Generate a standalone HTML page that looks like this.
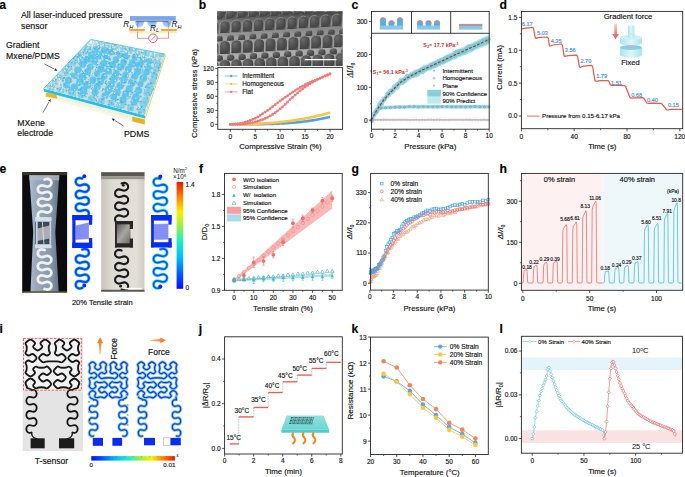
<!DOCTYPE html><html><head><meta charset="utf-8"><style>html,body{margin:0;padding:0;background:#fff;overflow:hidden}svg{display:block}text{font-family:"Liberation Sans",sans-serif;stroke-width:0.15px}</style></head><body>
<svg width="685" height="477" viewBox="0 0 685 477">
<rect width="685" height="477" fill="#fff"/>
<text x="-0.8" y="9" font-size="12.2" text-anchor="start" fill="#000" stroke="#000" font-weight="bold" >a</text>
<text x="198.8" y="9" font-size="12.2" text-anchor="start" fill="#000" stroke="#000" font-weight="bold" >b</text>
<text x="351.5" y="9.2" font-size="12.2" text-anchor="start" fill="#000" stroke="#000" font-weight="bold" >c</text>
<text x="499.6" y="9.2" font-size="12.2" text-anchor="start" fill="#000" stroke="#000" font-weight="bold" >d</text>
<text x="-0.6" y="173" font-size="12.2" text-anchor="start" fill="#000" stroke="#000" font-weight="bold" >e</text>
<text x="199.1" y="173" font-size="12.2" text-anchor="start" fill="#000" stroke="#000" font-weight="bold" >f</text>
<text x="351.5" y="172.6" font-size="12.2" text-anchor="start" fill="#000" stroke="#000" font-weight="bold" >g</text>
<text x="499.6" y="172.6" font-size="12.2" text-anchor="start" fill="#000" stroke="#000" font-weight="bold" >h</text>
<text x="-0.6" y="333" font-size="12.2" text-anchor="start" fill="#000" stroke="#000" font-weight="bold" >i</text>
<text x="198.8" y="333.2" font-size="12.2" text-anchor="start" fill="#000" stroke="#000" font-weight="bold" >j</text>
<text x="351.5" y="333.2" font-size="12.2" text-anchor="start" fill="#000" stroke="#000" font-weight="bold" >k</text>
<text x="499.6" y="333" font-size="12.2" text-anchor="start" fill="#000" stroke="#000" font-weight="bold" >l</text>
<defs><linearGradient id="semBg" x1="0" y1="0" x2="0" y2="1"><stop offset="0" stop-color="#404040"/><stop offset="0.2" stop-color="#7a7a7a"/><stop offset="0.55" stop-color="#a4a4a4"/><stop offset="1" stop-color="#b4b4b4"/></linearGradient><radialGradient id="domeG" cx="0.35" cy="0.3" r="0.8"><stop offset="0" stop-color="#6a6a6a"/><stop offset="0.5" stop-color="#505050"/><stop offset="0.85" stop-color="#444444"/><stop offset="1" stop-color="#5a5a5a"/></radialGradient><clipPath id="semClip"><rect x="217.2" y="11.4" width="125.4" height="54.5"/></clipPath></defs>
<rect x="217.2" y="11.4" width="125.4" height="54.5" fill="url(#semBg)"/>
<g clip-path="url(#semClip)">
<path d="M203.6,20.05 L203.6,15.23 A4.4,4.18 0 0 1 212.4,15.23 L212.4,20.05 Z" fill="url(#domeG)"/>
<path d="M203.6,19.05 L203.6,15.23 A4.4,4.18 0 0 1 210.64,12.1" fill="none" stroke="#b0b0b0" stroke-width="0.55"/>
<path d="M214.8,19.38 L214.8,14.56 A4.4,4.18 0 0 1 223.6,14.56 L223.6,19.38 Z" fill="url(#domeG)"/>
<path d="M214.8,18.38 L214.8,14.56 A4.4,4.18 0 0 1 221.84,11.42" fill="none" stroke="#b0b0b0" stroke-width="0.55"/>
<path d="M226,18.71 L226,13.89 A4.4,4.18 0 0 1 234.8,13.89 L234.8,18.71 Z" fill="url(#domeG)"/>
<path d="M226,17.71 L226,13.89 A4.4,4.18 0 0 1 233.04,10.75" fill="none" stroke="#b0b0b0" stroke-width="0.55"/>
<path d="M237.2,18.04 L237.2,13.22 A4.4,4.18 0 0 1 246,13.22 L246,18.04 Z" fill="url(#domeG)"/>
<path d="M237.2,17.04 L237.2,13.22 A4.4,4.18 0 0 1 244.24,10.08" fill="none" stroke="#b0b0b0" stroke-width="0.55"/>
<path d="M248.4,17.36 L248.4,12.54 A4.4,4.18 0 0 1 257.2,12.54 L257.2,17.36 Z" fill="url(#domeG)"/>
<path d="M248.4,16.36 L248.4,12.54 A4.4,4.18 0 0 1 255.44,9.41" fill="none" stroke="#b0b0b0" stroke-width="0.55"/>
<path d="M259.6,16.69 L259.6,11.87 A4.4,4.18 0 0 1 268.4,11.87 L268.4,16.69 Z" fill="url(#domeG)"/>
<path d="M259.6,15.69 L259.6,11.87 A4.4,4.18 0 0 1 266.64,8.74" fill="none" stroke="#b0b0b0" stroke-width="0.55"/>
<path d="M270.8,16.02 L270.8,11.2 A4.4,4.18 0 0 1 279.6,11.2 L279.6,16.02 Z" fill="url(#domeG)"/>
<path d="M270.8,15.02 L270.8,11.2 A4.4,4.18 0 0 1 277.84,8.07" fill="none" stroke="#b0b0b0" stroke-width="0.55"/>
<path d="M282,15.35 L282,10.53 A4.4,4.18 0 0 1 290.8,10.53 L290.8,15.35 Z" fill="url(#domeG)"/>
<path d="M282,14.35 L282,10.53 A4.4,4.18 0 0 1 289.04,7.39" fill="none" stroke="#b0b0b0" stroke-width="0.55"/>
<path d="M293.2,14.68 L293.2,9.86 A4.4,4.18 0 0 1 302,9.86 L302,14.68 Z" fill="url(#domeG)"/>
<path d="M293.2,13.68 L293.2,9.86 A4.4,4.18 0 0 1 300.24,6.72" fill="none" stroke="#b0b0b0" stroke-width="0.55"/>
<path d="M304.4,14 L304.4,9.18 A4.4,4.18 0 0 1 313.2,9.18 L313.2,14 Z" fill="url(#domeG)"/>
<path d="M304.4,13 L304.4,9.18 A4.4,4.18 0 0 1 311.44,6.05" fill="none" stroke="#b0b0b0" stroke-width="0.55"/>
<path d="M315.6,13.33 L315.6,8.51 A4.4,4.18 0 0 1 324.4,8.51 L324.4,13.33 Z" fill="url(#domeG)"/>
<path d="M315.6,12.33 L315.6,8.51 A4.4,4.18 0 0 1 322.64,5.38" fill="none" stroke="#b0b0b0" stroke-width="0.55"/>
<path d="M326.8,12.66 L326.8,7.84 A4.4,4.18 0 0 1 335.6,7.84 L335.6,12.66 Z" fill="url(#domeG)"/>
<path d="M326.8,11.66 L326.8,7.84 A4.4,4.18 0 0 1 333.84,4.71" fill="none" stroke="#b0b0b0" stroke-width="0.55"/>
<path d="M338,11.99 L338,7.17 A4.4,4.18 0 0 1 346.8,7.17 L346.8,11.99 Z" fill="url(#domeG)"/>
<path d="M338,10.99 L338,7.17 A4.4,4.18 0 0 1 345.04,4.03" fill="none" stroke="#b0b0b0" stroke-width="0.55"/>
<path d="M208.8,33.72 L208.8,25.78 A4.8,4.56 0 0 1 218.4,25.78 L218.4,33.72 Z" fill="url(#domeG)"/>
<path d="M208.8,32.72 L208.8,25.78 A4.8,4.56 0 0 1 216.48,22.36" fill="none" stroke="#b0b0b0" stroke-width="0.55"/>
<path d="M220,33.04 L220,25.1 A4.8,4.56 0 0 1 229.6,25.1 L229.6,33.04 Z" fill="url(#domeG)"/>
<path d="M220,32.04 L220,25.1 A4.8,4.56 0 0 1 227.68,21.68" fill="none" stroke="#b0b0b0" stroke-width="0.55"/>
<path d="M231.2,32.37 L231.2,24.43 A4.8,4.56 0 0 1 240.8,24.43 L240.8,32.37 Z" fill="url(#domeG)"/>
<path d="M231.2,31.37 L231.2,24.43 A4.8,4.56 0 0 1 238.88,21.01" fill="none" stroke="#b0b0b0" stroke-width="0.55"/>
<path d="M242.4,31.7 L242.4,23.76 A4.8,4.56 0 0 1 252,23.76 L252,31.7 Z" fill="url(#domeG)"/>
<path d="M242.4,30.7 L242.4,23.76 A4.8,4.56 0 0 1 250.08,20.34" fill="none" stroke="#b0b0b0" stroke-width="0.55"/>
<path d="M253.6,31.03 L253.6,23.09 A4.8,4.56 0 0 1 263.2,23.09 L263.2,31.03 Z" fill="url(#domeG)"/>
<path d="M253.6,30.03 L253.6,23.09 A4.8,4.56 0 0 1 261.28,19.67" fill="none" stroke="#b0b0b0" stroke-width="0.55"/>
<path d="M264.8,30.36 L264.8,22.42 A4.8,4.56 0 0 1 274.4,22.42 L274.4,30.36 Z" fill="url(#domeG)"/>
<path d="M264.8,29.36 L264.8,22.42 A4.8,4.56 0 0 1 272.48,19" fill="none" stroke="#b0b0b0" stroke-width="0.55"/>
<path d="M276,29.68 L276,21.74 A4.8,4.56 0 0 1 285.6,21.74 L285.6,29.68 Z" fill="url(#domeG)"/>
<path d="M276,28.68 L276,21.74 A4.8,4.56 0 0 1 283.68,18.32" fill="none" stroke="#b0b0b0" stroke-width="0.55"/>
<path d="M287.2,29.01 L287.2,21.07 A4.8,4.56 0 0 1 296.8,21.07 L296.8,29.01 Z" fill="url(#domeG)"/>
<path d="M287.2,28.01 L287.2,21.07 A4.8,4.56 0 0 1 294.88,17.65" fill="none" stroke="#b0b0b0" stroke-width="0.55"/>
<path d="M298.4,28.34 L298.4,20.4 A4.8,4.56 0 0 1 308,20.4 L308,28.34 Z" fill="url(#domeG)"/>
<path d="M298.4,27.34 L298.4,20.4 A4.8,4.56 0 0 1 306.08,16.98" fill="none" stroke="#b0b0b0" stroke-width="0.55"/>
<path d="M309.6,27.67 L309.6,19.73 A4.8,4.56 0 0 1 319.2,19.73 L319.2,27.67 Z" fill="url(#domeG)"/>
<path d="M309.6,26.67 L309.6,19.73 A4.8,4.56 0 0 1 317.28,16.31" fill="none" stroke="#b0b0b0" stroke-width="0.55"/>
<path d="M320.8,27 L320.8,19.06 A4.8,4.56 0 0 1 330.4,19.06 L330.4,27 Z" fill="url(#domeG)"/>
<path d="M320.8,26 L320.8,19.06 A4.8,4.56 0 0 1 328.48,15.64" fill="none" stroke="#b0b0b0" stroke-width="0.55"/>
<path d="M332,26.32 L332,18.38 A4.8,4.56 0 0 1 341.6,18.38 L341.6,26.32 Z" fill="url(#domeG)"/>
<path d="M332,25.32 L332,18.38 A4.8,4.56 0 0 1 339.68,14.96" fill="none" stroke="#b0b0b0" stroke-width="0.55"/>
<path d="M343.2,25.65 L343.2,17.71 A4.8,4.56 0 0 1 352.8,17.71 L352.8,25.65 Z" fill="url(#domeG)"/>
<path d="M343.2,24.65 L343.2,17.71 A4.8,4.56 0 0 1 350.88,14.29" fill="none" stroke="#b0b0b0" stroke-width="0.55"/>
<path d="M204.4,42.05 L204.4,39.47 A3.6,3.42 0 0 1 211.6,39.47 L211.6,42.05 Z" fill="url(#domeG)"/>
<path d="M204.4,41.05 L204.4,39.47 A3.6,3.42 0 0 1 210.16,36.91" fill="none" stroke="#b0b0b0" stroke-width="0.55"/>
<path d="M215.6,41.38 L215.6,38.8 A3.6,3.42 0 0 1 222.8,38.8 L222.8,41.38 Z" fill="url(#domeG)"/>
<path d="M215.6,40.38 L215.6,38.8 A3.6,3.42 0 0 1 221.36,36.23" fill="none" stroke="#b0b0b0" stroke-width="0.55"/>
<path d="M226.8,40.71 L226.8,38.13 A3.6,3.42 0 0 1 234,38.13 L234,40.71 Z" fill="url(#domeG)"/>
<path d="M226.8,39.71 L226.8,38.13 A3.6,3.42 0 0 1 232.56,35.56" fill="none" stroke="#b0b0b0" stroke-width="0.55"/>
<path d="M238,40.04 L238,37.46 A3.6,3.42 0 0 1 245.2,37.46 L245.2,40.04 Z" fill="url(#domeG)"/>
<path d="M238,39.04 L238,37.46 A3.6,3.42 0 0 1 243.76,34.89" fill="none" stroke="#b0b0b0" stroke-width="0.55"/>
<path d="M249.2,39.36 L249.2,36.78 A3.6,3.42 0 0 1 256.4,36.78 L256.4,39.36 Z" fill="url(#domeG)"/>
<path d="M249.2,38.36 L249.2,36.78 A3.6,3.42 0 0 1 254.96,34.22" fill="none" stroke="#b0b0b0" stroke-width="0.55"/>
<path d="M260.4,38.69 L260.4,36.11 A3.6,3.42 0 0 1 267.6,36.11 L267.6,38.69 Z" fill="url(#domeG)"/>
<path d="M260.4,37.69 L260.4,36.11 A3.6,3.42 0 0 1 266.16,33.55" fill="none" stroke="#b0b0b0" stroke-width="0.55"/>
<path d="M271.6,38.02 L271.6,35.44 A3.6,3.42 0 0 1 278.8,35.44 L278.8,38.02 Z" fill="url(#domeG)"/>
<path d="M271.6,37.02 L271.6,35.44 A3.6,3.42 0 0 1 277.36,32.88" fill="none" stroke="#b0b0b0" stroke-width="0.55"/>
<path d="M282.8,37.35 L282.8,34.77 A3.6,3.42 0 0 1 290,34.77 L290,37.35 Z" fill="url(#domeG)"/>
<path d="M282.8,36.35 L282.8,34.77 A3.6,3.42 0 0 1 288.56,32.2" fill="none" stroke="#b0b0b0" stroke-width="0.55"/>
<path d="M294,36.68 L294,34.1 A3.6,3.42 0 0 1 301.2,34.1 L301.2,36.68 Z" fill="url(#domeG)"/>
<path d="M294,35.68 L294,34.1 A3.6,3.42 0 0 1 299.76,31.53" fill="none" stroke="#b0b0b0" stroke-width="0.55"/>
<path d="M305.2,36 L305.2,33.42 A3.6,3.42 0 0 1 312.4,33.42 L312.4,36 Z" fill="url(#domeG)"/>
<path d="M305.2,35 L305.2,33.42 A3.6,3.42 0 0 1 310.96,30.86" fill="none" stroke="#b0b0b0" stroke-width="0.55"/>
<path d="M316.4,35.33 L316.4,32.75 A3.6,3.42 0 0 1 323.6,32.75 L323.6,35.33 Z" fill="url(#domeG)"/>
<path d="M316.4,34.33 L316.4,32.75 A3.6,3.42 0 0 1 322.16,30.19" fill="none" stroke="#b0b0b0" stroke-width="0.55"/>
<path d="M327.6,34.66 L327.6,32.08 A3.6,3.42 0 0 1 334.8,32.08 L334.8,34.66 Z" fill="url(#domeG)"/>
<path d="M327.6,33.66 L327.6,32.08 A3.6,3.42 0 0 1 333.36,29.52" fill="none" stroke="#b0b0b0" stroke-width="0.55"/>
<path d="M338.8,33.99 L338.8,31.41 A3.6,3.42 0 0 1 346,31.41 L346,33.99 Z" fill="url(#domeG)"/>
<path d="M338.8,32.99 L338.8,31.41 A3.6,3.42 0 0 1 344.56,28.84" fill="none" stroke="#b0b0b0" stroke-width="0.55"/>
<path d="M208.3,54.73 L208.3,46.07 A5.1,4.84 0 0 1 218.5,46.07 L218.5,54.73 Z" fill="url(#domeG)"/>
<path d="M208.3,53.73 L208.3,46.07 A5.1,4.84 0 0 1 216.46,42.44" fill="none" stroke="#b0b0b0" stroke-width="0.55"/>
<path d="M219.7,54.04 L219.7,45.39 A5.1,4.84 0 0 1 229.9,45.39 L229.9,54.04 Z" fill="url(#domeG)"/>
<path d="M219.7,53.04 L219.7,45.39 A5.1,4.84 0 0 1 227.86,41.76" fill="none" stroke="#b0b0b0" stroke-width="0.55"/>
<path d="M231.1,53.36 L231.1,44.7 A5.1,4.84 0 0 1 241.3,44.7 L241.3,53.36 Z" fill="url(#domeG)"/>
<path d="M231.1,52.36 L231.1,44.7 A5.1,4.84 0 0 1 239.26,41.07" fill="none" stroke="#b0b0b0" stroke-width="0.55"/>
<path d="M242.5,52.68 L242.5,44.02 A5.1,4.84 0 0 1 252.7,44.02 L252.7,52.68 Z" fill="url(#domeG)"/>
<path d="M242.5,51.68 L242.5,44.02 A5.1,4.84 0 0 1 250.66,40.39" fill="none" stroke="#b0b0b0" stroke-width="0.55"/>
<path d="M253.9,51.99 L253.9,43.34 A5.1,4.84 0 0 1 264.1,43.34 L264.1,51.99 Z" fill="url(#domeG)"/>
<path d="M253.9,50.99 L253.9,43.34 A5.1,4.84 0 0 1 262.06,39.7" fill="none" stroke="#b0b0b0" stroke-width="0.55"/>
<path d="M265.3,51.31 L265.3,42.65 A5.1,4.84 0 0 1 275.5,42.65 L275.5,51.31 Z" fill="url(#domeG)"/>
<path d="M265.3,50.31 L265.3,42.65 A5.1,4.84 0 0 1 273.46,39.02" fill="none" stroke="#b0b0b0" stroke-width="0.55"/>
<path d="M276.7,50.62 L276.7,41.97 A5.1,4.84 0 0 1 286.9,41.97 L286.9,50.62 Z" fill="url(#domeG)"/>
<path d="M276.7,49.62 L276.7,41.97 A5.1,4.84 0 0 1 284.86,38.34" fill="none" stroke="#b0b0b0" stroke-width="0.55"/>
<path d="M288.1,49.94 L288.1,41.29 A5.1,4.84 0 0 1 298.3,41.29 L298.3,49.94 Z" fill="url(#domeG)"/>
<path d="M288.1,48.94 L288.1,41.29 A5.1,4.84 0 0 1 296.26,37.65" fill="none" stroke="#b0b0b0" stroke-width="0.55"/>
<path d="M299.5,49.26 L299.5,40.6 A5.1,4.84 0 0 1 309.7,40.6 L309.7,49.26 Z" fill="url(#domeG)"/>
<path d="M299.5,48.26 L299.5,40.6 A5.1,4.84 0 0 1 307.66,36.97" fill="none" stroke="#b0b0b0" stroke-width="0.55"/>
<path d="M310.9,48.57 L310.9,39.92 A5.1,4.84 0 0 1 321.1,39.92 L321.1,48.57 Z" fill="url(#domeG)"/>
<path d="M310.9,47.57 L310.9,39.92 A5.1,4.84 0 0 1 319.06,36.28" fill="none" stroke="#b0b0b0" stroke-width="0.55"/>
<path d="M322.3,47.89 L322.3,39.23 A5.1,4.84 0 0 1 332.5,39.23 L332.5,47.89 Z" fill="url(#domeG)"/>
<path d="M322.3,46.89 L322.3,39.23 A5.1,4.84 0 0 1 330.46,35.6" fill="none" stroke="#b0b0b0" stroke-width="0.55"/>
<path d="M333.7,47.2 L333.7,38.55 A5.1,4.84 0 0 1 343.9,38.55 L343.9,47.2 Z" fill="url(#domeG)"/>
<path d="M333.7,46.2 L333.7,38.55 A5.1,4.84 0 0 1 341.86,34.92" fill="none" stroke="#b0b0b0" stroke-width="0.55"/>
<path d="M345.1,46.52 L345.1,37.87 A5.1,4.84 0 0 1 355.3,37.87 L355.3,46.52 Z" fill="url(#domeG)"/>
<path d="M345.1,45.52 L345.1,37.87 A5.1,4.84 0 0 1 353.26,34.23" fill="none" stroke="#b0b0b0" stroke-width="0.55"/>
<path d="M204,62.06 L204,59.17 A3.8,3.61 0 0 1 211.6,59.17 L211.6,62.06 Z" fill="url(#domeG)"/>
<path d="M204,61.06 L204,59.17 A3.8,3.61 0 0 1 210.08,56.47" fill="none" stroke="#b0b0b0" stroke-width="0.55"/>
<path d="M215.4,61.38 L215.4,58.49 A3.8,3.61 0 0 1 223,58.49 L223,61.38 Z" fill="url(#domeG)"/>
<path d="M215.4,60.38 L215.4,58.49 A3.8,3.61 0 0 1 221.48,55.78" fill="none" stroke="#b0b0b0" stroke-width="0.55"/>
<path d="M226.8,60.7 L226.8,57.81 A3.8,3.61 0 0 1 234.4,57.81 L234.4,60.7 Z" fill="url(#domeG)"/>
<path d="M226.8,59.7 L226.8,57.81 A3.8,3.61 0 0 1 232.88,55.1" fill="none" stroke="#b0b0b0" stroke-width="0.55"/>
<path d="M238.2,60.01 L238.2,57.12 A3.8,3.61 0 0 1 245.8,57.12 L245.8,60.01 Z" fill="url(#domeG)"/>
<path d="M238.2,59.01 L238.2,57.12 A3.8,3.61 0 0 1 244.28,54.41" fill="none" stroke="#b0b0b0" stroke-width="0.55"/>
<path d="M249.6,59.33 L249.6,56.44 A3.8,3.61 0 0 1 257.2,56.44 L257.2,59.33 Z" fill="url(#domeG)"/>
<path d="M249.6,58.33 L249.6,56.44 A3.8,3.61 0 0 1 255.68,53.73" fill="none" stroke="#b0b0b0" stroke-width="0.55"/>
<path d="M261,58.64 L261,55.75 A3.8,3.61 0 0 1 268.6,55.75 L268.6,58.64 Z" fill="url(#domeG)"/>
<path d="M261,57.64 L261,55.75 A3.8,3.61 0 0 1 267.08,53.05" fill="none" stroke="#b0b0b0" stroke-width="0.55"/>
<path d="M272.4,57.96 L272.4,55.07 A3.8,3.61 0 0 1 280,55.07 L280,57.96 Z" fill="url(#domeG)"/>
<path d="M272.4,56.96 L272.4,55.07 A3.8,3.61 0 0 1 278.48,52.36" fill="none" stroke="#b0b0b0" stroke-width="0.55"/>
<path d="M283.8,57.28 L283.8,54.39 A3.8,3.61 0 0 1 291.4,54.39 L291.4,57.28 Z" fill="url(#domeG)"/>
<path d="M283.8,56.28 L283.8,54.39 A3.8,3.61 0 0 1 289.88,51.68" fill="none" stroke="#b0b0b0" stroke-width="0.55"/>
<path d="M295.2,56.59 L295.2,53.7 A3.8,3.61 0 0 1 302.8,53.7 L302.8,56.59 Z" fill="url(#domeG)"/>
<path d="M295.2,55.59 L295.2,53.7 A3.8,3.61 0 0 1 301.28,50.99" fill="none" stroke="#b0b0b0" stroke-width="0.55"/>
<path d="M306.6,55.91 L306.6,53.02 A3.8,3.61 0 0 1 314.2,53.02 L314.2,55.91 Z" fill="url(#domeG)"/>
<path d="M306.6,54.91 L306.6,53.02 A3.8,3.61 0 0 1 312.68,50.31" fill="none" stroke="#b0b0b0" stroke-width="0.55"/>
<path d="M318,55.22 L318,52.33 A3.8,3.61 0 0 1 325.6,52.33 L325.6,55.22 Z" fill="url(#domeG)"/>
<path d="M318,54.22 L318,52.33 A3.8,3.61 0 0 1 324.08,49.63" fill="none" stroke="#b0b0b0" stroke-width="0.55"/>
<path d="M329.4,54.54 L329.4,51.65 A3.8,3.61 0 0 1 337,51.65 L337,54.54 Z" fill="url(#domeG)"/>
<path d="M329.4,53.54 L329.4,51.65 A3.8,3.61 0 0 1 335.48,48.94" fill="none" stroke="#b0b0b0" stroke-width="0.55"/>
<path d="M340.8,53.86 L340.8,50.97 A3.8,3.61 0 0 1 348.4,50.97 L348.4,53.86 Z" fill="url(#domeG)"/>
<path d="M340.8,52.86 L340.8,50.97 A3.8,3.61 0 0 1 346.88,48.26" fill="none" stroke="#b0b0b0" stroke-width="0.55"/>
<path d="M207.8,75.24 L207.8,65.37 A5.4,5.13 0 0 1 218.6,65.37 L218.6,75.24 Z" fill="url(#domeG)"/>
<path d="M207.8,74.24 L207.8,65.37 A5.4,5.13 0 0 1 216.44,61.52" fill="none" stroke="#b0b0b0" stroke-width="0.55"/>
<path d="M219.4,74.54 L219.4,64.67 A5.4,5.13 0 0 1 230.2,64.67 L230.2,74.54 Z" fill="url(#domeG)"/>
<path d="M219.4,73.54 L219.4,64.67 A5.4,5.13 0 0 1 228.04,60.83" fill="none" stroke="#b0b0b0" stroke-width="0.55"/>
<path d="M231,73.85 L231,63.98 A5.4,5.13 0 0 1 241.8,63.98 L241.8,73.85 Z" fill="url(#domeG)"/>
<path d="M231,72.85 L231,63.98 A5.4,5.13 0 0 1 239.64,60.13" fill="none" stroke="#b0b0b0" stroke-width="0.55"/>
<path d="M242.6,73.15 L242.6,63.28 A5.4,5.13 0 0 1 253.4,63.28 L253.4,73.15 Z" fill="url(#domeG)"/>
<path d="M242.6,72.15 L242.6,63.28 A5.4,5.13 0 0 1 251.24,59.43" fill="none" stroke="#b0b0b0" stroke-width="0.55"/>
<path d="M254.2,72.46 L254.2,62.59 A5.4,5.13 0 0 1 265,62.59 L265,72.46 Z" fill="url(#domeG)"/>
<path d="M254.2,71.46 L254.2,62.59 A5.4,5.13 0 0 1 262.84,58.74" fill="none" stroke="#b0b0b0" stroke-width="0.55"/>
<path d="M265.8,71.76 L265.8,61.89 A5.4,5.13 0 0 1 276.6,61.89 L276.6,71.76 Z" fill="url(#domeG)"/>
<path d="M265.8,70.76 L265.8,61.89 A5.4,5.13 0 0 1 274.44,58.04" fill="none" stroke="#b0b0b0" stroke-width="0.55"/>
<path d="M277.4,71.06 L277.4,61.19 A5.4,5.13 0 0 1 288.2,61.19 L288.2,71.06 Z" fill="url(#domeG)"/>
<path d="M277.4,70.06 L277.4,61.19 A5.4,5.13 0 0 1 286.04,57.35" fill="none" stroke="#b0b0b0" stroke-width="0.55"/>
<path d="M289,70.37 L289,60.5 A5.4,5.13 0 0 1 299.8,60.5 L299.8,70.37 Z" fill="url(#domeG)"/>
<path d="M289,69.37 L289,60.5 A5.4,5.13 0 0 1 297.64,56.65" fill="none" stroke="#b0b0b0" stroke-width="0.55"/>
<path d="M300.6,69.67 L300.6,59.8 A5.4,5.13 0 0 1 311.4,59.8 L311.4,69.67 Z" fill="url(#domeG)"/>
<path d="M300.6,68.67 L300.6,59.8 A5.4,5.13 0 0 1 309.24,55.95" fill="none" stroke="#b0b0b0" stroke-width="0.55"/>
<path d="M312.2,68.98 L312.2,59.11 A5.4,5.13 0 0 1 323,59.11 L323,68.98 Z" fill="url(#domeG)"/>
<path d="M312.2,67.98 L312.2,59.11 A5.4,5.13 0 0 1 320.84,55.26" fill="none" stroke="#b0b0b0" stroke-width="0.55"/>
<path d="M323.8,68.28 L323.8,58.41 A5.4,5.13 0 0 1 334.6,58.41 L334.6,68.28 Z" fill="url(#domeG)"/>
<path d="M323.8,67.28 L323.8,58.41 A5.4,5.13 0 0 1 332.44,54.56" fill="none" stroke="#b0b0b0" stroke-width="0.55"/>
<path d="M335.4,67.58 L335.4,57.71 A5.4,5.13 0 0 1 346.2,57.71 L346.2,67.58 Z" fill="url(#domeG)"/>
<path d="M335.4,66.58 L335.4,57.71 A5.4,5.13 0 0 1 344.04,53.87" fill="none" stroke="#b0b0b0" stroke-width="0.55"/>
</g>
<line x1="304.8" y1="59.6" x2="336.5" y2="59.6" stroke="#fff" stroke-width="1.3"/>
<polyline points="230.3,124.3 231.55,124.3 232.79,124.3 234.04,124.3 235.29,124.3 236.53,124.3 237.78,124.3 239.02,124.3 240.27,124.3 241.52,124.29 242.76,124.29 244.01,124.29 245.25,124.29 246.5,124.28 247.75,124.28 248.99,124.27 250.24,124.26 251.49,124.26 252.73,124.25 253.98,124.24 255.23,124.22 256.47,124.21 257.72,124.19 258.96,124.18 260.21,124.16 261.46,124.14 262.7,124.12 263.95,124.09 265.19,124.07 266.44,124.04 267.69,124.01 268.93,123.97 270.18,123.94 271.43,123.9 272.67,123.86 273.92,123.81 275.17,123.77 276.41,123.71 277.66,123.66 278.9,123.6 280.15,123.54 281.4,123.48 282.64,123.41 283.89,123.34 285.13,123.26 286.38,123.18 287.63,123.1 288.87,123.01 290.12,122.92 291.37,122.82 292.61,122.72 293.86,122.61 295.11,122.5 296.35,122.38 297.6,122.26 298.84,122.14 300.09,122 301.34,121.86 302.58,121.72 303.83,121.57 305.07,121.42 306.32,121.25 307.57,121.09 308.81,120.91 310.06,120.73 311.31,120.54 312.55,120.35 313.8,120.15 315.05,119.94 316.29,119.73 317.54,119.5 318.78,119.27 320.03,119.04 321.28,118.79 322.52,118.54 323.77,118.28 325.01,118.01 326.26,117.73 327.51,117.44 328.75,117.15 330,116.85" fill="none" stroke="#4fa3e0" stroke-width="2.6" stroke-linejoin="round" />
<polyline points="230.3,124.3 231.55,124.3 232.79,124.3 234.04,124.3 235.29,124.29 236.53,124.28 237.78,124.28 239.02,124.27 240.27,124.25 241.52,124.24 242.76,124.22 244.01,124.2 245.25,124.18 246.5,124.15 247.75,124.12 248.99,124.09 250.24,124.06 251.49,124.02 252.73,123.98 253.98,123.93 255.23,123.88 256.47,123.83 257.72,123.77 258.96,123.72 260.21,123.65 261.46,123.59 262.7,123.52 263.95,123.44 265.19,123.36 266.44,123.28 267.69,123.19 268.93,123.1 270.18,123.01 271.43,122.91 272.67,122.81 273.92,122.7 275.17,122.59 276.41,122.47 277.66,122.35 278.9,122.22 280.15,122.09 281.4,121.96 282.64,121.82 283.89,121.68 285.13,121.53 286.38,121.37 287.63,121.21 288.87,121.05 290.12,120.88 291.37,120.71 292.61,120.53 293.86,120.35 295.11,120.16 296.35,119.96 297.6,119.77 298.84,119.56 300.09,119.35 301.34,119.14 302.58,118.92 303.83,118.69 305.07,118.46 306.32,118.23 307.57,117.98 308.81,117.74 310.06,117.48 311.31,117.22 312.55,116.96 313.8,116.69 315.05,116.42 316.29,116.13 317.54,115.85 318.78,115.55 320.03,115.26 321.28,114.95 322.52,114.64 323.77,114.33 325.01,114 326.26,113.67 327.51,113.34 328.75,113 330,112.65" fill="none" stroke="#f8c544" stroke-width="2.6" stroke-linejoin="round" />
<polyline points="230.3,124.3 231.04,124.23 231.99,124.16 233.12,124.09 234.39,124 235.75,123.89 237.18,123.76 238.63,123.61 240.07,123.41 241.46,123.18 242.76,122.9 244.01,122.58 245.25,122.23 246.5,121.85 247.75,121.43 248.99,120.98 250.24,120.5 251.49,119.98 252.73,119.44 253.98,118.86 255.23,118.24 256.47,117.59 257.72,116.89 258.96,116.15 260.21,115.38 261.46,114.58 262.7,113.75 263.95,112.91 265.19,112.05 266.44,111.19 267.69,110.33 268.93,109.45 270.18,108.54 271.43,107.62 272.67,106.68 273.92,105.72 275.17,104.77 276.41,103.81 277.66,102.86 278.9,101.93 280.15,101.01 281.4,100.1 282.64,99.19 283.89,98.27 285.13,97.37 286.38,96.47 287.63,95.57 288.87,94.7 290.12,93.83 291.37,92.98 292.61,92.16 293.86,91.35 295.11,90.55 296.35,89.76 297.6,88.99 298.84,88.23 300.09,87.48 301.34,86.76 302.58,86.05 303.83,85.37 305.07,84.7 306.32,84.07 307.57,83.46 308.81,82.88 310.06,82.31 311.31,81.76 312.55,81.23 313.8,80.7 315.05,80.17 316.29,79.65 317.54,79.11 318.84,78.56 320.23,77.98 321.67,77.38 323.12,76.78 324.55,76.2 325.91,75.65 327.18,75.14 328.31,74.68 329.26,74.29 330,73.99" fill="none" stroke="#f27a7a" stroke-width="1.1" stroke-linejoin="round" />
<circle cx="230.3" cy="124.3" r="1.4" fill="#f27a7a"/>
<circle cx="232.79" cy="124.11" r="1.4" fill="#f27a7a"/>
<circle cx="235.29" cy="123.93" r="1.4" fill="#f27a7a"/>
<circle cx="237.78" cy="123.7" r="1.4" fill="#f27a7a"/>
<circle cx="240.27" cy="123.38" r="1.4" fill="#f27a7a"/>
<circle cx="242.76" cy="122.9" r="1.4" fill="#f27a7a"/>
<circle cx="245.25" cy="122.23" r="1.4" fill="#f27a7a"/>
<circle cx="247.75" cy="121.43" r="1.4" fill="#f27a7a"/>
<circle cx="250.24" cy="120.5" r="1.4" fill="#f27a7a"/>
<circle cx="252.73" cy="119.44" r="1.4" fill="#f27a7a"/>
<circle cx="255.23" cy="118.24" r="1.4" fill="#f27a7a"/>
<circle cx="257.72" cy="116.89" r="1.4" fill="#f27a7a"/>
<circle cx="260.21" cy="115.38" r="1.4" fill="#f27a7a"/>
<circle cx="262.7" cy="113.75" r="1.4" fill="#f27a7a"/>
<circle cx="265.19" cy="112.05" r="1.4" fill="#f27a7a"/>
<circle cx="267.69" cy="110.33" r="1.4" fill="#f27a7a"/>
<circle cx="270.18" cy="108.54" r="1.4" fill="#f27a7a"/>
<circle cx="272.67" cy="106.68" r="1.4" fill="#f27a7a"/>
<circle cx="275.17" cy="104.77" r="1.4" fill="#f27a7a"/>
<circle cx="277.66" cy="102.86" r="1.4" fill="#f27a7a"/>
<circle cx="280.15" cy="101.01" r="1.4" fill="#f27a7a"/>
<circle cx="282.64" cy="99.19" r="1.4" fill="#f27a7a"/>
<circle cx="285.13" cy="97.37" r="1.4" fill="#f27a7a"/>
<circle cx="287.63" cy="95.57" r="1.4" fill="#f27a7a"/>
<circle cx="290.12" cy="93.83" r="1.4" fill="#f27a7a"/>
<circle cx="292.61" cy="92.16" r="1.4" fill="#f27a7a"/>
<circle cx="295.11" cy="90.55" r="1.4" fill="#f27a7a"/>
<circle cx="297.6" cy="88.99" r="1.4" fill="#f27a7a"/>
<circle cx="300.09" cy="87.48" r="1.4" fill="#f27a7a"/>
<circle cx="302.58" cy="86.05" r="1.4" fill="#f27a7a"/>
<circle cx="305.07" cy="84.7" r="1.4" fill="#f27a7a"/>
<circle cx="307.57" cy="83.46" r="1.4" fill="#f27a7a"/>
<circle cx="310.06" cy="82.31" r="1.4" fill="#f27a7a"/>
<circle cx="312.55" cy="81.23" r="1.4" fill="#f27a7a"/>
<circle cx="315.05" cy="80.17" r="1.4" fill="#f27a7a"/>
<circle cx="317.54" cy="79.11" r="1.4" fill="#f27a7a"/>
<circle cx="320.03" cy="78.06" r="1.4" fill="#f27a7a"/>
<circle cx="322.52" cy="77.03" r="1.4" fill="#f27a7a"/>
<circle cx="325.01" cy="76.01" r="1.4" fill="#f27a7a"/>
<circle cx="327.51" cy="75" r="1.4" fill="#f27a7a"/>
<circle cx="330" cy="73.99" r="1.4" fill="#f27a7a"/>
<polyline points="230.3,124.3 231.04,124.29 231.99,124.3 233.12,124.31 234.39,124.31 235.75,124.31 237.18,124.31 238.63,124.28 240.07,124.24 241.46,124.17 242.76,124.07 244.01,123.94 245.25,123.81 246.5,123.66 247.75,123.49 248.99,123.3 250.24,123.08 251.49,122.85 252.73,122.58 253.98,122.29 255.23,121.97 256.47,121.63 257.72,121.26 258.96,120.88 260.21,120.47 261.46,120.03 262.7,119.57 263.95,119.06 265.19,118.52 266.44,117.94 267.69,117.31 268.93,116.64 270.18,115.93 271.43,115.17 272.67,114.38 273.92,113.56 275.17,112.7 276.41,111.8 277.66,110.87 278.9,109.91 280.15,108.93 281.4,107.89 282.64,106.78 283.89,105.63 285.13,104.44 286.38,103.22 287.63,102 288.87,100.78 290.12,99.57 291.37,98.4 292.61,97.28 293.86,96.19 295.11,95.1 296.35,94.02 297.6,92.95 298.84,91.9 300.09,90.86 301.34,89.86 302.58,88.88 303.83,87.94 305.07,87.03 306.32,86.17 307.57,85.33 308.81,84.53 310.06,83.76 311.31,83.02 312.55,82.29 313.8,81.59 315.05,80.91 316.29,80.24 317.54,79.58 318.84,78.92 320.23,78.25 321.67,77.59 323.12,76.94 324.55,76.32 325.91,75.73 327.18,75.2 328.31,74.72 329.26,74.31 330,73.99" fill="none" stroke="#f27a7a" stroke-width="1.1" stroke-linejoin="round" />
<circle cx="230.3" cy="124.3" r="1.4" fill="#f27a7a"/>
<circle cx="232.79" cy="124.3" r="1.4" fill="#f27a7a"/>
<circle cx="235.29" cy="124.31" r="1.4" fill="#f27a7a"/>
<circle cx="237.78" cy="124.3" r="1.4" fill="#f27a7a"/>
<circle cx="240.27" cy="124.23" r="1.4" fill="#f27a7a"/>
<circle cx="242.76" cy="124.07" r="1.4" fill="#f27a7a"/>
<circle cx="245.25" cy="123.81" r="1.4" fill="#f27a7a"/>
<circle cx="247.75" cy="123.49" r="1.4" fill="#f27a7a"/>
<circle cx="250.24" cy="123.08" r="1.4" fill="#f27a7a"/>
<circle cx="252.73" cy="122.58" r="1.4" fill="#f27a7a"/>
<circle cx="255.23" cy="121.97" r="1.4" fill="#f27a7a"/>
<circle cx="257.72" cy="121.26" r="1.4" fill="#f27a7a"/>
<circle cx="260.21" cy="120.47" r="1.4" fill="#f27a7a"/>
<circle cx="262.7" cy="119.57" r="1.4" fill="#f27a7a"/>
<circle cx="265.19" cy="118.52" r="1.4" fill="#f27a7a"/>
<circle cx="267.69" cy="117.31" r="1.4" fill="#f27a7a"/>
<circle cx="270.18" cy="115.93" r="1.4" fill="#f27a7a"/>
<circle cx="272.67" cy="114.38" r="1.4" fill="#f27a7a"/>
<circle cx="275.17" cy="112.7" r="1.4" fill="#f27a7a"/>
<circle cx="277.66" cy="110.87" r="1.4" fill="#f27a7a"/>
<circle cx="280.15" cy="108.93" r="1.4" fill="#f27a7a"/>
<circle cx="282.64" cy="106.78" r="1.4" fill="#f27a7a"/>
<circle cx="285.13" cy="104.44" r="1.4" fill="#f27a7a"/>
<circle cx="287.63" cy="102" r="1.4" fill="#f27a7a"/>
<circle cx="290.12" cy="99.57" r="1.4" fill="#f27a7a"/>
<circle cx="292.61" cy="97.28" r="1.4" fill="#f27a7a"/>
<circle cx="295.11" cy="95.1" r="1.4" fill="#f27a7a"/>
<circle cx="297.6" cy="92.95" r="1.4" fill="#f27a7a"/>
<circle cx="300.09" cy="90.86" r="1.4" fill="#f27a7a"/>
<circle cx="302.58" cy="88.88" r="1.4" fill="#f27a7a"/>
<circle cx="305.07" cy="87.03" r="1.4" fill="#f27a7a"/>
<circle cx="307.57" cy="85.33" r="1.4" fill="#f27a7a"/>
<circle cx="310.06" cy="83.76" r="1.4" fill="#f27a7a"/>
<circle cx="312.55" cy="82.29" r="1.4" fill="#f27a7a"/>
<circle cx="315.05" cy="80.91" r="1.4" fill="#f27a7a"/>
<circle cx="317.54" cy="79.58" r="1.4" fill="#f27a7a"/>
<circle cx="320.03" cy="78.35" r="1.4" fill="#f27a7a"/>
<circle cx="322.52" cy="77.21" r="1.4" fill="#f27a7a"/>
<circle cx="325.01" cy="76.12" r="1.4" fill="#f27a7a"/>
<circle cx="327.51" cy="75.06" r="1.4" fill="#f27a7a"/>
<circle cx="330" cy="73.99" r="1.4" fill="#f27a7a"/>
<line x1="224.8" y1="76" x2="237.6" y2="76" stroke="#4fa3e0" stroke-width="0.7"/>
<circle cx="231.2" cy="76" r="1.2" fill="#4fa3e0"/>
<text x="242.2" y="78.25" font-size="6.45" text-anchor="start" fill="#111" stroke="#111" font-weight="normal" >Intermittent</text>
<line x1="224.8" y1="83.95" x2="237.6" y2="83.95" stroke="#f8c544" stroke-width="0.7"/>
<circle cx="231.2" cy="83.95" r="1.2" fill="#f8c544"/>
<text x="242.2" y="86.2" font-size="6.45" text-anchor="start" fill="#111" stroke="#111" font-weight="normal" >Homogeneous</text>
<line x1="224.8" y1="91.9" x2="237.6" y2="91.9" stroke="#f27a7a" stroke-width="0.7"/>
<circle cx="231.2" cy="91.9" r="1.2" fill="#f27a7a"/>
<text x="242.2" y="94.15" font-size="6.45" text-anchor="start" fill="#111" stroke="#111" font-weight="normal" >Flat</text>
<rect x="217.8" y="67.6" width="124.8" height="61.7" fill="none" stroke="#262626" stroke-width="0.9"/>
<line x1="215.2" y1="124.3" x2="217.8" y2="124.3" stroke="#262626" stroke-width="0.8"/>
<text x="213.8" y="126.7" font-size="6.5" text-anchor="end" fill="#111" stroke="#111" font-weight="normal" >0</text>
<line x1="215.2" y1="110.33" x2="217.8" y2="110.33" stroke="#262626" stroke-width="0.8"/>
<text x="213.8" y="112.73" font-size="6.5" text-anchor="end" fill="#111" stroke="#111" font-weight="normal" >30</text>
<line x1="215.2" y1="96.35" x2="217.8" y2="96.35" stroke="#262626" stroke-width="0.8"/>
<text x="213.8" y="98.75" font-size="6.5" text-anchor="end" fill="#111" stroke="#111" font-weight="normal" >60</text>
<line x1="215.2" y1="82.38" x2="217.8" y2="82.38" stroke="#262626" stroke-width="0.8"/>
<text x="213.8" y="84.78" font-size="6.5" text-anchor="end" fill="#111" stroke="#111" font-weight="normal" >90</text>
<line x1="215.2" y1="68.4" x2="217.8" y2="68.4" stroke="#262626" stroke-width="0.8"/>
<text x="213.8" y="70.8" font-size="6.5" text-anchor="end" fill="#111" stroke="#111" font-weight="normal" >120</text>
<line x1="216.3" y1="117.31" x2="217.8" y2="117.31" stroke="#262626" stroke-width="0.7"/>
<line x1="216.3" y1="103.34" x2="217.8" y2="103.34" stroke="#262626" stroke-width="0.7"/>
<line x1="216.3" y1="89.36" x2="217.8" y2="89.36" stroke="#262626" stroke-width="0.7"/>
<line x1="216.3" y1="75.39" x2="217.8" y2="75.39" stroke="#262626" stroke-width="0.7"/>
<line x1="230.3" y1="129.3" x2="230.3" y2="131.9" stroke="#262626" stroke-width="0.8"/>
<text x="230.3" y="139.1" font-size="6.5" text-anchor="middle" fill="#111" stroke="#111" font-weight="normal" >0</text>
<line x1="255.23" y1="129.3" x2="255.23" y2="131.9" stroke="#262626" stroke-width="0.8"/>
<text x="255.23" y="139.1" font-size="6.5" text-anchor="middle" fill="#111" stroke="#111" font-weight="normal" >5</text>
<line x1="280.15" y1="129.3" x2="280.15" y2="131.9" stroke="#262626" stroke-width="0.8"/>
<text x="280.15" y="139.1" font-size="6.5" text-anchor="middle" fill="#111" stroke="#111" font-weight="normal" >10</text>
<line x1="305.07" y1="129.3" x2="305.07" y2="131.9" stroke="#262626" stroke-width="0.8"/>
<text x="305.07" y="139.1" font-size="6.5" text-anchor="middle" fill="#111" stroke="#111" font-weight="normal" >15</text>
<line x1="330" y1="129.3" x2="330" y2="131.9" stroke="#262626" stroke-width="0.8"/>
<text x="330" y="139.1" font-size="6.5" text-anchor="middle" fill="#111" stroke="#111" font-weight="normal" >20</text>
<line x1="242.76" y1="129.3" x2="242.76" y2="130.8" stroke="#262626" stroke-width="0.7"/>
<line x1="267.69" y1="129.3" x2="267.69" y2="130.8" stroke="#262626" stroke-width="0.7"/>
<line x1="292.61" y1="129.3" x2="292.61" y2="130.8" stroke="#262626" stroke-width="0.7"/>
<line x1="317.54" y1="129.3" x2="317.54" y2="130.8" stroke="#262626" stroke-width="0.7"/>
<text x="196.8" y="93.4" font-size="7.8" text-anchor="middle" fill="#111" stroke="#111" transform="rotate(-90 196.8 93.4)">Compressive stress (kPa)</text>
<text x="280.4" y="148.7" font-size="7.8" text-anchor="middle" fill="#111" stroke="#111" font-weight="normal" >Compressive Strain (%)</text>
<line x1="371.5" y1="33.3" x2="489.2" y2="33.3" stroke="#262626" stroke-width="0.9"/>
<line x1="411.5" y1="11.4" x2="411.5" y2="33.3" stroke="#262626" stroke-width="0.9"/>
<line x1="450.7" y1="11.4" x2="450.7" y2="33.3" stroke="#262626" stroke-width="0.9"/>
<path d="M380.1,27.5 L380.1,20.5 A2.9,2.9 0 0 1 385.9,20.5 L385.9,27.5 Z" fill="#5aaedc"/>
<path d="M380.1,20.5 A2.9,2.9 0 0 1 385.9,20.5" fill="none" stroke="#f08070" stroke-width="0.9"/>
<path d="M388.6,27.5 L388.6,23.5 A2.9,2.9 0 0 1 394.4,23.5 L394.4,27.5 Z" fill="#5aaedc"/>
<path d="M388.6,23.5 A2.9,2.9 0 0 1 394.4,23.5" fill="none" stroke="#f08070" stroke-width="0.9"/>
<path d="M397.1,27.5 L397.1,20.5 A2.9,2.9 0 0 1 402.9,20.5 L402.9,27.5 Z" fill="#5aaedc"/>
<path d="M397.1,20.5 A2.9,2.9 0 0 1 402.9,20.5" fill="none" stroke="#f08070" stroke-width="0.9"/>
<rect x="379.8" y="25.6" width="23.2" height="4.0" fill="#8cc6ea"/>
<path d="M417.1,27.5 L417.1,23.5 A2.9,2.9 0 0 1 422.9,23.5 L422.9,27.5 Z" fill="#5aaedc"/>
<path d="M417.1,23.5 A2.9,2.9 0 0 1 422.9,23.5" fill="none" stroke="#f08070" stroke-width="0.9"/>
<path d="M425.6,27.5 L425.6,23.5 A2.9,2.9 0 0 1 431.4,23.5 L431.4,27.5 Z" fill="#5aaedc"/>
<path d="M425.6,23.5 A2.9,2.9 0 0 1 431.4,23.5" fill="none" stroke="#f08070" stroke-width="0.9"/>
<path d="M434.1,27.5 L434.1,23.5 A2.9,2.9 0 0 1 439.9,23.5 L439.9,27.5 Z" fill="#5aaedc"/>
<path d="M434.1,23.5 A2.9,2.9 0 0 1 439.9,23.5" fill="none" stroke="#f08070" stroke-width="0.9"/>
<rect x="417.2" y="25.6" width="22.8" height="4.0" fill="#8cc6ea"/>
<rect x="459.0" y="25.6" width="23.3" height="4.0" fill="#8cc6ea"/>
<rect x="459.0" y="24.8" width="23.3" height="1.2" fill="#5aaedc"/>
<rect x="459.0" y="23.9" width="23.3" height="1.3" fill="#f07e70"/>
<polygon points="371.5,117.24 372.09,116.04 372.68,114.85 373.27,113.66 373.85,112.46 374.44,111.27 375.03,110.27 375.62,109.27 376.21,108.28 376.8,107.28 377.38,106.28 377.97,105.39 378.56,104.49 379.15,103.59 379.74,102.69 380.33,101.79 380.92,100.89 381.5,100 382.09,99.1 382.68,98.2 383.27,97.3 383.86,96.63 384.45,95.97 385.04,95.3 385.62,94.63 386.21,93.96 386.8,93.29 387.39,92.63 387.98,91.96 388.57,91.29 389.15,90.62 389.74,89.99 390.33,89.35 390.92,88.72 391.51,88.08 392.1,87.45 392.69,86.81 393.27,86.18 393.86,85.54 394.45,84.91 395.04,84.27 395.63,83.7 396.22,83.13 396.81,82.57 397.39,82 397.98,81.43 398.57,80.86 399.16,80.29 399.75,79.72 400.34,79.15 400.93,78.58 401.51,78.18 402.1,77.77 402.69,77.37 403.28,76.96 403.87,76.56 404.46,76.15 405.04,75.75 405.63,75.34 406.22,74.94 406.81,74.53 407.4,74.21 407.99,73.89 408.58,73.57 409.16,73.25 409.75,72.92 410.34,72.6 410.93,72.28 411.52,71.96 412.11,71.63 412.69,71.31 413.28,70.99 413.87,70.67 414.46,70.34 415.05,70.02 415.64,69.7 416.23,69.38 416.81,69.05 417.4,68.73 417.99,68.41 418.58,68.09 419.17,67.8 419.76,67.51 420.35,67.22 420.93,66.93 421.52,66.64 422.11,66.35 422.7,66.06 423.29,65.77 423.88,65.48 424.46,65.19 425.05,64.9 425.64,64.61 426.23,64.32 426.82,64.03 427.41,63.74 428,63.45 428.58,63.16 429.17,62.88 429.76,62.59 430.35,62.3 430.94,62.02 431.53,61.75 432.12,61.48 432.7,61.2 433.29,60.93 433.88,60.66 434.47,60.38 435.06,60.11 435.65,59.84 436.24,59.57 436.82,59.29 437.41,59.02 438,58.75 438.59,58.47 439.18,58.2 439.77,57.93 440.35,57.65 440.94,57.38 441.53,57.11 442.12,56.83 442.71,56.55 443.3,56.26 443.89,55.97 444.47,55.68 445.06,55.39 445.65,55.1 446.24,54.81 446.83,54.52 447.42,54.23 448,53.94 448.59,53.65 449.18,53.36 449.77,53.07 450.36,52.78 450.95,52.49 451.54,52.2 452.12,51.91 452.71,51.62 453.3,51.33 453.89,51.04 454.48,50.77 455.07,50.5 455.66,50.22 456.24,49.95 456.83,49.68 457.42,49.41 458.01,49.13 458.6,48.86 459.19,48.59 459.77,48.31 460.36,48.04 460.95,47.77 461.54,47.49 462.13,47.22 462.72,46.95 463.31,46.68 463.89,46.4 464.48,46.13 465.07,45.86 465.66,45.58 466.25,45.31 466.84,45.04 467.43,44.76 468.01,44.49 468.6,44.22 469.19,43.94 469.78,43.67 470.37,43.4 470.96,43.13 471.54,42.85 472.13,42.58 472.72,42.31 473.31,42.03 473.9,41.76 474.49,41.49 475.08,41.21 475.66,40.94 476.25,40.67 476.84,40.39 477.43,40.12 478.02,39.83 478.61,39.54 479.2,39.25 479.78,38.96 480.37,38.67 480.96,38.38 481.55,38.09 482.14,37.81 482.73,37.52 483.31,37.23 483.9,36.94 484.49,36.65 485.08,36.36 485.67,36.07 486.26,35.78 486.85,35.49 487.43,35.2 488.02,34.91 488.61,34.62 489.2,34.33 489.2,44.2 488.61,44.47 488.02,44.74 487.43,45.01 486.85,45.28 486.26,45.55 485.67,45.82 485.08,46.09 484.49,46.36 483.9,46.63 483.31,46.9 482.73,47.17 482.14,47.44 481.55,47.71 480.96,47.98 480.37,48.25 479.78,48.52 479.2,48.79 478.61,49.06 478.02,49.33 477.43,49.6 476.84,49.85 476.25,50.1 475.66,50.36 475.08,50.61 474.49,50.86 473.9,51.12 473.31,51.37 472.72,51.62 472.13,51.88 471.54,52.13 470.96,52.38 470.37,52.64 469.78,52.89 469.19,53.14 468.6,53.4 468.01,53.65 467.43,53.9 466.84,54.16 466.25,54.41 465.66,54.66 465.07,54.92 464.48,55.17 463.89,55.42 463.31,55.68 462.72,55.93 462.13,56.18 461.54,56.44 460.95,56.69 460.36,56.94 459.77,57.2 459.19,57.45 458.6,57.7 458.01,57.96 457.42,58.21 456.83,58.46 456.24,58.72 455.66,58.97 455.07,59.22 454.48,59.48 453.89,59.73 453.3,60 452.71,60.27 452.12,60.54 451.54,60.81 450.95,61.08 450.36,61.35 449.77,61.62 449.18,61.89 448.59,62.16 448,62.43 447.42,62.7 446.83,62.97 446.24,63.24 445.65,63.51 445.06,63.78 444.47,64.05 443.89,64.32 443.3,64.59 442.71,64.86 442.12,65.13 441.53,65.38 440.94,65.63 440.35,65.89 439.77,66.14 439.18,66.39 438.59,66.65 438,66.9 437.41,67.15 436.82,67.41 436.24,67.66 435.65,67.91 435.06,68.17 434.47,68.42 433.88,68.67 433.29,68.93 432.7,69.18 432.12,69.43 431.53,69.69 430.94,69.94 430.35,70.19 429.76,70.46 429.17,70.73 428.58,71 428,71.27 427.41,71.54 426.82,71.81 426.23,72.08 425.64,72.35 425.05,72.62 424.46,72.89 423.88,73.16 423.29,73.43 422.7,73.7 422.11,73.97 421.52,74.24 420.93,74.51 420.35,74.78 419.76,75.05 419.17,75.32 418.58,75.59 417.99,75.89 417.4,76.19 416.81,76.5 416.23,76.8 415.64,77.1 415.05,77.4 414.46,77.71 413.87,78.01 413.28,78.31 412.69,78.61 412.11,78.92 411.52,79.22 410.93,79.52 410.34,79.83 409.75,80.13 409.16,80.43 408.58,80.73 407.99,81.04 407.4,81.34 406.81,81.64 406.22,82.03 405.63,82.41 405.04,82.8 404.46,83.18 403.87,83.57 403.28,83.95 402.69,84.34 402.1,84.72 401.51,85.11 400.93,85.49 400.34,86.04 399.75,86.59 399.16,87.14 398.57,87.69 397.98,88.24 397.39,88.79 396.81,89.34 396.22,89.89 395.63,90.44 395.04,90.98 394.45,91.6 393.86,92.22 393.27,92.83 392.69,93.45 392.1,94.06 391.51,94.68 390.92,95.29 390.33,95.91 389.74,96.52 389.15,97.14 388.57,97.79 387.98,98.43 387.39,99.08 386.8,99.73 386.21,100.38 385.62,101.03 385.04,101.67 384.45,102.32 383.86,102.97 383.27,103.62 382.68,104.5 382.09,105.38 381.5,106.25 380.92,107.13 380.33,108.01 379.74,108.89 379.15,109.77 378.56,110.65 377.97,111.52 377.38,112.4 376.8,113.38 376.21,114.36 375.62,115.33 375.03,116.31 374.44,117.29 373.85,118.46 373.27,119.64 372.68,120.81 372.09,121.99 371.5,123.16" fill="#bfe8ec" opacity="1"/>
<polygon points="371.5,118.23 372.09,117.04 372.68,115.84 373.27,114.65 373.85,113.46 374.44,112.27 375.03,111.28 375.62,110.28 376.21,109.29 376.8,108.3 377.38,107.3 377.97,106.41 378.56,105.51 379.15,104.62 379.74,103.72 380.33,102.83 380.92,101.93 381.5,101.04 382.09,100.14 382.68,99.25 383.27,98.35 383.86,97.69 384.45,97.03 385.04,96.36 385.62,95.7 386.21,95.03 386.8,94.37 387.39,93.7 387.98,93.04 388.57,92.37 389.15,91.71 389.74,91.08 390.33,90.45 390.92,89.81 391.51,89.18 392.1,88.55 392.69,87.92 393.27,87.29 393.86,86.66 394.45,86.02 395.04,85.39 395.63,84.83 396.22,84.26 396.81,83.69 397.39,83.13 397.98,82.56 398.57,82 399.16,81.43 399.75,80.86 400.34,80.3 400.93,79.73 401.51,79.33 402.1,78.93 402.69,78.53 403.28,78.13 403.87,77.73 404.46,77.32 405.04,76.92 405.63,76.52 406.22,76.12 406.81,75.72 407.4,75.4 407.99,75.08 408.58,74.76 409.16,74.44 409.75,74.12 410.34,73.8 410.93,73.49 411.52,73.17 412.11,72.85 412.69,72.53 413.28,72.21 413.87,71.89 414.46,71.57 415.05,71.25 415.64,70.93 416.23,70.61 416.81,70.29 417.4,69.97 417.99,69.66 418.58,69.34 419.17,69.05 419.76,68.76 420.35,68.48 420.93,68.19 421.52,67.91 422.11,67.62 422.7,67.33 423.29,67.05 423.88,66.76 424.46,66.47 425.05,66.19 425.64,65.9 426.23,65.62 426.82,65.33 427.41,65.04 428,64.76 428.58,64.47 429.17,64.18 429.76,63.9 430.35,63.61 430.94,63.34 431.53,63.07 432.12,62.8 432.7,62.53 433.29,62.26 433.88,61.99 434.47,61.72 435.06,61.45 435.65,61.18 436.24,60.91 436.82,60.64 437.41,60.37 438,60.1 438.59,59.84 439.18,59.57 439.77,59.3 440.35,59.03 440.94,58.76 441.53,58.49 442.12,58.22 442.71,57.93 443.3,57.64 443.89,57.36 444.47,57.07 445.06,56.79 445.65,56.5 446.24,56.21 446.83,55.93 447.42,55.64 448,55.35 448.59,55.07 449.18,54.78 449.77,54.5 450.36,54.21 450.95,53.92 451.54,53.64 452.12,53.35 452.71,53.06 453.3,52.78 453.89,52.49 454.48,52.22 455.07,51.95 455.66,51.68 456.24,51.41 456.83,51.14 457.42,50.87 458.01,50.6 458.6,50.33 459.19,50.06 459.77,49.79 460.36,49.52 460.95,49.25 461.54,48.98 462.13,48.71 462.72,48.45 463.31,48.18 463.89,47.91 464.48,47.64 465.07,47.37 465.66,47.1 466.25,46.83 466.84,46.56 467.43,46.29 468.01,46.02 468.6,45.75 469.19,45.48 469.78,45.21 470.37,44.94 470.96,44.67 471.54,44.4 472.13,44.13 472.72,43.86 473.31,43.59 473.9,43.32 474.49,43.05 475.08,42.78 475.66,42.51 476.25,42.24 476.84,41.97 477.43,41.7 478.02,41.41 478.61,41.13 479.2,40.84 479.78,40.56 480.37,40.27 480.96,39.98 481.55,39.7 482.14,39.41 482.73,39.12 483.31,38.84 483.9,38.55 484.49,38.27 485.08,37.98 485.67,37.69 486.26,37.41 486.85,37.12 487.43,36.83 488.02,36.55 488.61,36.26 489.2,35.98 489.2,42.56 488.61,42.83 488.02,43.1 487.43,43.38 486.85,43.65 486.26,43.92 485.67,44.19 485.08,44.47 484.49,44.74 483.9,45.01 483.31,45.29 482.73,45.56 482.14,45.83 481.55,46.11 480.96,46.38 480.37,46.65 479.78,46.93 479.2,47.2 478.61,47.47 478.02,47.74 477.43,48.02 476.84,48.27 476.25,48.53 475.66,48.79 475.08,49.04 474.49,49.3 473.9,49.56 473.31,49.81 472.72,50.07 472.13,50.33 471.54,50.58 470.96,50.84 470.37,51.1 469.78,51.35 469.19,51.61 468.6,51.87 468.01,52.12 467.43,52.38 466.84,52.64 466.25,52.89 465.66,53.15 465.07,53.41 464.48,53.66 463.89,53.92 463.31,54.18 462.72,54.43 462.13,54.69 461.54,54.95 460.95,55.2 460.36,55.46 459.77,55.72 459.19,55.97 458.6,56.23 458.01,56.49 457.42,56.74 456.83,57 456.24,57.26 455.66,57.51 455.07,57.77 454.48,58.03 453.89,58.28 453.3,58.56 452.71,58.83 452.12,59.1 451.54,59.37 450.95,59.65 450.36,59.92 449.77,60.19 449.18,60.47 448.59,60.74 448,61.01 447.42,61.29 446.83,61.56 446.24,61.83 445.65,62.11 445.06,62.38 444.47,62.65 443.89,62.92 443.3,63.2 442.71,63.47 442.12,63.74 441.53,64 440.94,64.26 440.35,64.51 439.77,64.77 439.18,65.03 438.59,65.28 438,65.54 437.41,65.8 436.82,66.05 436.24,66.31 435.65,66.57 435.06,66.82 434.47,67.08 433.88,67.34 433.29,67.59 432.7,67.85 432.12,68.11 431.53,68.36 430.94,68.62 430.35,68.88 429.76,69.15 429.17,69.42 428.58,69.7 428,69.97 427.41,70.24 426.82,70.51 426.23,70.79 425.64,71.06 425.05,71.33 424.46,71.61 423.88,71.88 423.29,72.15 422.7,72.43 422.11,72.7 421.52,72.97 420.93,73.25 420.35,73.52 419.76,73.79 419.17,74.06 418.58,74.34 417.99,74.64 417.4,74.95 416.81,75.26 416.23,75.56 415.64,75.87 415.05,76.17 414.46,76.48 413.87,76.79 413.28,77.09 412.69,77.4 412.11,77.7 411.52,78.01 410.93,78.32 410.34,78.62 409.75,78.93 409.16,79.23 408.58,79.54 407.99,79.84 407.4,80.15 406.81,80.46 406.22,80.85 405.63,81.23 405.04,81.62 404.46,82.01 403.87,82.4 403.28,82.79 402.69,83.17 402.1,83.56 401.51,83.95 400.93,84.34 400.34,84.89 399.75,85.44 399.16,86 398.57,86.55 397.98,87.1 397.39,87.66 396.81,88.21 396.22,88.76 395.63,89.31 395.04,89.87 394.45,90.48 393.86,91.1 393.27,91.72 392.69,92.34 392.1,92.96 391.51,93.58 390.92,94.2 390.33,94.81 389.74,95.43 389.15,96.05 388.57,96.7 387.98,97.35 387.39,98.01 386.8,98.66 386.21,99.31 385.62,99.96 385.04,100.61 384.45,101.26 383.86,101.91 383.27,102.57 382.68,103.45 382.09,104.33 381.5,105.21 380.92,106.09 380.33,106.97 379.74,107.86 379.15,108.74 378.56,109.62 377.97,110.5 377.38,111.38 376.8,112.36 376.21,113.34 375.62,114.32 375.03,115.3 374.44,116.28 373.85,117.46 373.27,118.64 372.68,119.82 372.09,121 371.5,122.17" fill="#86d2d8" opacity="1"/>
<polygon points="371.5,118.23 372.09,117.24 372.68,116.25 373.27,115.27 373.85,114.28 374.44,113.29 375.03,112.44 375.62,111.58 376.21,110.72 376.8,109.87 377.38,109.01 377.97,108.49 378.56,107.96 379.15,107.43 379.74,106.91 380.33,106.38 380.92,106.25 381.5,106.12 382.09,105.99 382.68,105.86 383.27,105.72 383.86,105.69 384.45,105.66 385.04,105.63 385.62,105.59 386.21,105.56 386.8,105.53 387.39,105.49 387.98,105.46 388.57,105.43 389.15,105.4 389.74,105.36 390.33,105.33 390.92,105.3 391.51,105.26 392.1,105.23 392.69,105.2 393.27,105.16 393.86,105.13 394.45,105.1 395.04,105.07 395.63,105.06 396.22,105.05 396.81,105.04 397.39,105.03 397.98,105.02 398.57,105.02 399.16,105.01 399.75,105 400.34,104.99 400.93,104.98 401.51,104.98 402.1,104.97 402.69,104.96 403.28,104.95 403.87,104.94 404.46,104.93 405.04,104.93 405.63,104.92 406.22,104.91 406.81,104.9 407.4,104.89 407.99,104.89 408.58,104.88 409.16,104.87 409.75,104.86 410.34,104.85 410.93,104.84 411.52,104.84 412.11,104.83 412.69,104.82 413.28,104.81 413.87,104.8 414.46,104.79 415.05,104.79 415.64,104.78 416.23,104.77 416.81,104.76 417.4,104.75 417.99,104.75 418.58,104.74 419.17,104.74 419.76,104.74 420.35,104.74 420.93,104.74 421.52,104.74 422.11,104.74 422.7,104.74 423.29,104.74 423.88,104.74 424.46,104.74 425.05,104.74 425.64,104.74 426.23,104.74 426.82,104.74 427.41,104.74 428,104.74 428.58,104.74 429.17,104.74 429.76,104.74 430.35,104.74 430.94,104.74 431.53,104.74 432.12,104.74 432.7,104.74 433.29,104.74 433.88,104.74 434.47,104.74 435.06,104.74 435.65,104.74 436.24,104.74 436.82,104.74 437.41,104.74 438,104.74 438.59,104.74 439.18,104.74 439.77,104.74 440.35,104.74 440.94,104.74 441.53,104.74 442.12,104.74 442.71,104.74 443.3,104.74 443.89,104.74 444.47,104.74 445.06,104.74 445.65,104.74 446.24,104.74 446.83,104.74 447.42,104.74 448,104.74 448.59,104.74 449.18,104.74 449.77,104.74 450.36,104.74 450.95,104.74 451.54,104.74 452.12,104.74 452.71,104.74 453.3,104.74 453.89,104.74 454.48,104.74 455.07,104.74 455.66,104.74 456.24,104.74 456.83,104.74 457.42,104.74 458.01,104.74 458.6,104.74 459.19,104.74 459.77,104.74 460.36,104.74 460.95,104.74 461.54,104.74 462.13,104.74 462.72,104.74 463.31,104.74 463.89,104.74 464.48,104.74 465.07,104.74 465.66,104.74 466.25,104.74 466.84,104.74 467.43,104.74 468.01,104.74 468.6,104.74 469.19,104.74 469.78,104.74 470.37,104.74 470.96,104.74 471.54,104.74 472.13,104.74 472.72,104.74 473.31,104.74 473.9,104.74 474.49,104.74 475.08,104.74 475.66,104.74 476.25,104.74 476.84,104.74 477.43,104.74 478.02,104.74 478.61,104.74 479.2,104.74 479.78,104.74 480.37,104.74 480.96,104.74 481.55,104.74 482.14,104.74 482.73,104.74 483.31,104.74 483.9,104.74 484.49,104.74 485.08,104.74 485.67,104.74 486.26,104.74 486.85,104.74 487.43,104.74 488.02,104.74 488.61,104.74 489.2,104.74 489.2,108.69 488.61,108.69 488.02,108.69 487.43,108.69 486.85,108.69 486.26,108.69 485.67,108.69 485.08,108.69 484.49,108.69 483.9,108.69 483.31,108.69 482.73,108.69 482.14,108.69 481.55,108.69 480.96,108.69 480.37,108.69 479.78,108.69 479.2,108.69 478.61,108.69 478.02,108.69 477.43,108.69 476.84,108.69 476.25,108.69 475.66,108.69 475.08,108.69 474.49,108.69 473.9,108.69 473.31,108.69 472.72,108.69 472.13,108.69 471.54,108.69 470.96,108.69 470.37,108.69 469.78,108.69 469.19,108.69 468.6,108.69 468.01,108.69 467.43,108.69 466.84,108.69 466.25,108.69 465.66,108.69 465.07,108.69 464.48,108.69 463.89,108.69 463.31,108.69 462.72,108.69 462.13,108.69 461.54,108.69 460.95,108.69 460.36,108.69 459.77,108.69 459.19,108.69 458.6,108.69 458.01,108.69 457.42,108.69 456.83,108.69 456.24,108.69 455.66,108.69 455.07,108.69 454.48,108.69 453.89,108.69 453.3,108.69 452.71,108.69 452.12,108.69 451.54,108.69 450.95,108.69 450.36,108.69 449.77,108.69 449.18,108.69 448.59,108.69 448,108.69 447.42,108.69 446.83,108.69 446.24,108.69 445.65,108.69 445.06,108.69 444.47,108.69 443.89,108.69 443.3,108.69 442.71,108.69 442.12,108.69 441.53,108.69 440.94,108.69 440.35,108.69 439.77,108.69 439.18,108.69 438.59,108.69 438,108.69 437.41,108.69 436.82,108.69 436.24,108.69 435.65,108.69 435.06,108.69 434.47,108.69 433.88,108.69 433.29,108.69 432.7,108.69 432.12,108.69 431.53,108.69 430.94,108.69 430.35,108.69 429.76,108.69 429.17,108.69 428.58,108.69 428,108.69 427.41,108.69 426.82,108.69 426.23,108.69 425.64,108.69 425.05,108.69 424.46,108.69 423.88,108.69 423.29,108.69 422.7,108.69 422.11,108.69 421.52,108.69 420.93,108.69 420.35,108.69 419.76,108.69 419.17,108.69 418.58,108.69 417.99,108.69 417.4,108.7 416.81,108.71 416.23,108.72 415.64,108.73 415.05,108.73 414.46,108.74 413.87,108.75 413.28,108.76 412.69,108.77 412.11,108.78 411.52,108.78 410.93,108.79 410.34,108.8 409.75,108.81 409.16,108.82 408.58,108.82 407.99,108.83 407.4,108.84 406.81,108.85 406.22,108.86 405.63,108.87 405.04,108.87 404.46,108.88 403.87,108.89 403.28,108.9 402.69,108.91 402.1,108.92 401.51,108.92 400.93,108.93 400.34,108.94 399.75,108.95 399.16,108.96 398.57,108.96 397.98,108.97 397.39,108.98 396.81,108.99 396.22,109 395.63,109.01 395.04,109.01 394.45,109.05 393.86,109.08 393.27,109.11 392.69,109.15 392.1,109.18 391.51,109.21 390.92,109.24 390.33,109.28 389.74,109.31 389.15,109.34 388.57,109.38 387.98,109.41 387.39,109.44 386.8,109.47 386.21,109.51 385.62,109.54 385.04,109.57 384.45,109.61 383.86,109.64 383.27,109.67 382.68,109.8 382.09,109.94 381.5,110.07 380.92,110.2 380.33,110.33 379.74,110.86 379.15,111.38 378.56,111.91 377.97,112.44 377.38,112.96 376.8,113.82 376.21,114.67 375.62,115.53 375.03,116.38 374.44,117.24 373.85,118.23 373.27,119.21 372.68,120.2 372.09,121.19 371.5,122.17" fill="#bfe8ec" opacity="1"/>
<polygon points="371.5,119.05 372.09,118.06 372.68,117.07 373.27,116.09 373.85,115.1 374.44,114.11 375.03,113.26 375.62,112.4 376.21,111.55 376.8,110.69 377.38,109.84 377.97,109.31 378.56,108.78 379.15,108.26 379.74,107.73 380.33,107.2 380.92,107.07 381.5,106.94 382.09,106.81 382.68,106.68 383.27,106.55 383.86,106.51 384.45,106.48 385.04,106.45 385.62,106.41 386.21,106.38 386.8,106.35 387.39,106.32 387.98,106.28 388.57,106.25 389.15,106.22 389.74,106.18 390.33,106.15 390.92,106.12 391.51,106.09 392.1,106.05 392.69,106.02 393.27,105.99 393.86,105.95 394.45,105.92 395.04,105.89 395.63,105.88 396.22,105.87 396.81,105.86 397.39,105.86 397.98,105.85 398.57,105.84 399.16,105.83 399.75,105.82 400.34,105.81 400.93,105.81 401.51,105.8 402.1,105.79 402.69,105.78 403.28,105.77 403.87,105.77 404.46,105.76 405.04,105.75 405.63,105.74 406.22,105.73 406.81,105.72 407.4,105.72 407.99,105.71 408.58,105.7 409.16,105.69 409.75,105.68 410.34,105.67 410.93,105.67 411.52,105.66 412.11,105.65 412.69,105.64 413.28,105.63 413.87,105.63 414.46,105.62 415.05,105.61 415.64,105.6 416.23,105.59 416.81,105.58 417.4,105.58 417.99,105.57 418.58,105.56 419.17,105.56 419.76,105.56 420.35,105.56 420.93,105.56 421.52,105.56 422.11,105.56 422.7,105.56 423.29,105.56 423.88,105.56 424.46,105.56 425.05,105.56 425.64,105.56 426.23,105.56 426.82,105.56 427.41,105.56 428,105.56 428.58,105.56 429.17,105.56 429.76,105.56 430.35,105.56 430.94,105.56 431.53,105.56 432.12,105.56 432.7,105.56 433.29,105.56 433.88,105.56 434.47,105.56 435.06,105.56 435.65,105.56 436.24,105.56 436.82,105.56 437.41,105.56 438,105.56 438.59,105.56 439.18,105.56 439.77,105.56 440.35,105.56 440.94,105.56 441.53,105.56 442.12,105.56 442.71,105.56 443.3,105.56 443.89,105.56 444.47,105.56 445.06,105.56 445.65,105.56 446.24,105.56 446.83,105.56 447.42,105.56 448,105.56 448.59,105.56 449.18,105.56 449.77,105.56 450.36,105.56 450.95,105.56 451.54,105.56 452.12,105.56 452.71,105.56 453.3,105.56 453.89,105.56 454.48,105.56 455.07,105.56 455.66,105.56 456.24,105.56 456.83,105.56 457.42,105.56 458.01,105.56 458.6,105.56 459.19,105.56 459.77,105.56 460.36,105.56 460.95,105.56 461.54,105.56 462.13,105.56 462.72,105.56 463.31,105.56 463.89,105.56 464.48,105.56 465.07,105.56 465.66,105.56 466.25,105.56 466.84,105.56 467.43,105.56 468.01,105.56 468.6,105.56 469.19,105.56 469.78,105.56 470.37,105.56 470.96,105.56 471.54,105.56 472.13,105.56 472.72,105.56 473.31,105.56 473.9,105.56 474.49,105.56 475.08,105.56 475.66,105.56 476.25,105.56 476.84,105.56 477.43,105.56 478.02,105.56 478.61,105.56 479.2,105.56 479.78,105.56 480.37,105.56 480.96,105.56 481.55,105.56 482.14,105.56 482.73,105.56 483.31,105.56 483.9,105.56 484.49,105.56 485.08,105.56 485.67,105.56 486.26,105.56 486.85,105.56 487.43,105.56 488.02,105.56 488.61,105.56 489.2,105.56 489.2,107.86 488.61,107.86 488.02,107.86 487.43,107.86 486.85,107.86 486.26,107.86 485.67,107.86 485.08,107.86 484.49,107.86 483.9,107.86 483.31,107.86 482.73,107.86 482.14,107.86 481.55,107.86 480.96,107.86 480.37,107.86 479.78,107.86 479.2,107.86 478.61,107.86 478.02,107.86 477.43,107.86 476.84,107.86 476.25,107.86 475.66,107.86 475.08,107.86 474.49,107.86 473.9,107.86 473.31,107.86 472.72,107.86 472.13,107.86 471.54,107.86 470.96,107.86 470.37,107.86 469.78,107.86 469.19,107.86 468.6,107.86 468.01,107.86 467.43,107.86 466.84,107.86 466.25,107.86 465.66,107.86 465.07,107.86 464.48,107.86 463.89,107.86 463.31,107.86 462.72,107.86 462.13,107.86 461.54,107.86 460.95,107.86 460.36,107.86 459.77,107.86 459.19,107.86 458.6,107.86 458.01,107.86 457.42,107.86 456.83,107.86 456.24,107.86 455.66,107.86 455.07,107.86 454.48,107.86 453.89,107.86 453.3,107.86 452.71,107.86 452.12,107.86 451.54,107.86 450.95,107.86 450.36,107.86 449.77,107.86 449.18,107.86 448.59,107.86 448,107.86 447.42,107.86 446.83,107.86 446.24,107.86 445.65,107.86 445.06,107.86 444.47,107.86 443.89,107.86 443.3,107.86 442.71,107.86 442.12,107.86 441.53,107.86 440.94,107.86 440.35,107.86 439.77,107.86 439.18,107.86 438.59,107.86 438,107.86 437.41,107.86 436.82,107.86 436.24,107.86 435.65,107.86 435.06,107.86 434.47,107.86 433.88,107.86 433.29,107.86 432.7,107.86 432.12,107.86 431.53,107.86 430.94,107.86 430.35,107.86 429.76,107.86 429.17,107.86 428.58,107.86 428,107.86 427.41,107.86 426.82,107.86 426.23,107.86 425.64,107.86 425.05,107.86 424.46,107.86 423.88,107.86 423.29,107.86 422.7,107.86 422.11,107.86 421.52,107.86 420.93,107.86 420.35,107.86 419.76,107.86 419.17,107.86 418.58,107.86 417.99,107.87 417.4,107.88 416.81,107.89 416.23,107.9 415.64,107.9 415.05,107.91 414.46,107.92 413.87,107.93 413.28,107.94 412.69,107.94 412.11,107.95 411.52,107.96 410.93,107.97 410.34,107.98 409.75,107.99 409.16,107.99 408.58,108 407.99,108.01 407.4,108.02 406.81,108.03 406.22,108.04 405.63,108.04 405.04,108.05 404.46,108.06 403.87,108.07 403.28,108.08 402.69,108.08 402.1,108.09 401.51,108.1 400.93,108.11 400.34,108.12 399.75,108.13 399.16,108.13 398.57,108.14 397.98,108.15 397.39,108.16 396.81,108.17 396.22,108.18 395.63,108.18 395.04,108.19 394.45,108.22 393.86,108.26 393.27,108.29 392.69,108.32 392.1,108.36 391.51,108.39 390.92,108.42 390.33,108.45 389.74,108.49 389.15,108.52 388.57,108.55 387.98,108.59 387.39,108.62 386.8,108.65 386.21,108.69 385.62,108.72 385.04,108.75 384.45,108.78 383.86,108.82 383.27,108.85 382.68,108.98 382.09,109.11 381.5,109.24 380.92,109.38 380.33,109.51 379.74,110.03 379.15,110.56 378.56,111.09 377.97,111.61 377.38,112.14 376.8,112.99 376.21,113.85 375.62,114.71 375.03,115.56 374.44,116.42 373.85,117.4 373.27,118.39 372.68,119.38 372.09,120.36 371.5,121.35" fill="#86d2d8" opacity="1"/>
<polygon points="371.5,119.05 372.09,119.05 372.68,119.05 373.27,119.05 373.85,119.05 374.44,119.05 375.03,119.05 375.62,119.05 376.21,119.05 376.8,119.05 377.38,119.05 377.97,119.05 378.56,119.05 379.15,119.05 379.74,119.05 380.33,119.05 380.92,119.05 381.5,119.05 382.09,119.05 382.68,119.05 383.27,119.05 383.86,119.05 384.45,119.05 385.04,119.05 385.62,119.05 386.21,119.05 386.8,119.05 387.39,119.05 387.98,119.05 388.57,119.05 389.15,119.05 389.74,119.05 390.33,119.05 390.92,119.05 391.51,119.05 392.1,119.05 392.69,119.05 393.27,119.05 393.86,119.05 394.45,119.05 395.04,119.05 395.63,119.05 396.22,119.05 396.81,119.05 397.39,119.05 397.98,119.05 398.57,119.05 399.16,119.05 399.75,119.05 400.34,119.05 400.93,119.05 401.51,119.05 402.1,119.05 402.69,119.05 403.28,119.05 403.87,119.05 404.46,119.05 405.04,119.05 405.63,119.05 406.22,119.05 406.81,119.05 407.4,119.05 407.99,119.05 408.58,119.05 409.16,119.05 409.75,119.05 410.34,119.05 410.93,119.05 411.52,119.05 412.11,119.05 412.69,119.05 413.28,119.05 413.87,119.05 414.46,119.05 415.05,119.05 415.64,119.05 416.23,119.05 416.81,119.05 417.4,119.05 417.99,119.05 418.58,119.05 419.17,119.05 419.76,119.05 420.35,119.05 420.93,119.05 421.52,119.05 422.11,119.05 422.7,119.05 423.29,119.05 423.88,119.05 424.46,119.05 425.05,119.05 425.64,119.05 426.23,119.05 426.82,119.05 427.41,119.05 428,119.05 428.58,119.05 429.17,119.05 429.76,119.05 430.35,119.05 430.94,119.05 431.53,119.05 432.12,119.05 432.7,119.05 433.29,119.05 433.88,119.05 434.47,119.05 435.06,119.05 435.65,119.05 436.24,119.05 436.82,119.05 437.41,119.05 438,119.05 438.59,119.05 439.18,119.05 439.77,119.05 440.35,119.05 440.94,119.05 441.53,119.05 442.12,119.05 442.71,119.05 443.3,119.05 443.89,119.05 444.47,119.05 445.06,119.05 445.65,119.05 446.24,119.05 446.83,119.05 447.42,119.05 448,119.05 448.59,119.05 449.18,119.05 449.77,119.05 450.36,119.05 450.95,119.05 451.54,119.05 452.12,119.05 452.71,119.05 453.3,119.05 453.89,119.05 454.48,119.05 455.07,119.05 455.66,119.05 456.24,119.05 456.83,119.05 457.42,119.05 458.01,119.05 458.6,119.05 459.19,119.05 459.77,119.05 460.36,119.05 460.95,119.05 461.54,119.05 462.13,119.05 462.72,119.05 463.31,119.05 463.89,119.05 464.48,119.05 465.07,119.05 465.66,119.05 466.25,119.05 466.84,119.05 467.43,119.05 468.01,119.05 468.6,119.05 469.19,119.05 469.78,119.05 470.37,119.05 470.96,119.05 471.54,119.05 472.13,119.05 472.72,119.05 473.31,119.05 473.9,119.05 474.49,119.05 475.08,119.05 475.66,119.05 476.25,119.05 476.84,119.05 477.43,119.05 478.02,119.05 478.61,119.05 479.2,119.05 479.78,119.05 480.37,119.05 480.96,119.05 481.55,119.05 482.14,119.05 482.73,119.05 483.31,119.05 483.9,119.05 484.49,119.05 485.08,119.05 485.67,119.05 486.26,119.05 486.85,119.05 487.43,119.05 488.02,119.05 488.61,119.05 489.2,119.05 489.2,120.69 488.61,120.69 488.02,120.69 487.43,120.69 486.85,120.69 486.26,120.69 485.67,120.69 485.08,120.69 484.49,120.69 483.9,120.69 483.31,120.69 482.73,120.69 482.14,120.69 481.55,120.69 480.96,120.69 480.37,120.69 479.78,120.69 479.2,120.69 478.61,120.69 478.02,120.69 477.43,120.69 476.84,120.69 476.25,120.69 475.66,120.69 475.08,120.69 474.49,120.69 473.9,120.69 473.31,120.69 472.72,120.69 472.13,120.69 471.54,120.69 470.96,120.69 470.37,120.69 469.78,120.69 469.19,120.69 468.6,120.69 468.01,120.69 467.43,120.69 466.84,120.69 466.25,120.69 465.66,120.69 465.07,120.69 464.48,120.69 463.89,120.69 463.31,120.69 462.72,120.69 462.13,120.69 461.54,120.69 460.95,120.69 460.36,120.69 459.77,120.69 459.19,120.69 458.6,120.69 458.01,120.69 457.42,120.69 456.83,120.69 456.24,120.69 455.66,120.69 455.07,120.69 454.48,120.69 453.89,120.69 453.3,120.69 452.71,120.69 452.12,120.69 451.54,120.69 450.95,120.69 450.36,120.69 449.77,120.69 449.18,120.69 448.59,120.69 448,120.69 447.42,120.69 446.83,120.69 446.24,120.69 445.65,120.69 445.06,120.69 444.47,120.69 443.89,120.69 443.3,120.69 442.71,120.69 442.12,120.69 441.53,120.69 440.94,120.69 440.35,120.69 439.77,120.69 439.18,120.69 438.59,120.69 438,120.69 437.41,120.69 436.82,120.69 436.24,120.69 435.65,120.69 435.06,120.69 434.47,120.69 433.88,120.69 433.29,120.69 432.7,120.69 432.12,120.69 431.53,120.69 430.94,120.69 430.35,120.69 429.76,120.69 429.17,120.69 428.58,120.69 428,120.69 427.41,120.69 426.82,120.69 426.23,120.69 425.64,120.69 425.05,120.69 424.46,120.69 423.88,120.69 423.29,120.69 422.7,120.69 422.11,120.69 421.52,120.69 420.93,120.69 420.35,120.69 419.76,120.69 419.17,120.69 418.58,120.69 417.99,120.69 417.4,120.69 416.81,120.69 416.23,120.69 415.64,120.69 415.05,120.69 414.46,120.69 413.87,120.69 413.28,120.69 412.69,120.69 412.11,120.69 411.52,120.69 410.93,120.69 410.34,120.69 409.75,120.69 409.16,120.69 408.58,120.69 407.99,120.69 407.4,120.69 406.81,120.69 406.22,120.69 405.63,120.69 405.04,120.69 404.46,120.69 403.87,120.69 403.28,120.69 402.69,120.69 402.1,120.69 401.51,120.69 400.93,120.69 400.34,120.69 399.75,120.69 399.16,120.69 398.57,120.69 397.98,120.69 397.39,120.69 396.81,120.69 396.22,120.69 395.63,120.69 395.04,120.69 394.45,120.69 393.86,120.69 393.27,120.69 392.69,120.69 392.1,120.69 391.51,120.69 390.92,120.69 390.33,120.69 389.74,120.69 389.15,120.69 388.57,120.69 387.98,120.69 387.39,120.69 386.8,120.69 386.21,120.69 385.62,120.69 385.04,120.69 384.45,120.69 383.86,120.69 383.27,120.69 382.68,120.69 382.09,120.69 381.5,120.69 380.92,120.69 380.33,120.69 379.74,120.69 379.15,120.69 378.56,120.69 377.97,120.69 377.38,120.69 376.8,120.69 376.21,120.69 375.62,120.69 375.03,120.69 374.44,120.69 373.85,120.69 373.27,120.69 372.68,120.69 372.09,120.69 371.5,120.69" fill="#bfe8ec" opacity="1"/>
<polygon points="371.5,119.54 372.09,119.54 372.68,119.54 373.27,119.54 373.85,119.54 374.44,119.54 375.03,119.54 375.62,119.54 376.21,119.54 376.8,119.54 377.38,119.54 377.97,119.54 378.56,119.54 379.15,119.54 379.74,119.54 380.33,119.54 380.92,119.54 381.5,119.54 382.09,119.54 382.68,119.54 383.27,119.54 383.86,119.54 384.45,119.54 385.04,119.54 385.62,119.54 386.21,119.54 386.8,119.54 387.39,119.54 387.98,119.54 388.57,119.54 389.15,119.54 389.74,119.54 390.33,119.54 390.92,119.54 391.51,119.54 392.1,119.54 392.69,119.54 393.27,119.54 393.86,119.54 394.45,119.54 395.04,119.54 395.63,119.54 396.22,119.54 396.81,119.54 397.39,119.54 397.98,119.54 398.57,119.54 399.16,119.54 399.75,119.54 400.34,119.54 400.93,119.54 401.51,119.54 402.1,119.54 402.69,119.54 403.28,119.54 403.87,119.54 404.46,119.54 405.04,119.54 405.63,119.54 406.22,119.54 406.81,119.54 407.4,119.54 407.99,119.54 408.58,119.54 409.16,119.54 409.75,119.54 410.34,119.54 410.93,119.54 411.52,119.54 412.11,119.54 412.69,119.54 413.28,119.54 413.87,119.54 414.46,119.54 415.05,119.54 415.64,119.54 416.23,119.54 416.81,119.54 417.4,119.54 417.99,119.54 418.58,119.54 419.17,119.54 419.76,119.54 420.35,119.54 420.93,119.54 421.52,119.54 422.11,119.54 422.7,119.54 423.29,119.54 423.88,119.54 424.46,119.54 425.05,119.54 425.64,119.54 426.23,119.54 426.82,119.54 427.41,119.54 428,119.54 428.58,119.54 429.17,119.54 429.76,119.54 430.35,119.54 430.94,119.54 431.53,119.54 432.12,119.54 432.7,119.54 433.29,119.54 433.88,119.54 434.47,119.54 435.06,119.54 435.65,119.54 436.24,119.54 436.82,119.54 437.41,119.54 438,119.54 438.59,119.54 439.18,119.54 439.77,119.54 440.35,119.54 440.94,119.54 441.53,119.54 442.12,119.54 442.71,119.54 443.3,119.54 443.89,119.54 444.47,119.54 445.06,119.54 445.65,119.54 446.24,119.54 446.83,119.54 447.42,119.54 448,119.54 448.59,119.54 449.18,119.54 449.77,119.54 450.36,119.54 450.95,119.54 451.54,119.54 452.12,119.54 452.71,119.54 453.3,119.54 453.89,119.54 454.48,119.54 455.07,119.54 455.66,119.54 456.24,119.54 456.83,119.54 457.42,119.54 458.01,119.54 458.6,119.54 459.19,119.54 459.77,119.54 460.36,119.54 460.95,119.54 461.54,119.54 462.13,119.54 462.72,119.54 463.31,119.54 463.89,119.54 464.48,119.54 465.07,119.54 465.66,119.54 466.25,119.54 466.84,119.54 467.43,119.54 468.01,119.54 468.6,119.54 469.19,119.54 469.78,119.54 470.37,119.54 470.96,119.54 471.54,119.54 472.13,119.54 472.72,119.54 473.31,119.54 473.9,119.54 474.49,119.54 475.08,119.54 475.66,119.54 476.25,119.54 476.84,119.54 477.43,119.54 478.02,119.54 478.61,119.54 479.2,119.54 479.78,119.54 480.37,119.54 480.96,119.54 481.55,119.54 482.14,119.54 482.73,119.54 483.31,119.54 483.9,119.54 484.49,119.54 485.08,119.54 485.67,119.54 486.26,119.54 486.85,119.54 487.43,119.54 488.02,119.54 488.61,119.54 489.2,119.54 489.2,120.2 488.61,120.2 488.02,120.2 487.43,120.2 486.85,120.2 486.26,120.2 485.67,120.2 485.08,120.2 484.49,120.2 483.9,120.2 483.31,120.2 482.73,120.2 482.14,120.2 481.55,120.2 480.96,120.2 480.37,120.2 479.78,120.2 479.2,120.2 478.61,120.2 478.02,120.2 477.43,120.2 476.84,120.2 476.25,120.2 475.66,120.2 475.08,120.2 474.49,120.2 473.9,120.2 473.31,120.2 472.72,120.2 472.13,120.2 471.54,120.2 470.96,120.2 470.37,120.2 469.78,120.2 469.19,120.2 468.6,120.2 468.01,120.2 467.43,120.2 466.84,120.2 466.25,120.2 465.66,120.2 465.07,120.2 464.48,120.2 463.89,120.2 463.31,120.2 462.72,120.2 462.13,120.2 461.54,120.2 460.95,120.2 460.36,120.2 459.77,120.2 459.19,120.2 458.6,120.2 458.01,120.2 457.42,120.2 456.83,120.2 456.24,120.2 455.66,120.2 455.07,120.2 454.48,120.2 453.89,120.2 453.3,120.2 452.71,120.2 452.12,120.2 451.54,120.2 450.95,120.2 450.36,120.2 449.77,120.2 449.18,120.2 448.59,120.2 448,120.2 447.42,120.2 446.83,120.2 446.24,120.2 445.65,120.2 445.06,120.2 444.47,120.2 443.89,120.2 443.3,120.2 442.71,120.2 442.12,120.2 441.53,120.2 440.94,120.2 440.35,120.2 439.77,120.2 439.18,120.2 438.59,120.2 438,120.2 437.41,120.2 436.82,120.2 436.24,120.2 435.65,120.2 435.06,120.2 434.47,120.2 433.88,120.2 433.29,120.2 432.7,120.2 432.12,120.2 431.53,120.2 430.94,120.2 430.35,120.2 429.76,120.2 429.17,120.2 428.58,120.2 428,120.2 427.41,120.2 426.82,120.2 426.23,120.2 425.64,120.2 425.05,120.2 424.46,120.2 423.88,120.2 423.29,120.2 422.7,120.2 422.11,120.2 421.52,120.2 420.93,120.2 420.35,120.2 419.76,120.2 419.17,120.2 418.58,120.2 417.99,120.2 417.4,120.2 416.81,120.2 416.23,120.2 415.64,120.2 415.05,120.2 414.46,120.2 413.87,120.2 413.28,120.2 412.69,120.2 412.11,120.2 411.52,120.2 410.93,120.2 410.34,120.2 409.75,120.2 409.16,120.2 408.58,120.2 407.99,120.2 407.4,120.2 406.81,120.2 406.22,120.2 405.63,120.2 405.04,120.2 404.46,120.2 403.87,120.2 403.28,120.2 402.69,120.2 402.1,120.2 401.51,120.2 400.93,120.2 400.34,120.2 399.75,120.2 399.16,120.2 398.57,120.2 397.98,120.2 397.39,120.2 396.81,120.2 396.22,120.2 395.63,120.2 395.04,120.2 394.45,120.2 393.86,120.2 393.27,120.2 392.69,120.2 392.1,120.2 391.51,120.2 390.92,120.2 390.33,120.2 389.74,120.2 389.15,120.2 388.57,120.2 387.98,120.2 387.39,120.2 386.8,120.2 386.21,120.2 385.62,120.2 385.04,120.2 384.45,120.2 383.86,120.2 383.27,120.2 382.68,120.2 382.09,120.2 381.5,120.2 380.92,120.2 380.33,120.2 379.74,120.2 379.15,120.2 378.56,120.2 377.97,120.2 377.38,120.2 376.8,120.2 376.21,120.2 375.62,120.2 375.03,120.2 374.44,120.2 373.85,120.2 373.27,120.2 372.68,120.2 372.09,120.2 371.5,120.2" fill="#86d2d8" opacity="1"/>
<circle cx="371.5" cy="121.75" r="1.3" fill="none" stroke="#6ccad4" stroke-width="0.5"/>
<circle cx="371.6" cy="119.75" r="1.3" fill="none" stroke="#6ccad4" stroke-width="0.5"/>
<circle cx="371.73" cy="120.5" r="1.3" fill="none" stroke="#6ccad4" stroke-width="0.5"/>
<circle cx="371.9" cy="118.78" r="1.3" fill="none" stroke="#6ccad4" stroke-width="0.5"/>
<circle cx="372.08" cy="118.29" r="1.3" fill="none" stroke="#6ccad4" stroke-width="0.5"/>
<circle cx="372.27" cy="121.22" r="1.3" fill="none" stroke="#6ccad4" stroke-width="0.5"/>
<circle cx="372.48" cy="121.11" r="1.3" fill="none" stroke="#6ccad4" stroke-width="0.5"/>
<circle cx="372.7" cy="115.8" r="1.3" fill="none" stroke="#6ccad4" stroke-width="0.5"/>
<circle cx="372.92" cy="118.76" r="1.3" fill="none" stroke="#6ccad4" stroke-width="0.5"/>
<circle cx="373.16" cy="118.44" r="1.3" fill="none" stroke="#6ccad4" stroke-width="0.5"/>
<circle cx="373.4" cy="113.44" r="1.3" fill="none" stroke="#6ccad4" stroke-width="0.5"/>
<circle cx="373.65" cy="116.05" r="1.3" fill="none" stroke="#6ccad4" stroke-width="0.5"/>
<circle cx="373.91" cy="113.36" r="1.3" fill="none" stroke="#6ccad4" stroke-width="0.5"/>
<circle cx="374.17" cy="114.96" r="1.3" fill="none" stroke="#6ccad4" stroke-width="0.5"/>
<circle cx="374.44" cy="113.45" r="1.3" fill="none" stroke="#6ccad4" stroke-width="0.5"/>
<circle cx="374.72" cy="115.88" r="1.3" fill="none" stroke="#6ccad4" stroke-width="0.5"/>
<circle cx="375" cy="112.54" r="1.3" fill="none" stroke="#6ccad4" stroke-width="0.5"/>
<circle cx="375.29" cy="110.68" r="1.3" fill="none" stroke="#6ccad4" stroke-width="0.5"/>
<circle cx="375.58" cy="112.23" r="1.3" fill="none" stroke="#6ccad4" stroke-width="0.5"/>
<circle cx="375.88" cy="110.44" r="1.3" fill="none" stroke="#6ccad4" stroke-width="0.5"/>
<circle cx="376.18" cy="110.35" r="1.3" fill="none" stroke="#6ccad4" stroke-width="0.5"/>
<circle cx="376.49" cy="113.43" r="1.3" fill="none" stroke="#6ccad4" stroke-width="0.5"/>
<circle cx="376.8" cy="108.8" r="1.3" fill="none" stroke="#6ccad4" stroke-width="0.5"/>
<circle cx="377.11" cy="109.26" r="1.3" fill="none" stroke="#6ccad4" stroke-width="0.5"/>
<circle cx="377.43" cy="110.45" r="1.3" fill="none" stroke="#6ccad4" stroke-width="0.5"/>
<circle cx="377.75" cy="111.56" r="1.3" fill="none" stroke="#6ccad4" stroke-width="0.5"/>
<circle cx="378.08" cy="106.13" r="1.3" fill="none" stroke="#6ccad4" stroke-width="0.5"/>
<circle cx="378.41" cy="107.95" r="1.3" fill="none" stroke="#6ccad4" stroke-width="0.5"/>
<circle cx="378.75" cy="105.99" r="1.3" fill="none" stroke="#6ccad4" stroke-width="0.5"/>
<circle cx="379.09" cy="104.53" r="1.3" fill="none" stroke="#6ccad4" stroke-width="0.5"/>
<circle cx="379.43" cy="104.99" r="1.3" fill="none" stroke="#6ccad4" stroke-width="0.5"/>
<circle cx="379.77" cy="103.25" r="1.3" fill="none" stroke="#6ccad4" stroke-width="0.5"/>
<circle cx="380.12" cy="105.84" r="1.3" fill="none" stroke="#6ccad4" stroke-width="0.5"/>
<circle cx="380.47" cy="102.9" r="1.3" fill="none" stroke="#6ccad4" stroke-width="0.5"/>
<circle cx="380.83" cy="104.47" r="1.3" fill="none" stroke="#6ccad4" stroke-width="0.5"/>
<circle cx="381.19" cy="101.03" r="1.3" fill="none" stroke="#6ccad4" stroke-width="0.5"/>
<circle cx="381.55" cy="100.82" r="1.3" fill="none" stroke="#6ccad4" stroke-width="0.5"/>
<circle cx="381.91" cy="104.89" r="1.3" fill="none" stroke="#6ccad4" stroke-width="0.5"/>
<circle cx="382.28" cy="104.11" r="1.3" fill="none" stroke="#6ccad4" stroke-width="0.5"/>
<circle cx="382.65" cy="103.07" r="1.3" fill="none" stroke="#6ccad4" stroke-width="0.5"/>
<circle cx="383.02" cy="98.08" r="1.3" fill="none" stroke="#6ccad4" stroke-width="0.5"/>
<circle cx="383.4" cy="100.69" r="1.3" fill="none" stroke="#6ccad4" stroke-width="0.5"/>
<circle cx="383.78" cy="99.14" r="1.3" fill="none" stroke="#6ccad4" stroke-width="0.5"/>
<circle cx="384.16" cy="100.65" r="1.3" fill="none" stroke="#6ccad4" stroke-width="0.5"/>
<circle cx="384.54" cy="98.99" r="1.3" fill="none" stroke="#6ccad4" stroke-width="0.5"/>
<circle cx="384.93" cy="99.28" r="1.3" fill="none" stroke="#6ccad4" stroke-width="0.5"/>
<circle cx="385.32" cy="99.05" r="1.3" fill="none" stroke="#6ccad4" stroke-width="0.5"/>
<circle cx="385.71" cy="97.23" r="1.3" fill="none" stroke="#6ccad4" stroke-width="0.5"/>
<circle cx="386.1" cy="96.79" r="1.3" fill="none" stroke="#6ccad4" stroke-width="0.5"/>
<circle cx="386.5" cy="94.45" r="1.3" fill="none" stroke="#6ccad4" stroke-width="0.5"/>
<circle cx="386.9" cy="95.32" r="1.3" fill="none" stroke="#6ccad4" stroke-width="0.5"/>
<circle cx="387.3" cy="93.41" r="1.3" fill="none" stroke="#6ccad4" stroke-width="0.5"/>
<circle cx="387.71" cy="93.39" r="1.3" fill="none" stroke="#6ccad4" stroke-width="0.5"/>
<circle cx="388.11" cy="92.14" r="1.3" fill="none" stroke="#6ccad4" stroke-width="0.5"/>
<circle cx="388.52" cy="93.58" r="1.3" fill="none" stroke="#6ccad4" stroke-width="0.5"/>
<circle cx="388.93" cy="96.13" r="1.3" fill="none" stroke="#6ccad4" stroke-width="0.5"/>
<circle cx="389.34" cy="91.54" r="1.3" fill="none" stroke="#6ccad4" stroke-width="0.5"/>
<circle cx="389.76" cy="90.49" r="1.3" fill="none" stroke="#6ccad4" stroke-width="0.5"/>
<circle cx="390.18" cy="90.4" r="1.3" fill="none" stroke="#6ccad4" stroke-width="0.5"/>
<circle cx="390.6" cy="91.94" r="1.3" fill="none" stroke="#6ccad4" stroke-width="0.5"/>
<circle cx="391.02" cy="90.63" r="1.3" fill="none" stroke="#6ccad4" stroke-width="0.5"/>
<circle cx="391.44" cy="93.16" r="1.3" fill="none" stroke="#6ccad4" stroke-width="0.5"/>
<circle cx="391.87" cy="89.03" r="1.3" fill="none" stroke="#6ccad4" stroke-width="0.5"/>
<circle cx="392.3" cy="90.11" r="1.3" fill="none" stroke="#6ccad4" stroke-width="0.5"/>
<circle cx="392.73" cy="91.36" r="1.3" fill="none" stroke="#6ccad4" stroke-width="0.5"/>
<circle cx="393.16" cy="92.21" r="1.3" fill="none" stroke="#6ccad4" stroke-width="0.5"/>
<circle cx="393.59" cy="87.07" r="1.3" fill="none" stroke="#6ccad4" stroke-width="0.5"/>
<circle cx="394.03" cy="85.8" r="1.3" fill="none" stroke="#6ccad4" stroke-width="0.5"/>
<circle cx="394.47" cy="90.67" r="1.3" fill="none" stroke="#6ccad4" stroke-width="0.5"/>
<circle cx="394.91" cy="85.99" r="1.3" fill="none" stroke="#6ccad4" stroke-width="0.5"/>
<circle cx="395.35" cy="87.86" r="1.3" fill="none" stroke="#6ccad4" stroke-width="0.5"/>
<circle cx="395.79" cy="88.98" r="1.3" fill="none" stroke="#6ccad4" stroke-width="0.5"/>
<circle cx="396.24" cy="87.71" r="1.3" fill="none" stroke="#6ccad4" stroke-width="0.5"/>
<circle cx="396.69" cy="84.47" r="1.3" fill="none" stroke="#6ccad4" stroke-width="0.5"/>
<circle cx="397.14" cy="83.43" r="1.3" fill="none" stroke="#6ccad4" stroke-width="0.5"/>
<circle cx="397.59" cy="87.91" r="1.3" fill="none" stroke="#6ccad4" stroke-width="0.5"/>
<circle cx="398.04" cy="84.1" r="1.3" fill="none" stroke="#6ccad4" stroke-width="0.5"/>
<circle cx="398.5" cy="87.04" r="1.3" fill="none" stroke="#6ccad4" stroke-width="0.5"/>
<circle cx="398.95" cy="82.62" r="1.3" fill="none" stroke="#6ccad4" stroke-width="0.5"/>
<circle cx="399.41" cy="84.48" r="1.3" fill="none" stroke="#6ccad4" stroke-width="0.5"/>
<circle cx="399.87" cy="80.78" r="1.3" fill="none" stroke="#6ccad4" stroke-width="0.5"/>
<circle cx="400.33" cy="79.75" r="1.3" fill="none" stroke="#6ccad4" stroke-width="0.5"/>
<circle cx="400.8" cy="82.13" r="1.3" fill="none" stroke="#6ccad4" stroke-width="0.5"/>
<circle cx="401.26" cy="78.86" r="1.3" fill="none" stroke="#6ccad4" stroke-width="0.5"/>
<circle cx="401.73" cy="82.62" r="1.3" fill="none" stroke="#6ccad4" stroke-width="0.5"/>
<circle cx="402.2" cy="83.69" r="1.3" fill="none" stroke="#6ccad4" stroke-width="0.5"/>
<circle cx="402.67" cy="80.28" r="1.3" fill="none" stroke="#6ccad4" stroke-width="0.5"/>
<circle cx="403.14" cy="83.33" r="1.3" fill="none" stroke="#6ccad4" stroke-width="0.5"/>
<circle cx="403.61" cy="82.02" r="1.3" fill="none" stroke="#6ccad4" stroke-width="0.5"/>
<circle cx="404.09" cy="80.46" r="1.3" fill="none" stroke="#6ccad4" stroke-width="0.5"/>
<circle cx="404.57" cy="78.94" r="1.3" fill="none" stroke="#6ccad4" stroke-width="0.5"/>
<circle cx="405.04" cy="81.31" r="1.3" fill="none" stroke="#6ccad4" stroke-width="0.5"/>
<circle cx="405.52" cy="81.66" r="1.3" fill="none" stroke="#6ccad4" stroke-width="0.5"/>
<circle cx="406.01" cy="76.45" r="1.3" fill="none" stroke="#6ccad4" stroke-width="0.5"/>
<circle cx="406.49" cy="79.41" r="1.3" fill="none" stroke="#6ccad4" stroke-width="0.5"/>
<circle cx="406.97" cy="75.29" r="1.3" fill="none" stroke="#6ccad4" stroke-width="0.5"/>
<circle cx="407.46" cy="75.39" r="1.3" fill="none" stroke="#6ccad4" stroke-width="0.5"/>
<circle cx="407.95" cy="78.21" r="1.3" fill="none" stroke="#6ccad4" stroke-width="0.5"/>
<circle cx="408.44" cy="77.46" r="1.3" fill="none" stroke="#6ccad4" stroke-width="0.5"/>
<circle cx="408.93" cy="76.84" r="1.3" fill="none" stroke="#6ccad4" stroke-width="0.5"/>
<circle cx="409.42" cy="75.85" r="1.3" fill="none" stroke="#6ccad4" stroke-width="0.5"/>
<circle cx="409.91" cy="75.87" r="1.3" fill="none" stroke="#6ccad4" stroke-width="0.5"/>
<circle cx="410.41" cy="75.83" r="1.3" fill="none" stroke="#6ccad4" stroke-width="0.5"/>
<circle cx="410.9" cy="75.2" r="1.3" fill="none" stroke="#6ccad4" stroke-width="0.5"/>
<circle cx="411.4" cy="73.04" r="1.3" fill="none" stroke="#6ccad4" stroke-width="0.5"/>
<circle cx="411.9" cy="75.34" r="1.3" fill="none" stroke="#6ccad4" stroke-width="0.5"/>
<circle cx="412.4" cy="75.52" r="1.3" fill="none" stroke="#6ccad4" stroke-width="0.5"/>
<circle cx="412.91" cy="73.55" r="1.3" fill="none" stroke="#6ccad4" stroke-width="0.5"/>
<circle cx="413.41" cy="76.14" r="1.3" fill="none" stroke="#6ccad4" stroke-width="0.5"/>
<circle cx="413.91" cy="75.49" r="1.3" fill="none" stroke="#6ccad4" stroke-width="0.5"/>
<circle cx="414.42" cy="71.22" r="1.3" fill="none" stroke="#6ccad4" stroke-width="0.5"/>
<circle cx="414.93" cy="73.65" r="1.3" fill="none" stroke="#6ccad4" stroke-width="0.5"/>
<circle cx="415.44" cy="73.22" r="1.3" fill="none" stroke="#6ccad4" stroke-width="0.5"/>
<circle cx="415.95" cy="76.13" r="1.3" fill="none" stroke="#6ccad4" stroke-width="0.5"/>
<circle cx="416.46" cy="73.46" r="1.3" fill="none" stroke="#6ccad4" stroke-width="0.5"/>
<circle cx="416.97" cy="72.22" r="1.3" fill="none" stroke="#6ccad4" stroke-width="0.5"/>
<circle cx="417.49" cy="75.26" r="1.3" fill="none" stroke="#6ccad4" stroke-width="0.5"/>
<circle cx="418.01" cy="71.46" r="1.3" fill="none" stroke="#6ccad4" stroke-width="0.5"/>
<circle cx="418.52" cy="71.08" r="1.3" fill="none" stroke="#6ccad4" stroke-width="0.5"/>
<circle cx="419.04" cy="74.22" r="1.3" fill="none" stroke="#6ccad4" stroke-width="0.5"/>
<circle cx="419.56" cy="70.62" r="1.3" fill="none" stroke="#6ccad4" stroke-width="0.5"/>
<circle cx="420.08" cy="71.32" r="1.3" fill="none" stroke="#6ccad4" stroke-width="0.5"/>
<circle cx="420.61" cy="69.81" r="1.3" fill="none" stroke="#6ccad4" stroke-width="0.5"/>
<circle cx="421.13" cy="71.5" r="1.3" fill="none" stroke="#6ccad4" stroke-width="0.5"/>
<circle cx="421.65" cy="69.15" r="1.3" fill="none" stroke="#6ccad4" stroke-width="0.5"/>
<circle cx="422.18" cy="68.72" r="1.3" fill="none" stroke="#6ccad4" stroke-width="0.5"/>
<circle cx="422.71" cy="72.7" r="1.3" fill="none" stroke="#6ccad4" stroke-width="0.5"/>
<circle cx="423.24" cy="72.23" r="1.3" fill="none" stroke="#6ccad4" stroke-width="0.5"/>
<circle cx="423.77" cy="68.33" r="1.3" fill="none" stroke="#6ccad4" stroke-width="0.5"/>
<circle cx="424.3" cy="66.38" r="1.3" fill="none" stroke="#6ccad4" stroke-width="0.5"/>
<circle cx="424.83" cy="70.34" r="1.3" fill="none" stroke="#6ccad4" stroke-width="0.5"/>
<circle cx="425.37" cy="68.87" r="1.3" fill="none" stroke="#6ccad4" stroke-width="0.5"/>
<circle cx="425.9" cy="67.81" r="1.3" fill="none" stroke="#6ccad4" stroke-width="0.5"/>
<circle cx="426.44" cy="69.17" r="1.3" fill="none" stroke="#6ccad4" stroke-width="0.5"/>
<circle cx="426.97" cy="68.65" r="1.3" fill="none" stroke="#6ccad4" stroke-width="0.5"/>
<circle cx="427.51" cy="68.7" r="1.3" fill="none" stroke="#6ccad4" stroke-width="0.5"/>
<circle cx="428.05" cy="68.11" r="1.3" fill="none" stroke="#6ccad4" stroke-width="0.5"/>
<circle cx="428.59" cy="66.51" r="1.3" fill="none" stroke="#6ccad4" stroke-width="0.5"/>
<circle cx="429.14" cy="68" r="1.3" fill="none" stroke="#6ccad4" stroke-width="0.5"/>
<circle cx="429.68" cy="67.29" r="1.3" fill="none" stroke="#6ccad4" stroke-width="0.5"/>
<circle cx="430.23" cy="64.69" r="1.3" fill="none" stroke="#6ccad4" stroke-width="0.5"/>
<circle cx="430.77" cy="68.86" r="1.3" fill="none" stroke="#6ccad4" stroke-width="0.5"/>
<circle cx="431.32" cy="65.4" r="1.3" fill="none" stroke="#6ccad4" stroke-width="0.5"/>
<circle cx="431.87" cy="64.17" r="1.3" fill="none" stroke="#6ccad4" stroke-width="0.5"/>
<circle cx="432.42" cy="66.45" r="1.3" fill="none" stroke="#6ccad4" stroke-width="0.5"/>
<circle cx="432.97" cy="66.72" r="1.3" fill="none" stroke="#6ccad4" stroke-width="0.5"/>
<circle cx="433.52" cy="63.03" r="1.3" fill="none" stroke="#6ccad4" stroke-width="0.5"/>
<circle cx="434.07" cy="66.13" r="1.3" fill="none" stroke="#6ccad4" stroke-width="0.5"/>
<circle cx="434.62" cy="66.18" r="1.3" fill="none" stroke="#6ccad4" stroke-width="0.5"/>
<circle cx="435.18" cy="64.47" r="1.3" fill="none" stroke="#6ccad4" stroke-width="0.5"/>
<circle cx="435.74" cy="62.66" r="1.3" fill="none" stroke="#6ccad4" stroke-width="0.5"/>
<circle cx="436.29" cy="65.94" r="1.3" fill="none" stroke="#6ccad4" stroke-width="0.5"/>
<circle cx="436.85" cy="64.39" r="1.3" fill="none" stroke="#6ccad4" stroke-width="0.5"/>
<circle cx="437.41" cy="64.07" r="1.3" fill="none" stroke="#6ccad4" stroke-width="0.5"/>
<circle cx="437.97" cy="60.86" r="1.3" fill="none" stroke="#6ccad4" stroke-width="0.5"/>
<circle cx="438.53" cy="62.95" r="1.3" fill="none" stroke="#6ccad4" stroke-width="0.5"/>
<circle cx="439.1" cy="60.23" r="1.3" fill="none" stroke="#6ccad4" stroke-width="0.5"/>
<circle cx="439.66" cy="64.04" r="1.3" fill="none" stroke="#6ccad4" stroke-width="0.5"/>
<circle cx="440.22" cy="62.79" r="1.3" fill="none" stroke="#6ccad4" stroke-width="0.5"/>
<circle cx="440.79" cy="60.68" r="1.3" fill="none" stroke="#6ccad4" stroke-width="0.5"/>
<circle cx="441.36" cy="59.04" r="1.3" fill="none" stroke="#6ccad4" stroke-width="0.5"/>
<circle cx="441.93" cy="61.36" r="1.3" fill="none" stroke="#6ccad4" stroke-width="0.5"/>
<circle cx="442.5" cy="62.43" r="1.3" fill="none" stroke="#6ccad4" stroke-width="0.5"/>
<circle cx="443.07" cy="62.78" r="1.3" fill="none" stroke="#6ccad4" stroke-width="0.5"/>
<circle cx="443.64" cy="60.08" r="1.3" fill="none" stroke="#6ccad4" stroke-width="0.5"/>
<circle cx="444.21" cy="61.82" r="1.3" fill="none" stroke="#6ccad4" stroke-width="0.5"/>
<circle cx="444.78" cy="57.9" r="1.3" fill="none" stroke="#6ccad4" stroke-width="0.5"/>
<circle cx="445.36" cy="57.44" r="1.3" fill="none" stroke="#6ccad4" stroke-width="0.5"/>
<circle cx="445.93" cy="61.04" r="1.3" fill="none" stroke="#6ccad4" stroke-width="0.5"/>
<circle cx="446.51" cy="60.21" r="1.3" fill="none" stroke="#6ccad4" stroke-width="0.5"/>
<circle cx="447.09" cy="56.8" r="1.3" fill="none" stroke="#6ccad4" stroke-width="0.5"/>
<circle cx="447.66" cy="57.5" r="1.3" fill="none" stroke="#6ccad4" stroke-width="0.5"/>
<circle cx="448.24" cy="56.26" r="1.3" fill="none" stroke="#6ccad4" stroke-width="0.5"/>
<circle cx="448.82" cy="58.71" r="1.3" fill="none" stroke="#6ccad4" stroke-width="0.5"/>
<circle cx="449.41" cy="59.71" r="1.3" fill="none" stroke="#6ccad4" stroke-width="0.5"/>
<circle cx="449.99" cy="58.47" r="1.3" fill="none" stroke="#6ccad4" stroke-width="0.5"/>
<circle cx="450.57" cy="55.22" r="1.3" fill="none" stroke="#6ccad4" stroke-width="0.5"/>
<circle cx="451.16" cy="58.04" r="1.3" fill="none" stroke="#6ccad4" stroke-width="0.5"/>
<circle cx="451.74" cy="57.32" r="1.3" fill="none" stroke="#6ccad4" stroke-width="0.5"/>
<circle cx="452.33" cy="56.62" r="1.3" fill="none" stroke="#6ccad4" stroke-width="0.5"/>
<circle cx="452.92" cy="56.32" r="1.3" fill="none" stroke="#6ccad4" stroke-width="0.5"/>
<circle cx="453.51" cy="56.11" r="1.3" fill="none" stroke="#6ccad4" stroke-width="0.5"/>
<circle cx="454.09" cy="52.8" r="1.3" fill="none" stroke="#6ccad4" stroke-width="0.5"/>
<circle cx="454.69" cy="57.07" r="1.3" fill="none" stroke="#6ccad4" stroke-width="0.5"/>
<circle cx="455.28" cy="57.7" r="1.3" fill="none" stroke="#6ccad4" stroke-width="0.5"/>
<circle cx="455.87" cy="51.88" r="1.3" fill="none" stroke="#6ccad4" stroke-width="0.5"/>
<circle cx="456.46" cy="51.99" r="1.3" fill="none" stroke="#6ccad4" stroke-width="0.5"/>
<circle cx="457.06" cy="51.09" r="1.3" fill="none" stroke="#6ccad4" stroke-width="0.5"/>
<circle cx="457.65" cy="54.09" r="1.3" fill="none" stroke="#6ccad4" stroke-width="0.5"/>
<circle cx="458.25" cy="50.77" r="1.3" fill="none" stroke="#6ccad4" stroke-width="0.5"/>
<circle cx="458.85" cy="50.64" r="1.3" fill="none" stroke="#6ccad4" stroke-width="0.5"/>
<circle cx="459.44" cy="54.55" r="1.3" fill="none" stroke="#6ccad4" stroke-width="0.5"/>
<circle cx="460.04" cy="51.18" r="1.3" fill="none" stroke="#6ccad4" stroke-width="0.5"/>
<circle cx="460.64" cy="50.37" r="1.3" fill="none" stroke="#6ccad4" stroke-width="0.5"/>
<circle cx="461.24" cy="51.13" r="1.3" fill="none" stroke="#6ccad4" stroke-width="0.5"/>
<circle cx="461.85" cy="51.72" r="1.3" fill="none" stroke="#6ccad4" stroke-width="0.5"/>
<circle cx="462.45" cy="52.81" r="1.3" fill="none" stroke="#6ccad4" stroke-width="0.5"/>
<circle cx="463.05" cy="52.23" r="1.3" fill="none" stroke="#6ccad4" stroke-width="0.5"/>
<circle cx="463.66" cy="52.63" r="1.3" fill="none" stroke="#6ccad4" stroke-width="0.5"/>
<circle cx="464.26" cy="53.31" r="1.3" fill="none" stroke="#6ccad4" stroke-width="0.5"/>
<circle cx="464.87" cy="49.95" r="1.3" fill="none" stroke="#6ccad4" stroke-width="0.5"/>
<circle cx="465.48" cy="51.47" r="1.3" fill="none" stroke="#6ccad4" stroke-width="0.5"/>
<circle cx="466.08" cy="48.1" r="1.3" fill="none" stroke="#6ccad4" stroke-width="0.5"/>
<circle cx="466.69" cy="52.36" r="1.3" fill="none" stroke="#6ccad4" stroke-width="0.5"/>
<circle cx="467.3" cy="47" r="1.3" fill="none" stroke="#6ccad4" stroke-width="0.5"/>
<circle cx="467.91" cy="47.97" r="1.3" fill="none" stroke="#6ccad4" stroke-width="0.5"/>
<circle cx="468.53" cy="46.33" r="1.3" fill="none" stroke="#6ccad4" stroke-width="0.5"/>
<circle cx="469.14" cy="46.22" r="1.3" fill="none" stroke="#6ccad4" stroke-width="0.5"/>
<circle cx="469.75" cy="45.93" r="1.3" fill="none" stroke="#6ccad4" stroke-width="0.5"/>
<circle cx="470.37" cy="47.56" r="1.3" fill="none" stroke="#6ccad4" stroke-width="0.5"/>
<circle cx="470.98" cy="50.63" r="1.3" fill="none" stroke="#6ccad4" stroke-width="0.5"/>
<circle cx="471.6" cy="46.01" r="1.3" fill="none" stroke="#6ccad4" stroke-width="0.5"/>
<circle cx="472.22" cy="49.13" r="1.3" fill="none" stroke="#6ccad4" stroke-width="0.5"/>
<circle cx="472.83" cy="48.1" r="1.3" fill="none" stroke="#6ccad4" stroke-width="0.5"/>
<circle cx="473.45" cy="45.67" r="1.3" fill="none" stroke="#6ccad4" stroke-width="0.5"/>
<circle cx="474.07" cy="46.21" r="1.3" fill="none" stroke="#6ccad4" stroke-width="0.5"/>
<circle cx="474.69" cy="46.59" r="1.3" fill="none" stroke="#6ccad4" stroke-width="0.5"/>
<circle cx="475.31" cy="43.21" r="1.3" fill="none" stroke="#6ccad4" stroke-width="0.5"/>
<circle cx="475.94" cy="44.86" r="1.3" fill="none" stroke="#6ccad4" stroke-width="0.5"/>
<circle cx="476.56" cy="46.19" r="1.3" fill="none" stroke="#6ccad4" stroke-width="0.5"/>
<circle cx="477.18" cy="46.43" r="1.3" fill="none" stroke="#6ccad4" stroke-width="0.5"/>
<circle cx="477.81" cy="42.54" r="1.3" fill="none" stroke="#6ccad4" stroke-width="0.5"/>
<circle cx="478.43" cy="44.52" r="1.3" fill="none" stroke="#6ccad4" stroke-width="0.5"/>
<circle cx="479.06" cy="42.41" r="1.3" fill="none" stroke="#6ccad4" stroke-width="0.5"/>
<circle cx="479.69" cy="44.66" r="1.3" fill="none" stroke="#6ccad4" stroke-width="0.5"/>
<circle cx="480.32" cy="45.28" r="1.3" fill="none" stroke="#6ccad4" stroke-width="0.5"/>
<circle cx="480.95" cy="42.98" r="1.3" fill="none" stroke="#6ccad4" stroke-width="0.5"/>
<circle cx="481.58" cy="41.01" r="1.3" fill="none" stroke="#6ccad4" stroke-width="0.5"/>
<circle cx="482.21" cy="44.54" r="1.3" fill="none" stroke="#6ccad4" stroke-width="0.5"/>
<circle cx="482.84" cy="40.56" r="1.3" fill="none" stroke="#6ccad4" stroke-width="0.5"/>
<circle cx="483.47" cy="39.49" r="1.3" fill="none" stroke="#6ccad4" stroke-width="0.5"/>
<circle cx="484.1" cy="39.88" r="1.3" fill="none" stroke="#6ccad4" stroke-width="0.5"/>
<circle cx="484.74" cy="39.47" r="1.3" fill="none" stroke="#6ccad4" stroke-width="0.5"/>
<circle cx="485.37" cy="44" r="1.3" fill="none" stroke="#6ccad4" stroke-width="0.5"/>
<circle cx="486.01" cy="40.02" r="1.3" fill="none" stroke="#6ccad4" stroke-width="0.5"/>
<circle cx="486.65" cy="38.33" r="1.3" fill="none" stroke="#6ccad4" stroke-width="0.5"/>
<circle cx="487.28" cy="42.84" r="1.3" fill="none" stroke="#6ccad4" stroke-width="0.5"/>
<circle cx="487.92" cy="41.23" r="1.3" fill="none" stroke="#6ccad4" stroke-width="0.5"/>
<circle cx="488.56" cy="40.94" r="1.3" fill="none" stroke="#6ccad4" stroke-width="0.5"/>
<circle cx="489.2" cy="39.1" r="1.3" fill="none" stroke="#6ccad4" stroke-width="0.5"/>
<circle cx="371.5" cy="120.28" r="1.1" fill="none" stroke="#7080c0" stroke-width="0.45"/>
<circle cx="376.21" cy="112.73" r="1.1" fill="none" stroke="#7080c0" stroke-width="0.45"/>
<circle cx="380.92" cy="107.95" r="1.1" fill="none" stroke="#7080c0" stroke-width="0.45"/>
<circle cx="385.62" cy="108.06" r="1.1" fill="none" stroke="#7080c0" stroke-width="0.45"/>
<circle cx="390.33" cy="107.74" r="1.1" fill="none" stroke="#7080c0" stroke-width="0.45"/>
<circle cx="395.04" cy="107.41" r="1.1" fill="none" stroke="#7080c0" stroke-width="0.45"/>
<circle cx="399.75" cy="107.34" r="1.1" fill="none" stroke="#7080c0" stroke-width="0.45"/>
<circle cx="404.46" cy="107.33" r="1.1" fill="none" stroke="#7080c0" stroke-width="0.45"/>
<circle cx="409.16" cy="106.37" r="1.1" fill="none" stroke="#7080c0" stroke-width="0.45"/>
<circle cx="413.87" cy="106.43" r="1.1" fill="none" stroke="#7080c0" stroke-width="0.45"/>
<circle cx="418.58" cy="107.12" r="1.1" fill="none" stroke="#7080c0" stroke-width="0.45"/>
<circle cx="423.29" cy="106.71" r="1.1" fill="none" stroke="#7080c0" stroke-width="0.45"/>
<circle cx="428" cy="106.89" r="1.1" fill="none" stroke="#7080c0" stroke-width="0.45"/>
<circle cx="432.7" cy="106.89" r="1.1" fill="none" stroke="#7080c0" stroke-width="0.45"/>
<circle cx="437.41" cy="106.86" r="1.1" fill="none" stroke="#7080c0" stroke-width="0.45"/>
<circle cx="442.12" cy="106.57" r="1.1" fill="none" stroke="#7080c0" stroke-width="0.45"/>
<circle cx="446.83" cy="106.63" r="1.1" fill="none" stroke="#7080c0" stroke-width="0.45"/>
<circle cx="451.54" cy="106.85" r="1.1" fill="none" stroke="#7080c0" stroke-width="0.45"/>
<circle cx="456.24" cy="107.02" r="1.1" fill="none" stroke="#7080c0" stroke-width="0.45"/>
<circle cx="460.95" cy="106.88" r="1.1" fill="none" stroke="#7080c0" stroke-width="0.45"/>
<circle cx="465.66" cy="107.08" r="1.1" fill="none" stroke="#7080c0" stroke-width="0.45"/>
<circle cx="470.37" cy="106.66" r="1.1" fill="none" stroke="#7080c0" stroke-width="0.45"/>
<circle cx="475.08" cy="106.5" r="1.1" fill="none" stroke="#7080c0" stroke-width="0.45"/>
<circle cx="479.78" cy="106.83" r="1.1" fill="none" stroke="#7080c0" stroke-width="0.45"/>
<circle cx="484.49" cy="107.13" r="1.1" fill="none" stroke="#7080c0" stroke-width="0.45"/>
<circle cx="489.2" cy="107.03" r="1.1" fill="none" stroke="#7080c0" stroke-width="0.45"/>
<circle cx="372.09" cy="119.95" r="1.0" fill="none" stroke="#f08a8a" stroke-width="0.45"/>
<circle cx="375.03" cy="119.8" r="1.0" fill="none" stroke="#f08a8a" stroke-width="0.45"/>
<circle cx="377.97" cy="119.69" r="1.0" fill="none" stroke="#f08a8a" stroke-width="0.45"/>
<circle cx="380.92" cy="119.95" r="1.0" fill="none" stroke="#f08a8a" stroke-width="0.45"/>
<circle cx="383.86" cy="119.67" r="1.0" fill="none" stroke="#f08a8a" stroke-width="0.45"/>
<circle cx="386.8" cy="119.79" r="1.0" fill="none" stroke="#f08a8a" stroke-width="0.45"/>
<circle cx="389.74" cy="119.92" r="1.0" fill="none" stroke="#f08a8a" stroke-width="0.45"/>
<circle cx="392.69" cy="119.95" r="1.0" fill="none" stroke="#f08a8a" stroke-width="0.45"/>
<circle cx="395.63" cy="119.87" r="1.0" fill="none" stroke="#f08a8a" stroke-width="0.45"/>
<circle cx="398.57" cy="119.74" r="1.0" fill="none" stroke="#f08a8a" stroke-width="0.45"/>
<circle cx="401.51" cy="119.92" r="1.0" fill="none" stroke="#f08a8a" stroke-width="0.45"/>
<circle cx="404.46" cy="119.74" r="1.0" fill="none" stroke="#f08a8a" stroke-width="0.45"/>
<circle cx="407.4" cy="119.9" r="1.0" fill="none" stroke="#f08a8a" stroke-width="0.45"/>
<circle cx="410.34" cy="120.04" r="1.0" fill="none" stroke="#f08a8a" stroke-width="0.45"/>
<circle cx="413.28" cy="119.85" r="1.0" fill="none" stroke="#f08a8a" stroke-width="0.45"/>
<circle cx="416.23" cy="119.74" r="1.0" fill="none" stroke="#f08a8a" stroke-width="0.45"/>
<circle cx="419.17" cy="120.15" r="1.0" fill="none" stroke="#f08a8a" stroke-width="0.45"/>
<circle cx="422.11" cy="119.92" r="1.0" fill="none" stroke="#f08a8a" stroke-width="0.45"/>
<circle cx="425.05" cy="119.92" r="1.0" fill="none" stroke="#f08a8a" stroke-width="0.45"/>
<circle cx="428" cy="119.62" r="1.0" fill="none" stroke="#f08a8a" stroke-width="0.45"/>
<circle cx="430.94" cy="119.58" r="1.0" fill="none" stroke="#f08a8a" stroke-width="0.45"/>
<circle cx="433.88" cy="119.95" r="1.0" fill="none" stroke="#f08a8a" stroke-width="0.45"/>
<circle cx="436.82" cy="119.61" r="1.0" fill="none" stroke="#f08a8a" stroke-width="0.45"/>
<circle cx="439.77" cy="119.68" r="1.0" fill="none" stroke="#f08a8a" stroke-width="0.45"/>
<circle cx="442.71" cy="120.03" r="1.0" fill="none" stroke="#f08a8a" stroke-width="0.45"/>
<circle cx="445.65" cy="119.89" r="1.0" fill="none" stroke="#f08a8a" stroke-width="0.45"/>
<circle cx="448.59" cy="120.12" r="1.0" fill="none" stroke="#f08a8a" stroke-width="0.45"/>
<circle cx="451.54" cy="119.66" r="1.0" fill="none" stroke="#f08a8a" stroke-width="0.45"/>
<circle cx="454.48" cy="119.76" r="1.0" fill="none" stroke="#f08a8a" stroke-width="0.45"/>
<circle cx="457.42" cy="119.62" r="1.0" fill="none" stroke="#f08a8a" stroke-width="0.45"/>
<circle cx="460.36" cy="119.68" r="1.0" fill="none" stroke="#f08a8a" stroke-width="0.45"/>
<circle cx="463.31" cy="119.76" r="1.0" fill="none" stroke="#f08a8a" stroke-width="0.45"/>
<circle cx="466.25" cy="119.72" r="1.0" fill="none" stroke="#f08a8a" stroke-width="0.45"/>
<circle cx="469.19" cy="119.83" r="1.0" fill="none" stroke="#f08a8a" stroke-width="0.45"/>
<circle cx="472.13" cy="120.13" r="1.0" fill="none" stroke="#f08a8a" stroke-width="0.45"/>
<circle cx="475.08" cy="119.81" r="1.0" fill="none" stroke="#f08a8a" stroke-width="0.45"/>
<circle cx="478.02" cy="120.2" r="1.0" fill="none" stroke="#f08a8a" stroke-width="0.45"/>
<circle cx="480.96" cy="120.11" r="1.0" fill="none" stroke="#f08a8a" stroke-width="0.45"/>
<circle cx="483.9" cy="119.69" r="1.0" fill="none" stroke="#f08a8a" stroke-width="0.45"/>
<circle cx="486.85" cy="120.17" r="1.0" fill="none" stroke="#f08a8a" stroke-width="0.45"/>
<polyline points="371.5,120.2 372.09,119.02 372.68,117.83 373.27,116.65 373.85,115.46 374.44,114.28 375.03,113.29 375.62,112.3 376.21,111.32 376.8,110.33 377.38,109.34 377.97,108.45 378.56,107.57 379.15,106.68 379.74,105.79 380.33,104.9 380.92,104.01 381.5,103.12 382.09,102.24 382.68,101.35 383.27,100.46 383.86,99.8 384.45,99.14 385.04,98.49 385.62,97.83 386.21,97.17 386.8,96.51 387.39,95.85 387.98,95.2 388.57,94.54 389.15,93.88 389.74,93.25 390.33,92.63 390.92,92 391.51,91.38 392.1,90.75 392.69,90.13 393.27,89.5 393.86,88.88 394.45,88.25 395.04,87.63 395.63,87.07 396.22,86.51 396.81,85.95 397.39,85.39 397.98,84.83 398.57,84.27 399.16,83.71 399.75,83.15 400.34,82.6 400.93,82.04 401.51,81.64 402.1,81.25 402.69,80.85 403.28,80.46 403.87,80.06 404.46,79.67 405.04,79.27 405.63,78.88 406.22,78.48 406.81,78.09 407.4,77.78 407.99,77.46 408.58,77.15 409.16,76.84 409.75,76.53 410.34,76.21 410.93,75.9 411.52,75.59 412.11,75.28 412.69,74.96 413.28,74.65 413.87,74.34 414.46,74.02 415.05,73.71 415.64,73.4 416.23,73.09 416.81,72.77 417.4,72.46 417.99,72.15 418.58,71.84 419.17,71.56 419.76,71.28 420.35,71 420.93,70.72 421.52,70.44 422.11,70.16 422.7,69.88 423.29,69.6 423.88,69.32 424.46,69.04 425.05,68.76 425.64,68.48 426.23,68.2 426.82,67.92 427.41,67.64 428,67.36 428.58,67.08 429.17,66.8 429.76,66.52 430.35,66.24 430.94,65.98 431.53,65.72 432.12,65.45 432.7,65.19 433.29,64.93 433.88,64.66 434.47,64.4 435.06,64.14 435.65,63.88 436.24,63.61 436.82,63.35 437.41,63.09 438,62.82 438.59,62.56 439.18,62.3 439.77,62.03 440.35,61.77 440.94,61.51 441.53,61.24 442.12,60.98 442.71,60.7 443.3,60.42 443.89,60.14 444.47,59.86 445.06,59.58 445.65,59.3 446.24,59.02 446.83,58.74 447.42,58.46 448,58.18 448.59,57.9 449.18,57.62 449.77,57.34 450.36,57.06 450.95,56.79 451.54,56.51 452.12,56.23 452.71,55.95 453.3,55.67 453.89,55.39 454.48,55.12 455.07,54.86 455.66,54.6 456.24,54.33 456.83,54.07 457.42,53.81 458.01,53.54 458.6,53.28 459.19,53.02 459.77,52.76 460.36,52.49 460.95,52.23 461.54,51.97 462.13,51.7 462.72,51.44 463.31,51.18 463.89,50.91 464.48,50.65 465.07,50.39 465.66,50.12 466.25,49.86 466.84,49.6 467.43,49.33 468.01,49.07 468.6,48.81 469.19,48.54 469.78,48.28 470.37,48.02 470.96,47.75 471.54,47.49 472.13,47.23 472.72,46.96 473.31,46.7 473.9,46.44 474.49,46.17 475.08,45.91 475.66,45.65 476.25,45.39 476.84,45.12 477.43,44.86 478.02,44.58 478.61,44.3 479.2,44.02 479.78,43.74 480.37,43.46 480.96,43.18 481.55,42.9 482.14,42.62 482.73,42.34 483.31,42.06 483.9,41.78 484.49,41.5 485.08,41.22 485.67,40.94 486.26,40.66 486.85,40.38 487.43,40.1 488.02,39.83 488.61,39.55 489.2,39.27" fill="none" stroke="#c82828" stroke-width="1.15" stroke-linejoin="round" stroke-dasharray="2.8,1.5"/>
<text x="372.8" y="73.6" font-size="5.4" font-weight="bold" fill="#d42a2a">S<tspan font-size="3.8" dy="1">1</tspan><tspan dy="-1">= 56.1 kPa</tspan><tspan font-size="3.8" dy="-2">-1</tspan></text>
<text x="423.3" y="47" font-size="5.4" font-weight="bold" fill="#d42a2a">S<tspan font-size="3.8" dy="1">2</tspan><tspan dy="-1">= 17.7 kPa</tspan><tspan font-size="3.8" dy="-2">-1</tspan></text>
<circle cx="434" cy="70.7" r="1.1" fill="#7fd0d6"/>
<circle cx="434" cy="78.2" r="1.1" fill="none" stroke="#7080c0" stroke-width="0.5"/>
<circle cx="434" cy="85.5" r="1.0" fill="#f4a0a0"/>
<rect x="427.3" y="89.8" width="13.6" height="6.9" fill="#86d2d8"/>
<rect x="427.3" y="97.1" width="13.6" height="6.6" fill="#bfe8ec"/>
<text x="442.4" y="72.9" font-size="6.1" text-anchor="start" fill="#111" stroke="#111" font-weight="normal" >Intermittent</text>
<text x="442.4" y="80.4" font-size="6.1" text-anchor="start" fill="#111" stroke="#111" font-weight="normal" >Homogeneous</text>
<text x="442.4" y="87.7" font-size="6.1" text-anchor="start" fill="#111" stroke="#111" font-weight="normal" >Plane</text>
<text x="442.4" y="95.5" font-size="6.1" text-anchor="start" fill="#111" stroke="#111" font-weight="normal" >90% Confidence</text>
<text x="442.4" y="102.8" font-size="6.1" text-anchor="start" fill="#111" stroke="#111" font-weight="normal" >90% Predict</text>
<rect x="371.5" y="11.4" width="117.7" height="117.8" fill="none" stroke="#262626" stroke-width="0.9"/>
<line x1="368.9" y1="120.2" x2="371.5" y2="120.2" stroke="#262626" stroke-width="0.8"/>
<text x="367.5" y="122.6" font-size="6.5" text-anchor="end" fill="#111" stroke="#111" font-weight="normal" >0</text>
<line x1="368.9" y1="87.3" x2="371.5" y2="87.3" stroke="#262626" stroke-width="0.8"/>
<text x="367.5" y="89.7" font-size="6.5" text-anchor="end" fill="#111" stroke="#111" font-weight="normal" >100</text>
<line x1="368.9" y1="54.4" x2="371.5" y2="54.4" stroke="#262626" stroke-width="0.8"/>
<text x="367.5" y="56.8" font-size="6.5" text-anchor="end" fill="#111" stroke="#111" font-weight="normal" >200</text>
<line x1="368.9" y1="21.5" x2="371.5" y2="21.5" stroke="#262626" stroke-width="0.8"/>
<text x="367.5" y="23.9" font-size="6.5" text-anchor="end" fill="#111" stroke="#111" font-weight="normal" >300</text>
<line x1="370" y1="103.75" x2="371.5" y2="103.75" stroke="#262626" stroke-width="0.7"/>
<line x1="370" y1="70.85" x2="371.5" y2="70.85" stroke="#262626" stroke-width="0.7"/>
<line x1="370" y1="37.95" x2="371.5" y2="37.95" stroke="#262626" stroke-width="0.7"/>
<line x1="371.5" y1="129.2" x2="371.5" y2="131.8" stroke="#262626" stroke-width="0.8"/>
<text x="371.5" y="138" font-size="6.5" text-anchor="middle" fill="#111" stroke="#111" font-weight="normal" >0</text>
<line x1="395.04" y1="129.2" x2="395.04" y2="131.8" stroke="#262626" stroke-width="0.8"/>
<text x="395.04" y="138" font-size="6.5" text-anchor="middle" fill="#111" stroke="#111" font-weight="normal" >2</text>
<line x1="418.58" y1="129.2" x2="418.58" y2="131.8" stroke="#262626" stroke-width="0.8"/>
<text x="418.58" y="138" font-size="6.5" text-anchor="middle" fill="#111" stroke="#111" font-weight="normal" >4</text>
<line x1="442.12" y1="129.2" x2="442.12" y2="131.8" stroke="#262626" stroke-width="0.8"/>
<text x="442.12" y="138" font-size="6.5" text-anchor="middle" fill="#111" stroke="#111" font-weight="normal" >6</text>
<line x1="465.66" y1="129.2" x2="465.66" y2="131.8" stroke="#262626" stroke-width="0.8"/>
<text x="465.66" y="138" font-size="6.5" text-anchor="middle" fill="#111" stroke="#111" font-weight="normal" >8</text>
<line x1="489.2" y1="129.2" x2="489.2" y2="131.8" stroke="#262626" stroke-width="0.8"/>
<text x="489.2" y="138" font-size="6.5" text-anchor="middle" fill="#111" stroke="#111" font-weight="normal" >10</text>
<line x1="383.27" y1="129.2" x2="383.27" y2="130.7" stroke="#262626" stroke-width="0.7"/>
<line x1="406.81" y1="129.2" x2="406.81" y2="130.7" stroke="#262626" stroke-width="0.7"/>
<line x1="430.35" y1="129.2" x2="430.35" y2="130.7" stroke="#262626" stroke-width="0.7"/>
<line x1="453.89" y1="129.2" x2="453.89" y2="130.7" stroke="#262626" stroke-width="0.7"/>
<line x1="477.43" y1="129.2" x2="477.43" y2="130.7" stroke="#262626" stroke-width="0.7"/>
<text x="353.3" y="70.2" font-size="7.8" text-anchor="middle" fill="#111" stroke="#111" transform="rotate(-90 353.3 70.2)"><tspan font-family="Liberation Serif" font-style="italic">ΔI/I</tspan><tspan font-family="Liberation Serif" font-size="5.4" dy="1.6">0</tspan></text>
<text x="430.3" y="149" font-size="7.8" text-anchor="middle" fill="#111" stroke="#111" font-weight="normal" >Pressure (kPa)</text>
<polyline points="522,28.9 524,28.4 532.6,27.4 533.6,28.5 535.2,37.8 536.2,38.4 538,37.6 547.2,37 548.2,38 549.5,45.8 550.5,46 553,45 561.5,44 562.5,45.5 564,55.8 565,56.4 568,55.6 576.6,55.2 577.6,56.5 579.4,66.8 580.4,67.4 583,66.2 591.7,65.3 592.7,67 595,80.8 596,81.3 600,80.7 608,80.5 609,81.6 610.3,84.8 611.5,85.4 614,85.2 624.6,85.6 625.6,86.5 630,97.6 631,98.2 634,97.8 643.2,97.7 644.2,98.8 646.8,103 648,103.4 652,103.2 660.8,103.3 662,104 666.5,109.6 667.8,110 671,109.4 682.2,109.4" fill="none" stroke="#ec5a48" stroke-width="1.25" stroke-linejoin="round" />
<text x="521.8" y="25.6" font-size="5.6" text-anchor="start" fill="#3c92dc" stroke="#3c92dc" font-weight="normal" >6.17</text>
<text x="537.1" y="34.6" font-size="5.6" text-anchor="start" fill="#3c92dc" stroke="#3c92dc" font-weight="normal" >5.03</text>
<text x="550.7" y="42.7" font-size="5.6" text-anchor="start" fill="#3c92dc" stroke="#3c92dc" font-weight="normal" >4.35</text>
<text x="564.8" y="52.3" font-size="5.6" text-anchor="start" fill="#3c92dc" stroke="#3c92dc" font-weight="normal" >3.56</text>
<text x="580.4" y="63.3" font-size="5.6" text-anchor="start" fill="#3c92dc" stroke="#3c92dc" font-weight="normal" >2.70</text>
<text x="596.2" y="77.9" font-size="5.6" text-anchor="start" fill="#3c92dc" stroke="#3c92dc" font-weight="normal" >1.79</text>
<text x="611" y="84.7" font-size="5.6" text-anchor="start" fill="#3c92dc" stroke="#3c92dc" font-weight="normal" >1.51</text>
<text x="631.2" y="96.8" font-size="5.6" text-anchor="start" fill="#3c92dc" stroke="#3c92dc" font-weight="normal" >0.68</text>
<text x="647" y="101.8" font-size="5.6" text-anchor="start" fill="#3c92dc" stroke="#3c92dc" font-weight="normal" >0.40</text>
<text x="667.9" y="107.3" font-size="5.6" text-anchor="start" fill="#3c92dc" stroke="#3c92dc" font-weight="normal" >0.15</text>
<line x1="527" y1="116.1" x2="539.6" y2="116.1" stroke="#ec5a48" stroke-width="0.9"/>
<text x="542.1" y="118.3" font-size="6.1" text-anchor="start" fill="#111" stroke="#111" font-weight="normal" >Pressure from 0.15-6.17 kPa</text>
<text x="628" y="18.9" font-size="7.7" text-anchor="middle" fill="#111" stroke="#111" font-weight="normal" >Gradient force</text>
<defs><linearGradient id="arrG" x1="0" y1="0" x2="0" y2="1"><stop offset="0" stop-color="#fbd0cc"/><stop offset="1" stop-color="#e8504a"/></linearGradient><linearGradient id="cylG" x1="0" y1="0" x2="1" y2="0"><stop offset="0" stop-color="#a8e4ef"/><stop offset="0.5" stop-color="#dff6fa"/><stop offset="1" stop-color="#a8e4ef"/></linearGradient></defs>
<path d="M614.3,23.8 L616.9,23.8 L616.9,34 L619,34 L615.6,39 L612.2,34 L614.3,34 Z" fill="url(#arrG)"/>
<rect x="628" y="25.6" width="6.4" height="10" fill="url(#cylG)"/>
<path d="M620,37.5 L620,43 A11,2.4 0 0 0 642,43 L642,37.5 Z" fill="url(#cylG)"/>
<ellipse cx="631" cy="37.5" rx="11" ry="2.4" fill="#cdf1f7"/>
<rect x="628" y="34" width="6.4" height="3.4" fill="url(#cylG)"/>
<ellipse cx="631" cy="34.2" rx="3.2" ry="0.8" fill="#bfeef5"/>
<path d="M620,47.5 L620,55 A11,2.6 0 0 0 642,55 L642,47.5 Z" fill="url(#cylG)"/>
<ellipse cx="631" cy="47.5" rx="11" ry="2.6" fill="#7fd4e2"/>
<ellipse cx="631" cy="47.5" rx="3.5" ry="1.1" fill="#e2a8c0"/>
<text x="630.5" y="65.4" font-size="7.6" text-anchor="middle" fill="#111" stroke="#111" font-weight="normal" >Fixed</text>
<rect x="521.4" y="11.4" width="161.3" height="117.3" fill="none" stroke="#262626" stroke-width="0.9"/>
<line x1="518.8" y1="116" x2="521.4" y2="116" stroke="#262626" stroke-width="0.8"/>
<text x="517.4" y="118.4" font-size="6.5" text-anchor="end" fill="#111" stroke="#111" font-weight="normal" >0.0</text>
<line x1="518.8" y1="83.13" x2="521.4" y2="83.13" stroke="#262626" stroke-width="0.8"/>
<text x="517.4" y="85.53" font-size="6.5" text-anchor="end" fill="#111" stroke="#111" font-weight="normal" >0.5</text>
<line x1="518.8" y1="50.27" x2="521.4" y2="50.27" stroke="#262626" stroke-width="0.8"/>
<text x="517.4" y="52.67" font-size="6.5" text-anchor="end" fill="#111" stroke="#111" font-weight="normal" >1.0</text>
<line x1="518.8" y1="17.4" x2="521.4" y2="17.4" stroke="#262626" stroke-width="0.8"/>
<text x="517.4" y="19.8" font-size="6.5" text-anchor="end" fill="#111" stroke="#111" font-weight="normal" >1.5</text>
<line x1="519.9" y1="99.57" x2="521.4" y2="99.57" stroke="#262626" stroke-width="0.7"/>
<line x1="519.9" y1="66.7" x2="521.4" y2="66.7" stroke="#262626" stroke-width="0.7"/>
<line x1="519.9" y1="33.83" x2="521.4" y2="33.83" stroke="#262626" stroke-width="0.7"/>
<line x1="521.4" y1="128.7" x2="521.4" y2="131.3" stroke="#262626" stroke-width="0.8"/>
<text x="521.4" y="138.7" font-size="6.5" text-anchor="middle" fill="#111" stroke="#111" font-weight="normal" >0</text>
<line x1="574.2" y1="128.7" x2="574.2" y2="131.3" stroke="#262626" stroke-width="0.8"/>
<text x="574.2" y="138.7" font-size="6.5" text-anchor="middle" fill="#111" stroke="#111" font-weight="normal" >40</text>
<line x1="627" y1="128.7" x2="627" y2="131.3" stroke="#262626" stroke-width="0.8"/>
<text x="627" y="138.7" font-size="6.5" text-anchor="middle" fill="#111" stroke="#111" font-weight="normal" >80</text>
<line x1="679.8" y1="128.7" x2="679.8" y2="131.3" stroke="#262626" stroke-width="0.8"/>
<text x="679.8" y="138.7" font-size="6.5" text-anchor="middle" fill="#111" stroke="#111" font-weight="normal" >120</text>
<line x1="547.8" y1="128.7" x2="547.8" y2="130.2" stroke="#262626" stroke-width="0.7"/>
<line x1="600.6" y1="128.7" x2="600.6" y2="130.2" stroke="#262626" stroke-width="0.7"/>
<line x1="653.4" y1="128.7" x2="653.4" y2="130.2" stroke="#262626" stroke-width="0.7"/>
<text x="501.8" y="67.4" font-size="7.8" text-anchor="middle" fill="#111" stroke="#111" transform="rotate(-90 501.8 67.4)">Current (mA)</text>
<text x="602.3" y="149.2" font-size="7.8" text-anchor="middle" fill="#111" stroke="#111" font-weight="normal" >Time (s)</text>
<rect x="22.2" y="172.2" width="44.9" height="120.4" fill="#0c0c0e"/>
<rect x="22.2" y="172.2" width="44.9" height="3" fill="#3a3428"/>
<defs><linearGradient id="stripG" x1="0" y1="0" x2="1" y2="0"><stop offset="0" stop-color="#aebccc"/><stop offset="0.25" stop-color="#98a8ba"/><stop offset="0.7" stop-color="#8898aa"/><stop offset="1" stop-color="#66768a"/></linearGradient></defs>
<polygon points="29.2,175.2 59.3,175.2 55.3,232 58.7,291.5 30.5,291.5 33.2,232" fill="url(#stripG)" />
<rect x="22.2" y="291.5" width="44.9" height="1.1" fill="#6a7a40"/>
<rect x="29.4" y="175.2" width="29.8" height="5" fill="#b4bcc6" opacity="0.7"/>
<path d="M44.6,179.5 C53.67,176.1 53.67,189.4 44.6,186 C35.53,182.6 35.53,195.9 44.6,192.5 C53.67,189.1 53.67,202.4 44.6,199 C35.53,195.6 35.53,208.9 44.6,205.5 C53.67,202.1 53.67,215.4 44.6,212 C35.53,208.6 35.53,221.9 44.6,218.5" fill="none" stroke="#eef0f4" stroke-width="2.8" stroke-linecap="round" />
<path d="M44.6,250 C35.53,246.6 35.53,259.9 44.6,256.5 C53.67,253.1 53.67,266.4 44.6,263 C35.53,259.6 35.53,272.9 44.6,269.5 C53.67,266.1 53.67,279.4 44.6,276 C35.53,272.6 35.53,285.9 44.6,282.5 C53.67,279.1 53.67,292.4 44.6,289" fill="none" stroke="#eef0f4" stroke-width="2.8" stroke-linecap="round" />
<rect x="35.4" y="221" width="16.4" height="24" fill="#3a4858"/>
<polygon points="37.4,228.5 49.6,225.5 49.6,238.5 37.4,241" fill="#9a9ca6" />
<line x1="37.6" y1="240.6" x2="38.2" y2="228.4" stroke="#d0d0d8" stroke-width="0.35"/>
<line x1="38.6" y1="240.4" x2="39.2" y2="228.15" stroke="#d0d0d8" stroke-width="0.35"/>
<line x1="39.6" y1="240.2" x2="40.2" y2="227.9" stroke="#d0d0d8" stroke-width="0.35"/>
<line x1="40.6" y1="240" x2="41.2" y2="227.65" stroke="#d0d0d8" stroke-width="0.35"/>
<line x1="41.6" y1="239.8" x2="42.2" y2="227.4" stroke="#d0d0d8" stroke-width="0.35"/>
<line x1="42.6" y1="239.6" x2="43.2" y2="227.15" stroke="#d0d0d8" stroke-width="0.35"/>
<line x1="43.6" y1="239.4" x2="44.2" y2="226.9" stroke="#d0d0d8" stroke-width="0.35"/>
<line x1="44.6" y1="239.2" x2="45.2" y2="226.65" stroke="#d0d0d8" stroke-width="0.35"/>
<line x1="45.6" y1="239" x2="46.2" y2="226.4" stroke="#d0d0d8" stroke-width="0.35"/>
<line x1="46.6" y1="238.8" x2="47.2" y2="226.15" stroke="#d0d0d8" stroke-width="0.35"/>
<line x1="47.6" y1="238.6" x2="48.2" y2="225.9" stroke="#d0d0d8" stroke-width="0.35"/>
<line x1="48.6" y1="238.4" x2="49.2" y2="225.65" stroke="#d0d0d8" stroke-width="0.35"/>
<line x1="42.3" y1="221.5" x2="44" y2="244.5" stroke="#e8eaf0" stroke-width="0.8"/>
<rect x="35.1" y="217.1" width="16.4" height="4.6" fill="#d4e0ec"/>
<rect x="35.1" y="244.2" width="16.4" height="4.0" fill="#d4e0ec"/>
<rect x="36.0" y="221.5" width="1.7" height="23" fill="#c8d6e4"/>
<rect x="49.4" y="221.5" width="2.1" height="23" fill="#c8d6e4"/>
<defs><linearGradient id="simG" x1="0" y1="0" x2="1" y2="0"><stop offset="0" stop-color="#1e7cff"/><stop offset="0.5" stop-color="#1040f8"/><stop offset="1" stop-color="#1e7cff"/></linearGradient></defs>
<path d="M82.3,178.5 C73.5,175.1 73.5,188.3 82.3,184.9 C91.1,181.5 91.1,194.7 82.3,191.3 C73.5,187.9 73.5,201.1 82.3,197.7 C91.1,194.3 91.1,207.5 82.3,204.1 C73.5,200.7 73.5,213.9 82.3,210.5 C91.1,207.1 91.1,220.3 82.3,216.9" fill="none" stroke="#20b4ff" stroke-width="3.0" stroke-linecap="round" />
<path d="M82.3,178.5 C73.5,175.1 73.5,188.3 82.3,184.9 C91.1,181.5 91.1,194.7 82.3,191.3 C73.5,187.9 73.5,201.1 82.3,197.7 C91.1,194.3 91.1,207.5 82.3,204.1 C73.5,200.7 73.5,213.9 82.3,210.5 C91.1,207.1 91.1,220.3 82.3,216.9" fill="none" stroke="#1040f4" stroke-width="1.7" stroke-linecap="round" />
<path d="M82.3,249.5 C91.1,246.1 91.1,259.3 82.3,255.9 C73.5,252.5 73.5,265.7 82.3,262.3 C91.1,258.9 91.1,272.1 82.3,268.7 C73.5,265.3 73.5,278.5 82.3,275.1 C91.1,271.7 91.1,284.9 82.3,281.5 C73.5,278.1 73.5,291.3 82.3,287.9" fill="none" stroke="#20b4ff" stroke-width="3.0" stroke-linecap="round" />
<path d="M82.3,249.5 C91.1,246.1 91.1,259.3 82.3,255.9 C73.5,252.5 73.5,265.7 82.3,262.3 C91.1,258.9 91.1,272.1 82.3,268.7 C73.5,265.3 73.5,278.5 82.3,275.1 C91.1,271.7 91.1,284.9 82.3,281.5 C73.5,278.1 73.5,291.3 82.3,287.9" fill="none" stroke="#1040f4" stroke-width="1.7" stroke-linecap="round" />
<circle cx="84.3" cy="176.3" r="2.0" fill="#0a30e8"/>
<circle cx="84.3" cy="285.6" r="2.0" fill="#0a30e8"/>
<polygon points="75.5,225.9 88.9,222.7 88.9,238.7 75.5,239.5" fill="#c4cbf8" />
<line x1="75.5" y1="225.9" x2="88.9" y2="222.7" stroke="#3a4cee" stroke-width="0.35"/>
<line x1="75.5" y1="226.47" x2="88.9" y2="223.37" stroke="#3a4cee" stroke-width="0.35"/>
<line x1="75.5" y1="227.03" x2="88.9" y2="224.03" stroke="#3a4cee" stroke-width="0.35"/>
<line x1="75.5" y1="227.6" x2="88.9" y2="224.7" stroke="#3a4cee" stroke-width="0.35"/>
<line x1="75.5" y1="228.17" x2="88.9" y2="225.37" stroke="#3a4cee" stroke-width="0.35"/>
<line x1="75.5" y1="228.73" x2="88.9" y2="226.03" stroke="#3a4cee" stroke-width="0.35"/>
<line x1="75.5" y1="229.3" x2="88.9" y2="226.7" stroke="#3a4cee" stroke-width="0.35"/>
<line x1="75.5" y1="229.87" x2="88.9" y2="227.37" stroke="#3a4cee" stroke-width="0.35"/>
<line x1="75.5" y1="230.43" x2="88.9" y2="228.03" stroke="#3a4cee" stroke-width="0.35"/>
<line x1="75.5" y1="231" x2="88.9" y2="228.7" stroke="#3a4cee" stroke-width="0.35"/>
<line x1="75.5" y1="231.57" x2="88.9" y2="229.37" stroke="#3a4cee" stroke-width="0.35"/>
<line x1="75.5" y1="232.13" x2="88.9" y2="230.03" stroke="#3a4cee" stroke-width="0.35"/>
<line x1="75.5" y1="232.7" x2="88.9" y2="230.7" stroke="#3a4cee" stroke-width="0.35"/>
<line x1="75.5" y1="233.27" x2="88.9" y2="231.37" stroke="#3a4cee" stroke-width="0.35"/>
<line x1="75.5" y1="233.83" x2="88.9" y2="232.03" stroke="#3a4cee" stroke-width="0.35"/>
<line x1="75.5" y1="234.4" x2="88.9" y2="232.7" stroke="#3a4cee" stroke-width="0.35"/>
<line x1="75.5" y1="234.97" x2="88.9" y2="233.37" stroke="#3a4cee" stroke-width="0.35"/>
<line x1="75.5" y1="235.53" x2="88.9" y2="234.03" stroke="#3a4cee" stroke-width="0.35"/>
<line x1="75.5" y1="236.1" x2="88.9" y2="234.7" stroke="#3a4cee" stroke-width="0.35"/>
<line x1="75.5" y1="236.67" x2="88.9" y2="235.37" stroke="#3a4cee" stroke-width="0.35"/>
<line x1="75.5" y1="237.23" x2="88.9" y2="236.03" stroke="#3a4cee" stroke-width="0.35"/>
<line x1="75.5" y1="237.8" x2="88.9" y2="236.7" stroke="#3a4cee" stroke-width="0.35"/>
<line x1="75.5" y1="238.37" x2="88.9" y2="237.37" stroke="#3a4cee" stroke-width="0.35"/>
<line x1="75.5" y1="238.93" x2="88.9" y2="238.03" stroke="#3a4cee" stroke-width="0.35"/>
<line x1="75.5" y1="239.5" x2="88.9" y2="238.7" stroke="#3a4cee" stroke-width="0.35"/>
<rect x="72.3" y="215" width="19.9" height="5.2" fill="#0a2cf2"/>
<rect x="72.3" y="242.6" width="19.9" height="5.4" fill="#0a2cf2"/>
<rect x="72.3" y="215" width="3.2" height="33" fill="#0a2cf2"/>
<rect x="89" y="215" width="3.2" height="9.8" fill="#0a2cf2"/>
<rect x="89" y="238" width="3.2" height="10" fill="#0a2cf2"/>
<defs><linearGradient id="ph2" x1="0" y1="0" x2="1" y2="0"><stop offset="0" stop-color="#c8c4bc"/><stop offset="0.25" stop-color="#dedbd4"/><stop offset="0.8" stop-color="#e2dfd8"/><stop offset="1" stop-color="#cfcbc3"/></linearGradient></defs>
<rect x="101.2" y="172.2" width="43.3" height="119.5" fill="url(#ph2)"/>
<rect x="101.2" y="172.2" width="43.3" height="4" fill="#5a5852"/>
<rect x="101.2" y="176.2" width="43.3" height="3" fill="#9a968e"/>
<path d="M121.6,183.5 C130.4,180.1 130.4,193.4 121.6,190 C112.8,186.6 112.8,199.9 121.6,196.5 C130.4,193.1 130.4,206.4 121.6,203 C112.8,199.6 112.8,212.9 121.6,209.5 C130.4,206.1 130.4,219.4 121.6,216 C112.8,212.6 112.8,225.9 121.6,222.5" fill="none" stroke="#1a1a1e" stroke-width="2.1" stroke-linecap="round" />
<path d="M121.6,250.5 C112.8,247.1 112.8,260.4 121.6,257 C130.4,253.6 130.4,266.9 121.6,263.5 C112.8,260.1 112.8,273.4 121.6,270 C130.4,266.6 130.4,279.9 121.6,276.5 C112.8,273.1 112.8,286.4 121.6,283 C130.4,279.6 130.4,292.9 121.6,289.5" fill="none" stroke="#1a1a1e" stroke-width="2.1" stroke-linecap="round" />
<circle cx="123.3" cy="185.3" r="1.4" fill="#1a1a1e"/>
<circle cx="120.6" cy="286.2" r="1.4" fill="#1a1a1e"/>
<defs><linearGradient id="p2in" x1="0" y1="0" x2="1" y2="1"><stop offset="0" stop-color="#5a5858"/><stop offset="0.5" stop-color="#a8a6a4"/><stop offset="1" stop-color="#6a6866"/></linearGradient></defs>
<rect x="116.5" y="224" width="14" height="19.5" fill="url(#p2in)"/>
<rect x="115.0" y="221.0" width="18.0" height="3.3" fill="#2a2628"/>
<rect x="115.0" y="243.2" width="18.0" height="4.3" fill="#2a2628"/>
<rect x="115.0" y="221.0" width="1.9" height="26.5" fill="#2a2628"/>
<rect x="129.8" y="221.0" width="3.2" height="8.0" fill="#2a2628"/>
<rect x="129.8" y="238.5" width="3.2" height="9.0" fill="#2a2628"/>
<rect x="101.2" y="289.8" width="43.3" height="1.9" fill="#5a5850"/>
<line x1="124.6" y1="288.6" x2="141.9" y2="288.6" stroke="#fff" stroke-width="1.5"/>
<path d="M160.3,178.8 C151.23,175.4 151.23,188.6 160.3,185.2 C169.37,181.8 169.37,195 160.3,191.6 C151.23,188.2 151.23,201.4 160.3,198 C169.37,194.6 169.37,207.8 160.3,204.4 C151.23,201 151.23,214.2 160.3,210.8 C169.37,207.4 169.37,220.6 160.3,217.2" fill="none" stroke="#30d8ec" stroke-width="3.0" stroke-linecap="round" />
<path d="M160.3,178.8 C151.23,175.4 151.23,188.6 160.3,185.2 C169.37,181.8 169.37,195 160.3,191.6 C151.23,188.2 151.23,201.4 160.3,198 C169.37,194.6 169.37,207.8 160.3,204.4 C151.23,201 151.23,214.2 160.3,210.8 C169.37,207.4 169.37,220.6 160.3,217.2" fill="none" stroke="#1050f0" stroke-width="1.6" stroke-linecap="round" />
<path d="M160.3,249.3 C169.37,245.9 169.37,259.1 160.3,255.7 C151.23,252.3 151.23,265.5 160.3,262.1 C169.37,258.7 169.37,271.9 160.3,268.5 C151.23,265.1 151.23,278.3 160.3,274.9 C169.37,271.5 169.37,284.7 160.3,281.3 C151.23,277.9 151.23,291.1 160.3,287.7" fill="none" stroke="#30d8ec" stroke-width="3.0" stroke-linecap="round" />
<path d="M160.3,249.3 C169.37,245.9 169.37,259.1 160.3,255.7 C151.23,252.3 151.23,265.5 160.3,262.1 C169.37,258.7 169.37,271.9 160.3,268.5 C151.23,265.1 151.23,278.3 160.3,274.9 C169.37,271.5 169.37,284.7 160.3,281.3 C151.23,277.9 151.23,291.1 160.3,287.7" fill="none" stroke="#1050f0" stroke-width="1.6" stroke-linecap="round" />
<circle cx="160.3" cy="176.6" r="2.0" fill="#0a30e8"/>
<circle cx="160.3" cy="286.4" r="2.0" fill="#0a30e8"/>
<polygon points="153.9,224.3 168.3,224 168.3,239.2 153.9,239.5" fill="#c4cbf8" />
<line x1="153.9" y1="224.3" x2="168.3" y2="224" stroke="#3a4cee" stroke-width="0.35"/>
<line x1="153.9" y1="224.93" x2="168.3" y2="224.63" stroke="#3a4cee" stroke-width="0.35"/>
<line x1="153.9" y1="225.57" x2="168.3" y2="225.27" stroke="#3a4cee" stroke-width="0.35"/>
<line x1="153.9" y1="226.2" x2="168.3" y2="225.9" stroke="#3a4cee" stroke-width="0.35"/>
<line x1="153.9" y1="226.83" x2="168.3" y2="226.53" stroke="#3a4cee" stroke-width="0.35"/>
<line x1="153.9" y1="227.47" x2="168.3" y2="227.17" stroke="#3a4cee" stroke-width="0.35"/>
<line x1="153.9" y1="228.1" x2="168.3" y2="227.8" stroke="#3a4cee" stroke-width="0.35"/>
<line x1="153.9" y1="228.73" x2="168.3" y2="228.43" stroke="#3a4cee" stroke-width="0.35"/>
<line x1="153.9" y1="229.37" x2="168.3" y2="229.07" stroke="#3a4cee" stroke-width="0.35"/>
<line x1="153.9" y1="230" x2="168.3" y2="229.7" stroke="#3a4cee" stroke-width="0.35"/>
<line x1="153.9" y1="230.63" x2="168.3" y2="230.33" stroke="#3a4cee" stroke-width="0.35"/>
<line x1="153.9" y1="231.27" x2="168.3" y2="230.97" stroke="#3a4cee" stroke-width="0.35"/>
<line x1="153.9" y1="231.9" x2="168.3" y2="231.6" stroke="#3a4cee" stroke-width="0.35"/>
<line x1="153.9" y1="232.53" x2="168.3" y2="232.23" stroke="#3a4cee" stroke-width="0.35"/>
<line x1="153.9" y1="233.17" x2="168.3" y2="232.87" stroke="#3a4cee" stroke-width="0.35"/>
<line x1="153.9" y1="233.8" x2="168.3" y2="233.5" stroke="#3a4cee" stroke-width="0.35"/>
<line x1="153.9" y1="234.43" x2="168.3" y2="234.13" stroke="#3a4cee" stroke-width="0.35"/>
<line x1="153.9" y1="235.07" x2="168.3" y2="234.77" stroke="#3a4cee" stroke-width="0.35"/>
<line x1="153.9" y1="235.7" x2="168.3" y2="235.4" stroke="#3a4cee" stroke-width="0.35"/>
<line x1="153.9" y1="236.33" x2="168.3" y2="236.03" stroke="#3a4cee" stroke-width="0.35"/>
<line x1="153.9" y1="236.97" x2="168.3" y2="236.67" stroke="#3a4cee" stroke-width="0.35"/>
<line x1="153.9" y1="237.6" x2="168.3" y2="237.3" stroke="#3a4cee" stroke-width="0.35"/>
<line x1="153.9" y1="238.23" x2="168.3" y2="237.93" stroke="#3a4cee" stroke-width="0.35"/>
<line x1="153.9" y1="238.87" x2="168.3" y2="238.57" stroke="#3a4cee" stroke-width="0.35"/>
<line x1="153.9" y1="239.5" x2="168.3" y2="239.2" stroke="#3a4cee" stroke-width="0.35"/>
<rect x="151.1" y="215" width="20.5" height="5.6" fill="#0a2cf2"/>
<rect x="151.1" y="242.2" width="20.5" height="5.3" fill="#0a2cf2"/>
<rect x="151.1" y="215" width="2.8" height="32.5" fill="#0a2cf2"/>
<rect x="168.4" y="215" width="3.2" height="9.6" fill="#0a2cf2"/>
<rect x="168.4" y="238.2" width="3.2" height="9.3" fill="#0a2cf2"/>
<defs><linearGradient id="jet" x1="0" y1="1" x2="0" y2="0"><stop offset="0" stop-color="#0010ff"/><stop offset="0.12" stop-color="#0050ff"/><stop offset="0.3" stop-color="#00c0ff"/><stop offset="0.45" stop-color="#20f0c0"/><stop offset="0.6" stop-color="#a0f040"/><stop offset="0.72" stop-color="#f8f000"/><stop offset="0.86" stop-color="#ff8000"/><stop offset="1" stop-color="#e81800"/></linearGradient></defs>
<rect x="176.6" y="182" width="6.6" height="106.8" fill="url(#jet)"/>
<text x="173.2" y="172.6" font-size="6.3" fill="#111">N/m<tspan font-size="4.2" dy="-2.2">2</tspan></text>
<text x="173.0" y="179.2" font-size="6.3" fill="#111">×10<tspan font-size="4.2" dy="-2.2">8</tspan></text>
<text x="185.6" y="186.6" font-size="6.4" text-anchor="start" fill="#111" stroke="#111" font-weight="normal" >1.4</text>
<text x="185.6" y="290.4" font-size="6.4" text-anchor="start" fill="#111" stroke="#111" font-weight="normal" >0</text>
<text x="102.3" y="304.6" font-size="7.5" text-anchor="middle" fill="#111" stroke="#111" font-weight="normal" >20% Tensile strain</text>
<polygon points="234.1,279.23 332.2,190.42 332.2,208.61 234.1,281.37" fill="#f8a8a8" opacity="0.8"/>
<polygon points="234.1,278.69 332.2,274.09 332.2,276.56 234.1,281.37" fill="#a8dcea" opacity="0.9"/>
<circle cx="234.1" cy="280.3" r="1.7" fill="none" stroke="#f28a7a" stroke-width="0.6"/>
<circle cx="239" cy="276.21" r="1.7" fill="none" stroke="#f28a7a" stroke-width="0.6"/>
<circle cx="243.91" cy="272.11" r="1.7" fill="none" stroke="#f28a7a" stroke-width="0.6"/>
<circle cx="248.81" cy="268.02" r="1.7" fill="none" stroke="#f28a7a" stroke-width="0.6"/>
<circle cx="253.72" cy="263.93" r="1.7" fill="none" stroke="#f28a7a" stroke-width="0.6"/>
<circle cx="258.62" cy="259.84" r="1.7" fill="none" stroke="#f28a7a" stroke-width="0.6"/>
<circle cx="263.53" cy="255.74" r="1.7" fill="none" stroke="#f28a7a" stroke-width="0.6"/>
<circle cx="268.44" cy="251.65" r="1.7" fill="none" stroke="#f28a7a" stroke-width="0.6"/>
<circle cx="273.34" cy="247.56" r="1.7" fill="none" stroke="#f28a7a" stroke-width="0.6"/>
<circle cx="278.25" cy="243.47" r="1.7" fill="none" stroke="#f28a7a" stroke-width="0.6"/>
<circle cx="283.15" cy="239.37" r="1.7" fill="none" stroke="#f28a7a" stroke-width="0.6"/>
<circle cx="288.06" cy="235.28" r="1.7" fill="none" stroke="#f28a7a" stroke-width="0.6"/>
<circle cx="292.96" cy="231.19" r="1.7" fill="none" stroke="#f28a7a" stroke-width="0.6"/>
<circle cx="297.87" cy="227.09" r="1.7" fill="none" stroke="#f28a7a" stroke-width="0.6"/>
<circle cx="302.77" cy="223" r="1.7" fill="none" stroke="#f28a7a" stroke-width="0.6"/>
<circle cx="307.68" cy="218.91" r="1.7" fill="none" stroke="#f28a7a" stroke-width="0.6"/>
<circle cx="312.58" cy="214.82" r="1.7" fill="none" stroke="#f28a7a" stroke-width="0.6"/>
<circle cx="317.49" cy="210.72" r="1.7" fill="none" stroke="#f28a7a" stroke-width="0.6"/>
<circle cx="322.39" cy="206.63" r="1.7" fill="none" stroke="#f28a7a" stroke-width="0.6"/>
<circle cx="327.29" cy="202.54" r="1.7" fill="none" stroke="#f28a7a" stroke-width="0.6"/>
<circle cx="332.2" cy="198.44" r="1.7" fill="none" stroke="#f28a7a" stroke-width="0.6"/>
<line x1="234.1" y1="282.01" x2="234.1" y2="277.73" stroke="#f07070" stroke-width="0.6"/>
<line x1="232.9" y1="282.01" x2="235.3" y2="282.01" stroke="#f07070" stroke-width="0.5"/>
<line x1="232.9" y1="277.73" x2="235.3" y2="277.73" stroke="#f07070" stroke-width="0.5"/>
<circle cx="234.1" cy="279.87" r="1.9" fill="#f07070"/>
<line x1="243.91" y1="277.73" x2="243.91" y2="273.45" stroke="#f07070" stroke-width="0.6"/>
<line x1="242.71" y1="277.73" x2="245.11" y2="277.73" stroke="#f07070" stroke-width="0.5"/>
<line x1="242.71" y1="273.45" x2="245.11" y2="273.45" stroke="#f07070" stroke-width="0.5"/>
<circle cx="243.91" cy="275.59" r="1.9" fill="#f07070"/>
<line x1="253.72" y1="267.67" x2="253.72" y2="256.97" stroke="#f07070" stroke-width="0.6"/>
<line x1="252.52" y1="267.67" x2="254.92" y2="267.67" stroke="#f07070" stroke-width="0.5"/>
<line x1="252.52" y1="256.97" x2="254.92" y2="256.97" stroke="#f07070" stroke-width="0.5"/>
<circle cx="253.72" cy="262.32" r="1.9" fill="#f07070"/>
<line x1="263.53" y1="265.32" x2="263.53" y2="256.76" stroke="#f07070" stroke-width="0.6"/>
<line x1="262.33" y1="265.32" x2="264.73" y2="265.32" stroke="#f07070" stroke-width="0.5"/>
<line x1="262.33" y1="256.76" x2="264.73" y2="256.76" stroke="#f07070" stroke-width="0.5"/>
<circle cx="263.53" cy="261.04" r="1.9" fill="#f07070"/>
<line x1="273.34" y1="258.04" x2="273.34" y2="251.62" stroke="#f07070" stroke-width="0.6"/>
<line x1="272.14" y1="258.04" x2="274.54" y2="258.04" stroke="#f07070" stroke-width="0.5"/>
<line x1="272.14" y1="251.62" x2="274.54" y2="251.62" stroke="#f07070" stroke-width="0.5"/>
<circle cx="273.34" cy="254.83" r="1.9" fill="#f07070"/>
<line x1="283.15" y1="245.42" x2="283.15" y2="239" stroke="#f07070" stroke-width="0.6"/>
<line x1="281.95" y1="245.42" x2="284.35" y2="245.42" stroke="#f07070" stroke-width="0.5"/>
<line x1="281.95" y1="239" x2="284.35" y2="239" stroke="#f07070" stroke-width="0.5"/>
<circle cx="283.15" cy="242.21" r="1.9" fill="#f07070"/>
<line x1="292.96" y1="227.55" x2="292.96" y2="218.99" stroke="#f07070" stroke-width="0.6"/>
<line x1="291.76" y1="227.55" x2="294.16" y2="227.55" stroke="#f07070" stroke-width="0.5"/>
<line x1="291.76" y1="218.99" x2="294.16" y2="218.99" stroke="#f07070" stroke-width="0.5"/>
<circle cx="292.96" cy="223.27" r="1.9" fill="#f07070"/>
<line x1="302.77" y1="221.45" x2="302.77" y2="215.03" stroke="#f07070" stroke-width="0.6"/>
<line x1="301.57" y1="221.45" x2="303.97" y2="221.45" stroke="#f07070" stroke-width="0.5"/>
<line x1="301.57" y1="215.03" x2="303.97" y2="215.03" stroke="#f07070" stroke-width="0.5"/>
<circle cx="302.77" cy="218.24" r="1.9" fill="#f07070"/>
<line x1="312.58" y1="212.36" x2="312.58" y2="208.07" stroke="#f07070" stroke-width="0.6"/>
<line x1="311.38" y1="212.36" x2="313.78" y2="212.36" stroke="#f07070" stroke-width="0.5"/>
<line x1="311.38" y1="208.07" x2="313.78" y2="208.07" stroke="#f07070" stroke-width="0.5"/>
<circle cx="312.58" cy="210.21" r="1.9" fill="#f07070"/>
<line x1="322.39" y1="203.9" x2="322.39" y2="197.48" stroke="#f07070" stroke-width="0.6"/>
<line x1="321.19" y1="203.9" x2="323.59" y2="203.9" stroke="#f07070" stroke-width="0.5"/>
<line x1="321.19" y1="197.48" x2="323.59" y2="197.48" stroke="#f07070" stroke-width="0.5"/>
<circle cx="322.39" cy="200.69" r="1.9" fill="#f07070"/>
<line x1="332.2" y1="201.44" x2="332.2" y2="195.02" stroke="#f07070" stroke-width="0.6"/>
<line x1="331" y1="201.44" x2="333.4" y2="201.44" stroke="#f07070" stroke-width="0.5"/>
<line x1="331" y1="195.02" x2="333.4" y2="195.02" stroke="#f07070" stroke-width="0.5"/>
<circle cx="332.2" cy="198.23" r="1.9" fill="#f07070"/>
<line x1="234.1" y1="282.44" x2="234.1" y2="278.16" stroke="#3cbcd0" stroke-width="0.6"/>
<line x1="232.9" y1="282.44" x2="235.3" y2="282.44" stroke="#3cbcd0" stroke-width="0.5"/>
<line x1="232.9" y1="278.16" x2="235.3" y2="278.16" stroke="#3cbcd0" stroke-width="0.5"/>
<polygon points="234.1,278.3 236,281.5 232.2,281.5" fill="#3cbcd0" stroke="none" stroke-width="0.5"/>
<line x1="243.91" y1="281.37" x2="243.91" y2="278.16" stroke="#3cbcd0" stroke-width="0.6"/>
<line x1="242.71" y1="281.37" x2="245.11" y2="281.37" stroke="#3cbcd0" stroke-width="0.5"/>
<line x1="242.71" y1="278.16" x2="245.11" y2="278.16" stroke="#3cbcd0" stroke-width="0.5"/>
<polygon points="243.91,277.76 245.81,280.96 242.01,280.96" fill="#3cbcd0" stroke="none" stroke-width="0.5"/>
<line x1="253.72" y1="283.51" x2="253.72" y2="277.09" stroke="#3cbcd0" stroke-width="0.6"/>
<line x1="252.52" y1="283.51" x2="254.92" y2="283.51" stroke="#3cbcd0" stroke-width="0.5"/>
<line x1="252.52" y1="277.09" x2="254.92" y2="277.09" stroke="#3cbcd0" stroke-width="0.5"/>
<polygon points="253.72,278.3 255.62,281.5 251.82,281.5" fill="#3cbcd0" stroke="none" stroke-width="0.5"/>
<line x1="263.53" y1="281.91" x2="263.53" y2="276.56" stroke="#3cbcd0" stroke-width="0.6"/>
<line x1="262.33" y1="281.91" x2="264.73" y2="281.91" stroke="#3cbcd0" stroke-width="0.5"/>
<line x1="262.33" y1="276.56" x2="264.73" y2="276.56" stroke="#3cbcd0" stroke-width="0.5"/>
<polygon points="263.53,277.23 265.43,280.43 261.63,280.43" fill="#3cbcd0" stroke="none" stroke-width="0.5"/>
<line x1="273.34" y1="281.37" x2="273.34" y2="277.09" stroke="#3cbcd0" stroke-width="0.6"/>
<line x1="272.14" y1="281.37" x2="274.54" y2="281.37" stroke="#3cbcd0" stroke-width="0.5"/>
<line x1="272.14" y1="277.09" x2="274.54" y2="277.09" stroke="#3cbcd0" stroke-width="0.5"/>
<polygon points="273.34,277.23 275.24,280.43 271.44,280.43" fill="#3cbcd0" stroke="none" stroke-width="0.5"/>
<line x1="283.15" y1="281.37" x2="283.15" y2="274.95" stroke="#3cbcd0" stroke-width="0.6"/>
<line x1="281.95" y1="281.37" x2="284.35" y2="281.37" stroke="#3cbcd0" stroke-width="0.5"/>
<line x1="281.95" y1="274.95" x2="284.35" y2="274.95" stroke="#3cbcd0" stroke-width="0.5"/>
<polygon points="283.15,276.16 285.05,279.36 281.25,279.36" fill="#3cbcd0" stroke="none" stroke-width="0.5"/>
<line x1="292.96" y1="280.83" x2="292.96" y2="275.49" stroke="#3cbcd0" stroke-width="0.6"/>
<line x1="291.76" y1="280.83" x2="294.16" y2="280.83" stroke="#3cbcd0" stroke-width="0.5"/>
<line x1="291.76" y1="275.49" x2="294.16" y2="275.49" stroke="#3cbcd0" stroke-width="0.5"/>
<polygon points="292.96,276.16 294.86,279.36 291.06,279.36" fill="#3cbcd0" stroke="none" stroke-width="0.5"/>
<line x1="302.77" y1="280.3" x2="302.77" y2="274.95" stroke="#3cbcd0" stroke-width="0.6"/>
<line x1="301.57" y1="280.3" x2="303.97" y2="280.3" stroke="#3cbcd0" stroke-width="0.5"/>
<line x1="301.57" y1="274.95" x2="303.97" y2="274.95" stroke="#3cbcd0" stroke-width="0.5"/>
<polygon points="302.77,275.62 304.67,278.82 300.87,278.82" fill="#3cbcd0" stroke="none" stroke-width="0.5"/>
<line x1="312.58" y1="280.3" x2="312.58" y2="273.88" stroke="#3cbcd0" stroke-width="0.6"/>
<line x1="311.38" y1="280.3" x2="313.78" y2="280.3" stroke="#3cbcd0" stroke-width="0.5"/>
<line x1="311.38" y1="273.88" x2="313.78" y2="273.88" stroke="#3cbcd0" stroke-width="0.5"/>
<polygon points="312.58,275.09 314.48,278.29 310.68,278.29" fill="#3cbcd0" stroke="none" stroke-width="0.5"/>
<line x1="322.39" y1="280.3" x2="322.39" y2="273.88" stroke="#3cbcd0" stroke-width="0.6"/>
<line x1="321.19" y1="280.3" x2="323.59" y2="280.3" stroke="#3cbcd0" stroke-width="0.5"/>
<line x1="321.19" y1="273.88" x2="323.59" y2="273.88" stroke="#3cbcd0" stroke-width="0.5"/>
<polygon points="322.39,275.09 324.29,278.29 320.49,278.29" fill="#3cbcd0" stroke="none" stroke-width="0.5"/>
<line x1="332.2" y1="278.69" x2="332.2" y2="273.35" stroke="#3cbcd0" stroke-width="0.6"/>
<line x1="331" y1="278.69" x2="333.4" y2="278.69" stroke="#3cbcd0" stroke-width="0.5"/>
<line x1="331" y1="273.35" x2="333.4" y2="273.35" stroke="#3cbcd0" stroke-width="0.5"/>
<polygon points="332.2,274.02 334.1,277.22 330.3,277.22" fill="#3cbcd0" stroke="none" stroke-width="0.5"/>
<polygon points="234.1,278.3 236,281.5 232.2,281.5" fill="none" stroke="#40b0a0" stroke-width="0.6"/>
<polygon points="239,277.42 240.91,280.62 237.1,280.62" fill="none" stroke="#40b0a0" stroke-width="0.6"/>
<polygon points="243.91,277.39 245.81,280.59 242.01,280.59" fill="none" stroke="#40b0a0" stroke-width="0.6"/>
<polygon points="248.81,276.51 250.72,279.71 246.91,279.71" fill="none" stroke="#40b0a0" stroke-width="0.6"/>
<polygon points="253.72,276.48 255.62,279.68 251.82,279.68" fill="none" stroke="#40b0a0" stroke-width="0.6"/>
<polygon points="258.62,275.6 260.52,278.8 256.73,278.8" fill="none" stroke="#40b0a0" stroke-width="0.6"/>
<polygon points="263.53,275.57 265.43,278.77 261.63,278.77" fill="none" stroke="#40b0a0" stroke-width="0.6"/>
<polygon points="268.44,274.69 270.33,277.89 266.54,277.89" fill="none" stroke="#40b0a0" stroke-width="0.6"/>
<polygon points="273.34,274.66 275.24,277.86 271.44,277.86" fill="none" stroke="#40b0a0" stroke-width="0.6"/>
<polygon points="278.25,273.78 280.14,276.98 276.35,276.98" fill="none" stroke="#40b0a0" stroke-width="0.6"/>
<polygon points="283.15,273.75 285.05,276.95 281.25,276.95" fill="none" stroke="#40b0a0" stroke-width="0.6"/>
<polygon points="288.06,272.87 289.95,276.07 286.16,276.07" fill="none" stroke="#40b0a0" stroke-width="0.6"/>
<polygon points="292.96,272.84 294.86,276.04 291.06,276.04" fill="none" stroke="#40b0a0" stroke-width="0.6"/>
<polygon points="297.87,271.96 299.76,275.16 295.97,275.16" fill="none" stroke="#40b0a0" stroke-width="0.6"/>
<polygon points="302.77,271.93 304.67,275.13 300.87,275.13" fill="none" stroke="#40b0a0" stroke-width="0.6"/>
<polygon points="307.68,271.05 309.57,274.25 305.78,274.25" fill="none" stroke="#40b0a0" stroke-width="0.6"/>
<polygon points="312.58,271.02 314.48,274.22 310.68,274.22" fill="none" stroke="#40b0a0" stroke-width="0.6"/>
<polygon points="317.49,270.14 319.38,273.34 315.59,273.34" fill="none" stroke="#40b0a0" stroke-width="0.6"/>
<polygon points="322.39,270.11 324.29,273.31 320.49,273.31" fill="none" stroke="#40b0a0" stroke-width="0.6"/>
<polygon points="327.29,269.23 329.19,272.43 325.39,272.43" fill="none" stroke="#40b0a0" stroke-width="0.6"/>
<polygon points="332.2,269.2 334.1,272.4 330.3,272.4" fill="none" stroke="#40b0a0" stroke-width="0.6"/>
<circle cx="234" cy="179.3" r="1.9" fill="#f07070"/>
<circle cx="234" cy="186.8" r="1.7" fill="none" stroke="#f28a7a" stroke-width="0.6"/>
<polygon points="234,193.6 235.9,196.8 232.1,196.8" fill="#3cbcd0" stroke="none" stroke-width="0.5"/>
<polygon points="234,201.2 235.9,204.4 232.1,204.4" fill="none" stroke="#40b0a0" stroke-width="0.6"/>
<rect x="227" y="206.8" width="14.1" height="7" fill="#f8a0a0"/>
<rect x="227" y="214.4" width="14.1" height="7" fill="#a8dcea"/>
<text x="242.9" y="181.5" font-size="6.1" text-anchor="start" fill="#111" stroke="#111" font-weight="normal" >W/O isolation</text>
<text x="242.9" y="189" font-size="6.1" text-anchor="start" fill="#111" stroke="#111" font-weight="normal" >Simulation</text>
<text x="242.9" y="197.3" font-size="6.1" text-anchor="start" fill="#111" stroke="#111" font-weight="normal" >W/&#160;&#160;isolation</text>
<text x="242.9" y="204.9" font-size="6.1" text-anchor="start" fill="#111" stroke="#111" font-weight="normal" >Simulation</text>
<text x="242.9" y="212.5" font-size="6.1" text-anchor="start" fill="#111" stroke="#111" font-weight="normal" >95% Confidence</text>
<text x="242.9" y="220.1" font-size="6.1" text-anchor="start" fill="#111" stroke="#111" font-weight="normal" >95% Confidence</text>
<rect x="224.5" y="173.4" width="117.7" height="116.9" fill="none" stroke="#262626" stroke-width="0.9"/>
<line x1="221.9" y1="290.4" x2="224.5" y2="290.4" stroke="#262626" stroke-width="0.8"/>
<text x="220.5" y="292.8" font-size="6.5" text-anchor="end" fill="#111" stroke="#111" font-weight="normal" >0.9</text>
<line x1="221.9" y1="258.4" x2="224.5" y2="258.4" stroke="#262626" stroke-width="0.8"/>
<text x="220.5" y="260.8" font-size="6.5" text-anchor="end" fill="#111" stroke="#111" font-weight="normal" >1.2</text>
<line x1="221.9" y1="226.4" x2="224.5" y2="226.4" stroke="#262626" stroke-width="0.8"/>
<text x="220.5" y="228.8" font-size="6.5" text-anchor="end" fill="#111" stroke="#111" font-weight="normal" >1.5</text>
<line x1="221.9" y1="194.4" x2="224.5" y2="194.4" stroke="#262626" stroke-width="0.8"/>
<text x="220.5" y="196.8" font-size="6.5" text-anchor="end" fill="#111" stroke="#111" font-weight="normal" >1.8</text>
<line x1="223" y1="274.4" x2="224.5" y2="274.4" stroke="#262626" stroke-width="0.7"/>
<line x1="223" y1="242.4" x2="224.5" y2="242.4" stroke="#262626" stroke-width="0.7"/>
<line x1="223" y1="210.4" x2="224.5" y2="210.4" stroke="#262626" stroke-width="0.7"/>
<line x1="234.1" y1="290.3" x2="234.1" y2="292.9" stroke="#262626" stroke-width="0.8"/>
<text x="234.1" y="300.4" font-size="6.5" text-anchor="middle" fill="#111" stroke="#111" font-weight="normal" >0</text>
<line x1="253.72" y1="290.3" x2="253.72" y2="292.9" stroke="#262626" stroke-width="0.8"/>
<text x="253.72" y="300.4" font-size="6.5" text-anchor="middle" fill="#111" stroke="#111" font-weight="normal" >10</text>
<line x1="273.34" y1="290.3" x2="273.34" y2="292.9" stroke="#262626" stroke-width="0.8"/>
<text x="273.34" y="300.4" font-size="6.5" text-anchor="middle" fill="#111" stroke="#111" font-weight="normal" >20</text>
<line x1="292.96" y1="290.3" x2="292.96" y2="292.9" stroke="#262626" stroke-width="0.8"/>
<text x="292.96" y="300.4" font-size="6.5" text-anchor="middle" fill="#111" stroke="#111" font-weight="normal" >30</text>
<line x1="312.58" y1="290.3" x2="312.58" y2="292.9" stroke="#262626" stroke-width="0.8"/>
<text x="312.58" y="300.4" font-size="6.5" text-anchor="middle" fill="#111" stroke="#111" font-weight="normal" >40</text>
<line x1="332.2" y1="290.3" x2="332.2" y2="292.9" stroke="#262626" stroke-width="0.8"/>
<text x="332.2" y="300.4" font-size="6.5" text-anchor="middle" fill="#111" stroke="#111" font-weight="normal" >50</text>
<line x1="243.91" y1="290.3" x2="243.91" y2="291.8" stroke="#262626" stroke-width="0.7"/>
<line x1="263.53" y1="290.3" x2="263.53" y2="291.8" stroke="#262626" stroke-width="0.7"/>
<line x1="283.15" y1="290.3" x2="283.15" y2="291.8" stroke="#262626" stroke-width="0.7"/>
<line x1="302.77" y1="290.3" x2="302.77" y2="291.8" stroke="#262626" stroke-width="0.7"/>
<line x1="322.39" y1="290.3" x2="322.39" y2="291.8" stroke="#262626" stroke-width="0.7"/>
<text x="207.4" y="232" font-size="7.8" text-anchor="middle" fill="#111" stroke="#111" transform="rotate(-90 207.4 232)"><tspan>D/D</tspan><tspan font-size="5.5" dy="1.5">0</tspan></text>
<text x="283" y="311.4" font-size="7.8" text-anchor="middle" fill="#111" stroke="#111" font-weight="normal" >Tensile strain (%)</text>
<polygon points="370.6,279.76 372.31,282.64 368.89,282.64" fill="none" stroke="#f5a080" stroke-width="0.7"/>
<polygon points="370.73,279.64 372.44,282.52 369.02,282.52" fill="none" stroke="#f5a080" stroke-width="0.7"/>
<polygon points="371.01,277.47 372.72,280.35 369.3,280.35" fill="none" stroke="#f5a080" stroke-width="0.7"/>
<polygon points="371.38,277.35 373.09,280.23 369.67,280.23" fill="none" stroke="#f5a080" stroke-width="0.7"/>
<polygon points="371.84,274.77 373.55,277.65 370.13,277.65" fill="none" stroke="#f5a080" stroke-width="0.7"/>
<polygon points="372.37,274.91 374.08,277.79 370.66,277.79" fill="none" stroke="#f5a080" stroke-width="0.7"/>
<polygon points="372.96,275.33 374.67,278.21 371.25,278.21" fill="none" stroke="#f5a080" stroke-width="0.7"/>
<polygon points="373.63,274.03 375.34,276.91 371.92,276.91" fill="none" stroke="#f5a080" stroke-width="0.7"/>
<polygon points="374.35,274.76 376.06,277.64 372.64,277.64" fill="none" stroke="#f5a080" stroke-width="0.7"/>
<polygon points="375.12,273.52 376.83,276.4 373.41,276.4" fill="none" stroke="#f5a080" stroke-width="0.7"/>
<polygon points="375.95,273.42 377.66,276.3 374.24,276.3" fill="none" stroke="#f5a080" stroke-width="0.7"/>
<polygon points="376.84,271.78 378.55,274.66 375.13,274.66" fill="none" stroke="#f5a080" stroke-width="0.7"/>
<polygon points="377.77,269.35 379.48,272.23 376.06,272.23" fill="none" stroke="#f5a080" stroke-width="0.7"/>
<polygon points="378.75,266.68 380.46,269.56 377.04,269.56" fill="none" stroke="#f5a080" stroke-width="0.7"/>
<polygon points="379.77,266.42 381.48,269.3 378.06,269.3" fill="none" stroke="#f5a080" stroke-width="0.7"/>
<polygon points="380.84,264.27 382.55,267.15 379.13,267.15" fill="none" stroke="#f5a080" stroke-width="0.7"/>
<polygon points="381.96,261.32 383.67,264.2 380.25,264.2" fill="none" stroke="#f5a080" stroke-width="0.7"/>
<polygon points="383.11,258.35 384.82,261.23 381.4,261.23" fill="none" stroke="#f5a080" stroke-width="0.7"/>
<polygon points="384.31,256.84 386.02,259.72 382.6,259.72" fill="none" stroke="#f5a080" stroke-width="0.7"/>
<polygon points="385.55,254.83 387.26,257.71 383.84,257.71" fill="none" stroke="#f5a080" stroke-width="0.7"/>
<polygon points="386.83,251.03 388.54,253.91 385.12,253.91" fill="none" stroke="#f5a080" stroke-width="0.7"/>
<polygon points="388.15,250.94 389.86,253.82 386.44,253.82" fill="none" stroke="#f5a080" stroke-width="0.7"/>
<polygon points="389.5,246.91 391.21,249.79 387.79,249.79" fill="none" stroke="#f5a080" stroke-width="0.7"/>
<polygon points="390.89,245.93 392.6,248.81 389.18,248.81" fill="none" stroke="#f5a080" stroke-width="0.7"/>
<polygon points="392.32,243.94 394.03,246.82 390.61,246.82" fill="none" stroke="#f5a080" stroke-width="0.7"/>
<polygon points="393.79,241.99 395.5,244.87 392.08,244.87" fill="none" stroke="#f5a080" stroke-width="0.7"/>
<polygon points="395.29,240.05 397,242.93 393.58,242.93" fill="none" stroke="#f5a080" stroke-width="0.7"/>
<polygon points="396.83,237.36 398.54,240.24 395.12,240.24" fill="none" stroke="#f5a080" stroke-width="0.7"/>
<polygon points="398.4,237.2 400.11,240.08 396.69,240.08" fill="none" stroke="#f5a080" stroke-width="0.7"/>
<polygon points="400.01,234.69 401.72,237.57 398.3,237.57" fill="none" stroke="#f5a080" stroke-width="0.7"/>
<polygon points="401.65,233.11 403.36,235.99 399.94,235.99" fill="none" stroke="#f5a080" stroke-width="0.7"/>
<polygon points="403.32,232.39 405.03,235.27 401.61,235.27" fill="none" stroke="#f5a080" stroke-width="0.7"/>
<polygon points="405.02,230.66 406.73,233.54 403.31,233.54" fill="none" stroke="#f5a080" stroke-width="0.7"/>
<polygon points="406.76,230.38 408.47,233.26 405.05,233.26" fill="none" stroke="#f5a080" stroke-width="0.7"/>
<polygon points="408.53,229 410.24,231.88 406.82,231.88" fill="none" stroke="#f5a080" stroke-width="0.7"/>
<polygon points="410.33,227.25 412.04,230.13 408.62,230.13" fill="none" stroke="#f5a080" stroke-width="0.7"/>
<polygon points="412.16,225 413.87,227.88 410.45,227.88" fill="none" stroke="#f5a080" stroke-width="0.7"/>
<polygon points="414.03,224.43 415.74,227.31 412.32,227.31" fill="none" stroke="#f5a080" stroke-width="0.7"/>
<polygon points="415.92,223.53 417.63,226.41 414.21,226.41" fill="none" stroke="#f5a080" stroke-width="0.7"/>
<polygon points="417.84,221.74 419.55,224.62 416.13,224.62" fill="none" stroke="#f5a080" stroke-width="0.7"/>
<polygon points="419.79,220.85 421.5,223.73 418.08,223.73" fill="none" stroke="#f5a080" stroke-width="0.7"/>
<polygon points="421.78,220.18 423.49,223.06 420.07,223.06" fill="none" stroke="#f5a080" stroke-width="0.7"/>
<polygon points="423.79,218.26 425.5,221.14 422.08,221.14" fill="none" stroke="#f5a080" stroke-width="0.7"/>
<polygon points="425.83,217.65 427.54,220.53 424.12,220.53" fill="none" stroke="#f5a080" stroke-width="0.7"/>
<polygon points="427.9,217.84 429.61,220.72 426.19,220.72" fill="none" stroke="#f5a080" stroke-width="0.7"/>
<polygon points="430,216.26 431.71,219.14 428.29,219.14" fill="none" stroke="#f5a080" stroke-width="0.7"/>
<polygon points="432.12,215.52 433.83,218.4 430.41,218.4" fill="none" stroke="#f5a080" stroke-width="0.7"/>
<polygon points="434.28,214 435.99,216.88 432.57,216.88" fill="none" stroke="#f5a080" stroke-width="0.7"/>
<polygon points="436.46,213.79 438.17,216.67 434.75,216.67" fill="none" stroke="#f5a080" stroke-width="0.7"/>
<polygon points="438.67,214.25 440.38,217.13 436.96,217.13" fill="none" stroke="#f5a080" stroke-width="0.7"/>
<polygon points="440.9,212.15 442.61,215.03 439.19,215.03" fill="none" stroke="#f5a080" stroke-width="0.7"/>
<polygon points="443.17,213.54 444.88,216.42 441.46,216.42" fill="none" stroke="#f5a080" stroke-width="0.7"/>
<polygon points="445.46,212.31 447.17,215.19 443.75,215.19" fill="none" stroke="#f5a080" stroke-width="0.7"/>
<polygon points="447.77,210.99 449.48,213.87 446.06,213.87" fill="none" stroke="#f5a080" stroke-width="0.7"/>
<polygon points="450.11,211.75 451.82,214.63 448.4,214.63" fill="none" stroke="#f5a080" stroke-width="0.7"/>
<polygon points="452.48,210.38 454.19,213.26 450.77,213.26" fill="none" stroke="#f5a080" stroke-width="0.7"/>
<polygon points="454.88,210.76 456.59,213.64 453.17,213.64" fill="none" stroke="#f5a080" stroke-width="0.7"/>
<polygon points="457.3,208.72 459.01,211.6 455.59,211.6" fill="none" stroke="#f5a080" stroke-width="0.7"/>
<polygon points="459.75,207.86 461.46,210.74 458.04,210.74" fill="none" stroke="#f5a080" stroke-width="0.7"/>
<polygon points="462.22,207.65 463.93,210.53 460.51,210.53" fill="none" stroke="#f5a080" stroke-width="0.7"/>
<polygon points="464.72,206.39 466.43,209.27 463.01,209.27" fill="none" stroke="#f5a080" stroke-width="0.7"/>
<polygon points="467.24,207.17 468.95,210.05 465.53,210.05" fill="none" stroke="#f5a080" stroke-width="0.7"/>
<polygon points="469.78,205.82 471.49,208.7 468.07,208.7" fill="none" stroke="#f5a080" stroke-width="0.7"/>
<polygon points="472.36,205.55 474.07,208.43 470.65,208.43" fill="none" stroke="#f5a080" stroke-width="0.7"/>
<polygon points="474.95,205.08 476.66,207.96 473.24,207.96" fill="none" stroke="#f5a080" stroke-width="0.7"/>
<polygon points="477.57,204.85 479.28,207.73 475.86,207.73" fill="none" stroke="#f5a080" stroke-width="0.7"/>
<polygon points="480.22,203.48 481.93,206.36 478.51,206.36" fill="none" stroke="#f5a080" stroke-width="0.7"/>
<polygon points="482.89,202.73 484.6,205.61 481.18,205.61" fill="none" stroke="#f5a080" stroke-width="0.7"/>
<polygon points="485.58,203.26 487.29,206.14 483.87,206.14" fill="none" stroke="#f5a080" stroke-width="0.7"/>
<polygon points="488.3,202.31 490.01,205.19 486.59,205.19" fill="none" stroke="#f5a080" stroke-width="0.7"/>
<circle cx="370.6" cy="273.45" r="1.45" fill="none" stroke="#f06868" stroke-width="0.7"/>
<circle cx="370.73" cy="271.89" r="1.45" fill="none" stroke="#f06868" stroke-width="0.7"/>
<circle cx="371.01" cy="271.77" r="1.45" fill="none" stroke="#f06868" stroke-width="0.7"/>
<circle cx="371.38" cy="270.67" r="1.45" fill="none" stroke="#f06868" stroke-width="0.7"/>
<circle cx="371.84" cy="270.66" r="1.45" fill="none" stroke="#f06868" stroke-width="0.7"/>
<circle cx="372.37" cy="271.4" r="1.45" fill="none" stroke="#f06868" stroke-width="0.7"/>
<circle cx="372.96" cy="270.66" r="1.45" fill="none" stroke="#f06868" stroke-width="0.7"/>
<circle cx="373.63" cy="269.44" r="1.45" fill="none" stroke="#f06868" stroke-width="0.7"/>
<circle cx="374.35" cy="270.27" r="1.45" fill="none" stroke="#f06868" stroke-width="0.7"/>
<circle cx="375.12" cy="268.6" r="1.45" fill="none" stroke="#f06868" stroke-width="0.7"/>
<circle cx="375.95" cy="268.54" r="1.45" fill="none" stroke="#f06868" stroke-width="0.7"/>
<circle cx="376.84" cy="267.89" r="1.45" fill="none" stroke="#f06868" stroke-width="0.7"/>
<circle cx="377.77" cy="267.21" r="1.45" fill="none" stroke="#f06868" stroke-width="0.7"/>
<circle cx="378.75" cy="264.23" r="1.45" fill="none" stroke="#f06868" stroke-width="0.7"/>
<circle cx="379.77" cy="264.04" r="1.45" fill="none" stroke="#f06868" stroke-width="0.7"/>
<circle cx="380.84" cy="262.07" r="1.45" fill="none" stroke="#f06868" stroke-width="0.7"/>
<circle cx="381.96" cy="259.97" r="1.45" fill="none" stroke="#f06868" stroke-width="0.7"/>
<circle cx="383.11" cy="257.05" r="1.45" fill="none" stroke="#f06868" stroke-width="0.7"/>
<circle cx="384.31" cy="256.92" r="1.45" fill="none" stroke="#f06868" stroke-width="0.7"/>
<circle cx="385.55" cy="254.14" r="1.45" fill="none" stroke="#f06868" stroke-width="0.7"/>
<circle cx="386.83" cy="251.9" r="1.45" fill="none" stroke="#f06868" stroke-width="0.7"/>
<circle cx="388.15" cy="249.07" r="1.45" fill="none" stroke="#f06868" stroke-width="0.7"/>
<circle cx="389.5" cy="247.08" r="1.45" fill="none" stroke="#f06868" stroke-width="0.7"/>
<circle cx="390.89" cy="244.73" r="1.45" fill="none" stroke="#f06868" stroke-width="0.7"/>
<circle cx="392.32" cy="243.5" r="1.45" fill="none" stroke="#f06868" stroke-width="0.7"/>
<circle cx="393.79" cy="240.59" r="1.45" fill="none" stroke="#f06868" stroke-width="0.7"/>
<circle cx="395.29" cy="238.05" r="1.45" fill="none" stroke="#f06868" stroke-width="0.7"/>
<circle cx="396.83" cy="234.82" r="1.45" fill="none" stroke="#f06868" stroke-width="0.7"/>
<circle cx="398.4" cy="232.78" r="1.45" fill="none" stroke="#f06868" stroke-width="0.7"/>
<circle cx="400.01" cy="232.67" r="1.45" fill="none" stroke="#f06868" stroke-width="0.7"/>
<circle cx="401.65" cy="230.66" r="1.45" fill="none" stroke="#f06868" stroke-width="0.7"/>
<circle cx="403.32" cy="228.58" r="1.45" fill="none" stroke="#f06868" stroke-width="0.7"/>
<circle cx="405.02" cy="227.11" r="1.45" fill="none" stroke="#f06868" stroke-width="0.7"/>
<circle cx="406.76" cy="225.05" r="1.45" fill="none" stroke="#f06868" stroke-width="0.7"/>
<circle cx="408.53" cy="223.29" r="1.45" fill="none" stroke="#f06868" stroke-width="0.7"/>
<circle cx="410.33" cy="222.48" r="1.45" fill="none" stroke="#f06868" stroke-width="0.7"/>
<circle cx="412.16" cy="221.48" r="1.45" fill="none" stroke="#f06868" stroke-width="0.7"/>
<circle cx="414.03" cy="219.27" r="1.45" fill="none" stroke="#f06868" stroke-width="0.7"/>
<circle cx="415.92" cy="218.62" r="1.45" fill="none" stroke="#f06868" stroke-width="0.7"/>
<circle cx="417.84" cy="217.4" r="1.45" fill="none" stroke="#f06868" stroke-width="0.7"/>
<circle cx="419.79" cy="215.75" r="1.45" fill="none" stroke="#f06868" stroke-width="0.7"/>
<circle cx="421.78" cy="215.55" r="1.45" fill="none" stroke="#f06868" stroke-width="0.7"/>
<circle cx="423.79" cy="215.13" r="1.45" fill="none" stroke="#f06868" stroke-width="0.7"/>
<circle cx="425.83" cy="214.08" r="1.45" fill="none" stroke="#f06868" stroke-width="0.7"/>
<circle cx="427.9" cy="213.63" r="1.45" fill="none" stroke="#f06868" stroke-width="0.7"/>
<circle cx="430" cy="214.73" r="1.45" fill="none" stroke="#f06868" stroke-width="0.7"/>
<circle cx="432.12" cy="212.52" r="1.45" fill="none" stroke="#f06868" stroke-width="0.7"/>
<circle cx="434.28" cy="212.49" r="1.45" fill="none" stroke="#f06868" stroke-width="0.7"/>
<circle cx="436.46" cy="211.96" r="1.45" fill="none" stroke="#f06868" stroke-width="0.7"/>
<circle cx="438.67" cy="211.82" r="1.45" fill="none" stroke="#f06868" stroke-width="0.7"/>
<circle cx="440.9" cy="212.41" r="1.45" fill="none" stroke="#f06868" stroke-width="0.7"/>
<circle cx="443.17" cy="212.07" r="1.45" fill="none" stroke="#f06868" stroke-width="0.7"/>
<circle cx="445.46" cy="212.29" r="1.45" fill="none" stroke="#f06868" stroke-width="0.7"/>
<circle cx="447.77" cy="210.63" r="1.45" fill="none" stroke="#f06868" stroke-width="0.7"/>
<circle cx="450.11" cy="211.44" r="1.45" fill="none" stroke="#f06868" stroke-width="0.7"/>
<circle cx="452.48" cy="210.95" r="1.45" fill="none" stroke="#f06868" stroke-width="0.7"/>
<circle cx="454.88" cy="210.15" r="1.45" fill="none" stroke="#f06868" stroke-width="0.7"/>
<circle cx="457.3" cy="209.75" r="1.45" fill="none" stroke="#f06868" stroke-width="0.7"/>
<circle cx="459.75" cy="208.85" r="1.45" fill="none" stroke="#f06868" stroke-width="0.7"/>
<circle cx="462.22" cy="208.98" r="1.45" fill="none" stroke="#f06868" stroke-width="0.7"/>
<circle cx="464.72" cy="208.59" r="1.45" fill="none" stroke="#f06868" stroke-width="0.7"/>
<circle cx="467.24" cy="207.72" r="1.45" fill="none" stroke="#f06868" stroke-width="0.7"/>
<circle cx="469.78" cy="207.31" r="1.45" fill="none" stroke="#f06868" stroke-width="0.7"/>
<circle cx="472.36" cy="206.19" r="1.45" fill="none" stroke="#f06868" stroke-width="0.7"/>
<circle cx="474.95" cy="206.45" r="1.45" fill="none" stroke="#f06868" stroke-width="0.7"/>
<circle cx="477.57" cy="204.09" r="1.45" fill="none" stroke="#f06868" stroke-width="0.7"/>
<circle cx="480.22" cy="204.22" r="1.45" fill="none" stroke="#f06868" stroke-width="0.7"/>
<circle cx="482.89" cy="204.8" r="1.45" fill="none" stroke="#f06868" stroke-width="0.7"/>
<circle cx="485.58" cy="204.1" r="1.45" fill="none" stroke="#f06868" stroke-width="0.7"/>
<circle cx="488.3" cy="203.42" r="1.45" fill="none" stroke="#f06868" stroke-width="0.7"/>
<rect x="369.3" y="271.46" width="2.6" height="2.6" fill="none" stroke="#4aa8e0" stroke-width="0.7"/>
<rect x="369.43" y="271.94" width="2.6" height="2.6" fill="none" stroke="#4aa8e0" stroke-width="0.7"/>
<rect x="369.71" y="270.17" width="2.6" height="2.6" fill="none" stroke="#4aa8e0" stroke-width="0.7"/>
<rect x="370.08" y="269.65" width="2.6" height="2.6" fill="none" stroke="#4aa8e0" stroke-width="0.7"/>
<rect x="370.54" y="270.6" width="2.6" height="2.6" fill="none" stroke="#4aa8e0" stroke-width="0.7"/>
<rect x="371.07" y="270.29" width="2.6" height="2.6" fill="none" stroke="#4aa8e0" stroke-width="0.7"/>
<rect x="371.66" y="270.88" width="2.6" height="2.6" fill="none" stroke="#4aa8e0" stroke-width="0.7"/>
<rect x="372.33" y="270.51" width="2.6" height="2.6" fill="none" stroke="#4aa8e0" stroke-width="0.7"/>
<rect x="373.05" y="269.6" width="2.6" height="2.6" fill="none" stroke="#4aa8e0" stroke-width="0.7"/>
<rect x="373.82" y="269.37" width="2.6" height="2.6" fill="none" stroke="#4aa8e0" stroke-width="0.7"/>
<rect x="374.65" y="267.39" width="2.6" height="2.6" fill="none" stroke="#4aa8e0" stroke-width="0.7"/>
<rect x="375.54" y="267.81" width="2.6" height="2.6" fill="none" stroke="#4aa8e0" stroke-width="0.7"/>
<rect x="376.47" y="266.99" width="2.6" height="2.6" fill="none" stroke="#4aa8e0" stroke-width="0.7"/>
<rect x="377.45" y="263.71" width="2.6" height="2.6" fill="none" stroke="#4aa8e0" stroke-width="0.7"/>
<rect x="378.47" y="263.41" width="2.6" height="2.6" fill="none" stroke="#4aa8e0" stroke-width="0.7"/>
<rect x="379.54" y="262.75" width="2.6" height="2.6" fill="none" stroke="#4aa8e0" stroke-width="0.7"/>
<rect x="380.66" y="259.53" width="2.6" height="2.6" fill="none" stroke="#4aa8e0" stroke-width="0.7"/>
<rect x="381.81" y="258.28" width="2.6" height="2.6" fill="none" stroke="#4aa8e0" stroke-width="0.7"/>
<rect x="383.01" y="254.65" width="2.6" height="2.6" fill="none" stroke="#4aa8e0" stroke-width="0.7"/>
<rect x="384.25" y="249.55" width="2.6" height="2.6" fill="none" stroke="#4aa8e0" stroke-width="0.7"/>
<rect x="385.53" y="245.51" width="2.6" height="2.6" fill="none" stroke="#4aa8e0" stroke-width="0.7"/>
<rect x="386.85" y="242.97" width="2.6" height="2.6" fill="none" stroke="#4aa8e0" stroke-width="0.7"/>
<rect x="388.2" y="241.13" width="2.6" height="2.6" fill="none" stroke="#4aa8e0" stroke-width="0.7"/>
<rect x="389.59" y="238.14" width="2.6" height="2.6" fill="none" stroke="#4aa8e0" stroke-width="0.7"/>
<rect x="391.02" y="236.31" width="2.6" height="2.6" fill="none" stroke="#4aa8e0" stroke-width="0.7"/>
<rect x="392.49" y="232.62" width="2.6" height="2.6" fill="none" stroke="#4aa8e0" stroke-width="0.7"/>
<rect x="393.99" y="231.45" width="2.6" height="2.6" fill="none" stroke="#4aa8e0" stroke-width="0.7"/>
<rect x="395.53" y="229.76" width="2.6" height="2.6" fill="none" stroke="#4aa8e0" stroke-width="0.7"/>
<rect x="397.1" y="229.61" width="2.6" height="2.6" fill="none" stroke="#4aa8e0" stroke-width="0.7"/>
<rect x="398.71" y="228.38" width="2.6" height="2.6" fill="none" stroke="#4aa8e0" stroke-width="0.7"/>
<rect x="400.35" y="225.03" width="2.6" height="2.6" fill="none" stroke="#4aa8e0" stroke-width="0.7"/>
<rect x="402.02" y="222.57" width="2.6" height="2.6" fill="none" stroke="#4aa8e0" stroke-width="0.7"/>
<rect x="403.72" y="220.75" width="2.6" height="2.6" fill="none" stroke="#4aa8e0" stroke-width="0.7"/>
<rect x="405.46" y="219.37" width="2.6" height="2.6" fill="none" stroke="#4aa8e0" stroke-width="0.7"/>
<rect x="407.23" y="218.35" width="2.6" height="2.6" fill="none" stroke="#4aa8e0" stroke-width="0.7"/>
<rect x="409.03" y="217.52" width="2.6" height="2.6" fill="none" stroke="#4aa8e0" stroke-width="0.7"/>
<rect x="410.86" y="217.65" width="2.6" height="2.6" fill="none" stroke="#4aa8e0" stroke-width="0.7"/>
<rect x="412.73" y="215.94" width="2.6" height="2.6" fill="none" stroke="#4aa8e0" stroke-width="0.7"/>
<rect x="414.62" y="215.22" width="2.6" height="2.6" fill="none" stroke="#4aa8e0" stroke-width="0.7"/>
<rect x="416.54" y="214.85" width="2.6" height="2.6" fill="none" stroke="#4aa8e0" stroke-width="0.7"/>
<rect x="418.49" y="213.74" width="2.6" height="2.6" fill="none" stroke="#4aa8e0" stroke-width="0.7"/>
<rect x="420.48" y="212.04" width="2.6" height="2.6" fill="none" stroke="#4aa8e0" stroke-width="0.7"/>
<rect x="422.49" y="211.5" width="2.6" height="2.6" fill="none" stroke="#4aa8e0" stroke-width="0.7"/>
<rect x="424.53" y="210.07" width="2.6" height="2.6" fill="none" stroke="#4aa8e0" stroke-width="0.7"/>
<rect x="426.6" y="209.01" width="2.6" height="2.6" fill="none" stroke="#4aa8e0" stroke-width="0.7"/>
<rect x="428.7" y="209.69" width="2.6" height="2.6" fill="none" stroke="#4aa8e0" stroke-width="0.7"/>
<rect x="430.82" y="208.11" width="2.6" height="2.6" fill="none" stroke="#4aa8e0" stroke-width="0.7"/>
<rect x="432.98" y="207.54" width="2.6" height="2.6" fill="none" stroke="#4aa8e0" stroke-width="0.7"/>
<rect x="435.16" y="207.19" width="2.6" height="2.6" fill="none" stroke="#4aa8e0" stroke-width="0.7"/>
<rect x="437.37" y="208.09" width="2.6" height="2.6" fill="none" stroke="#4aa8e0" stroke-width="0.7"/>
<rect x="439.6" y="207.98" width="2.6" height="2.6" fill="none" stroke="#4aa8e0" stroke-width="0.7"/>
<rect x="441.87" y="207.52" width="2.6" height="2.6" fill="none" stroke="#4aa8e0" stroke-width="0.7"/>
<rect x="444.16" y="207.13" width="2.6" height="2.6" fill="none" stroke="#4aa8e0" stroke-width="0.7"/>
<rect x="446.47" y="206.64" width="2.6" height="2.6" fill="none" stroke="#4aa8e0" stroke-width="0.7"/>
<rect x="448.81" y="205.23" width="2.6" height="2.6" fill="none" stroke="#4aa8e0" stroke-width="0.7"/>
<rect x="451.18" y="204.13" width="2.6" height="2.6" fill="none" stroke="#4aa8e0" stroke-width="0.7"/>
<rect x="453.58" y="203.78" width="2.6" height="2.6" fill="none" stroke="#4aa8e0" stroke-width="0.7"/>
<rect x="456" y="204.1" width="2.6" height="2.6" fill="none" stroke="#4aa8e0" stroke-width="0.7"/>
<rect x="458.45" y="203.22" width="2.6" height="2.6" fill="none" stroke="#4aa8e0" stroke-width="0.7"/>
<rect x="460.92" y="202.39" width="2.6" height="2.6" fill="none" stroke="#4aa8e0" stroke-width="0.7"/>
<rect x="463.42" y="203.5" width="2.6" height="2.6" fill="none" stroke="#4aa8e0" stroke-width="0.7"/>
<rect x="465.94" y="201.7" width="2.6" height="2.6" fill="none" stroke="#4aa8e0" stroke-width="0.7"/>
<rect x="468.48" y="200.69" width="2.6" height="2.6" fill="none" stroke="#4aa8e0" stroke-width="0.7"/>
<rect x="471.06" y="200.61" width="2.6" height="2.6" fill="none" stroke="#4aa8e0" stroke-width="0.7"/>
<rect x="473.65" y="200.31" width="2.6" height="2.6" fill="none" stroke="#4aa8e0" stroke-width="0.7"/>
<rect x="476.27" y="200.55" width="2.6" height="2.6" fill="none" stroke="#4aa8e0" stroke-width="0.7"/>
<rect x="478.92" y="200.84" width="2.6" height="2.6" fill="none" stroke="#4aa8e0" stroke-width="0.7"/>
<rect x="481.59" y="199.09" width="2.6" height="2.6" fill="none" stroke="#4aa8e0" stroke-width="0.7"/>
<rect x="484.28" y="199.73" width="2.6" height="2.6" fill="none" stroke="#4aa8e0" stroke-width="0.7"/>
<rect x="487" y="198.29" width="2.6" height="2.6" fill="none" stroke="#4aa8e0" stroke-width="0.7"/>
<rect x="380.5" y="182.3" width="2.6" height="2.6" fill="none" stroke="#4aa8e0" stroke-width="0.7"/>
<circle cx="381.8" cy="191.4" r="1.45" fill="none" stroke="#f06868" stroke-width="0.7"/>
<polygon points="381.8,198 383.51,200.88 380.09,200.88" fill="none" stroke="#f5a080" stroke-width="0.7"/>
<text x="390.6" y="185.9" font-size="6.65" text-anchor="start" fill="#111" stroke="#111" font-weight="normal" >0% strain</text>
<text x="390.6" y="193.7" font-size="6.65" text-anchor="start" fill="#111" stroke="#111" font-weight="normal" >20% strain</text>
<text x="390.6" y="201.7" font-size="6.65" text-anchor="start" fill="#111" stroke="#111" font-weight="normal" >40% strain</text>
<rect x="370.6" y="173.4" width="117.7" height="116.7" fill="none" stroke="#262626" stroke-width="0.9"/>
<line x1="368" y1="283.3" x2="370.6" y2="283.3" stroke="#262626" stroke-width="0.8"/>
<text x="366.6" y="285.7" font-size="6.5" text-anchor="end" fill="#111" stroke="#111" font-weight="normal" >0</text>
<line x1="368" y1="253.07" x2="370.6" y2="253.07" stroke="#262626" stroke-width="0.8"/>
<text x="366.6" y="255.47" font-size="6.5" text-anchor="end" fill="#111" stroke="#111" font-weight="normal" >110</text>
<line x1="368" y1="222.83" x2="370.6" y2="222.83" stroke="#262626" stroke-width="0.8"/>
<text x="366.6" y="225.23" font-size="6.5" text-anchor="end" fill="#111" stroke="#111" font-weight="normal" >220</text>
<line x1="368" y1="192.6" x2="370.6" y2="192.6" stroke="#262626" stroke-width="0.8"/>
<text x="366.6" y="195" font-size="6.5" text-anchor="end" fill="#111" stroke="#111" font-weight="normal" >330</text>
<line x1="369.1" y1="268.18" x2="370.6" y2="268.18" stroke="#262626" stroke-width="0.7"/>
<line x1="369.1" y1="237.95" x2="370.6" y2="237.95" stroke="#262626" stroke-width="0.7"/>
<line x1="369.1" y1="207.72" x2="370.6" y2="207.72" stroke="#262626" stroke-width="0.7"/>
<line x1="369.9" y1="290.1" x2="369.9" y2="292.7" stroke="#262626" stroke-width="0.8"/>
<text x="369.9" y="299.1" font-size="6.5" text-anchor="middle" fill="#111" stroke="#111" font-weight="normal" >0</text>
<line x1="393.58" y1="290.1" x2="393.58" y2="292.7" stroke="#262626" stroke-width="0.8"/>
<text x="393.58" y="299.1" font-size="6.5" text-anchor="middle" fill="#111" stroke="#111" font-weight="normal" >2</text>
<line x1="417.26" y1="290.1" x2="417.26" y2="292.7" stroke="#262626" stroke-width="0.8"/>
<text x="417.26" y="299.1" font-size="6.5" text-anchor="middle" fill="#111" stroke="#111" font-weight="normal" >4</text>
<line x1="440.94" y1="290.1" x2="440.94" y2="292.7" stroke="#262626" stroke-width="0.8"/>
<text x="440.94" y="299.1" font-size="6.5" text-anchor="middle" fill="#111" stroke="#111" font-weight="normal" >6</text>
<line x1="464.62" y1="290.1" x2="464.62" y2="292.7" stroke="#262626" stroke-width="0.8"/>
<text x="464.62" y="299.1" font-size="6.5" text-anchor="middle" fill="#111" stroke="#111" font-weight="normal" >8</text>
<line x1="488.3" y1="290.1" x2="488.3" y2="292.7" stroke="#262626" stroke-width="0.8"/>
<text x="488.3" y="299.1" font-size="6.5" text-anchor="middle" fill="#111" stroke="#111" font-weight="normal" >10</text>
<line x1="381.74" y1="290.1" x2="381.74" y2="291.6" stroke="#262626" stroke-width="0.7"/>
<line x1="405.42" y1="290.1" x2="405.42" y2="291.6" stroke="#262626" stroke-width="0.7"/>
<line x1="429.1" y1="290.1" x2="429.1" y2="291.6" stroke="#262626" stroke-width="0.7"/>
<line x1="452.78" y1="290.1" x2="452.78" y2="291.6" stroke="#262626" stroke-width="0.7"/>
<line x1="476.46" y1="290.1" x2="476.46" y2="291.6" stroke="#262626" stroke-width="0.7"/>
<text x="352" y="231.8" font-size="7.8" text-anchor="middle" fill="#111" stroke="#111" transform="rotate(-90 352 231.8)"><tspan font-style="italic">ΔI/I</tspan><tspan font-size="5.4" dy="1.6">0</tspan></text>
<text x="429.4" y="310.9" font-size="7.8" text-anchor="middle" fill="#111" stroke="#111" font-weight="normal" >Pressure (kPa)</text>
<rect x="521.4" y="173.4" width="81.1" height="116.9" fill="#fdf1f1"/>
<rect x="602.5" y="173.4" width="80.2" height="116.9" fill="#eef8fb"/>
<polyline points="522,283 522.6,283 523.2,282 523.7,273.48 524.3,270.48 526.6,269.54 527.1,271.54 527.6,282 528.2,283 532.5,283 533.1,282 533.6,269.4 534.2,266.4 536.6,265.15 537.1,267.15 537.6,282 538.2,283 542.5,283 543.1,282 543.6,266.84 544.2,263.84 546.7,262.4 547.2,264.4 547.7,282 548.3,283 552.1,283 552.7,282 553.2,265.56 553.8,262.56 556.7,261.03 557.2,263.03 557.7,282 558.3,283 561.7,283 562.3,282 562.8,231.59 563.4,228.59 566.3,224.5 566.8,226.5 567.3,282 567.9,283 571.7,283 572.3,282 572.8,229.29 573.4,226.29 576.3,222.02 576.8,224.02 577.3,282 577.9,283 581.6,283 582.2,282 582.7,218.82 583.3,215.82 585.9,210.76 586.4,212.76 586.9,282 587.5,283 591.1,283 591.7,282 592.2,209.88 592.8,206.88 595.7,201.15 596.2,203.15 596.7,282 597.3,283 602.5,283" fill="none" stroke="#f07878" stroke-width="0.9" stroke-linejoin="round" />
<polyline points="602.5,283 603.7,283 604.3,282 604.8,274.76 605.4,271.76 608.3,270.91 608.8,272.91 609.3,282 609.9,283 613.7,283 614.3,282 614.8,271.44 615.4,268.44 618.4,267.34 618.9,269.34 619.4,282 620,283 623.3,283 623.9,282 624.4,269.65 625,266.65 627.9,265.42 628.4,267.42 628.9,282 629.5,283 633.4,283 634,282 634.5,266.08 635.1,263.08 637.7,261.58 638.2,263.58 638.7,282 639.3,283 643.4,283 644,282 644.5,231.59 645.1,228.59 647.8,224.5 648.3,226.5 648.8,282 649.4,283 653.2,283 653.8,282 654.3,230.57 654.9,227.57 657.6,223.4 658.1,225.4 658.6,282 659.2,283 663.3,283 663.9,282 664.4,221.12 665,218.12 667.4,213.23 667.9,215.23 668.4,282 669,283 672.8,283 673.4,282 673.9,211.41 674.5,208.41 676.9,202.8 677.4,204.8 677.9,282 678.5,283 682.2,283" fill="none" stroke="#5cc4d8" stroke-width="0.9" stroke-linejoin="round" />
<text x="522.3" y="268.6" font-size="4.9" text-anchor="start" fill="#111" stroke="#111" font-weight="normal" >0.18</text>
<text x="529.3" y="263.5" font-size="4.9" text-anchor="start" fill="#111" stroke="#111" font-weight="normal" >0.22</text>
<text x="539.6" y="261" font-size="4.9" text-anchor="start" fill="#111" stroke="#111" font-weight="normal" >0.29</text>
<text x="550.2" y="261" font-size="4.9" text-anchor="start" fill="#111" stroke="#111" font-weight="normal" >0.39</text>
<text x="560.2" y="220.8" font-size="4.9" text-anchor="start" fill="#111" stroke="#111" font-weight="normal" >5.68</text>
<text x="570.3" y="219.5" font-size="4.9" text-anchor="start" fill="#111" stroke="#111" font-weight="normal" >6.61</text>
<text x="580.4" y="208.2" font-size="4.9" text-anchor="start" fill="#111" stroke="#111" font-weight="normal" >8.13</text>
<text x="589.2" y="199.9" font-size="4.9" text-anchor="start" fill="#111" stroke="#111" font-weight="normal" >11.06</text>
<text x="600.5" y="270.3" font-size="4.9" text-anchor="start" fill="#111" stroke="#111" font-weight="normal" >0.18</text>
<text x="611.8" y="267" font-size="4.9" text-anchor="start" fill="#111" stroke="#111" font-weight="normal" >0.24</text>
<text x="621.9" y="264" font-size="4.9" text-anchor="start" fill="#111" stroke="#111" font-weight="normal" >0.29</text>
<text x="632" y="259.7" font-size="4.9" text-anchor="start" fill="#111" stroke="#111" font-weight="normal" >0.37</text>
<text x="641.2" y="223.8" font-size="4.9" text-anchor="start" fill="#111" stroke="#111" font-weight="normal" >5.60</text>
<text x="652" y="220" font-size="4.9" text-anchor="start" fill="#111" stroke="#111" font-weight="normal" >6.51</text>
<text x="662.4" y="213" font-size="4.9" text-anchor="start" fill="#111" stroke="#111" font-weight="normal" >7.91</text>
<text x="671.4" y="202.4" font-size="4.9" text-anchor="start" fill="#111" stroke="#111" font-weight="normal" >10.8</text>
<text x="667.1" y="192.9" font-size="4.9" text-anchor="start" fill="#111" stroke="#111" font-weight="normal" >(kPa)</text>
<text x="559.5" y="181.8" font-size="7.5" text-anchor="middle" fill="#111" stroke="#111" font-weight="normal" >0% strain</text>
<text x="637.3" y="181.8" font-size="7.5" text-anchor="middle" fill="#111" stroke="#111" font-weight="normal" >40% strain</text>
<rect x="521.4" y="173.4" width="161.3" height="116.9" fill="none" stroke="#262626" stroke-width="0.9"/>
<line x1="518.8" y1="283.3" x2="521.4" y2="283.3" stroke="#262626" stroke-width="0.8"/>
<text x="517.4" y="285.7" font-size="6.5" text-anchor="end" fill="#111" stroke="#111" font-weight="normal" >0</text>
<line x1="518.8" y1="242.25" x2="521.4" y2="242.25" stroke="#262626" stroke-width="0.8"/>
<text x="517.4" y="244.65" font-size="6.5" text-anchor="end" fill="#111" stroke="#111" font-weight="normal" >150</text>
<line x1="518.8" y1="201.2" x2="521.4" y2="201.2" stroke="#262626" stroke-width="0.8"/>
<text x="517.4" y="203.6" font-size="6.5" text-anchor="end" fill="#111" stroke="#111" font-weight="normal" >300</text>
<line x1="519.9" y1="262.77" x2="521.4" y2="262.77" stroke="#262626" stroke-width="0.7"/>
<line x1="519.9" y1="221.72" x2="521.4" y2="221.72" stroke="#262626" stroke-width="0.7"/>
<line x1="519.9" y1="180.67" x2="521.4" y2="180.67" stroke="#262626" stroke-width="0.7"/>
<line x1="522.8" y1="290.3" x2="522.8" y2="292.9" stroke="#262626" stroke-width="0.8"/>
<text x="522.8" y="300.6" font-size="6.5" text-anchor="middle" fill="#111" stroke="#111" font-weight="normal" >0</text>
<line x1="589.65" y1="290.3" x2="589.65" y2="292.9" stroke="#262626" stroke-width="0.8"/>
<text x="589.65" y="300.6" font-size="6.5" text-anchor="middle" fill="#111" stroke="#111" font-weight="normal" >50</text>
<line x1="656.5" y1="290.3" x2="656.5" y2="292.9" stroke="#262626" stroke-width="0.8"/>
<text x="656.5" y="300.6" font-size="6.5" text-anchor="middle" fill="#111" stroke="#111" font-weight="normal" >100</text>
<line x1="556.22" y1="290.3" x2="556.22" y2="291.8" stroke="#262626" stroke-width="0.7"/>
<line x1="623.08" y1="290.3" x2="623.08" y2="291.8" stroke="#262626" stroke-width="0.7"/>
<text x="503" y="231.8" font-size="7.8" text-anchor="middle" fill="#111" stroke="#111" transform="rotate(-90 503 231.8)"><tspan font-style="italic">ΔI/I</tspan><tspan font-size="5.4" dy="1.6">0</tspan></text>
<text x="602" y="311.4" font-size="7.8" text-anchor="middle" fill="#111" stroke="#111" font-weight="normal" >Time (s)</text>
<rect x="22.6" y="337.8" width="60.4" height="113.3" fill="#e4e4e4"/>
<rect x="23.5" y="338.4" width="57.8" height="51.8" fill="#f2f2f2"/>
<path d="M26.8,387.2 C26.8,384.3 23.5,383.6 26.8,380.7 C30.1,377.8 30.8,377.8 34.1,380.7 C37.4,383.6 30.8,384.3 34.1,387.2 C37.4,390.1 34.8,387.2 41.4,387.2 C48.0,387.2 45.5,390.1 48.7,387.2 C52.0,384.3 52.0,383.6 48.7,380.7 C45.5,377.8 44.7,383.6 41.4,380.7 C38.1,377.8 38.1,377.1 41.4,374.2 C44.7,371.3 45.5,377.1 48.7,374.2 C52.0,371.3 52.0,370.7 48.7,367.7 C45.5,364.8 48.0,367.7 41.4,367.7 C34.8,367.7 37.4,364.8 34.1,367.7 C30.8,370.7 37.4,371.3 34.1,374.2 C30.8,377.1 30.1,377.1 26.8,374.2 C23.5,371.3 26.8,373.6 26.8,367.7 C26.8,361.9 23.5,364.2 26.8,361.3 C30.1,358.3 30.8,364.2 34.1,361.3 C37.4,358.3 37.4,357.7 34.1,354.8 C30.8,351.9 30.1,357.7 26.8,354.8 C23.5,351.9 26.8,354.1 26.8,348.3 C26.8,342.4 23.5,344.7 26.8,341.8 C30.1,338.9 30.8,338.9 34.1,341.8 C37.4,344.7 30.8,345.4 34.1,348.3 C37.4,351.2 38.1,351.2 41.4,348.3 C44.7,345.4 38.1,344.7 41.4,341.8 C44.7,338.9 45.5,338.9 48.7,341.8 C52.0,344.7 48.7,342.4 48.7,348.3 C48.7,354.1 52.0,351.9 48.7,354.8 C45.5,357.7 44.7,351.9 41.4,354.8 C38.1,357.7 38.1,358.3 41.4,361.3 C44.7,364.2 42.2,361.3 48.7,361.3 C55.3,361.3 49.5,361.3 56.1,361.3 C62.6,361.3 60.1,364.2 63.4,361.3 C66.7,358.3 66.7,357.7 63.4,354.8 C60.1,351.9 59.3,357.7 56.1,354.8 C52.8,351.9 56.1,354.1 56.1,348.3 C56.1,342.4 52.8,344.7 56.1,341.8 C59.3,338.9 60.1,338.9 63.4,341.8 C66.7,344.7 60.1,345.4 63.4,348.3 C66.7,351.2 67.4,351.2 70.7,348.3 C74.0,345.4 67.4,344.7 70.7,341.8 C74.0,338.9 74.7,338.9 78.0,341.8 C81.3,344.7 78.0,342.4 78.0,348.3 C78.0,354.1 81.3,351.9 78.0,354.8 C74.7,357.7 74.0,351.9 70.7,354.8 C67.4,357.7 67.4,358.3 70.7,361.3 C74.0,364.2 74.7,358.3 78.0,361.3 C81.3,364.2 78.0,361.9 78.0,367.7 C78.0,373.6 81.3,371.3 78.0,374.2 C74.7,377.1 74.0,377.1 70.7,374.2 C67.4,371.3 74.0,370.7 70.7,367.7 C67.4,364.8 70.0,367.7 63.4,367.7 C56.8,367.7 59.3,364.8 56.1,367.7 C52.8,370.7 52.8,371.3 56.1,374.2 C59.3,377.1 60.1,371.3 63.4,374.2 C66.7,377.1 66.7,377.8 63.4,380.7 C60.1,383.6 59.3,377.8 56.1,380.7 C52.8,383.6 52.8,384.3 56.1,387.2 C59.3,390.1 56.8,387.2 63.4,387.2 C70.0,387.2 67.4,390.1 70.7,387.2 C74.0,384.3 67.4,383.6 70.7,380.7 C74.0,377.8 74.7,377.8 78.0,380.7 C81.3,383.6 78.0,384.3 78.0,387.2" fill="none" stroke="#161616" stroke-width="1.85" stroke-linecap="round" stroke-linejoin="round" />
<path d="M26.8,387.2 C26.8,389.2 31.5,388.2 31.5,390.2 C38.4,387.6 38.4,399.9 31.5,397.2 C24.6,394.6 24.6,406.9 31.5,404.3 C38.4,401.7 38.4,414.0 31.5,411.4 C24.6,408.8 24.6,421.0 31.5,418.4 C38.4,415.8 38.4,428.1 31.5,425.5 C24.6,422.9 24.6,435.1 31.5,432.5" fill="none" stroke="#161616" stroke-width="1.85" stroke-linecap="round" stroke-linejoin="round" />
<path d="M78.0,387.2 C78.0,389.2 72.5,388.2 72.5,390.2 C65.6,387.6 65.6,399.9 72.5,397.2 C79.4,394.6 79.4,406.9 72.5,404.3 C65.6,401.7 65.6,414.0 72.5,411.4 C79.4,408.8 79.4,421.0 72.5,418.4 C65.6,415.8 65.6,428.1 72.5,425.5 C79.4,422.9 79.4,435.1 72.5,432.5" fill="none" stroke="#161616" stroke-width="1.85" stroke-linecap="round" stroke-linejoin="round" />
<path d="M31.5,432.5 C31.5,436 34,438.5 37,439" fill="none" stroke="#161616" stroke-width="1.5" stroke-linecap="round" stroke-linejoin="round" />
<path d="M72.5,432.5 C72.5,436 70,438.5 67,439" fill="none" stroke="#161616" stroke-width="1.5" stroke-linecap="round" stroke-linejoin="round" />
<rect x="30.6" y="438.3" width="14.1" height="10" fill="#1c1c1c"/>
<rect x="59.0" y="438.3" width="15.2" height="10" fill="#1c1c1c"/>
<rect x="23.5" y="338.4" width="57.8" height="51.8" fill="none" stroke="#ee3a3a" stroke-width="0.8" stroke-dasharray="2.4,1.4"/>
<text x="51.5" y="464.2" font-size="8.6" text-anchor="middle" fill="#111" stroke="#111" font-weight="normal" >T-sensor</text>
<path d="M90.0,397.0 C90.0,394.8 87.7,394.4 90.0,392.2 C92.3,390.1 92.9,390.1 95.2,392.2 C97.6,394.4 92.9,394.8 95.2,397.0 C97.6,399.2 95.7,397.0 100.4,397.0 C105.1,397.0 103.3,399.2 105.6,397.0 C108.0,394.8 108.0,394.4 105.6,392.2 C103.3,390.1 102.8,394.4 100.4,392.2 C98.1,390.1 98.1,389.6 100.4,387.4 C102.8,385.3 103.3,389.6 105.6,387.4 C108.0,385.3 108.0,384.8 105.6,382.6 C103.3,380.5 105.1,382.6 100.4,382.6 C95.7,382.6 97.6,380.5 95.2,382.6 C92.9,384.8 97.6,385.3 95.2,387.4 C92.9,389.6 92.3,389.6 90.0,387.4 C87.7,385.3 90.0,387.0 90.0,382.6 C90.0,378.3 87.7,380.0 90.0,377.9 C92.3,375.7 92.9,380.0 95.2,377.9 C97.6,375.7 97.6,375.2 95.2,373.1 C92.9,370.9 92.3,375.2 90.0,373.1 C87.7,370.9 90.0,372.6 90.0,368.3 C90.0,364.0 87.7,365.7 90.0,363.5 C92.3,361.3 92.9,361.3 95.2,363.5 C97.6,365.7 92.9,366.1 95.2,368.3 C97.6,370.4 98.1,370.4 100.4,368.3 C102.8,366.1 98.1,365.7 100.4,363.5 C102.8,361.3 103.3,361.3 105.6,363.5 C108.0,365.7 105.6,364.0 105.6,368.3 C105.6,372.6 108.0,370.9 105.6,373.1 C103.3,375.2 102.8,370.9 100.4,373.1 C98.1,375.2 98.1,375.7 100.4,377.9 C102.8,380.0 100.9,377.9 105.6,377.9 C110.3,377.9 106.2,377.9 110.9,377.9 C115.6,377.9 113.7,380.0 116.1,377.9 C118.4,375.7 118.4,375.2 116.1,373.1 C113.7,370.9 113.2,375.2 110.9,373.1 C108.5,370.9 110.9,372.6 110.9,368.3 C110.9,364.0 108.5,365.7 110.9,363.5 C113.2,361.3 113.7,361.3 116.1,363.5 C118.4,365.7 113.7,366.1 116.1,368.3 C118.4,370.4 118.9,370.4 121.3,368.3 C123.6,366.1 118.9,365.7 121.3,363.5 C123.6,361.3 124.2,361.3 126.5,363.5 C128.8,365.7 126.5,364.0 126.5,368.3 C126.5,372.6 128.8,370.9 126.5,373.1 C124.2,375.2 123.6,370.9 121.3,373.1 C118.9,375.2 118.9,375.7 121.3,377.9 C123.6,380.0 124.2,375.7 126.5,377.9 C128.8,380.0 126.5,378.3 126.5,382.6 C126.5,387.0 128.8,385.3 126.5,387.4 C124.2,389.6 123.6,389.6 121.3,387.4 C118.9,385.3 123.6,384.8 121.3,382.6 C118.9,380.5 120.8,382.6 116.1,382.6 C111.4,382.6 113.2,380.5 110.9,382.6 C108.5,384.8 108.5,385.3 110.9,387.4 C113.2,389.6 113.7,385.3 116.1,387.4 C118.4,389.6 118.4,390.1 116.1,392.2 C113.7,394.4 113.2,390.1 110.9,392.2 C108.5,394.4 108.5,394.8 110.9,397.0 C113.2,399.2 111.4,397.0 116.1,397.0 C120.8,397.0 118.9,399.2 121.3,397.0 C123.6,394.8 118.9,394.4 121.3,392.2 C123.6,390.1 124.2,390.1 126.5,392.2 C128.8,394.4 126.5,394.8 126.5,397.0" fill="none" stroke="#d4d4d4" stroke-width="3.4" stroke-linecap="round" stroke-linejoin="round" />
<path d="M90.0,397.0 C90.0,394.8 87.7,394.4 90.0,392.2 C92.3,390.1 92.9,390.1 95.2,392.2 C97.6,394.4 92.9,394.8 95.2,397.0 C97.6,399.2 95.7,397.0 100.4,397.0 C105.1,397.0 103.3,399.2 105.6,397.0 C108.0,394.8 108.0,394.4 105.6,392.2 C103.3,390.1 102.8,394.4 100.4,392.2 C98.1,390.1 98.1,389.6 100.4,387.4 C102.8,385.3 103.3,389.6 105.6,387.4 C108.0,385.3 108.0,384.8 105.6,382.6 C103.3,380.5 105.1,382.6 100.4,382.6 C95.7,382.6 97.6,380.5 95.2,382.6 C92.9,384.8 97.6,385.3 95.2,387.4 C92.9,389.6 92.3,389.6 90.0,387.4 C87.7,385.3 90.0,387.0 90.0,382.6 C90.0,378.3 87.7,380.0 90.0,377.9 C92.3,375.7 92.9,380.0 95.2,377.9 C97.6,375.7 97.6,375.2 95.2,373.1 C92.9,370.9 92.3,375.2 90.0,373.1 C87.7,370.9 90.0,372.6 90.0,368.3 C90.0,364.0 87.7,365.7 90.0,363.5 C92.3,361.3 92.9,361.3 95.2,363.5 C97.6,365.7 92.9,366.1 95.2,368.3 C97.6,370.4 98.1,370.4 100.4,368.3 C102.8,366.1 98.1,365.7 100.4,363.5 C102.8,361.3 103.3,361.3 105.6,363.5 C108.0,365.7 105.6,364.0 105.6,368.3 C105.6,372.6 108.0,370.9 105.6,373.1 C103.3,375.2 102.8,370.9 100.4,373.1 C98.1,375.2 98.1,375.7 100.4,377.9 C102.8,380.0 100.9,377.9 105.6,377.9 C110.3,377.9 106.2,377.9 110.9,377.9 C115.6,377.9 113.7,380.0 116.1,377.9 C118.4,375.7 118.4,375.2 116.1,373.1 C113.7,370.9 113.2,375.2 110.9,373.1 C108.5,370.9 110.9,372.6 110.9,368.3 C110.9,364.0 108.5,365.7 110.9,363.5 C113.2,361.3 113.7,361.3 116.1,363.5 C118.4,365.7 113.7,366.1 116.1,368.3 C118.4,370.4 118.9,370.4 121.3,368.3 C123.6,366.1 118.9,365.7 121.3,363.5 C123.6,361.3 124.2,361.3 126.5,363.5 C128.8,365.7 126.5,364.0 126.5,368.3 C126.5,372.6 128.8,370.9 126.5,373.1 C124.2,375.2 123.6,370.9 121.3,373.1 C118.9,375.2 118.9,375.7 121.3,377.9 C123.6,380.0 124.2,375.7 126.5,377.9 C128.8,380.0 126.5,378.3 126.5,382.6 C126.5,387.0 128.8,385.3 126.5,387.4 C124.2,389.6 123.6,389.6 121.3,387.4 C118.9,385.3 123.6,384.8 121.3,382.6 C118.9,380.5 120.8,382.6 116.1,382.6 C111.4,382.6 113.2,380.5 110.9,382.6 C108.5,384.8 108.5,385.3 110.9,387.4 C113.2,389.6 113.7,385.3 116.1,387.4 C118.4,389.6 118.4,390.1 116.1,392.2 C113.7,394.4 113.2,390.1 110.9,392.2 C108.5,394.4 108.5,394.8 110.9,397.0 C113.2,399.2 111.4,397.0 116.1,397.0 C120.8,397.0 118.9,399.2 121.3,397.0 C123.6,394.8 118.9,394.4 121.3,392.2 C123.6,390.1 124.2,390.1 126.5,392.2 C128.8,394.4 126.5,394.8 126.5,397.0" fill="none" stroke="#38c8e8" stroke-width="2.1" stroke-linecap="round" stroke-linejoin="round" />
<path d="M90.0,397.0 C90.0,394.8 87.7,394.4 90.0,392.2 C92.3,390.1 92.9,390.1 95.2,392.2 C97.6,394.4 92.9,394.8 95.2,397.0 C97.6,399.2 95.7,397.0 100.4,397.0 C105.1,397.0 103.3,399.2 105.6,397.0 C108.0,394.8 108.0,394.4 105.6,392.2 C103.3,390.1 102.8,394.4 100.4,392.2 C98.1,390.1 98.1,389.6 100.4,387.4 C102.8,385.3 103.3,389.6 105.6,387.4 C108.0,385.3 108.0,384.8 105.6,382.6 C103.3,380.5 105.1,382.6 100.4,382.6 C95.7,382.6 97.6,380.5 95.2,382.6 C92.9,384.8 97.6,385.3 95.2,387.4 C92.9,389.6 92.3,389.6 90.0,387.4 C87.7,385.3 90.0,387.0 90.0,382.6 C90.0,378.3 87.7,380.0 90.0,377.9 C92.3,375.7 92.9,380.0 95.2,377.9 C97.6,375.7 97.6,375.2 95.2,373.1 C92.9,370.9 92.3,375.2 90.0,373.1 C87.7,370.9 90.0,372.6 90.0,368.3 C90.0,364.0 87.7,365.7 90.0,363.5 C92.3,361.3 92.9,361.3 95.2,363.5 C97.6,365.7 92.9,366.1 95.2,368.3 C97.6,370.4 98.1,370.4 100.4,368.3 C102.8,366.1 98.1,365.7 100.4,363.5 C102.8,361.3 103.3,361.3 105.6,363.5 C108.0,365.7 105.6,364.0 105.6,368.3 C105.6,372.6 108.0,370.9 105.6,373.1 C103.3,375.2 102.8,370.9 100.4,373.1 C98.1,375.2 98.1,375.7 100.4,377.9 C102.8,380.0 100.9,377.9 105.6,377.9 C110.3,377.9 106.2,377.9 110.9,377.9 C115.6,377.9 113.7,380.0 116.1,377.9 C118.4,375.7 118.4,375.2 116.1,373.1 C113.7,370.9 113.2,375.2 110.9,373.1 C108.5,370.9 110.9,372.6 110.9,368.3 C110.9,364.0 108.5,365.7 110.9,363.5 C113.2,361.3 113.7,361.3 116.1,363.5 C118.4,365.7 113.7,366.1 116.1,368.3 C118.4,370.4 118.9,370.4 121.3,368.3 C123.6,366.1 118.9,365.7 121.3,363.5 C123.6,361.3 124.2,361.3 126.5,363.5 C128.8,365.7 126.5,364.0 126.5,368.3 C126.5,372.6 128.8,370.9 126.5,373.1 C124.2,375.2 123.6,370.9 121.3,373.1 C118.9,375.2 118.9,375.7 121.3,377.9 C123.6,380.0 124.2,375.7 126.5,377.9 C128.8,380.0 126.5,378.3 126.5,382.6 C126.5,387.0 128.8,385.3 126.5,387.4 C124.2,389.6 123.6,389.6 121.3,387.4 C118.9,385.3 123.6,384.8 121.3,382.6 C118.9,380.5 120.8,382.6 116.1,382.6 C111.4,382.6 113.2,380.5 110.9,382.6 C108.5,384.8 108.5,385.3 110.9,387.4 C113.2,389.6 113.7,385.3 116.1,387.4 C118.4,389.6 118.4,390.1 116.1,392.2 C113.7,394.4 113.2,390.1 110.9,392.2 C108.5,394.4 108.5,394.8 110.9,397.0 C113.2,399.2 111.4,397.0 116.1,397.0 C120.8,397.0 118.9,399.2 121.3,397.0 C123.6,394.8 118.9,394.4 121.3,392.2 C123.6,390.1 124.2,390.1 126.5,392.2 C128.8,394.4 126.5,394.8 126.5,397.0" fill="none" stroke="#1a30e0" stroke-width="1.1" stroke-linecap="round" stroke-linejoin="round" />
<path d="M90.0,397.0 C90.0,399.0 93.5,398.0 93.5,400.0 C99.1,397.8 99.1,408.2 93.5,406.0 C87.9,403.8 87.9,414.2 93.5,412.0 C99.1,409.8 99.1,420.2 93.5,418.0 C87.9,415.8 87.9,426.2 93.5,424.0 C99.1,421.8 99.1,432.2 93.5,430.0 C87.9,427.8 87.9,438.2 93.5,436.0" fill="none" stroke="#d4d4d4" stroke-width="3.4" stroke-linecap="round" stroke-linejoin="round" />
<path d="M90.0,397.0 C90.0,399.0 93.5,398.0 93.5,400.0 C99.1,397.8 99.1,408.2 93.5,406.0 C87.9,403.8 87.9,414.2 93.5,412.0 C99.1,409.8 99.1,420.2 93.5,418.0 C87.9,415.8 87.9,426.2 93.5,424.0 C99.1,421.8 99.1,432.2 93.5,430.0 C87.9,427.8 87.9,438.2 93.5,436.0" fill="none" stroke="#38c8e8" stroke-width="2.1" stroke-linecap="round" stroke-linejoin="round" />
<path d="M90.0,397.0 C90.0,399.0 93.5,398.0 93.5,400.0 C99.1,397.8 99.1,408.2 93.5,406.0 C87.9,403.8 87.9,414.2 93.5,412.0 C99.1,409.8 99.1,420.2 93.5,418.0 C87.9,415.8 87.9,426.2 93.5,424.0 C99.1,421.8 99.1,432.2 93.5,430.0 C87.9,427.8 87.9,438.2 93.5,436.0" fill="none" stroke="#1a30e0" stroke-width="1.1" stroke-linecap="round" stroke-linejoin="round" />
<path d="M126.5,397.0 C126.5,399.0 123.0,398.0 123.0,400.0 C117.4,397.8 117.4,408.2 123.0,406.0 C128.6,403.8 128.6,414.2 123.0,412.0 C117.4,409.8 117.4,420.2 123.0,418.0 C128.6,415.8 128.6,426.2 123.0,424.0 C117.4,421.8 117.4,432.2 123.0,430.0 C128.6,427.8 128.6,438.2 123.0,436.0" fill="none" stroke="#d4d4d4" stroke-width="3.4" stroke-linecap="round" stroke-linejoin="round" />
<path d="M126.5,397.0 C126.5,399.0 123.0,398.0 123.0,400.0 C117.4,397.8 117.4,408.2 123.0,406.0 C128.6,403.8 128.6,414.2 123.0,412.0 C117.4,409.8 117.4,420.2 123.0,418.0 C128.6,415.8 128.6,426.2 123.0,424.0 C117.4,421.8 117.4,432.2 123.0,430.0 C128.6,427.8 128.6,438.2 123.0,436.0" fill="none" stroke="#38c8e8" stroke-width="2.1" stroke-linecap="round" stroke-linejoin="round" />
<path d="M126.5,397.0 C126.5,399.0 123.0,398.0 123.0,400.0 C117.4,397.8 117.4,408.2 123.0,406.0 C128.6,403.8 128.6,414.2 123.0,412.0 C117.4,409.8 117.4,420.2 123.0,418.0 C128.6,415.8 128.6,426.2 123.0,424.0 C117.4,421.8 117.4,432.2 123.0,430.0 C128.6,427.8 128.6,438.2 123.0,436.0" fill="none" stroke="#1a30e0" stroke-width="1.1" stroke-linecap="round" stroke-linejoin="round" />
<circle cx="88.9" cy="402" r="1.1" fill="#e8a030"/>
<circle cx="88.9" cy="412" r="1.1" fill="#e8a030"/>
<circle cx="88.9" cy="422" r="1.1" fill="#e8a030"/>
<circle cx="127.6" cy="405" r="1.1" fill="#e8a030"/>
<circle cx="127.6" cy="415" r="1.1" fill="#e8a030"/>
<circle cx="127.6" cy="425" r="1.1" fill="#e8a030"/>
<rect x="92.8" y="437.9" width="10.2" height="7.9" fill="#0a2cf0"/>
<rect x="112.4" y="437.9" width="9.7" height="7.9" fill="#0a2cf0"/>
<path d="M138.5,397.0 C138.5,394.8 136.1,394.4 138.5,392.2 C140.9,390.1 141.4,390.1 143.9,392.2 C146.3,394.4 141.4,394.8 143.9,397.0 C146.3,399.2 144.4,397.0 149.2,397.0 C154.0,397.0 152.2,399.2 154.6,397.0 C157.0,394.8 157.0,394.4 154.6,392.2 C152.2,390.1 151.6,394.4 149.2,392.2 C146.8,390.1 146.8,389.6 149.2,387.4 C151.6,385.3 152.2,389.6 154.6,387.4 C157.0,385.3 157.0,384.8 154.6,382.6 C152.2,380.5 154.0,382.6 149.2,382.6 C144.4,382.6 146.3,380.5 143.9,382.6 C141.4,384.8 146.3,385.3 143.9,387.4 C141.4,389.6 140.9,389.6 138.5,387.4 C136.1,385.3 138.5,387.0 138.5,382.6 C138.5,378.3 136.1,380.0 138.5,377.9 C140.9,375.7 141.4,380.0 143.9,377.9 C146.3,375.7 146.3,375.2 143.9,373.1 C141.4,370.9 140.9,375.2 138.5,373.1 C136.1,370.9 138.5,372.6 138.5,368.3 C138.5,364.0 136.1,365.7 138.5,363.5 C140.9,361.3 141.4,361.3 143.9,363.5 C146.3,365.7 141.4,366.1 143.9,368.3 C146.3,370.4 146.8,370.4 149.2,368.3 C151.6,366.1 146.8,365.7 149.2,363.5 C151.6,361.3 152.2,361.3 154.6,363.5 C157.0,365.7 154.6,364.0 154.6,368.3 C154.6,372.6 157.0,370.9 154.6,373.1 C152.2,375.2 151.6,370.9 149.2,373.1 C146.8,375.2 146.8,375.7 149.2,377.9 C151.6,380.0 149.8,377.9 154.6,377.9 C159.4,377.9 155.1,377.9 159.9,377.9 C164.7,377.9 162.9,380.0 165.3,377.9 C167.7,375.7 167.7,375.2 165.3,373.1 C162.9,370.9 162.3,375.2 159.9,373.1 C157.5,370.9 159.9,372.6 159.9,368.3 C159.9,364.0 157.5,365.7 159.9,363.5 C162.3,361.3 162.9,361.3 165.3,363.5 C167.7,365.7 162.9,366.1 165.3,368.3 C167.7,370.4 168.2,370.4 170.6,368.3 C173.1,366.1 168.2,365.7 170.6,363.5 C173.1,361.3 173.6,361.3 176.0,363.5 C178.4,365.7 176.0,364.0 176.0,368.3 C176.0,372.6 178.4,370.9 176.0,373.1 C173.6,375.2 173.1,370.9 170.6,373.1 C168.2,375.2 168.2,375.7 170.6,377.9 C173.1,380.0 173.6,375.7 176.0,377.9 C178.4,380.0 176.0,378.3 176.0,382.6 C176.0,387.0 178.4,385.3 176.0,387.4 C173.6,389.6 173.1,389.6 170.6,387.4 C168.2,385.3 173.1,384.8 170.6,382.6 C168.2,380.5 170.1,382.6 165.3,382.6 C160.5,382.6 162.3,380.5 159.9,382.6 C157.5,384.8 157.5,385.3 159.9,387.4 C162.3,389.6 162.9,385.3 165.3,387.4 C167.7,389.6 167.7,390.1 165.3,392.2 C162.9,394.4 162.3,390.1 159.9,392.2 C157.5,394.4 157.5,394.8 159.9,397.0 C162.3,399.2 160.5,397.0 165.3,397.0 C170.1,397.0 168.2,399.2 170.6,397.0 C173.1,394.8 168.2,394.4 170.6,392.2 C173.1,390.1 173.6,390.1 176.0,392.2 C178.4,394.4 176.0,394.8 176.0,397.0" fill="none" stroke="#d4d4d4" stroke-width="3.4" stroke-linecap="round" stroke-linejoin="round" />
<path d="M138.5,397.0 C138.5,394.8 136.1,394.4 138.5,392.2 C140.9,390.1 141.4,390.1 143.9,392.2 C146.3,394.4 141.4,394.8 143.9,397.0 C146.3,399.2 144.4,397.0 149.2,397.0 C154.0,397.0 152.2,399.2 154.6,397.0 C157.0,394.8 157.0,394.4 154.6,392.2 C152.2,390.1 151.6,394.4 149.2,392.2 C146.8,390.1 146.8,389.6 149.2,387.4 C151.6,385.3 152.2,389.6 154.6,387.4 C157.0,385.3 157.0,384.8 154.6,382.6 C152.2,380.5 154.0,382.6 149.2,382.6 C144.4,382.6 146.3,380.5 143.9,382.6 C141.4,384.8 146.3,385.3 143.9,387.4 C141.4,389.6 140.9,389.6 138.5,387.4 C136.1,385.3 138.5,387.0 138.5,382.6 C138.5,378.3 136.1,380.0 138.5,377.9 C140.9,375.7 141.4,380.0 143.9,377.9 C146.3,375.7 146.3,375.2 143.9,373.1 C141.4,370.9 140.9,375.2 138.5,373.1 C136.1,370.9 138.5,372.6 138.5,368.3 C138.5,364.0 136.1,365.7 138.5,363.5 C140.9,361.3 141.4,361.3 143.9,363.5 C146.3,365.7 141.4,366.1 143.9,368.3 C146.3,370.4 146.8,370.4 149.2,368.3 C151.6,366.1 146.8,365.7 149.2,363.5 C151.6,361.3 152.2,361.3 154.6,363.5 C157.0,365.7 154.6,364.0 154.6,368.3 C154.6,372.6 157.0,370.9 154.6,373.1 C152.2,375.2 151.6,370.9 149.2,373.1 C146.8,375.2 146.8,375.7 149.2,377.9 C151.6,380.0 149.8,377.9 154.6,377.9 C159.4,377.9 155.1,377.9 159.9,377.9 C164.7,377.9 162.9,380.0 165.3,377.9 C167.7,375.7 167.7,375.2 165.3,373.1 C162.9,370.9 162.3,375.2 159.9,373.1 C157.5,370.9 159.9,372.6 159.9,368.3 C159.9,364.0 157.5,365.7 159.9,363.5 C162.3,361.3 162.9,361.3 165.3,363.5 C167.7,365.7 162.9,366.1 165.3,368.3 C167.7,370.4 168.2,370.4 170.6,368.3 C173.1,366.1 168.2,365.7 170.6,363.5 C173.1,361.3 173.6,361.3 176.0,363.5 C178.4,365.7 176.0,364.0 176.0,368.3 C176.0,372.6 178.4,370.9 176.0,373.1 C173.6,375.2 173.1,370.9 170.6,373.1 C168.2,375.2 168.2,375.7 170.6,377.9 C173.1,380.0 173.6,375.7 176.0,377.9 C178.4,380.0 176.0,378.3 176.0,382.6 C176.0,387.0 178.4,385.3 176.0,387.4 C173.6,389.6 173.1,389.6 170.6,387.4 C168.2,385.3 173.1,384.8 170.6,382.6 C168.2,380.5 170.1,382.6 165.3,382.6 C160.5,382.6 162.3,380.5 159.9,382.6 C157.5,384.8 157.5,385.3 159.9,387.4 C162.3,389.6 162.9,385.3 165.3,387.4 C167.7,389.6 167.7,390.1 165.3,392.2 C162.9,394.4 162.3,390.1 159.9,392.2 C157.5,394.4 157.5,394.8 159.9,397.0 C162.3,399.2 160.5,397.0 165.3,397.0 C170.1,397.0 168.2,399.2 170.6,397.0 C173.1,394.8 168.2,394.4 170.6,392.2 C173.1,390.1 173.6,390.1 176.0,392.2 C178.4,394.4 176.0,394.8 176.0,397.0" fill="none" stroke="#38c8e8" stroke-width="2.1" stroke-linecap="round" stroke-linejoin="round" />
<path d="M138.5,397.0 C138.5,394.8 136.1,394.4 138.5,392.2 C140.9,390.1 141.4,390.1 143.9,392.2 C146.3,394.4 141.4,394.8 143.9,397.0 C146.3,399.2 144.4,397.0 149.2,397.0 C154.0,397.0 152.2,399.2 154.6,397.0 C157.0,394.8 157.0,394.4 154.6,392.2 C152.2,390.1 151.6,394.4 149.2,392.2 C146.8,390.1 146.8,389.6 149.2,387.4 C151.6,385.3 152.2,389.6 154.6,387.4 C157.0,385.3 157.0,384.8 154.6,382.6 C152.2,380.5 154.0,382.6 149.2,382.6 C144.4,382.6 146.3,380.5 143.9,382.6 C141.4,384.8 146.3,385.3 143.9,387.4 C141.4,389.6 140.9,389.6 138.5,387.4 C136.1,385.3 138.5,387.0 138.5,382.6 C138.5,378.3 136.1,380.0 138.5,377.9 C140.9,375.7 141.4,380.0 143.9,377.9 C146.3,375.7 146.3,375.2 143.9,373.1 C141.4,370.9 140.9,375.2 138.5,373.1 C136.1,370.9 138.5,372.6 138.5,368.3 C138.5,364.0 136.1,365.7 138.5,363.5 C140.9,361.3 141.4,361.3 143.9,363.5 C146.3,365.7 141.4,366.1 143.9,368.3 C146.3,370.4 146.8,370.4 149.2,368.3 C151.6,366.1 146.8,365.7 149.2,363.5 C151.6,361.3 152.2,361.3 154.6,363.5 C157.0,365.7 154.6,364.0 154.6,368.3 C154.6,372.6 157.0,370.9 154.6,373.1 C152.2,375.2 151.6,370.9 149.2,373.1 C146.8,375.2 146.8,375.7 149.2,377.9 C151.6,380.0 149.8,377.9 154.6,377.9 C159.4,377.9 155.1,377.9 159.9,377.9 C164.7,377.9 162.9,380.0 165.3,377.9 C167.7,375.7 167.7,375.2 165.3,373.1 C162.9,370.9 162.3,375.2 159.9,373.1 C157.5,370.9 159.9,372.6 159.9,368.3 C159.9,364.0 157.5,365.7 159.9,363.5 C162.3,361.3 162.9,361.3 165.3,363.5 C167.7,365.7 162.9,366.1 165.3,368.3 C167.7,370.4 168.2,370.4 170.6,368.3 C173.1,366.1 168.2,365.7 170.6,363.5 C173.1,361.3 173.6,361.3 176.0,363.5 C178.4,365.7 176.0,364.0 176.0,368.3 C176.0,372.6 178.4,370.9 176.0,373.1 C173.6,375.2 173.1,370.9 170.6,373.1 C168.2,375.2 168.2,375.7 170.6,377.9 C173.1,380.0 173.6,375.7 176.0,377.9 C178.4,380.0 176.0,378.3 176.0,382.6 C176.0,387.0 178.4,385.3 176.0,387.4 C173.6,389.6 173.1,389.6 170.6,387.4 C168.2,385.3 173.1,384.8 170.6,382.6 C168.2,380.5 170.1,382.6 165.3,382.6 C160.5,382.6 162.3,380.5 159.9,382.6 C157.5,384.8 157.5,385.3 159.9,387.4 C162.3,389.6 162.9,385.3 165.3,387.4 C167.7,389.6 167.7,390.1 165.3,392.2 C162.9,394.4 162.3,390.1 159.9,392.2 C157.5,394.4 157.5,394.8 159.9,397.0 C162.3,399.2 160.5,397.0 165.3,397.0 C170.1,397.0 168.2,399.2 170.6,397.0 C173.1,394.8 168.2,394.4 170.6,392.2 C173.1,390.1 173.6,390.1 176.0,392.2 C178.4,394.4 176.0,394.8 176.0,397.0" fill="none" stroke="#1a30e0" stroke-width="1.1" stroke-linecap="round" stroke-linejoin="round" />
<path d="M138.5,397.0 C138.5,399.0 142.5,398.0 142.5,400.0 C148.1,397.8 148.1,408.2 142.5,406.0 C136.9,403.8 136.9,414.2 142.5,412.0 C148.1,409.8 148.1,420.2 142.5,418.0 C136.9,415.8 136.9,426.2 142.5,424.0 C148.1,421.8 148.1,432.2 142.5,430.0 C136.9,427.8 136.9,438.2 142.5,436.0" fill="none" stroke="#d4d4d4" stroke-width="3.4" stroke-linecap="round" stroke-linejoin="round" />
<path d="M138.5,397.0 C138.5,399.0 142.5,398.0 142.5,400.0 C148.1,397.8 148.1,408.2 142.5,406.0 C136.9,403.8 136.9,414.2 142.5,412.0 C148.1,409.8 148.1,420.2 142.5,418.0 C136.9,415.8 136.9,426.2 142.5,424.0 C148.1,421.8 148.1,432.2 142.5,430.0 C136.9,427.8 136.9,438.2 142.5,436.0" fill="none" stroke="#38c8e8" stroke-width="2.1" stroke-linecap="round" stroke-linejoin="round" />
<path d="M138.5,397.0 C138.5,399.0 142.5,398.0 142.5,400.0 C148.1,397.8 148.1,408.2 142.5,406.0 C136.9,403.8 136.9,414.2 142.5,412.0 C148.1,409.8 148.1,420.2 142.5,418.0 C136.9,415.8 136.9,426.2 142.5,424.0 C148.1,421.8 148.1,432.2 142.5,430.0 C136.9,427.8 136.9,438.2 142.5,436.0" fill="none" stroke="#1a30e0" stroke-width="1.1" stroke-linecap="round" stroke-linejoin="round" />
<path d="M176.0,397.0 C176.0,399.0 176.5,398.0 176.5,400.0 C170.9,397.8 170.9,408.2 176.5,406.0 C182.1,403.8 182.1,414.2 176.5,412.0 C170.9,409.8 170.9,420.2 176.5,418.0 C182.1,415.8 182.1,426.2 176.5,424.0 C170.9,421.8 170.9,432.2 176.5,430.0 C182.1,427.8 182.1,438.2 176.5,436.0" fill="none" stroke="#d4d4d4" stroke-width="3.4" stroke-linecap="round" stroke-linejoin="round" />
<path d="M176.0,397.0 C176.0,399.0 176.5,398.0 176.5,400.0 C170.9,397.8 170.9,408.2 176.5,406.0 C182.1,403.8 182.1,414.2 176.5,412.0 C170.9,409.8 170.9,420.2 176.5,418.0 C182.1,415.8 182.1,426.2 176.5,424.0 C170.9,421.8 170.9,432.2 176.5,430.0 C182.1,427.8 182.1,438.2 176.5,436.0" fill="none" stroke="#38c8e8" stroke-width="2.1" stroke-linecap="round" stroke-linejoin="round" />
<path d="M176.0,397.0 C176.0,399.0 176.5,398.0 176.5,400.0 C170.9,397.8 170.9,408.2 176.5,406.0 C182.1,403.8 182.1,414.2 176.5,412.0 C170.9,409.8 170.9,420.2 176.5,418.0 C182.1,415.8 182.1,426.2 176.5,424.0 C170.9,421.8 170.9,432.2 176.5,430.0 C182.1,427.8 182.1,438.2 176.5,436.0" fill="none" stroke="#1a30e0" stroke-width="1.1" stroke-linecap="round" stroke-linejoin="round" />
<rect x="144.0" y="437.9" width="11" height="7.4" fill="#0a2cf0"/>
<rect x="163.4" y="437.9" width="7.1" height="7.4" fill="#fff" stroke="#888" stroke-width="0.4"/>
<rect x="170.5" y="437.9" width="10.3" height="7.4" fill="#0a2cf0"/>
<defs><linearGradient id="orA" x1="0" y1="1" x2="0" y2="0"><stop offset="0" stop-color="#f8b070"/><stop offset="1" stop-color="#f47018"/></linearGradient><linearGradient id="orB" x1="0" y1="0" x2="1" y2="0"><stop offset="0" stop-color="#f8b070"/><stop offset="1" stop-color="#f47018"/></linearGradient></defs>
<path d="M99.8,354.8 L100.4,354.8 L101.4,343.2 L103.1,343.2 L100.1,337.0 L97.1,343.2 L98.8,343.2 Z" fill="url(#orA)"/>
<path d="M150.6,339.9 L160.2,339.0 L160.2,337.4 L166.0,340.3 L160.2,343.2 L160.2,341.6 L150.6,340.7 Z" fill="url(#orB)"/>
<text x="117" y="348.8" font-size="8.5" text-anchor="middle" fill="#111" stroke="#111" transform="rotate(-90 117 348.8)">Force</text>
<text x="158.9" y="355.3" font-size="8.5" text-anchor="middle" fill="#111" stroke="#111" font-weight="normal" >Force</text>
<defs><linearGradient id="jetH" x1="0" y1="0" x2="1" y2="0"><stop offset="0" stop-color="#0010ff"/><stop offset="0.12" stop-color="#0050ff"/><stop offset="0.3" stop-color="#00c0ff"/><stop offset="0.45" stop-color="#20f0c0"/><stop offset="0.6" stop-color="#a0f040"/><stop offset="0.72" stop-color="#f8f000"/><stop offset="0.86" stop-color="#ff8000"/><stop offset="1" stop-color="#e81800"/></linearGradient></defs>
<rect x="91.3" y="456.1" width="83.6" height="4.5" fill="url(#jetH)"/>
<line x1="99.66" y1="456.1" x2="99.66" y2="457" stroke="#333" stroke-width="0.3"/>
<line x1="108.02" y1="456.1" x2="108.02" y2="457" stroke="#333" stroke-width="0.3"/>
<line x1="116.38" y1="456.1" x2="116.38" y2="457" stroke="#333" stroke-width="0.3"/>
<line x1="124.74" y1="456.1" x2="124.74" y2="457" stroke="#333" stroke-width="0.3"/>
<line x1="133.1" y1="456.1" x2="133.1" y2="457" stroke="#333" stroke-width="0.3"/>
<line x1="141.46" y1="456.1" x2="141.46" y2="457" stroke="#333" stroke-width="0.3"/>
<line x1="149.82" y1="456.1" x2="149.82" y2="457" stroke="#333" stroke-width="0.3"/>
<line x1="158.18" y1="456.1" x2="158.18" y2="457" stroke="#333" stroke-width="0.3"/>
<line x1="166.54" y1="456.1" x2="166.54" y2="457" stroke="#333" stroke-width="0.3"/>
<text x="91.3" y="467.4" font-size="6.2" text-anchor="middle" fill="#111" stroke="#111" font-weight="normal" >0</text>
<text x="175.4" y="467.4" font-size="6.2" text-anchor="end" fill="#111" stroke="#111" font-weight="normal" >0.01</text>
<text x="176.6" y="456.6" font-size="5" fill="#111">ε</text>
<line x1="229.68" y1="443.93" x2="239.12" y2="443.93" stroke="#f05a48" stroke-width="1.35"/>
<line x1="238.69" y1="443.93" x2="238.69" y2="416.89" stroke="#7ab8ee" stroke-width="0.7" stroke-dasharray="1.6,1"/>
<line x1="238.69" y1="416.89" x2="253.65" y2="416.89" stroke="#f05a48" stroke-width="1.35"/>
<line x1="253.65" y1="416.89" x2="253.65" y2="407.5" stroke="#7ab8ee" stroke-width="0.7" stroke-dasharray="1.6,1"/>
<line x1="253.65" y1="407.5" x2="268.18" y2="407.5" stroke="#f05a48" stroke-width="1.35"/>
<line x1="268.18" y1="407.5" x2="268.18" y2="392.52" stroke="#7ab8ee" stroke-width="0.7" stroke-dasharray="1.6,1"/>
<line x1="268.18" y1="392.52" x2="282.7" y2="392.52" stroke="#f05a48" stroke-width="1.35"/>
<line x1="282.7" y1="392.52" x2="282.7" y2="381.8" stroke="#7ab8ee" stroke-width="0.7" stroke-dasharray="1.6,1"/>
<line x1="282.7" y1="381.8" x2="297.23" y2="381.8" stroke="#f05a48" stroke-width="1.35"/>
<line x1="297.23" y1="381.8" x2="297.23" y2="375.09" stroke="#7ab8ee" stroke-width="0.7" stroke-dasharray="1.6,1"/>
<line x1="297.23" y1="375.09" x2="311.75" y2="375.09" stroke="#f05a48" stroke-width="1.35"/>
<line x1="311.75" y1="375.09" x2="311.75" y2="368.39" stroke="#7ab8ee" stroke-width="0.7" stroke-dasharray="1.6,1"/>
<line x1="311.75" y1="368.39" x2="326.27" y2="368.39" stroke="#f05a48" stroke-width="1.35"/>
<line x1="326.27" y1="368.39" x2="326.27" y2="362.35" stroke="#7ab8ee" stroke-width="0.7" stroke-dasharray="1.6,1"/>
<line x1="326.27" y1="362.35" x2="340.8" y2="362.35" stroke="#f05a48" stroke-width="1.35"/>
<text x="226.5" y="439.6" font-size="6.5" text-anchor="start" fill="#111" stroke="#111" font-weight="normal" >15°C</text>
<text x="234.6" y="412.7" font-size="6.5" text-anchor="start" fill="#111" stroke="#111" font-weight="normal" >30°C</text>
<text x="251.2" y="402.4" font-size="6.5" text-anchor="start" fill="#111" stroke="#111" font-weight="normal" >35°C</text>
<text x="264.8" y="388.3" font-size="6.5" text-anchor="start" fill="#111" stroke="#111" font-weight="normal" >40°C</text>
<text x="278.1" y="378" font-size="6.5" text-anchor="start" fill="#111" stroke="#111" font-weight="normal" >45°C</text>
<text x="292.4" y="370.7" font-size="6.5" text-anchor="start" fill="#111" stroke="#111" font-weight="normal" >50°C</text>
<text x="309" y="362.9" font-size="6.5" text-anchor="start" fill="#111" stroke="#111" font-weight="normal" >55°C</text>
<text x="324.1" y="355.6" font-size="6.5" text-anchor="start" fill="#111" stroke="#111" font-weight="normal" >60°C</text>
<defs><linearGradient id="devG" x1="0" y1="0" x2="0" y2="1"><stop offset="0" stop-color="#8fe0dc"/><stop offset="1" stop-color="#6cd6d2"/></linearGradient></defs>
<polygon points="286.8,415.6 323.4,415.6 329.2,429.6 281.4,429.6" fill="url(#devG)"/>
<polygon points="281.4,429.6 329.2,429.6 329.2,432.8 281.4,432.8" fill="#52ccc8"/>
<line x1="291" y1="417.5" x2="314" y2="417.8" stroke="#2a5a5e" stroke-width="0.9" stroke-dasharray="2,0.5,1,0.4"/>
<line x1="290.5" y1="419" x2="313.7" y2="419.3" stroke="#2a5a5e" stroke-width="0.9" stroke-dasharray="2,0.5,1,0.4"/>
<line x1="290" y1="420.5" x2="313.4" y2="420.8" stroke="#2a5a5e" stroke-width="0.9" stroke-dasharray="2,0.5,1,0.4"/>
<line x1="289.5" y1="422" x2="313.1" y2="422.3" stroke="#2a5a5e" stroke-width="0.9" stroke-dasharray="2,0.5,1,0.4"/>
<line x1="289" y1="423.5" x2="312.8" y2="423.8" stroke="#2a5a5e" stroke-width="0.9" stroke-dasharray="2,0.5,1,0.4"/>
<path d="M293,433.0 C291.6,434.9 292.4,436.3 294,437.7 C295.7,439.2 294.9,442 293.1,443.3" fill="none" stroke="#f28a1a" stroke-width="2.1" stroke-linecap="round"/>
<path d="M303.4,433.0 C302,434.9 302.8,436.3 304.4,437.7 C306.1,439.2 305.3,442 303.5,443.3" fill="none" stroke="#f28a1a" stroke-width="2.1" stroke-linecap="round"/>
<path d="M313.4,433.0 C312,434.9 312.8,436.3 314.4,437.7 C316.1,439.2 315.3,442 313.5,443.3" fill="none" stroke="#f28a1a" stroke-width="2.1" stroke-linecap="round"/>
<rect x="224.6" y="336.8" width="117.7" height="117.2" fill="none" stroke="#262626" stroke-width="0.9"/>
<line x1="222" y1="448.4" x2="224.6" y2="448.4" stroke="#262626" stroke-width="0.8"/>
<text x="220.6" y="450.8" font-size="6.5" text-anchor="end" fill="#111" stroke="#111" font-weight="normal" >0.0</text>
<line x1="222" y1="403.7" x2="224.6" y2="403.7" stroke="#262626" stroke-width="0.8"/>
<text x="220.6" y="406.1" font-size="6.5" text-anchor="end" fill="#111" stroke="#111" font-weight="normal" >0.2</text>
<line x1="222" y1="359" x2="224.6" y2="359" stroke="#262626" stroke-width="0.8"/>
<text x="220.6" y="361.4" font-size="6.5" text-anchor="end" fill="#111" stroke="#111" font-weight="normal" >0.4</text>
<line x1="223.1" y1="426.05" x2="224.6" y2="426.05" stroke="#262626" stroke-width="0.7"/>
<line x1="223.1" y1="381.35" x2="224.6" y2="381.35" stroke="#262626" stroke-width="0.7"/>
<line x1="224.6" y1="454" x2="224.6" y2="456.6" stroke="#262626" stroke-width="0.8"/>
<text x="224.6" y="463.1" font-size="6.5" text-anchor="middle" fill="#111" stroke="#111" font-weight="normal" >0</text>
<line x1="253.65" y1="454" x2="253.65" y2="456.6" stroke="#262626" stroke-width="0.8"/>
<text x="253.65" y="463.1" font-size="6.5" text-anchor="middle" fill="#111" stroke="#111" font-weight="normal" >2</text>
<line x1="282.7" y1="454" x2="282.7" y2="456.6" stroke="#262626" stroke-width="0.8"/>
<text x="282.7" y="463.1" font-size="6.5" text-anchor="middle" fill="#111" stroke="#111" font-weight="normal" >4</text>
<line x1="311.75" y1="454" x2="311.75" y2="456.6" stroke="#262626" stroke-width="0.8"/>
<text x="311.75" y="463.1" font-size="6.5" text-anchor="middle" fill="#111" stroke="#111" font-weight="normal" >6</text>
<line x1="340.8" y1="454" x2="340.8" y2="456.6" stroke="#262626" stroke-width="0.8"/>
<text x="340.8" y="463.1" font-size="6.5" text-anchor="middle" fill="#111" stroke="#111" font-weight="normal" >8</text>
<line x1="239.12" y1="454" x2="239.12" y2="455.5" stroke="#262626" stroke-width="0.7"/>
<line x1="268.18" y1="454" x2="268.18" y2="455.5" stroke="#262626" stroke-width="0.7"/>
<line x1="297.23" y1="454" x2="297.23" y2="455.5" stroke="#262626" stroke-width="0.7"/>
<line x1="326.27" y1="454" x2="326.27" y2="455.5" stroke="#262626" stroke-width="0.7"/>
<text x="208" y="395.5" font-size="7.8" text-anchor="middle" fill="#111" stroke="#111" transform="rotate(-90 208 395.5)">|<tspan font-family="Liberation Serif">Δ</tspan>R/R<tspan font-size="5.5" dy="1.5">0</tspan><tspan dy="-1.5">|</tspan></text>
<text x="283.5" y="474.2" font-size="7.8" text-anchor="middle" fill="#111" stroke="#111" font-weight="normal" >Time (min)</text>
<polyline points="383.61,361.28 396.73,367.52 409.84,385.2 422.95,398.98 436.06,409.12 449.17,422.9 462.29,429.66 475.4,438.5" fill="none" stroke="#f5845a" stroke-width="0.8" stroke-linejoin="round" />
<circle cx="383.61" cy="361.28" r="2.3" fill="#f5845a"/>
<circle cx="396.73" cy="367.52" r="2.3" fill="#f5845a"/>
<circle cx="409.84" cy="385.2" r="2.3" fill="#f5845a"/>
<circle cx="422.95" cy="398.98" r="2.3" fill="#f5845a"/>
<circle cx="436.06" cy="409.12" r="2.3" fill="#f5845a"/>
<circle cx="449.17" cy="422.9" r="2.3" fill="#f5845a"/>
<circle cx="462.29" cy="429.66" r="2.3" fill="#f5845a"/>
<circle cx="475.4" cy="438.5" r="2.3" fill="#f5845a"/>
<polyline points="383.61,376.36 396.73,381.3 409.84,390.92 422.95,404.44 436.06,415.1 449.17,427.06 462.29,434.08 475.4,442.92" fill="none" stroke="#5aa8e0" stroke-width="0.8" stroke-linejoin="round" />
<circle cx="383.61" cy="376.36" r="2.3" fill="#5aa8e0"/>
<circle cx="396.73" cy="381.3" r="2.3" fill="#5aa8e0"/>
<circle cx="409.84" cy="390.92" r="2.3" fill="#5aa8e0"/>
<circle cx="422.95" cy="404.44" r="2.3" fill="#5aa8e0"/>
<circle cx="436.06" cy="415.1" r="2.3" fill="#5aa8e0"/>
<circle cx="449.17" cy="427.06" r="2.3" fill="#5aa8e0"/>
<circle cx="462.29" cy="434.08" r="2.3" fill="#5aa8e0"/>
<circle cx="475.4" cy="442.92" r="2.3" fill="#5aa8e0"/>
<polyline points="383.61,373.76 396.73,381.82 409.84,394.3 422.95,407.82 436.06,417.7 449.17,429.92 462.29,436.68 475.4,445" fill="none" stroke="#fcc63e" stroke-width="0.8" stroke-linejoin="round" />
<circle cx="383.61" cy="373.76" r="2.3" fill="#fcc63e"/>
<circle cx="396.73" cy="381.82" r="2.3" fill="#fcc63e"/>
<circle cx="409.84" cy="394.3" r="2.3" fill="#fcc63e"/>
<circle cx="422.95" cy="407.82" r="2.3" fill="#fcc63e"/>
<circle cx="436.06" cy="417.7" r="2.3" fill="#fcc63e"/>
<circle cx="449.17" cy="429.92" r="2.3" fill="#fcc63e"/>
<circle cx="462.29" cy="436.68" r="2.3" fill="#fcc63e"/>
<circle cx="475.4" cy="445" r="2.3" fill="#fcc63e"/>
<line x1="433.9" y1="346.6" x2="446.5" y2="346.6" stroke="#5aa8e0" stroke-width="0.8"/>
<circle cx="440.2" cy="346.6" r="2.2" fill="#5aa8e0"/>
<text x="449.8" y="348.9" font-size="6.65" text-anchor="start" fill="#111" stroke="#111" font-weight="normal" >0% Strain</text>
<line x1="433.9" y1="354.4" x2="446.5" y2="354.4" stroke="#fcc63e" stroke-width="0.8"/>
<circle cx="440.2" cy="354.4" r="2.2" fill="#fcc63e"/>
<text x="449.8" y="356.7" font-size="6.65" text-anchor="start" fill="#111" stroke="#111" font-weight="normal" >20% Strain</text>
<line x1="433.9" y1="362.4" x2="446.5" y2="362.4" stroke="#f5845a" stroke-width="0.8"/>
<circle cx="440.2" cy="362.4" r="2.2" fill="#f5845a"/>
<text x="449.8" y="364.7" font-size="6.65" text-anchor="start" fill="#111" stroke="#111" font-weight="normal" >40% Strain</text>
<rect x="370.5" y="337.1" width="117.8" height="117.4" fill="none" stroke="#262626" stroke-width="0.9"/>
<line x1="367.9" y1="441.1" x2="370.5" y2="441.1" stroke="#262626" stroke-width="0.8"/>
<text x="366.5" y="443.5" font-size="6.5" text-anchor="end" fill="#111" stroke="#111" font-weight="normal" >9</text>
<line x1="367.9" y1="415.1" x2="370.5" y2="415.1" stroke="#262626" stroke-width="0.8"/>
<text x="366.5" y="417.5" font-size="6.5" text-anchor="end" fill="#111" stroke="#111" font-weight="normal" >10</text>
<line x1="367.9" y1="389.1" x2="370.5" y2="389.1" stroke="#262626" stroke-width="0.8"/>
<text x="366.5" y="391.5" font-size="6.5" text-anchor="end" fill="#111" stroke="#111" font-weight="normal" >11</text>
<line x1="367.9" y1="363.1" x2="370.5" y2="363.1" stroke="#262626" stroke-width="0.8"/>
<text x="366.5" y="365.5" font-size="6.5" text-anchor="end" fill="#111" stroke="#111" font-weight="normal" >12</text>
<line x1="367.9" y1="337.1" x2="370.5" y2="337.1" stroke="#262626" stroke-width="0.8"/>
<text x="366.5" y="339.5" font-size="6.5" text-anchor="end" fill="#111" stroke="#111" font-weight="normal" >13</text>
<line x1="369" y1="428.1" x2="370.5" y2="428.1" stroke="#262626" stroke-width="0.7"/>
<line x1="369" y1="402.1" x2="370.5" y2="402.1" stroke="#262626" stroke-width="0.7"/>
<line x1="369" y1="376.1" x2="370.5" y2="376.1" stroke="#262626" stroke-width="0.7"/>
<line x1="369" y1="350.1" x2="370.5" y2="350.1" stroke="#262626" stroke-width="0.7"/>
<line x1="370.5" y1="454.5" x2="370.5" y2="457.1" stroke="#262626" stroke-width="0.8"/>
<text x="370.5" y="464.3" font-size="6.5" text-anchor="middle" fill="#111" stroke="#111" font-weight="normal" >20</text>
<line x1="396.73" y1="454.5" x2="396.73" y2="457.1" stroke="#262626" stroke-width="0.8"/>
<text x="396.73" y="464.3" font-size="6.5" text-anchor="middle" fill="#111" stroke="#111" font-weight="normal" >30</text>
<line x1="422.95" y1="454.5" x2="422.95" y2="457.1" stroke="#262626" stroke-width="0.8"/>
<text x="422.95" y="464.3" font-size="6.5" text-anchor="middle" fill="#111" stroke="#111" font-weight="normal" >40</text>
<line x1="449.17" y1="454.5" x2="449.17" y2="457.1" stroke="#262626" stroke-width="0.8"/>
<text x="449.17" y="464.3" font-size="6.5" text-anchor="middle" fill="#111" stroke="#111" font-weight="normal" >50</text>
<line x1="475.4" y1="454.5" x2="475.4" y2="457.1" stroke="#262626" stroke-width="0.8"/>
<text x="475.4" y="464.3" font-size="6.5" text-anchor="middle" fill="#111" stroke="#111" font-weight="normal" >60</text>
<line x1="383.61" y1="454.5" x2="383.61" y2="456" stroke="#262626" stroke-width="0.7"/>
<line x1="409.84" y1="454.5" x2="409.84" y2="456" stroke="#262626" stroke-width="0.7"/>
<line x1="436.06" y1="454.5" x2="436.06" y2="456" stroke="#262626" stroke-width="0.7"/>
<line x1="462.29" y1="454.5" x2="462.29" y2="456" stroke="#262626" stroke-width="0.7"/>
<text x="353.2" y="390.6" font-size="8.1" text-anchor="middle" fill="#111" stroke="#111" transform="rotate(-90 353.2 390.6)">Resistance (kΩ)</text>
<text x="429.8" y="475.2" font-size="7.8" text-anchor="middle" fill="#111" stroke="#111" font-weight="normal" >Temperature (°C)</text>
<rect x="521.4" y="357.4" width="161.1" height="12.6" fill="#e4f4fa"/>
<rect x="521.4" y="430.3" width="161.1" height="12.6" fill="#fbe2e2"/>
<polyline points="532.1,438.6 532.23,438.12 532.4,437.53 532.61,436.84 532.84,436.04 533.08,435.13 533.33,434.08 533.57,432.91 533.8,431.6 534.02,430.08 534.23,428.34 534.44,426.42 534.65,424.4 534.87,422.34 535.1,420.29 535.34,418.32 535.6,416.5 535.88,414.8 536.18,413.14 536.49,411.53 536.81,409.96 537.13,408.42 537.46,406.9 537.78,405.4 538.1,403.9 538.41,402.41 538.71,400.92 539,399.46 539.3,398.01 539.6,396.6 539.92,395.22 540.25,393.88 540.6,392.6 540.98,391.36 541.39,390.17 541.81,389.01 542.25,387.89 542.69,386.81 543.11,385.77 543.52,384.76 543.9,383.8 544.25,382.93 544.59,382.17 544.92,381.47 545.23,380.81 545.53,380.12 545.83,379.37 546.12,378.51 546.4,377.5 546.67,376.19 546.91,374.56 547.14,372.75 547.37,370.91 547.6,369.19 547.84,367.73 548.11,366.68 548.4,366.2 548.72,366.32 549.06,366.93 549.42,367.92 549.79,369.19 550.17,370.63 550.57,372.15 550.98,373.64 551.4,375 551.83,376.28 552.27,377.62 552.71,379 553.18,380.41 553.65,381.86 554.15,383.33 554.66,384.81 555.2,386.3 555.75,387.83 556.3,389.42 556.87,391.04 557.46,392.68 558.08,394.31 558.74,395.9 559.44,397.44 560.2,398.9 561.03,400.3 561.92,401.67 562.86,403 563.84,404.29 564.84,405.54 565.85,406.72 566.84,407.84 567.8,408.9 568.72,409.86 569.62,410.74 570.51,411.53 571.39,412.28 572.3,413 573.24,413.71 574.24,414.44 575.3,415.2 576.44,416 577.64,416.81 578.9,417.62 580.19,418.43 581.5,419.23 582.81,420.02 584.12,420.77 585.4,421.5 586.68,422.2 587.99,422.87 589.3,423.52 590.61,424.16 591.9,424.77 593.16,425.36 594.36,425.94 595.5,426.5 596.6,427 597.7,427.43 598.78,427.82 599.8,428.19 600.76,428.6 601.62,429.06 602.38,429.62 603,430.3 603.47,431.18 603.79,432.25 604,433.45 604.12,434.69 604.18,435.9 604.21,437 604.24,437.93 604.3,438.6" fill="none" stroke="#6cc8d8" stroke-width="0.7" stroke-linejoin="round" />
<path d="M532.1,437 L533.7,438.6 L532.1,440.2 L530.5,438.6 Z" fill="#fff" stroke="#6cc8d8" stroke-width="0.75"/>
<path d="M533.22,432.39 L534.82,433.99 L533.22,435.59 L531.62,433.99 Z" fill="#fff" stroke="#6cc8d8" stroke-width="0.75"/>
<path d="M534.34,425.47 L535.94,427.07 L534.34,428.67 L532.74,427.07 Z" fill="#fff" stroke="#6cc8d8" stroke-width="0.75"/>
<path d="M535.46,416.07 L537.06,417.67 L535.46,419.27 L533.86,417.67 Z" fill="#fff" stroke="#6cc8d8" stroke-width="0.75"/>
<path d="M536.58,409.96 L538.18,411.56 L536.58,413.16 L534.98,411.56 Z" fill="#fff" stroke="#6cc8d8" stroke-width="0.75"/>
<path d="M537.7,404.32 L539.3,405.92 L537.7,407.52 L536.1,405.92 Z" fill="#fff" stroke="#6cc8d8" stroke-width="0.75"/>
<path d="M538.82,399.05 L540.42,400.65 L538.82,402.25 L537.22,400.65 Z" fill="#fff" stroke="#6cc8d8" stroke-width="0.75"/>
<path d="M539.94,393.98 L541.54,395.58 L539.94,397.18 L538.34,395.58 Z" fill="#fff" stroke="#6cc8d8" stroke-width="0.75"/>
<path d="M541.06,389.77 L542.66,391.37 L541.06,392.97 L539.46,391.37 Z" fill="#fff" stroke="#6cc8d8" stroke-width="0.75"/>
<path d="M542.18,386.79 L543.78,388.39 L542.18,389.99 L540.58,388.39 Z" fill="#fff" stroke="#6cc8d8" stroke-width="0.75"/>
<path d="M543.3,383.8 L544.9,385.4 L543.3,387 L541.7,385.4 Z" fill="#fff" stroke="#6cc8d8" stroke-width="0.75"/>
<path d="M544.42,380.89 L546.02,382.49 L544.42,384.09 L542.82,382.49 Z" fill="#fff" stroke="#6cc8d8" stroke-width="0.75"/>
<path d="M545.54,378.07 L547.14,379.67 L545.54,381.27 L543.94,379.67 Z" fill="#fff" stroke="#6cc8d8" stroke-width="0.75"/>
<path d="M546.66,374.43 L548.26,376.03 L546.66,377.63 L545.06,376.03 Z" fill="#fff" stroke="#6cc8d8" stroke-width="0.75"/>
<path d="M547.78,368.1 L549.38,369.7 L547.78,371.3 L546.18,369.7 Z" fill="#fff" stroke="#6cc8d8" stroke-width="0.75"/>
<path d="M548.9,366.07 L550.5,367.67 L548.9,369.27 L547.3,367.67 Z" fill="#fff" stroke="#6cc8d8" stroke-width="0.75"/>
<path d="M550.02,369.35 L551.62,370.95 L550.02,372.55 L548.42,370.95 Z" fill="#fff" stroke="#6cc8d8" stroke-width="0.75"/>
<path d="M551.14,372.64 L552.74,374.24 L551.14,375.84 L549.54,374.24 Z" fill="#fff" stroke="#6cc8d8" stroke-width="0.75"/>
<path d="M552.26,375.96 L553.86,377.56 L552.26,379.16 L550.66,377.56 Z" fill="#fff" stroke="#6cc8d8" stroke-width="0.75"/>
<path d="M553.38,379.29 L554.98,380.89 L553.38,382.49 L551.78,380.89 Z" fill="#fff" stroke="#6cc8d8" stroke-width="0.75"/>
<path d="M554.5,382.62 L556.1,384.22 L554.5,385.82 L552.9,384.22 Z" fill="#fff" stroke="#6cc8d8" stroke-width="0.75"/>
<path d="M555.62,385.76 L557.22,387.36 L555.62,388.96 L554.02,387.36 Z" fill="#fff" stroke="#6cc8d8" stroke-width="0.75"/>
<path d="M556.74,388.58 L558.34,390.18 L556.74,391.78 L555.14,390.18 Z" fill="#fff" stroke="#6cc8d8" stroke-width="0.75"/>
<path d="M557.86,391.4 L559.46,393 L557.86,394.6 L556.26,393 Z" fill="#fff" stroke="#6cc8d8" stroke-width="0.75"/>
<path d="M558.98,394.23 L560.58,395.83 L558.98,397.43 L557.38,395.83 Z" fill="#fff" stroke="#6cc8d8" stroke-width="0.75"/>
<path d="M560.1,397.05 L561.7,398.65 L560.1,400.25 L558.5,398.65 Z" fill="#fff" stroke="#6cc8d8" stroke-width="0.75"/>
<path d="M561.22,398.64 L562.82,400.24 L561.22,401.84 L559.62,400.24 Z" fill="#fff" stroke="#6cc8d8" stroke-width="0.75"/>
<path d="M562.34,400.12 L563.94,401.72 L562.34,403.32 L560.74,401.72 Z" fill="#fff" stroke="#6cc8d8" stroke-width="0.75"/>
<path d="M563.46,401.59 L565.06,403.19 L563.46,404.79 L561.86,403.19 Z" fill="#fff" stroke="#6cc8d8" stroke-width="0.75"/>
<path d="M564.58,403.06 L566.18,404.66 L564.58,406.26 L562.98,404.66 Z" fill="#fff" stroke="#6cc8d8" stroke-width="0.75"/>
<path d="M565.7,404.54 L567.3,406.14 L565.7,407.74 L564.1,406.14 Z" fill="#fff" stroke="#6cc8d8" stroke-width="0.75"/>
<path d="M566.82,406.01 L568.42,407.61 L566.82,409.21 L565.22,407.61 Z" fill="#fff" stroke="#6cc8d8" stroke-width="0.75"/>
<path d="M567.94,407.42 L569.54,409.02 L567.94,410.62 L566.34,409.02 Z" fill="#fff" stroke="#6cc8d8" stroke-width="0.75"/>
<path d="M569.06,408.36 L570.66,409.96 L569.06,411.56 L567.46,409.96 Z" fill="#fff" stroke="#6cc8d8" stroke-width="0.75"/>
<path d="M570.18,409.3 L571.78,410.9 L570.18,412.5 L568.58,410.9 Z" fill="#fff" stroke="#6cc8d8" stroke-width="0.75"/>
<path d="M571.3,410.24 L572.9,411.84 L571.3,413.44 L569.7,411.84 Z" fill="#fff" stroke="#6cc8d8" stroke-width="0.75"/>
<path d="M572.42,411.18 L574.02,412.78 L572.42,414.38 L570.82,412.78 Z" fill="#fff" stroke="#6cc8d8" stroke-width="0.75"/>
<path d="M573.54,412.12 L575.14,413.72 L573.54,415.32 L571.94,413.72 Z" fill="#fff" stroke="#6cc8d8" stroke-width="0.75"/>
<path d="M574.66,413.06 L576.26,414.66 L574.66,416.26 L573.06,414.66 Z" fill="#fff" stroke="#6cc8d8" stroke-width="0.75"/>
<path d="M575.78,413.9 L577.38,415.5 L575.78,417.1 L574.18,415.5 Z" fill="#fff" stroke="#6cc8d8" stroke-width="0.75"/>
<path d="M576.9,414.6 L578.5,416.2 L576.9,417.8 L575.3,416.2 Z" fill="#fff" stroke="#6cc8d8" stroke-width="0.75"/>
<path d="M578.02,415.3 L579.62,416.9 L578.02,418.5 L576.42,416.9 Z" fill="#fff" stroke="#6cc8d8" stroke-width="0.75"/>
<path d="M579.14,416 L580.74,417.6 L579.14,419.2 L577.54,417.6 Z" fill="#fff" stroke="#6cc8d8" stroke-width="0.75"/>
<path d="M580.26,416.69 L581.86,418.29 L580.26,419.89 L578.66,418.29 Z" fill="#fff" stroke="#6cc8d8" stroke-width="0.75"/>
<path d="M581.38,417.39 L582.98,418.99 L581.38,420.59 L579.78,418.99 Z" fill="#fff" stroke="#6cc8d8" stroke-width="0.75"/>
<path d="M582.5,418.09 L584.1,419.69 L582.5,421.29 L580.9,419.69 Z" fill="#fff" stroke="#6cc8d8" stroke-width="0.75"/>
<path d="M583.62,418.79 L585.22,420.39 L583.62,421.99 L582.02,420.39 Z" fill="#fff" stroke="#6cc8d8" stroke-width="0.75"/>
<path d="M584.74,419.49 L586.34,421.09 L584.74,422.69 L583.14,421.09 Z" fill="#fff" stroke="#6cc8d8" stroke-width="0.75"/>
<path d="M585.86,420.13 L587.46,421.73 L585.86,423.33 L584.26,421.73 Z" fill="#fff" stroke="#6cc8d8" stroke-width="0.75"/>
<path d="M586.98,420.68 L588.58,422.28 L586.98,423.88 L585.38,422.28 Z" fill="#fff" stroke="#6cc8d8" stroke-width="0.75"/>
<path d="M588.1,421.24 L589.7,422.84 L588.1,424.44 L586.5,422.84 Z" fill="#fff" stroke="#6cc8d8" stroke-width="0.75"/>
<path d="M589.22,421.79 L590.82,423.39 L589.22,424.99 L587.62,423.39 Z" fill="#fff" stroke="#6cc8d8" stroke-width="0.75"/>
<path d="M590.34,422.35 L591.94,423.95 L590.34,425.55 L588.74,423.95 Z" fill="#fff" stroke="#6cc8d8" stroke-width="0.75"/>
<path d="M591.46,422.9 L593.06,424.5 L591.46,426.1 L589.86,424.5 Z" fill="#fff" stroke="#6cc8d8" stroke-width="0.75"/>
<path d="M592.58,423.45 L594.18,425.05 L592.58,426.65 L590.98,425.05 Z" fill="#fff" stroke="#6cc8d8" stroke-width="0.75"/>
<path d="M593.7,424.01 L595.3,425.61 L593.7,427.21 L592.1,425.61 Z" fill="#fff" stroke="#6cc8d8" stroke-width="0.75"/>
<path d="M594.82,424.56 L596.42,426.16 L594.82,427.76 L593.22,426.16 Z" fill="#fff" stroke="#6cc8d8" stroke-width="0.75"/>
<path d="M595.94,425.12 L597.54,426.72 L595.94,428.32 L594.34,426.72 Z" fill="#fff" stroke="#6cc8d8" stroke-width="0.75"/>
<path d="M597.06,425.69 L598.66,427.29 L597.06,428.89 L595.46,427.29 Z" fill="#fff" stroke="#6cc8d8" stroke-width="0.75"/>
<path d="M598.18,426.26 L599.78,427.86 L598.18,429.46 L596.58,427.86 Z" fill="#fff" stroke="#6cc8d8" stroke-width="0.75"/>
<path d="M599.3,426.83 L600.9,428.43 L599.3,430.03 L597.7,428.43 Z" fill="#fff" stroke="#6cc8d8" stroke-width="0.75"/>
<path d="M600.42,427.39 L602.02,428.99 L600.42,430.59 L598.82,428.99 Z" fill="#fff" stroke="#6cc8d8" stroke-width="0.75"/>
<path d="M601.54,427.96 L603.14,429.56 L601.54,431.16 L599.94,429.56 Z" fill="#fff" stroke="#6cc8d8" stroke-width="0.75"/>
<path d="M602.66,428.53 L604.26,430.13 L602.66,431.73 L601.06,430.13 Z" fill="#fff" stroke="#6cc8d8" stroke-width="0.75"/>
<path d="M603.78,433.68 L605.38,435.28 L603.78,436.88 L602.18,435.28 Z" fill="#fff" stroke="#6cc8d8" stroke-width="0.75"/>
<polyline points="604.3,438.6 604.39,438.1 604.51,437.47 604.66,436.73 604.82,435.89 604.99,434.94 605.16,433.91 605.34,432.79 605.5,431.6 605.66,430.33 605.82,428.96 605.98,427.5 606.15,425.96 606.32,424.34 606.48,422.63 606.64,420.85 606.8,419 606.95,417.02 607.1,414.89 607.25,412.66 607.4,410.36 607.55,408.04 607.7,405.74 607.85,403.51 608,401.4 608.16,399.39 608.32,397.45 608.48,395.55 608.65,393.69 608.82,391.85 608.98,390.02 609.14,388.17 609.3,386.3 609.45,384.39 609.59,382.44 609.72,380.47 609.85,378.51 609.99,376.58 610.14,374.71 610.31,372.91 610.5,371.2 610.71,369.47 610.94,367.64 611.18,365.8 611.44,364.06 611.71,362.5 611.99,361.22 612.29,360.32 612.6,359.9 612.92,359.99 613.24,360.51 613.57,361.4 613.92,362.57 614.29,363.97 614.69,365.5 615.12,367.1 615.6,368.7 616.11,370.38 616.65,372.25 617.22,374.26 617.82,376.38 618.45,378.55 619.13,380.74 619.84,382.91 620.6,385 621.4,387.07 622.24,389.18 623.12,391.31 624.03,393.43 624.99,395.52 625.98,397.56 627.02,399.53 628.1,401.4 629.22,403.19 630.38,404.94 631.59,406.63 632.83,408.26 634.12,409.82 635.44,411.3 636.8,412.7 638.2,414 639.66,415.2 641.17,416.29 642.74,417.3 644.34,418.23 645.97,419.09 647.59,419.92 649.21,420.72 650.8,421.5 652.39,422.25 654.01,422.95 655.64,423.61 657.26,424.23 658.87,424.82 660.43,425.39 661.95,425.95 663.4,426.5 664.83,427.02 666.26,427.48 667.67,427.9 669.03,428.32 670.31,428.74 671.49,429.2 672.53,429.71 673.4,430.3 674.09,431.01 674.61,431.85 675,432.76 675.27,433.69 675.48,434.59 675.63,435.41 675.76,436.1 675.9,436.6" fill="none" stroke="#f07070" stroke-width="0.7" stroke-linejoin="round" />
<path d="M604.3,437 L605.9,438.6 L604.3,440.2 L602.7,438.6 Z" fill="#fff" stroke="#f07070" stroke-width="0.75"/>
<path d="M605.42,430.47 L607.02,432.07 L605.42,433.67 L603.82,432.07 Z" fill="#fff" stroke="#f07070" stroke-width="0.75"/>
<path d="M606.54,419.92 L608.14,421.52 L606.54,423.12 L604.94,421.52 Z" fill="#fff" stroke="#f07070" stroke-width="0.75"/>
<path d="M607.66,404.79 L609.26,406.39 L607.66,407.99 L606.06,406.39 Z" fill="#fff" stroke="#f07070" stroke-width="0.75"/>
<path d="M608.78,390.74 L610.38,392.34 L608.78,393.94 L607.18,392.34 Z" fill="#fff" stroke="#f07070" stroke-width="0.75"/>
<path d="M609.9,377.15 L611.5,378.75 L609.9,380.35 L608.3,378.75 Z" fill="#fff" stroke="#f07070" stroke-width="0.75"/>
<path d="M611.02,366.8 L612.62,368.4 L611.02,370 L609.42,368.4 Z" fill="#fff" stroke="#f07070" stroke-width="0.75"/>
<path d="M612.14,360.78 L613.74,362.38 L612.14,363.98 L610.54,362.38 Z" fill="#fff" stroke="#f07070" stroke-width="0.75"/>
<path d="M613.26,360.24 L614.86,361.84 L613.26,363.44 L611.66,361.84 Z" fill="#fff" stroke="#f07070" stroke-width="0.75"/>
<path d="M614.38,363.52 L615.98,365.12 L614.38,366.72 L612.78,365.12 Z" fill="#fff" stroke="#f07070" stroke-width="0.75"/>
<path d="M615.5,366.81 L617.1,368.41 L615.5,370.01 L613.9,368.41 Z" fill="#fff" stroke="#f07070" stroke-width="0.75"/>
<path d="M616.62,370.43 L618.22,372.03 L616.62,373.63 L615.02,372.03 Z" fill="#fff" stroke="#f07070" stroke-width="0.75"/>
<path d="M617.74,374.08 L619.34,375.68 L617.74,377.28 L616.14,375.68 Z" fill="#fff" stroke="#f07070" stroke-width="0.75"/>
<path d="M618.86,377.73 L620.46,379.33 L618.86,380.93 L617.26,379.33 Z" fill="#fff" stroke="#f07070" stroke-width="0.75"/>
<path d="M619.98,381.38 L621.58,382.98 L619.98,384.58 L618.38,382.98 Z" fill="#fff" stroke="#f07070" stroke-width="0.75"/>
<path d="M621.1,384.49 L622.7,386.09 L621.1,387.69 L619.5,386.09 Z" fill="#fff" stroke="#f07070" stroke-width="0.75"/>
<path d="M622.22,386.94 L623.82,388.54 L622.22,390.14 L620.62,388.54 Z" fill="#fff" stroke="#f07070" stroke-width="0.75"/>
<path d="M623.34,389.39 L624.94,390.99 L623.34,392.59 L621.74,390.99 Z" fill="#fff" stroke="#f07070" stroke-width="0.75"/>
<path d="M624.46,391.84 L626.06,393.44 L624.46,395.04 L622.86,393.44 Z" fill="#fff" stroke="#f07070" stroke-width="0.75"/>
<path d="M625.58,394.29 L627.18,395.89 L625.58,397.49 L623.98,395.89 Z" fill="#fff" stroke="#f07070" stroke-width="0.75"/>
<path d="M626.7,396.74 L628.3,398.34 L626.7,399.94 L625.1,398.34 Z" fill="#fff" stroke="#f07070" stroke-width="0.75"/>
<path d="M627.82,399.19 L629.42,400.79 L627.82,402.39 L626.22,400.79 Z" fill="#fff" stroke="#f07070" stroke-width="0.75"/>
<path d="M628.94,400.85 L630.54,402.45 L628.94,404.05 L627.34,402.45 Z" fill="#fff" stroke="#f07070" stroke-width="0.75"/>
<path d="M630.06,402.25 L631.66,403.85 L630.06,405.45 L628.46,403.85 Z" fill="#fff" stroke="#f07070" stroke-width="0.75"/>
<path d="M631.18,403.64 L632.78,405.24 L631.18,406.84 L629.58,405.24 Z" fill="#fff" stroke="#f07070" stroke-width="0.75"/>
<path d="M632.3,405.04 L633.9,406.64 L632.3,408.24 L630.7,406.64 Z" fill="#fff" stroke="#f07070" stroke-width="0.75"/>
<path d="M633.42,406.44 L635.02,408.04 L633.42,409.64 L631.82,408.04 Z" fill="#fff" stroke="#f07070" stroke-width="0.75"/>
<path d="M634.54,407.83 L636.14,409.43 L634.54,411.03 L632.94,409.43 Z" fill="#fff" stroke="#f07070" stroke-width="0.75"/>
<path d="M635.66,409.23 L637.26,410.83 L635.66,412.43 L634.06,410.83 Z" fill="#fff" stroke="#f07070" stroke-width="0.75"/>
<path d="M636.78,410.63 L638.38,412.23 L636.78,413.83 L635.18,412.23 Z" fill="#fff" stroke="#f07070" stroke-width="0.75"/>
<path d="M637.9,412.03 L639.5,413.63 L637.9,415.23 L636.3,413.63 Z" fill="#fff" stroke="#f07070" stroke-width="0.75"/>
<path d="M639.02,412.89 L640.62,414.49 L639.02,416.09 L637.42,414.49 Z" fill="#fff" stroke="#f07070" stroke-width="0.75"/>
<path d="M640.14,413.55 L641.74,415.15 L640.14,416.75 L638.54,415.15 Z" fill="#fff" stroke="#f07070" stroke-width="0.75"/>
<path d="M641.26,414.22 L642.86,415.82 L641.26,417.42 L639.66,415.82 Z" fill="#fff" stroke="#f07070" stroke-width="0.75"/>
<path d="M642.38,414.89 L643.98,416.49 L642.38,418.09 L640.78,416.49 Z" fill="#fff" stroke="#f07070" stroke-width="0.75"/>
<path d="M643.5,415.55 L645.1,417.15 L643.5,418.75 L641.9,417.15 Z" fill="#fff" stroke="#f07070" stroke-width="0.75"/>
<path d="M644.62,416.22 L646.22,417.82 L644.62,419.42 L643.02,417.82 Z" fill="#fff" stroke="#f07070" stroke-width="0.75"/>
<path d="M645.74,416.89 L647.34,418.49 L645.74,420.09 L644.14,418.49 Z" fill="#fff" stroke="#f07070" stroke-width="0.75"/>
<path d="M646.86,417.55 L648.46,419.15 L646.86,420.75 L645.26,419.15 Z" fill="#fff" stroke="#f07070" stroke-width="0.75"/>
<path d="M647.98,418.22 L649.58,419.82 L647.98,421.42 L646.38,419.82 Z" fill="#fff" stroke="#f07070" stroke-width="0.75"/>
<path d="M649.1,418.89 L650.7,420.49 L649.1,422.09 L647.5,420.49 Z" fill="#fff" stroke="#f07070" stroke-width="0.75"/>
<path d="M650.22,419.55 L651.82,421.15 L650.22,422.75 L648.62,421.15 Z" fill="#fff" stroke="#f07070" stroke-width="0.75"/>
<path d="M651.34,420.11 L652.94,421.71 L651.34,423.31 L649.74,421.71 Z" fill="#fff" stroke="#f07070" stroke-width="0.75"/>
<path d="M652.46,420.56 L654.06,422.16 L652.46,423.76 L650.86,422.16 Z" fill="#fff" stroke="#f07070" stroke-width="0.75"/>
<path d="M653.58,421 L655.18,422.6 L653.58,424.2 L651.98,422.6 Z" fill="#fff" stroke="#f07070" stroke-width="0.75"/>
<path d="M654.7,421.45 L656.3,423.05 L654.7,424.65 L653.1,423.05 Z" fill="#fff" stroke="#f07070" stroke-width="0.75"/>
<path d="M655.82,421.89 L657.42,423.49 L655.82,425.09 L654.22,423.49 Z" fill="#fff" stroke="#f07070" stroke-width="0.75"/>
<path d="M656.94,422.34 L658.54,423.94 L656.94,425.54 L655.34,423.94 Z" fill="#fff" stroke="#f07070" stroke-width="0.75"/>
<path d="M658.06,422.78 L659.66,424.38 L658.06,425.98 L656.46,424.38 Z" fill="#fff" stroke="#f07070" stroke-width="0.75"/>
<path d="M659.18,423.23 L660.78,424.83 L659.18,426.43 L657.58,424.83 Z" fill="#fff" stroke="#f07070" stroke-width="0.75"/>
<path d="M660.3,423.67 L661.9,425.27 L660.3,426.87 L658.7,425.27 Z" fill="#fff" stroke="#f07070" stroke-width="0.75"/>
<path d="M661.42,424.11 L663.02,425.71 L661.42,427.31 L659.82,425.71 Z" fill="#fff" stroke="#f07070" stroke-width="0.75"/>
<path d="M662.54,424.56 L664.14,426.16 L662.54,427.76 L660.94,426.16 Z" fill="#fff" stroke="#f07070" stroke-width="0.75"/>
<path d="M663.66,425 L665.26,426.6 L663.66,428.2 L662.06,426.6 Z" fill="#fff" stroke="#f07070" stroke-width="0.75"/>
<path d="M664.78,425.42 L666.38,427.02 L664.78,428.62 L663.18,427.02 Z" fill="#fff" stroke="#f07070" stroke-width="0.75"/>
<path d="M665.9,425.85 L667.5,427.45 L665.9,429.05 L664.3,427.45 Z" fill="#fff" stroke="#f07070" stroke-width="0.75"/>
<path d="M667.02,426.28 L668.62,427.88 L667.02,429.48 L665.42,427.88 Z" fill="#fff" stroke="#f07070" stroke-width="0.75"/>
<path d="M668.14,426.7 L669.74,428.3 L668.14,429.9 L666.54,428.3 Z" fill="#fff" stroke="#f07070" stroke-width="0.75"/>
<path d="M669.26,427.13 L670.86,428.73 L669.26,430.33 L667.66,428.73 Z" fill="#fff" stroke="#f07070" stroke-width="0.75"/>
<path d="M670.38,427.55 L671.98,429.15 L670.38,430.75 L668.78,429.15 Z" fill="#fff" stroke="#f07070" stroke-width="0.75"/>
<path d="M671.5,427.98 L673.1,429.58 L671.5,431.18 L669.9,429.58 Z" fill="#fff" stroke="#f07070" stroke-width="0.75"/>
<path d="M672.62,428.4 L674.22,430 L672.62,431.6 L671.02,430 Z" fill="#fff" stroke="#f07070" stroke-width="0.75"/>
<path d="M673.74,429.56 L675.34,431.16 L673.74,432.76 L672.14,431.16 Z" fill="#fff" stroke="#f07070" stroke-width="0.75"/>
<path d="M674.86,432.38 L676.46,433.98 L674.86,435.58 L673.26,433.98 Z" fill="#fff" stroke="#f07070" stroke-width="0.75"/>
<line x1="522.5" y1="341.5" x2="536.3" y2="341.5" stroke="#6cc8d8" stroke-width="0.7"/>
<path d="M529.6,340.05 L531.05,341.5 L529.6,342.95 L528.15,341.5 Z" fill="#fff" stroke="#6cc8d8" stroke-width="0.65"/>
<text x="538.1" y="343.6" font-size="6.0" text-anchor="start" fill="#111" stroke="#111" font-weight="normal" >0% Strain</text>
<line x1="567.8" y1="341.5" x2="580.4" y2="341.5" stroke="#f07070" stroke-width="0.7"/>
<path d="M574.1,340.05 L575.55,341.5 L574.1,342.95 L572.65,341.5 Z" fill="#fff" stroke="#f07070" stroke-width="0.65"/>
<text x="581.6" y="343.6" font-size="6.0" text-anchor="start" fill="#111" stroke="#111" font-weight="normal" >40% Strain</text>
<text x="631.9" y="353.1" font-size="7.6" fill="#111">10<tspan font-size="4.6" dy="-2.6">o</tspan><tspan dy="2.6">C</tspan></text>
<text x="631.9" y="448.7" font-size="7.6" fill="#111">25 <tspan font-size="4.6" dy="-2.6">o</tspan><tspan dy="2.6">C</tspan></text>
<rect x="521.4" y="336.3" width="161.1" height="116.9" fill="none" stroke="#262626" stroke-width="0.9"/>
<line x1="518.8" y1="438.6" x2="521.4" y2="438.6" stroke="#262626" stroke-width="0.8"/>
<text x="517.4" y="441" font-size="6.5" text-anchor="end" fill="#111" stroke="#111" font-weight="normal" >0.00</text>
<line x1="518.8" y1="394.8" x2="521.4" y2="394.8" stroke="#262626" stroke-width="0.8"/>
<text x="517.4" y="397.2" font-size="6.5" text-anchor="end" fill="#111" stroke="#111" font-weight="normal" >0.03</text>
<line x1="518.8" y1="351" x2="521.4" y2="351" stroke="#262626" stroke-width="0.8"/>
<text x="517.4" y="353.4" font-size="6.5" text-anchor="end" fill="#111" stroke="#111" font-weight="normal" >0.06</text>
<line x1="519.9" y1="416.7" x2="521.4" y2="416.7" stroke="#262626" stroke-width="0.7"/>
<line x1="519.9" y1="372.9" x2="521.4" y2="372.9" stroke="#262626" stroke-width="0.7"/>
<line x1="532.2" y1="453.2" x2="532.2" y2="455.8" stroke="#262626" stroke-width="0.8"/>
<text x="532.2" y="463.1" font-size="6.5" text-anchor="middle" fill="#111" stroke="#111" font-weight="normal" >0</text>
<line x1="583.9" y1="453.2" x2="583.9" y2="455.8" stroke="#262626" stroke-width="0.8"/>
<text x="583.9" y="463.1" font-size="6.5" text-anchor="middle" fill="#111" stroke="#111" font-weight="normal" >50</text>
<line x1="635.6" y1="453.2" x2="635.6" y2="455.8" stroke="#262626" stroke-width="0.8"/>
<text x="635.6" y="463.1" font-size="6.5" text-anchor="middle" fill="#111" stroke="#111" font-weight="normal" >100</text>
<line x1="558.05" y1="453.2" x2="558.05" y2="454.7" stroke="#262626" stroke-width="0.7"/>
<line x1="609.75" y1="453.2" x2="609.75" y2="454.7" stroke="#262626" stroke-width="0.7"/>
<line x1="661.45" y1="453.2" x2="661.45" y2="454.7" stroke="#262626" stroke-width="0.7"/>
<text x="501" y="395" font-size="7.8" text-anchor="middle" fill="#111" stroke="#111" transform="rotate(-90 501 395)">|<tspan font-family="Liberation Serif">Δ</tspan>R/R<tspan font-size="5.5" dy="1.5">0</tspan><tspan dy="-1.5">|</tspan></text>
<text x="602.3" y="474.2" font-size="7.8" text-anchor="middle" fill="#111" stroke="#111" font-weight="normal" >Time (s)</text>
<text x="21" y="17.9" font-size="8.8" text-anchor="start" fill="#111" stroke="#111" font-weight="normal" >All laser-induced pressure</text>
<text x="21" y="28.6" font-size="8.8" text-anchor="start" fill="#111" stroke="#111" font-weight="normal" >sensor</text>
<text x="6.1" y="47.6" font-size="8.7" text-anchor="start" fill="#111" stroke="#111" font-weight="normal" >Gradient</text>
<text x="6.1" y="58.5" font-size="8.7" text-anchor="start" fill="#111" stroke="#111" font-weight="normal" >Mxene/PDMS</text>
<text x="17.3" y="125.5" font-size="8.7" text-anchor="start" fill="#111" stroke="#111" font-weight="normal" >MXene</text>
<text x="17.3" y="136.2" font-size="8.7" text-anchor="start" fill="#111" stroke="#111" font-weight="normal" >electrode</text>
<text x="124" y="136.7" font-size="8.8" text-anchor="start" fill="#111" stroke="#111" font-weight="normal" >PDMS</text>
<rect x="130" y="16.1" width="45.8" height="4.7" fill="#7aa6ea"/>
<defs><radialGradient id="dm" cx="0.5" cy="0.2" r="0.8"><stop offset="0" stop-color="#7fb0e8"/><stop offset="1" stop-color="#c8dcf4"/></radialGradient></defs>
<path d="M134.7,20.8 A4.8,6.72 0 0 0 144.3,20.8 Z" fill="url(#dm)"/>
<path d="M147.2,20.8 A5,7 0 0 0 157.2,20.8 Z" fill="url(#dm)"/>
<path d="M162.2,20.8 A4.8,6.72 0 0 0 171.8,20.8 Z" fill="url(#dm)"/>
<line x1="136" y1="21.5" x2="168" y2="21.5" stroke="#333" stroke-width="0.5"/>
<path d="M137.6,21.5 l-0.8,0.9 l1.6,0.9 l-1.6,0.9 l1.6,0.9 l-1.6,0.9 l1.6,0.9 l-1.6,0.9 l0.8,0.9" fill="none" stroke="#555" stroke-width="0.35"/>
<path d="M168.6,21.5 l-0.8,0.9 l1.6,0.9 l-1.6,0.9 l1.6,0.9 l-1.6,0.9 l1.6,0.9 l-1.6,0.9 l0.8,0.9" fill="none" stroke="#555" stroke-width="0.35"/>
<rect x="129.3" y="29" width="15.5" height="2.3" fill="#f3a73c"/>
<rect x="161.1" y="29" width="15.8" height="2.3" fill="#f3a73c"/>
<rect x="129.3" y="31.3" width="47.6" height="2" fill="#f4f1c0"/>
<polyline points="137.5,31.5 137.5,38.3 148.6,38.3" fill="none" stroke="#ec4a4a" stroke-width="0.6"/>
<polyline points="157.4,38.3 168.5,38.3 168.5,31.5" fill="none" stroke="#ec4a4a" stroke-width="0.6"/>
<circle cx="153" cy="38.3" r="4.3" fill="#fff" stroke="#ec3a3a" stroke-width="0.8"/>
<line x1="150.6" y1="40.7" x2="155.4" y2="35.9" stroke="#3aa0e0" stroke-width="0.8"/>
<text x="123.3" y="27" font-size="8.2" font-style="italic" fill="#111">R<tspan font-size="5.6" dy="1.6">H</tspan></text>
<text x="171.6" y="27" font-size="8.2" font-style="italic" fill="#111">R<tspan font-size="5.6" dy="1.6">H</tspan></text>
<text x="150" y="30.6" font-size="8.2" font-style="italic" fill="#111">R<tspan font-size="5.6" dy="1.6">L</tspan></text>
<polygon points="44.6,90.5 145,117.8 145,125.3 45.5,97.3" fill="#f2f2da" />
<polygon points="45.5,95.2 145,122.8 145,125.3 45.5,97.3" fill="#f8f8e6" />
<polygon points="46.4,92.8 56,93.8 57.4,98.8 45.6,96.6" fill="#f0b428" />
<polygon points="132.3,116.4 144.8,119.6 144.8,124.6 132.3,121.2" fill="#eab024" />
<polygon points="165.3,54.2 165.8,56 145.6,118.6 145,117.4" fill="#f2d34a" />
<polygon points="43.6,88.6 145,115.6 145,118.6 43.9,91.5" fill="#22c0ea" />
<polygon points="43.6,88.6 90.8,39.4 165.3,54.2 145,115.6" fill="#cadcdc" />
<defs><clipPath id="sheetClip"><polygon points="43.6,88.6 90.8,39.4 165.3,54.2 145,115.6"/></clipPath></defs>
<g clip-path="url(#sheetClip)">
<circle cx="92.1" cy="42.7" r="3.8" fill="#58c4ee" opacity="0.55"/><circle cx="87.6" cy="47.6" r="3.6" fill="#58c4ee" opacity="0.55"/><circle cx="82.4" cy="52.5" r="3.6" fill="#58c4ee" opacity="0.55"/><circle cx="79.5" cy="57.2" r="3.4" fill="#58c4ee" opacity="0.55"/><circle cx="72.7" cy="62.7" r="3.7" fill="#58c4ee" opacity="0.55"/><circle cx="67.8" cy="67.9" r="3.9" fill="#58c4ee" opacity="0.55"/><circle cx="64.9" cy="72.7" r="3.3" fill="#58c4ee" opacity="0.55"/><circle cx="59.0" cy="77.3" r="3.2" fill="#58c4ee" opacity="0.55"/><circle cx="55.1" cy="82.0" r="3.2" fill="#58c4ee" opacity="0.55"/><circle cx="50.9" cy="87.4" r="3.8" fill="#58c4ee" opacity="0.55"/><circle cx="99.7" cy="44.4" r="3.5" fill="#58c4ee" opacity="0.55"/><circle cx="95.9" cy="49.3" r="3.4" fill="#58c4ee" opacity="0.9"/><circle cx="91.6" cy="55.2" r="3.8" fill="#58c4ee" opacity="0.9"/><circle cx="87.5" cy="59.3" r="3.4" fill="#58c4ee" opacity="0.9"/><circle cx="82.6" cy="64.0" r="3.7" fill="#58c4ee" opacity="0.9"/><circle cx="77.7" cy="70.1" r="3.5" fill="#58c4ee" opacity="0.9"/><circle cx="74.6" cy="75.5" r="3.2" fill="#58c4ee" opacity="0.9"/><circle cx="68.5" cy="80.2" r="3.5" fill="#58c4ee" opacity="0.9"/><circle cx="66.5" cy="85.2" r="3.3" fill="#58c4ee" opacity="0.9"/><circle cx="61.0" cy="90.5" r="3.4" fill="#58c4ee" opacity="0.55"/><circle cx="106.8" cy="45.4" r="3.9" fill="#58c4ee" opacity="0.55"/><circle cx="104.2" cy="50.6" r="3.4" fill="#58c4ee" opacity="0.9"/><circle cx="99.0" cy="55.4" r="3.8" fill="#58c4ee" opacity="0.9"/><circle cx="94.6" cy="61.3" r="3.5" fill="#58c4ee" opacity="0.9"/><circle cx="90.3" cy="66.8" r="3.3" fill="#58c4ee" opacity="0.9"/><circle cx="87.8" cy="71.4" r="3.5" fill="#58c4ee" opacity="0.9"/><circle cx="82.7" cy="76.6" r="3.9" fill="#58c4ee" opacity="0.9"/><circle cx="79.9" cy="82.2" r="3.8" fill="#58c4ee" opacity="0.9"/><circle cx="74.4" cy="87.2" r="3.8" fill="#58c4ee" opacity="0.9"/><circle cx="71.7" cy="92.3" r="3.9" fill="#58c4ee" opacity="0.55"/><circle cx="114.7" cy="46.8" r="3.7" fill="#58c4ee" opacity="0.55"/><circle cx="111.1" cy="52.3" r="3.3" fill="#58c4ee" opacity="0.9"/><circle cx="106.6" cy="57.9" r="3.4" fill="#58c4ee" opacity="0.9"/><circle cx="104.0" cy="63.2" r="3.5" fill="#58c4ee" opacity="0.9"/><circle cx="100.8" cy="68.8" r="3.6" fill="#58c4ee" opacity="0.9"/><circle cx="97.2" cy="73.8" r="3.3" fill="#58c4ee" opacity="0.9"/><circle cx="92.9" cy="80.0" r="3.4" fill="#58c4ee" opacity="0.9"/><circle cx="87.6" cy="84.8" r="3.9" fill="#58c4ee" opacity="0.9"/><circle cx="83.6" cy="90.4" r="3.8" fill="#58c4ee" opacity="0.9"/><circle cx="81.3" cy="95.3" r="3.3" fill="#58c4ee" opacity="0.55"/><circle cx="121.3" cy="49.2" r="3.4" fill="#58c4ee" opacity="0.55"/><circle cx="119.7" cy="54.0" r="3.8" fill="#58c4ee" opacity="0.9"/><circle cx="115.9" cy="59.5" r="3.3" fill="#58c4ee" opacity="0.9"/><circle cx="112.8" cy="64.7" r="3.4" fill="#58c4ee" opacity="0.9"/><circle cx="108.4" cy="71.2" r="3.6" fill="#58c4ee" opacity="0.9"/><circle cx="104.2" cy="76.6" r="3.3" fill="#58c4ee" opacity="0.9"/><circle cx="100.6" cy="81.0" r="3.5" fill="#58c4ee" opacity="0.9"/><circle cx="97.3" cy="86.4" r="3.5" fill="#58c4ee" opacity="0.9"/><circle cx="95.0" cy="92.1" r="3.5" fill="#58c4ee" opacity="0.9"/><circle cx="91.5" cy="98.9" r="3.7" fill="#58c4ee" opacity="0.55"/><circle cx="130.4" cy="50.5" r="3.3" fill="#58c4ee" opacity="0.55"/><circle cx="126.4" cy="55.1" r="3.8" fill="#58c4ee" opacity="0.9"/><circle cx="123.7" cy="62.2" r="3.2" fill="#58c4ee" opacity="0.9"/><circle cx="120.7" cy="67.1" r="3.7" fill="#58c4ee" opacity="0.9"/><circle cx="116.4" cy="73.3" r="3.3" fill="#58c4ee" opacity="0.9"/><circle cx="113.9" cy="78.6" r="3.8" fill="#58c4ee" opacity="0.9"/><circle cx="111.1" cy="84.3" r="3.8" fill="#58c4ee" opacity="0.9"/><circle cx="108.5" cy="89.5" r="3.7" fill="#58c4ee" opacity="0.9"/><circle cx="104.9" cy="95.8" r="3.5" fill="#58c4ee" opacity="0.9"/><circle cx="101.4" cy="101.3" r="3.6" fill="#58c4ee" opacity="0.55"/><circle cx="138.1" cy="51.8" r="3.6" fill="#58c4ee" opacity="0.55"/><circle cx="135.3" cy="57.1" r="3.6" fill="#58c4ee" opacity="0.9"/><circle cx="132.5" cy="64.0" r="3.7" fill="#58c4ee" opacity="0.9"/><circle cx="128.4" cy="69.3" r="3.6" fill="#58c4ee" opacity="0.9"/><circle cx="125.5" cy="75.2" r="3.3" fill="#58c4ee" opacity="0.9"/><circle cx="123.8" cy="79.9" r="3.6" fill="#58c4ee" opacity="0.9"/><circle cx="120.1" cy="85.8" r="3.7" fill="#58c4ee" opacity="0.9"/><circle cx="116.9" cy="92.0" r="3.8" fill="#58c4ee" opacity="0.9"/><circle cx="113.7" cy="96.8" r="3.4" fill="#58c4ee" opacity="0.9"/><circle cx="111.6" cy="103.0" r="3.3" fill="#58c4ee" opacity="0.55"/><circle cx="146.0" cy="53.8" r="3.5" fill="#58c4ee" opacity="0.55"/><circle cx="143.5" cy="59.2" r="3.7" fill="#58c4ee" opacity="0.9"/><circle cx="139.4" cy="64.9" r="3.8" fill="#58c4ee" opacity="0.9"/><circle cx="137.8" cy="71.6" r="3.5" fill="#58c4ee" opacity="0.9"/><circle cx="134.8" cy="76.5" r="3.3" fill="#58c4ee" opacity="0.9"/><circle cx="131.6" cy="83.1" r="3.8" fill="#58c4ee" opacity="0.9"/><circle cx="129.3" cy="89.2" r="3.4" fill="#58c4ee" opacity="0.9"/><circle cx="125.7" cy="94.0" r="3.4" fill="#58c4ee" opacity="0.9"/><circle cx="123.1" cy="99.8" r="3.6" fill="#58c4ee" opacity="0.9"/><circle cx="121.1" cy="105.7" r="3.8" fill="#58c4ee" opacity="0.55"/><circle cx="153.8" cy="55.1" r="3.3" fill="#58c4ee" opacity="0.55"/><circle cx="149.4" cy="61.3" r="3.2" fill="#58c4ee" opacity="0.9"/><circle cx="148.4" cy="67.1" r="3.4" fill="#58c4ee" opacity="0.9"/><circle cx="146.5" cy="72.3" r="3.3" fill="#58c4ee" opacity="0.9"/><circle cx="143.4" cy="78.1" r="3.8" fill="#58c4ee" opacity="0.9"/><circle cx="140.4" cy="84.1" r="3.2" fill="#58c4ee" opacity="0.9"/><circle cx="138.6" cy="90.7" r="3.6" fill="#58c4ee" opacity="0.9"/><circle cx="136.0" cy="97.2" r="3.9" fill="#58c4ee" opacity="0.9"/><circle cx="134.0" cy="102.3" r="3.5" fill="#58c4ee" opacity="0.9"/><circle cx="130.5" cy="107.7" r="3.5" fill="#58c4ee" opacity="0.55"/><circle cx="161.0" cy="56.1" r="3.4" fill="#58c4ee" opacity="0.55"/><circle cx="157.9" cy="62.8" r="3.6" fill="#58c4ee" opacity="0.55"/><circle cx="156.3" cy="69.1" r="3.5" fill="#58c4ee" opacity="0.55"/><circle cx="154.4" cy="75.5" r="3.3" fill="#58c4ee" opacity="0.55"/><circle cx="152.6" cy="81.4" r="3.3" fill="#58c4ee" opacity="0.55"/><circle cx="149.5" cy="87.1" r="3.8" fill="#58c4ee" opacity="0.55"/><circle cx="147.2" cy="93.0" r="3.8" fill="#58c4ee" opacity="0.55"/><circle cx="145.8" cy="99.9" r="3.5" fill="#58c4ee" opacity="0.55"/><circle cx="143.7" cy="104.8" r="3.7" fill="#58c4ee" opacity="0.55"/><circle cx="141.7" cy="111.6" r="3.7" fill="#58c4ee" opacity="0.55"/><circle cx="69.4" cy="89.2" r="1.0" fill="#4cc0ee"/><circle cx="104.9" cy="91.4" r="0.6" fill="#62c8ef"/><circle cx="143.9" cy="50.9" r="0.5" fill="#40b8ea"/><circle cx="104.2" cy="76.0" r="0.7" fill="#62c8ef"/><circle cx="55.3" cy="79.9" r="0.7" fill="#4cc0ee"/><circle cx="68.8" cy="66.4" r="0.9" fill="#40b8ea"/><circle cx="94.8" cy="49.0" r="1.0" fill="#40b8ea"/><circle cx="106.9" cy="84.7" r="1.0" fill="#62c8ef"/><circle cx="95.3" cy="99.1" r="0.9" fill="#4cc0ee"/><circle cx="103.8" cy="76.4" r="0.8" fill="#40b8ea"/><circle cx="81.0" cy="68.2" r="0.6" fill="#40b8ea"/><circle cx="113.0" cy="104.1" r="0.6" fill="#40b8ea"/><circle cx="130.6" cy="109.7" r="0.6" fill="#40b8ea"/><circle cx="114.0" cy="69.5" r="0.8" fill="#4cc0ee"/><circle cx="135.0" cy="49.9" r="0.8" fill="#4cc0ee"/><circle cx="91.5" cy="88.7" r="0.6" fill="#40b8ea"/><circle cx="90.3" cy="49.2" r="0.7" fill="#40b8ea"/><circle cx="141.4" cy="101.4" r="0.6" fill="#62c8ef"/><circle cx="121.7" cy="53.4" r="1.0" fill="#62c8ef"/><circle cx="140.2" cy="109.0" r="0.7" fill="#40b8ea"/><circle cx="79.1" cy="74.1" r="0.6" fill="#62c8ef"/><circle cx="148.3" cy="52.3" r="0.6" fill="#4cc0ee"/><circle cx="78.4" cy="53.6" r="0.7" fill="#40b8ea"/><circle cx="133.8" cy="54.5" r="0.8" fill="#40b8ea"/><circle cx="139.1" cy="89.2" r="0.6" fill="#40b8ea"/><circle cx="115.9" cy="71.6" r="0.8" fill="#62c8ef"/><circle cx="136.9" cy="88.1" r="0.6" fill="#40b8ea"/><circle cx="118.5" cy="85.1" r="0.6" fill="#40b8ea"/><circle cx="112.1" cy="80.2" r="0.6" fill="#4cc0ee"/><circle cx="123.9" cy="97.6" r="0.7" fill="#4cc0ee"/><circle cx="78.5" cy="93.0" r="0.9" fill="#4cc0ee"/><circle cx="101.2" cy="47.3" r="0.6" fill="#4cc0ee"/><circle cx="80.0" cy="60.2" r="0.9" fill="#62c8ef"/><circle cx="93.9" cy="88.6" r="0.6" fill="#4cc0ee"/><circle cx="113.4" cy="94.1" r="0.6" fill="#4cc0ee"/><circle cx="115.3" cy="101.9" r="0.6" fill="#62c8ef"/><circle cx="103.0" cy="88.9" r="1.0" fill="#40b8ea"/><circle cx="132.9" cy="99.4" r="0.6" fill="#62c8ef"/><circle cx="68.1" cy="67.3" r="1.0" fill="#40b8ea"/><circle cx="120.2" cy="57.0" r="0.6" fill="#4cc0ee"/><circle cx="129.0" cy="110.7" r="0.5" fill="#40b8ea"/><circle cx="52.1" cy="87.8" r="0.5" fill="#62c8ef"/><circle cx="80.6" cy="60.5" r="0.8" fill="#62c8ef"/><circle cx="101.4" cy="78.5" r="0.8" fill="#4cc0ee"/><circle cx="84.6" cy="50.0" r="0.7" fill="#62c8ef"/><circle cx="134.8" cy="73.9" r="0.8" fill="#4cc0ee"/><circle cx="62.5" cy="80.7" r="0.9" fill="#62c8ef"/><circle cx="132.5" cy="92.8" r="1.0" fill="#40b8ea"/><circle cx="127.2" cy="58.6" r="1.0" fill="#40b8ea"/><circle cx="144.2" cy="66.6" r="0.9" fill="#4cc0ee"/><circle cx="127.4" cy="98.7" r="0.6" fill="#62c8ef"/><circle cx="94.7" cy="73.0" r="0.9" fill="#62c8ef"/><circle cx="137.0" cy="74.5" r="0.6" fill="#40b8ea"/><circle cx="142.4" cy="69.0" r="0.5" fill="#4cc0ee"/><circle cx="93.3" cy="78.9" r="0.5" fill="#40b8ea"/><circle cx="72.8" cy="93.9" r="0.7" fill="#62c8ef"/><circle cx="123.2" cy="81.8" r="0.5" fill="#40b8ea"/><circle cx="112.5" cy="74.6" r="0.9" fill="#4cc0ee"/><circle cx="121.4" cy="108.0" r="0.6" fill="#4cc0ee"/><circle cx="88.4" cy="53.0" r="0.7" fill="#62c8ef"/><circle cx="85.6" cy="49.9" r="0.5" fill="#62c8ef"/><circle cx="99.0" cy="57.7" r="0.8" fill="#62c8ef"/><circle cx="96.2" cy="100.5" r="0.9" fill="#40b8ea"/><circle cx="78.4" cy="63.3" r="0.5" fill="#40b8ea"/><circle cx="111.7" cy="91.1" r="0.7" fill="#4cc0ee"/><circle cx="152.3" cy="76.7" r="0.9" fill="#4cc0ee"/><circle cx="111.7" cy="80.7" r="1.0" fill="#62c8ef"/><circle cx="103.2" cy="74.2" r="0.7" fill="#40b8ea"/><circle cx="114.4" cy="74.2" r="0.8" fill="#62c8ef"/><circle cx="83.6" cy="81.3" r="0.5" fill="#62c8ef"/><circle cx="132.9" cy="85.2" r="0.6" fill="#40b8ea"/><circle cx="136.5" cy="73.3" r="0.9" fill="#62c8ef"/><circle cx="49.2" cy="89.4" r="0.5" fill="#62c8ef"/><circle cx="148.5" cy="78.7" r="0.6" fill="#62c8ef"/><circle cx="145.9" cy="53.2" r="1.0" fill="#4cc0ee"/><circle cx="131.6" cy="77.3" r="0.8" fill="#4cc0ee"/><circle cx="71.8" cy="72.7" r="0.6" fill="#62c8ef"/><circle cx="146.4" cy="73.4" r="0.6" fill="#4cc0ee"/><circle cx="100.2" cy="82.4" r="0.8" fill="#62c8ef"/><circle cx="118.0" cy="87.7" r="0.9" fill="#62c8ef"/><circle cx="97.5" cy="102.8" r="0.9" fill="#62c8ef"/><circle cx="103.9" cy="48.9" r="0.9" fill="#62c8ef"/><circle cx="126.4" cy="69.1" r="0.8" fill="#62c8ef"/><circle cx="125.5" cy="90.7" r="0.8" fill="#4cc0ee"/><circle cx="141.8" cy="61.6" r="0.8" fill="#4cc0ee"/><circle cx="133.6" cy="60.3" r="0.5" fill="#40b8ea"/><circle cx="83.0" cy="53.8" r="0.5" fill="#62c8ef"/><circle cx="83.4" cy="51.0" r="0.5" fill="#62c8ef"/><circle cx="66.9" cy="74.7" r="0.6" fill="#40b8ea"/><circle cx="153.9" cy="83.5" r="0.6" fill="#62c8ef"/><circle cx="88.1" cy="84.3" r="0.9" fill="#4cc0ee"/><circle cx="95.2" cy="91.0" r="0.7" fill="#4cc0ee"/><circle cx="135.9" cy="73.2" r="0.7" fill="#4cc0ee"/><circle cx="110.2" cy="105.6" r="0.6" fill="#62c8ef"/><circle cx="125.2" cy="98.9" r="0.7" fill="#4cc0ee"/><circle cx="114.7" cy="50.1" r="0.5" fill="#62c8ef"/><circle cx="71.6" cy="69.0" r="0.9" fill="#62c8ef"/><circle cx="96.7" cy="91.4" r="0.5" fill="#4cc0ee"/><circle cx="79.2" cy="76.9" r="0.8" fill="#4cc0ee"/><circle cx="101.8" cy="88.9" r="0.6" fill="#62c8ef"/><circle cx="85.9" cy="59.7" r="0.7" fill="#40b8ea"/><circle cx="151.0" cy="72.2" r="0.8" fill="#62c8ef"/><circle cx="138.1" cy="109.8" r="0.7" fill="#62c8ef"/><circle cx="142.8" cy="69.3" r="0.6" fill="#62c8ef"/><circle cx="147.5" cy="98.2" r="0.6" fill="#40b8ea"/><circle cx="104.0" cy="64.4" r="0.8" fill="#62c8ef"/><circle cx="109.3" cy="92.9" r="0.8" fill="#40b8ea"/><circle cx="136.3" cy="83.0" r="0.8" fill="#40b8ea"/><circle cx="71.7" cy="81.0" r="0.9" fill="#62c8ef"/><circle cx="104.9" cy="45.7" r="0.8" fill="#4cc0ee"/><circle cx="149.0" cy="93.4" r="0.5" fill="#62c8ef"/><circle cx="105.9" cy="91.5" r="0.7" fill="#4cc0ee"/><circle cx="107.0" cy="49.0" r="0.5" fill="#62c8ef"/><circle cx="133.7" cy="57.0" r="0.9" fill="#40b8ea"/><circle cx="96.7" cy="84.4" r="0.9" fill="#62c8ef"/><circle cx="104.3" cy="89.6" r="0.7" fill="#62c8ef"/><circle cx="142.5" cy="71.0" r="0.7" fill="#4cc0ee"/><circle cx="107.2" cy="87.5" r="0.8" fill="#40b8ea"/><circle cx="59.5" cy="77.8" r="0.7" fill="#40b8ea"/><circle cx="73.3" cy="58.1" r="0.9" fill="#4cc0ee"/><circle cx="148.4" cy="92.6" r="0.7" fill="#40b8ea"/><circle cx="86.4" cy="45.0" r="1.0" fill="#62c8ef"/><circle cx="102.5" cy="51.5" r="0.7" fill="#40b8ea"/><circle cx="94.6" cy="52.4" r="0.8" fill="#62c8ef"/><circle cx="75.9" cy="90.0" r="0.7" fill="#62c8ef"/><circle cx="70.8" cy="73.9" r="1.0" fill="#4cc0ee"/><circle cx="146.4" cy="51.5" r="1.0" fill="#62c8ef"/><circle cx="88.5" cy="45.3" r="0.7" fill="#4cc0ee"/><circle cx="115.8" cy="81.9" r="0.8" fill="#62c8ef"/><circle cx="99.9" cy="52.3" r="0.7" fill="#62c8ef"/><circle cx="137.4" cy="109.4" r="0.8" fill="#40b8ea"/><circle cx="139.6" cy="79.9" r="0.7" fill="#62c8ef"/><circle cx="86.0" cy="97.1" r="0.8" fill="#40b8ea"/><circle cx="151.7" cy="82.9" r="0.7" fill="#4cc0ee"/><circle cx="101.4" cy="49.6" r="1.0" fill="#62c8ef"/><circle cx="130.0" cy="96.8" r="0.8" fill="#4cc0ee"/><circle cx="108.1" cy="43.5" r="1.0" fill="#62c8ef"/><circle cx="115.7" cy="59.5" r="0.8" fill="#62c8ef"/><circle cx="95.8" cy="49.7" r="0.6" fill="#62c8ef"/><circle cx="140.0" cy="101.7" r="0.8" fill="#4cc0ee"/><circle cx="159.3" cy="70.4" r="0.5" fill="#40b8ea"/><circle cx="127.7" cy="57.9" r="0.9" fill="#4cc0ee"/><circle cx="133.8" cy="100.9" r="0.7" fill="#4cc0ee"/><circle cx="120.4" cy="78.4" r="0.8" fill="#62c8ef"/><circle cx="63.3" cy="78.2" r="0.9" fill="#40b8ea"/><circle cx="82.6" cy="85.7" r="0.6" fill="#62c8ef"/><circle cx="119.1" cy="94.4" r="0.6" fill="#62c8ef"/><circle cx="114.2" cy="76.8" r="1.0" fill="#4cc0ee"/><circle cx="155.9" cy="72.9" r="0.5" fill="#62c8ef"/><circle cx="95.4" cy="68.7" r="0.5" fill="#40b8ea"/><circle cx="90.0" cy="47.5" r="0.7" fill="#40b8ea"/><circle cx="91.6" cy="99.3" r="0.8" fill="#4cc0ee"/><circle cx="74.0" cy="58.2" r="0.7" fill="#40b8ea"/><circle cx="108.2" cy="49.7" r="0.9" fill="#4cc0ee"/><circle cx="136.1" cy="94.7" r="0.6" fill="#40b8ea"/><circle cx="109.2" cy="102.0" r="0.6" fill="#40b8ea"/><circle cx="101.0" cy="65.3" r="0.5" fill="#40b8ea"/><circle cx="89.0" cy="61.6" r="0.7" fill="#4cc0ee"/><circle cx="148.9" cy="87.6" r="0.8" fill="#40b8ea"/><circle cx="110.6" cy="66.9" r="0.6" fill="#4cc0ee"/><circle cx="67.6" cy="74.9" r="0.6" fill="#40b8ea"/><circle cx="103.7" cy="44.1" r="0.8" fill="#62c8ef"/><circle cx="87.4" cy="52.1" r="1.0" fill="#4cc0ee"/><circle cx="95.7" cy="87.8" r="1.0" fill="#62c8ef"/><circle cx="104.3" cy="73.6" r="0.6" fill="#40b8ea"/><circle cx="71.9" cy="76.9" r="0.7" fill="#62c8ef"/><circle cx="120.9" cy="46.3" r="0.8" fill="#62c8ef"/><circle cx="84.0" cy="86.0" r="0.8" fill="#4cc0ee"/><circle cx="135.6" cy="49.5" r="0.6" fill="#62c8ef"/><circle cx="96.5" cy="67.3" r="0.7" fill="#40b8ea"/><circle cx="102.3" cy="90.6" r="0.8" fill="#4cc0ee"/><circle cx="69.7" cy="80.9" r="0.8" fill="#62c8ef"/><circle cx="98.2" cy="71.4" r="0.8" fill="#4cc0ee"/><circle cx="66.5" cy="90.5" r="0.9" fill="#40b8ea"/><circle cx="148.0" cy="87.6" r="0.8" fill="#4cc0ee"/><circle cx="102.1" cy="46.6" r="0.7" fill="#4cc0ee"/><circle cx="109.9" cy="63.7" r="1.0" fill="#4cc0ee"/><circle cx="100.4" cy="69.6" r="0.7" fill="#4cc0ee"/><circle cx="138.6" cy="64.1" r="0.8" fill="#40b8ea"/><circle cx="114.6" cy="79.1" r="0.6" fill="#62c8ef"/><circle cx="122.0" cy="102.7" r="0.8" fill="#62c8ef"/><circle cx="63.7" cy="83.0" r="0.8" fill="#62c8ef"/><circle cx="89.5" cy="85.5" r="0.9" fill="#62c8ef"/><circle cx="81.5" cy="70.3" r="0.7" fill="#4cc0ee"/><circle cx="92.4" cy="87.7" r="0.6" fill="#40b8ea"/><circle cx="124.4" cy="100.1" r="0.8" fill="#62c8ef"/><circle cx="115.6" cy="92.4" r="0.6" fill="#4cc0ee"/><circle cx="120.7" cy="54.2" r="0.6" fill="#62c8ef"/><circle cx="108.8" cy="63.6" r="0.6" fill="#4cc0ee"/><circle cx="122.5" cy="66.4" r="0.9" fill="#40b8ea"/><circle cx="122.7" cy="95.8" r="1.0" fill="#62c8ef"/><circle cx="120.9" cy="74.8" r="0.9" fill="#62c8ef"/><circle cx="146.0" cy="87.0" r="0.9" fill="#62c8ef"/><circle cx="93.0" cy="101.4" r="0.7" fill="#40b8ea"/><circle cx="103.0" cy="76.7" r="0.7" fill="#40b8ea"/><circle cx="115.6" cy="70.5" r="0.7" fill="#4cc0ee"/><circle cx="61.7" cy="76.4" r="0.9" fill="#62c8ef"/><circle cx="111.9" cy="90.7" r="0.9" fill="#62c8ef"/><circle cx="150.4" cy="67.0" r="0.6" fill="#62c8ef"/><circle cx="132.8" cy="110.5" r="0.8" fill="#62c8ef"/><circle cx="122.1" cy="60.5" r="0.8" fill="#62c8ef"/><circle cx="141.6" cy="106.7" r="1.0" fill="#40b8ea"/><circle cx="115.0" cy="98.9" r="0.8" fill="#62c8ef"/><circle cx="75.2" cy="75.1" r="0.8" fill="#62c8ef"/><circle cx="155.8" cy="58.7" r="0.6" fill="#4cc0ee"/><circle cx="99.7" cy="100.4" r="0.6" fill="#4cc0ee"/><circle cx="144.4" cy="51.6" r="0.5" fill="#4cc0ee"/><circle cx="138.6" cy="101.7" r="0.6" fill="#62c8ef"/><circle cx="135.8" cy="63.0" r="0.5" fill="#62c8ef"/><circle cx="150.6" cy="71.2" r="0.6" fill="#62c8ef"/><circle cx="128.2" cy="96.5" r="0.6" fill="#4cc0ee"/><circle cx="138.1" cy="93.4" r="0.6" fill="#4cc0ee"/><circle cx="144.5" cy="72.8" r="0.5" fill="#62c8ef"/><circle cx="117.1" cy="88.6" r="0.6" fill="#40b8ea"/><circle cx="132.1" cy="59.7" r="0.8" fill="#4cc0ee"/><circle cx="81.7" cy="87.2" r="0.9" fill="#62c8ef"/><circle cx="140.2" cy="57.8" r="1.0" fill="#40b8ea"/><circle cx="137.9" cy="75.3" r="0.6" fill="#4cc0ee"/><circle cx="86.0" cy="81.6" r="0.6" fill="#4cc0ee"/><circle cx="130.5" cy="79.1" r="0.9" fill="#62c8ef"/><circle cx="93.9" cy="80.5" r="0.8" fill="#4cc0ee"/><circle cx="95.5" cy="58.4" r="0.8" fill="#4cc0ee"/><circle cx="86.0" cy="77.1" r="0.7" fill="#4cc0ee"/><circle cx="55.1" cy="86.5" r="0.8" fill="#4cc0ee"/><circle cx="66.6" cy="69.9" r="0.8" fill="#62c8ef"/><circle cx="102.0" cy="76.6" r="0.6" fill="#4cc0ee"/><circle cx="140.5" cy="64.9" r="0.9" fill="#62c8ef"/><circle cx="56.3" cy="79.0" r="1.0" fill="#4cc0ee"/><circle cx="71.9" cy="62.8" r="0.7" fill="#40b8ea"/><circle cx="148.9" cy="83.4" r="0.5" fill="#4cc0ee"/><circle cx="124.7" cy="104.3" r="0.8" fill="#62c8ef"/><circle cx="135.6" cy="81.3" r="0.9" fill="#40b8ea"/><circle cx="108.5" cy="104.8" r="1.0" fill="#40b8ea"/><circle cx="70.6" cy="82.0" r="0.6" fill="#4cc0ee"/><circle cx="99.5" cy="82.3" r="0.9" fill="#40b8ea"/><circle cx="128.8" cy="97.6" r="0.6" fill="#4cc0ee"/><circle cx="103.6" cy="95.1" r="0.7" fill="#40b8ea"/><circle cx="65.8" cy="69.5" r="0.5" fill="#40b8ea"/><circle cx="93.3" cy="94.2" r="0.6" fill="#62c8ef"/><circle cx="68.9" cy="64.2" r="0.8" fill="#62c8ef"/><circle cx="120.9" cy="99.8" r="0.5" fill="#4cc0ee"/><circle cx="145.4" cy="87.1" r="0.8" fill="#40b8ea"/><circle cx="127.3" cy="86.2" r="0.7" fill="#4cc0ee"/><circle cx="79.5" cy="55.7" r="0.9" fill="#40b8ea"/><circle cx="128.9" cy="95.9" r="0.5" fill="#62c8ef"/><circle cx="147.6" cy="61.7" r="0.6" fill="#62c8ef"/><circle cx="105.5" cy="83.2" r="0.9" fill="#40b8ea"/><circle cx="76.6" cy="60.8" r="0.8" fill="#62c8ef"/><circle cx="116.2" cy="105.1" r="0.7" fill="#4cc0ee"/><circle cx="121.2" cy="108.3" r="0.9" fill="#4cc0ee"/><circle cx="97.0" cy="101.9" r="0.6" fill="#4cc0ee"/><circle cx="153.8" cy="61.1" r="0.8" fill="#62c8ef"/><circle cx="93.7" cy="97.8" r="0.8" fill="#4cc0ee"/><circle cx="117.0" cy="106.6" r="0.6" fill="#40b8ea"/><circle cx="87.4" cy="72.0" r="0.7" fill="#4cc0ee"/><circle cx="87.0" cy="52.1" r="0.7" fill="#62c8ef"/><circle cx="151.2" cy="91.3" r="0.6" fill="#4cc0ee"/><circle cx="103.1" cy="104.1" r="0.7" fill="#40b8ea"/><circle cx="117.9" cy="99.5" r="1.0" fill="#40b8ea"/><circle cx="67.5" cy="86.2" r="0.7" fill="#4cc0ee"/><circle cx="143.4" cy="63.6" r="0.6" fill="#62c8ef"/><circle cx="129.1" cy="98.5" r="0.6" fill="#62c8ef"/><circle cx="87.4" cy="66.8" r="0.7" fill="#62c8ef"/><circle cx="106.0" cy="81.2" r="0.9" fill="#4cc0ee"/><circle cx="90.1" cy="62.2" r="0.5" fill="#4cc0ee"/><circle cx="73.7" cy="93.4" r="0.5" fill="#40b8ea"/><circle cx="93.3" cy="55.6" r="0.8" fill="#62c8ef"/><circle cx="132.7" cy="61.4" r="0.7" fill="#4cc0ee"/><circle cx="61.9" cy="89.5" r="0.6" fill="#62c8ef"/><circle cx="74.6" cy="86.7" r="0.5" fill="#4cc0ee"/><circle cx="100.0" cy="64.6" r="0.9" fill="#4cc0ee"/><circle cx="109.7" cy="58.8" r="0.8" fill="#40b8ea"/><circle cx="89.6" cy="76.0" r="0.5" fill="#62c8ef"/><circle cx="76.4" cy="72.0" r="0.6" fill="#4cc0ee"/><circle cx="104.1" cy="71.4" r="0.6" fill="#40b8ea"/><circle cx="136.1" cy="64.9" r="0.7" fill="#40b8ea"/><circle cx="86.3" cy="92.3" r="0.8" fill="#62c8ef"/><circle cx="119.5" cy="53.5" r="0.9" fill="#40b8ea"/><circle cx="95.6" cy="57.9" r="0.8" fill="#62c8ef"/><circle cx="64.4" cy="84.7" r="0.8" fill="#40b8ea"/><circle cx="107.1" cy="93.2" r="0.6" fill="#40b8ea"/><circle cx="113.9" cy="102.1" r="0.8" fill="#4cc0ee"/><circle cx="112.5" cy="51.2" r="0.6" fill="#62c8ef"/><circle cx="135.2" cy="53.9" r="0.6" fill="#62c8ef"/><circle cx="110.9" cy="73.7" r="0.6" fill="#62c8ef"/><circle cx="136.9" cy="62.6" r="0.6" fill="#62c8ef"/><circle cx="138.7" cy="71.3" r="0.6" fill="#40b8ea"/><circle cx="82.5" cy="58.0" r="0.9" fill="#62c8ef"/><circle cx="117.6" cy="60.6" r="0.7" fill="#40b8ea"/><circle cx="138.5" cy="107.4" r="0.7" fill="#4cc0ee"/><circle cx="77.1" cy="60.5" r="0.7" fill="#4cc0ee"/><circle cx="146.6" cy="69.8" r="0.7" fill="#40b8ea"/><circle cx="108.7" cy="44.4" r="0.7" fill="#62c8ef"/><circle cx="107.6" cy="60.9" r="0.9" fill="#40b8ea"/><circle cx="127.2" cy="70.8" r="1.0" fill="#62c8ef"/><circle cx="96.2" cy="75.7" r="0.9" fill="#4cc0ee"/><circle cx="118.7" cy="84.0" r="0.8" fill="#62c8ef"/><circle cx="92.4" cy="43.8" r="0.9" fill="#62c8ef"/><circle cx="85.7" cy="94.0" r="0.9" fill="#4cc0ee"/><circle cx="133.9" cy="65.2" r="0.7" fill="#62c8ef"/><circle cx="160.4" cy="63.0" r="0.6" fill="#4cc0ee"/><circle cx="101.2" cy="54.7" r="0.5" fill="#40b8ea"/><circle cx="118.5" cy="69.4" r="0.8" fill="#4cc0ee"/><circle cx="135.4" cy="97.5" r="0.8" fill="#4cc0ee"/><circle cx="105.9" cy="94.3" r="0.6" fill="#62c8ef"/><circle cx="97.7" cy="41.9" r="0.6" fill="#40b8ea"/><circle cx="114.6" cy="53.7" r="0.9" fill="#4cc0ee"/><circle cx="76.0" cy="73.6" r="0.9" fill="#62c8ef"/><circle cx="96.4" cy="65.6" r="0.9" fill="#62c8ef"/><circle cx="122.8" cy="60.5" r="0.7" fill="#4cc0ee"/><circle cx="117.5" cy="102.9" r="0.6" fill="#40b8ea"/><circle cx="92.4" cy="43.8" r="0.9" fill="#4cc0ee"/><circle cx="80.9" cy="89.0" r="0.9" fill="#40b8ea"/><circle cx="121.0" cy="55.5" r="0.9" fill="#62c8ef"/><circle cx="83.2" cy="52.8" r="0.9" fill="#40b8ea"/><circle cx="135.3" cy="64.3" r="0.6" fill="#40b8ea"/><circle cx="135.0" cy="68.9" r="0.9" fill="#62c8ef"/><circle cx="82.6" cy="71.6" r="0.8" fill="#4cc0ee"/><circle cx="96.8" cy="84.0" r="0.9" fill="#40b8ea"/><circle cx="104.4" cy="51.8" r="0.7" fill="#4cc0ee"/><circle cx="133.9" cy="62.6" r="1.0" fill="#4cc0ee"/><circle cx="102.0" cy="84.5" r="0.6" fill="#4cc0ee"/><circle cx="100.9" cy="56.6" r="0.7" fill="#40b8ea"/><circle cx="138.5" cy="113.1" r="0.6" fill="#4cc0ee"/><circle cx="147.4" cy="107.6" r="0.6" fill="#4cc0ee"/><circle cx="117.9" cy="108.0" r="0.7" fill="#4cc0ee"/><circle cx="139.2" cy="103.0" r="0.6" fill="#62c8ef"/><circle cx="75.9" cy="62.3" r="0.6" fill="#40b8ea"/><circle cx="97.3" cy="78.5" r="1.0" fill="#4cc0ee"/><circle cx="94.3" cy="82.6" r="0.6" fill="#40b8ea"/><circle cx="144.8" cy="78.7" r="0.8" fill="#4cc0ee"/><circle cx="137.3" cy="105.6" r="0.6" fill="#62c8ef"/><circle cx="114.2" cy="45.2" r="0.8" fill="#40b8ea"/><circle cx="95.3" cy="64.5" r="0.6" fill="#62c8ef"/><circle cx="114.2" cy="66.7" r="0.8" fill="#62c8ef"/><circle cx="101.8" cy="42.0" r="0.8" fill="#62c8ef"/><circle cx="75.3" cy="56.0" r="1.0" fill="#4cc0ee"/><circle cx="69.6" cy="87.2" r="0.5" fill="#62c8ef"/><circle cx="95.8" cy="74.5" r="0.5" fill="#40b8ea"/><circle cx="110.5" cy="84.3" r="0.6" fill="#40b8ea"/><circle cx="92.6" cy="57.2" r="1.0" fill="#4cc0ee"/><circle cx="94.4" cy="91.5" r="0.5" fill="#40b8ea"/><circle cx="131.9" cy="108.4" r="0.6" fill="#40b8ea"/><circle cx="80.1" cy="58.5" r="0.7" fill="#40b8ea"/><circle cx="128.8" cy="47.6" r="0.5" fill="#4cc0ee"/><circle cx="89.3" cy="85.9" r="0.9" fill="#62c8ef"/><circle cx="130.8" cy="94.4" r="0.7" fill="#62c8ef"/><circle cx="108.5" cy="84.3" r="1.0" fill="#4cc0ee"/><circle cx="98.0" cy="92.8" r="0.6" fill="#62c8ef"/><circle cx="158.0" cy="54.3" r="0.6" fill="#40b8ea"/><circle cx="87.0" cy="82.7" r="0.8" fill="#40b8ea"/><circle cx="141.9" cy="72.9" r="0.7" fill="#40b8ea"/><circle cx="111.5" cy="47.6" r="0.7" fill="#40b8ea"/><circle cx="82.9" cy="57.7" r="0.6" fill="#40b8ea"/><circle cx="88.3" cy="46.6" r="0.8" fill="#62c8ef"/><circle cx="99.5" cy="47.5" r="0.7" fill="#4cc0ee"/><circle cx="103.5" cy="43.2" r="0.8" fill="#62c8ef"/><circle cx="109.2" cy="62.8" r="0.9" fill="#40b8ea"/><circle cx="147.0" cy="51.9" r="0.7" fill="#4cc0ee"/><circle cx="144.1" cy="56.9" r="0.7" fill="#62c8ef"/><circle cx="157.8" cy="67.0" r="0.9" fill="#62c8ef"/><circle cx="138.0" cy="101.3" r="0.8" fill="#4cc0ee"/><circle cx="154.4" cy="73.0" r="0.9" fill="#4cc0ee"/><circle cx="129.6" cy="47.7" r="0.8" fill="#40b8ea"/><circle cx="95.1" cy="79.6" r="0.8" fill="#4cc0ee"/><circle cx="99.8" cy="68.0" r="0.8" fill="#40b8ea"/><circle cx="109.3" cy="78.3" r="0.6" fill="#4cc0ee"/><circle cx="125.5" cy="93.7" r="0.8" fill="#62c8ef"/><circle cx="108.2" cy="66.5" r="0.7" fill="#4cc0ee"/><circle cx="129.7" cy="49.8" r="0.8" fill="#4cc0ee"/><circle cx="114.5" cy="61.6" r="0.8" fill="#4cc0ee"/><circle cx="156.8" cy="62.4" r="0.7" fill="#62c8ef"/><circle cx="84.8" cy="75.8" r="0.9" fill="#4cc0ee"/><circle cx="156.2" cy="78.7" r="0.9" fill="#4cc0ee"/><circle cx="155.1" cy="59.4" r="0.9" fill="#4cc0ee"/><circle cx="111.3" cy="102.6" r="0.9" fill="#4cc0ee"/><circle cx="95.7" cy="102.1" r="0.6" fill="#4cc0ee"/><circle cx="77.8" cy="57.0" r="0.9" fill="#40b8ea"/><circle cx="105.9" cy="75.5" r="0.6" fill="#62c8ef"/><circle cx="86.1" cy="77.4" r="0.6" fill="#4cc0ee"/><circle cx="96.9" cy="87.2" r="0.5" fill="#4cc0ee"/><circle cx="125.9" cy="49.8" r="1.0" fill="#40b8ea"/><circle cx="52.9" cy="87.5" r="0.6" fill="#62c8ef"/><circle cx="80.2" cy="93.8" r="0.9" fill="#4cc0ee"/><circle cx="91.5" cy="50.3" r="0.5" fill="#62c8ef"/><circle cx="128.2" cy="76.3" r="0.5" fill="#62c8ef"/><circle cx="160.1" cy="66.7" r="0.7" fill="#40b8ea"/><circle cx="141.3" cy="112.6" r="0.8" fill="#40b8ea"/><circle cx="122.3" cy="46.6" r="0.8" fill="#62c8ef"/><circle cx="130.6" cy="108.2" r="0.8" fill="#40b8ea"/><circle cx="137.4" cy="60.1" r="0.6" fill="#4cc0ee"/><circle cx="132.7" cy="50.3" r="0.6" fill="#62c8ef"/><circle cx="147.6" cy="90.3" r="0.7" fill="#62c8ef"/><circle cx="88.2" cy="42.9" r="0.9" fill="#4cc0ee"/><circle cx="106.0" cy="61.4" r="0.6" fill="#62c8ef"/><circle cx="84.1" cy="53.8" r="0.9" fill="#62c8ef"/><circle cx="104.7" cy="70.2" r="0.6" fill="#40b8ea"/><circle cx="74.9" cy="66.7" r="0.6" fill="#62c8ef"/><circle cx="124.9" cy="64.0" r="1.0" fill="#62c8ef"/><circle cx="67.4" cy="73.1" r="1.0" fill="#4cc0ee"/><circle cx="92.3" cy="85.2" r="0.6" fill="#40b8ea"/><circle cx="127.4" cy="69.8" r="0.6" fill="#62c8ef"/><circle cx="89.9" cy="98.0" r="0.8" fill="#62c8ef"/><circle cx="63.1" cy="69.7" r="0.7" fill="#4cc0ee"/><circle cx="61.6" cy="86.9" r="0.7" fill="#62c8ef"/><circle cx="107.5" cy="48.9" r="0.6" fill="#40b8ea"/><circle cx="126.4" cy="75.1" r="0.5" fill="#4cc0ee"/><circle cx="103.9" cy="64.9" r="0.8" fill="#40b8ea"/><circle cx="114.6" cy="106.8" r="0.8" fill="#4cc0ee"/><circle cx="99.3" cy="45.4" r="0.7" fill="#4cc0ee"/><circle cx="88.4" cy="79.7" r="0.5" fill="#40b8ea"/><circle cx="106.5" cy="43.8" r="0.7" fill="#62c8ef"/><circle cx="85.7" cy="71.0" r="1.0" fill="#4cc0ee"/><circle cx="74.8" cy="63.5" r="0.9" fill="#62c8ef"/><circle cx="148.8" cy="84.6" r="0.6" fill="#40b8ea"/><circle cx="113.0" cy="52.6" r="0.5" fill="#62c8ef"/><circle cx="149.9" cy="51.4" r="0.8" fill="#40b8ea"/><circle cx="125.8" cy="104.3" r="0.9" fill="#40b8ea"/><circle cx="123.9" cy="95.3" r="0.7" fill="#4cc0ee"/><circle cx="86.5" cy="60.7" r="1.0" fill="#62c8ef"/><circle cx="157.0" cy="54.1" r="0.7" fill="#62c8ef"/><circle cx="101.3" cy="102.3" r="0.7" fill="#4cc0ee"/><circle cx="124.4" cy="53.8" r="0.6" fill="#40b8ea"/><circle cx="125.2" cy="78.4" r="0.6" fill="#62c8ef"/><circle cx="142.2" cy="65.4" r="0.7" fill="#62c8ef"/><circle cx="152.4" cy="90.1" r="0.8" fill="#4cc0ee"/><circle cx="95.4" cy="92.8" r="0.9" fill="#4cc0ee"/><circle cx="123.5" cy="54.8" r="0.8" fill="#40b8ea"/><circle cx="98.9" cy="78.6" r="1.0" fill="#40b8ea"/><circle cx="121.2" cy="46.1" r="0.9" fill="#4cc0ee"/><circle cx="66.3" cy="78.3" r="0.6" fill="#62c8ef"/><circle cx="129.4" cy="48.8" r="0.7" fill="#4cc0ee"/><circle cx="146.4" cy="85.7" r="0.7" fill="#4cc0ee"/><circle cx="104.7" cy="55.2" r="0.6" fill="#40b8ea"/><circle cx="151.9" cy="72.9" r="0.6" fill="#62c8ef"/><circle cx="153.3" cy="88.4" r="0.8" fill="#4cc0ee"/><circle cx="97.6" cy="96.8" r="0.8" fill="#62c8ef"/><circle cx="86.7" cy="74.8" r="0.7" fill="#4cc0ee"/><circle cx="105.8" cy="71.7" r="0.8" fill="#62c8ef"/><circle cx="111.2" cy="50.6" r="0.9" fill="#62c8ef"/><circle cx="71.4" cy="66.7" r="0.7" fill="#40b8ea"/><circle cx="134.8" cy="91.5" r="0.7" fill="#40b8ea"/><circle cx="95.5" cy="69.7" r="0.8" fill="#4cc0ee"/><circle cx="105.8" cy="88.0" r="0.7" fill="#62c8ef"/><circle cx="162.6" cy="54.1" r="0.7" fill="#40b8ea"/><circle cx="70.1" cy="93.3" r="0.7" fill="#40b8ea"/><circle cx="89.4" cy="76.1" r="0.5" fill="#40b8ea"/><circle cx="99.5" cy="48.2" r="0.5" fill="#62c8ef"/><circle cx="86.5" cy="53.5" r="0.9" fill="#62c8ef"/><circle cx="147.0" cy="92.7" r="0.7" fill="#62c8ef"/><circle cx="85.2" cy="79.5" r="0.7" fill="#4cc0ee"/><circle cx="97.3" cy="55.7" r="0.7" fill="#4cc0ee"/><circle cx="132.0" cy="98.2" r="0.6" fill="#40b8ea"/><circle cx="155.3" cy="84.3" r="0.8" fill="#62c8ef"/><circle cx="101.9" cy="99.4" r="0.9" fill="#40b8ea"/><circle cx="115.9" cy="87.3" r="0.8" fill="#4cc0ee"/><circle cx="56.5" cy="75.8" r="0.7" fill="#62c8ef"/><circle cx="109.6" cy="100.6" r="0.6" fill="#4cc0ee"/><circle cx="66.2" cy="75.1" r="0.7" fill="#4cc0ee"/><circle cx="108.8" cy="69.9" r="0.7" fill="#4cc0ee"/><circle cx="140.9" cy="96.4" r="1.0" fill="#4cc0ee"/><circle cx="86.0" cy="89.2" r="0.6" fill="#40b8ea"/><circle cx="86.0" cy="56.9" r="0.8" fill="#40b8ea"/><circle cx="154.8" cy="65.8" r="0.7" fill="#62c8ef"/><circle cx="60.1" cy="89.7" r="0.9" fill="#4cc0ee"/><circle cx="124.9" cy="48.1" r="1.0" fill="#62c8ef"/><circle cx="76.3" cy="78.7" r="0.7" fill="#62c8ef"/><circle cx="131.1" cy="72.0" r="0.6" fill="#62c8ef"/><circle cx="141.6" cy="60.1" r="0.7" fill="#40b8ea"/><circle cx="53.4" cy="80.3" r="0.7" fill="#40b8ea"/><circle cx="118.6" cy="77.5" r="0.7" fill="#62c8ef"/><circle cx="120.2" cy="74.2" r="0.6" fill="#40b8ea"/><circle cx="132.0" cy="72.7" r="0.8" fill="#4cc0ee"/><circle cx="97.5" cy="56.5" r="0.7" fill="#40b8ea"/><circle cx="51.8" cy="85.9" r="0.7" fill="#62c8ef"/><circle cx="132.1" cy="75.1" r="0.5" fill="#40b8ea"/><circle cx="86.7" cy="63.3" r="0.7" fill="#40b8ea"/><circle cx="119.2" cy="59.4" r="0.6" fill="#40b8ea"/><circle cx="80.6" cy="88.8" r="1.0" fill="#4cc0ee"/><circle cx="111.0" cy="53.1" r="0.7" fill="#62c8ef"/><circle cx="61.1" cy="90.2" r="0.9" fill="#62c8ef"/><circle cx="63.1" cy="80.4" r="1.0" fill="#4cc0ee"/><circle cx="137.2" cy="96.2" r="0.6" fill="#62c8ef"/><circle cx="132.3" cy="84.8" r="0.8" fill="#62c8ef"/><circle cx="82.3" cy="95.8" r="0.9" fill="#40b8ea"/><circle cx="110.5" cy="95.4" r="0.6" fill="#62c8ef"/><circle cx="111.0" cy="53.9" r="0.8" fill="#62c8ef"/><circle cx="90.0" cy="73.2" r="0.7" fill="#62c8ef"/><circle cx="99.7" cy="58.4" r="1.0" fill="#62c8ef"/><circle cx="85.3" cy="61.5" r="0.9" fill="#40b8ea"/><circle cx="119.4" cy="79.2" r="0.6" fill="#40b8ea"/><circle cx="127.7" cy="91.5" r="0.9" fill="#40b8ea"/><circle cx="108.0" cy="46.1" r="0.8" fill="#62c8ef"/><circle cx="115.5" cy="74.3" r="0.7" fill="#40b8ea"/><circle cx="119.1" cy="105.0" r="0.6" fill="#40b8ea"/><circle cx="120.4" cy="101.6" r="1.0" fill="#4cc0ee"/><circle cx="57.4" cy="88.6" r="0.9" fill="#40b8ea"/><circle cx="113.2" cy="44.0" r="1.0" fill="#40b8ea"/><circle cx="89.9" cy="61.2" r="0.9" fill="#62c8ef"/><circle cx="65.0" cy="73.6" r="0.6" fill="#4cc0ee"/><circle cx="116.4" cy="53.3" r="1.0" fill="#40b8ea"/><circle cx="144.1" cy="110.0" r="0.5" fill="#40b8ea"/><circle cx="124.0" cy="57.5" r="0.8" fill="#40b8ea"/><circle cx="108.0" cy="100.9" r="0.6" fill="#40b8ea"/><circle cx="92.8" cy="51.3" r="0.7" fill="#40b8ea"/><circle cx="101.0" cy="102.1" r="0.5" fill="#40b8ea"/><circle cx="151.9" cy="68.1" r="0.9" fill="#4cc0ee"/><circle cx="139.3" cy="112.5" r="0.9" fill="#4cc0ee"/><circle cx="160.0" cy="54.5" r="0.9" fill="#62c8ef"/><circle cx="153.4" cy="89.2" r="0.7" fill="#40b8ea"/><circle cx="70.6" cy="81.3" r="1.0" fill="#4cc0ee"/><circle cx="88.0" cy="45.4" r="1.0" fill="#62c8ef"/><circle cx="91.1" cy="41.3" r="0.8" fill="#4cc0ee"/><circle cx="110.3" cy="79.3" r="0.9" fill="#40b8ea"/><circle cx="87.6" cy="42.8" r="1.0" fill="#4cc0ee"/><circle cx="142.8" cy="75.9" r="0.6" fill="#62c8ef"/><circle cx="87.1" cy="93.7" r="0.6" fill="#4cc0ee"/><circle cx="117.9" cy="77.7" r="0.8" fill="#62c8ef"/><circle cx="92.4" cy="79.5" r="0.6" fill="#62c8ef"/><circle cx="91.0" cy="54.6" r="0.6" fill="#62c8ef"/><circle cx="155.1" cy="64.2" r="0.8" fill="#40b8ea"/><circle cx="89.2" cy="70.6" r="0.8" fill="#62c8ef"/><circle cx="78.0" cy="55.1" r="0.7" fill="#4cc0ee"/><circle cx="87.5" cy="82.9" r="0.5" fill="#40b8ea"/><circle cx="105.5" cy="47.9" r="0.9" fill="#40b8ea"/><circle cx="100.2" cy="54.4" r="0.8" fill="#62c8ef"/><circle cx="72.0" cy="75.5" r="1.0" fill="#4cc0ee"/><circle cx="156.6" cy="77.8" r="0.7" fill="#4cc0ee"/><circle cx="134.0" cy="62.7" r="0.7" fill="#4cc0ee"/><circle cx="88.8" cy="74.9" r="0.5" fill="#40b8ea"/><circle cx="144.3" cy="109.5" r="0.7" fill="#4cc0ee"/><circle cx="116.7" cy="48.5" r="0.6" fill="#4cc0ee"/><circle cx="69.5" cy="87.8" r="1.0" fill="#4cc0ee"/><circle cx="80.9" cy="94.1" r="0.9" fill="#4cc0ee"/><circle cx="112.9" cy="46.4" r="0.6" fill="#4cc0ee"/><circle cx="115.8" cy="100.2" r="0.9" fill="#40b8ea"/><circle cx="129.9" cy="70.4" r="0.6" fill="#40b8ea"/><circle cx="73.7" cy="92.8" r="1.0" fill="#4cc0ee"/><circle cx="126.1" cy="89.4" r="0.7" fill="#4cc0ee"/><circle cx="99.2" cy="48.4" r="0.8" fill="#40b8ea"/><circle cx="140.4" cy="77.7" r="0.6" fill="#40b8ea"/><circle cx="68.4" cy="73.7" r="0.5" fill="#4cc0ee"/><circle cx="84.3" cy="84.3" r="0.8" fill="#40b8ea"/><circle cx="88.6" cy="58.7" r="0.6" fill="#40b8ea"/><circle cx="96.3" cy="95.8" r="0.7" fill="#40b8ea"/><circle cx="109.5" cy="96.2" r="0.5" fill="#62c8ef"/><circle cx="81.5" cy="65.5" r="0.5" fill="#40b8ea"/><circle cx="136.9" cy="74.1" r="0.6" fill="#4cc0ee"/><circle cx="75.7" cy="60.0" r="1.0" fill="#4cc0ee"/><circle cx="72.9" cy="60.7" r="0.8" fill="#62c8ef"/><circle cx="94.4" cy="41.6" r="0.5" fill="#62c8ef"/><circle cx="111.9" cy="46.1" r="0.9" fill="#62c8ef"/><circle cx="110.6" cy="86.3" r="0.8" fill="#62c8ef"/><circle cx="100.6" cy="63.0" r="0.8" fill="#40b8ea"/><circle cx="102.4" cy="74.9" r="0.6" fill="#62c8ef"/><circle cx="150.9" cy="83.3" r="1.0" fill="#40b8ea"/><circle cx="133.0" cy="104.6" r="0.7" fill="#4cc0ee"/><circle cx="103.1" cy="99.2" r="1.0" fill="#4cc0ee"/><circle cx="92.6" cy="73.5" r="0.6" fill="#62c8ef"/><circle cx="155.2" cy="70.7" r="0.8" fill="#4cc0ee"/><circle cx="68.4" cy="63.1" r="0.7" fill="#4cc0ee"/><circle cx="148.0" cy="84.1" r="0.8" fill="#62c8ef"/><circle cx="128.4" cy="72.2" r="0.8" fill="#62c8ef"/><circle cx="123.9" cy="75.1" r="0.7" fill="#4cc0ee"/><circle cx="136.6" cy="52.4" r="1.0" fill="#4cc0ee"/><circle cx="94.1" cy="66.8" r="0.6" fill="#4cc0ee"/><circle cx="67.8" cy="69.2" r="0.9" fill="#62c8ef"/><circle cx="73.3" cy="90.4" r="0.6" fill="#40b8ea"/><circle cx="114.9" cy="47.7" r="0.7" fill="#4cc0ee"/><circle cx="116.8" cy="62.5" r="0.8" fill="#40b8ea"/><circle cx="108.9" cy="55.0" r="0.8" fill="#4cc0ee"/><circle cx="113.5" cy="62.3" r="1.0" fill="#40b8ea"/><circle cx="118.9" cy="95.4" r="0.6" fill="#40b8ea"/><circle cx="78.5" cy="90.4" r="0.9" fill="#4cc0ee"/><circle cx="103.9" cy="56.8" r="1.0" fill="#4cc0ee"/><circle cx="125.9" cy="76.1" r="0.8" fill="#40b8ea"/><circle cx="137.5" cy="109.1" r="0.9" fill="#40b8ea"/><circle cx="160.2" cy="63.6" r="1.0" fill="#62c8ef"/><circle cx="148.3" cy="70.9" r="0.8" fill="#4cc0ee"/><circle cx="141.6" cy="66.2" r="0.8" fill="#40b8ea"/><circle cx="68.3" cy="78.1" r="0.7" fill="#4cc0ee"/><circle cx="106.9" cy="66.8" r="0.8" fill="#4cc0ee"/><circle cx="147.1" cy="92.2" r="0.6" fill="#62c8ef"/><circle cx="142.7" cy="52.2" r="0.7" fill="#4cc0ee"/><circle cx="158.9" cy="68.0" r="0.9" fill="#40b8ea"/><circle cx="127.8" cy="79.4" r="0.7" fill="#62c8ef"/><circle cx="141.5" cy="51.2" r="0.8" fill="#62c8ef"/><circle cx="153.8" cy="73.4" r="1.0" fill="#4cc0ee"/><circle cx="74.9" cy="93.9" r="0.7" fill="#40b8ea"/><circle cx="123.4" cy="49.4" r="0.6" fill="#4cc0ee"/><circle cx="113.6" cy="74.2" r="0.5" fill="#4cc0ee"/><circle cx="141.9" cy="52.7" r="0.8" fill="#40b8ea"/><circle cx="75.5" cy="92.8" r="0.6" fill="#62c8ef"/><circle cx="112.5" cy="48.0" r="1.0" fill="#4cc0ee"/><circle cx="79.1" cy="89.2" r="0.8" fill="#40b8ea"/><circle cx="68.8" cy="90.3" r="1.0" fill="#62c8ef"/><circle cx="77.3" cy="62.1" r="0.8" fill="#62c8ef"/><circle cx="132.8" cy="83.2" r="1.0" fill="#40b8ea"/><circle cx="96.1" cy="99.2" r="0.8" fill="#40b8ea"/><circle cx="154.4" cy="86.5" r="0.6" fill="#4cc0ee"/><circle cx="151.6" cy="91.7" r="0.8" fill="#4cc0ee"/><circle cx="82.4" cy="81.2" r="1.0" fill="#40b8ea"/><circle cx="78.9" cy="85.2" r="0.9" fill="#4cc0ee"/><circle cx="109.7" cy="69.8" r="1.0" fill="#4cc0ee"/><circle cx="94.6" cy="55.3" r="0.8" fill="#4cc0ee"/><circle cx="69.0" cy="62.3" r="0.7" fill="#40b8ea"/><circle cx="81.7" cy="62.9" r="0.9" fill="#40b8ea"/><circle cx="75.9" cy="85.5" r="0.8" fill="#4cc0ee"/><circle cx="135.2" cy="51.1" r="0.8" fill="#40b8ea"/><circle cx="85.9" cy="72.8" r="0.5" fill="#62c8ef"/><circle cx="78.5" cy="60.1" r="0.8" fill="#62c8ef"/><circle cx="96.1" cy="55.2" r="0.7" fill="#40b8ea"/><circle cx="124.7" cy="65.9" r="0.6" fill="#40b8ea"/><circle cx="104.8" cy="55.6" r="0.8" fill="#40b8ea"/><circle cx="107.0" cy="67.1" r="0.6" fill="#4cc0ee"/><circle cx="131.4" cy="92.8" r="0.6" fill="#62c8ef"/><circle cx="134.2" cy="60.9" r="0.7" fill="#62c8ef"/><circle cx="124.8" cy="72.0" r="0.8" fill="#62c8ef"/><circle cx="64.5" cy="77.7" r="0.9" fill="#40b8ea"/><circle cx="111.5" cy="66.7" r="1.0" fill="#40b8ea"/><circle cx="138.9" cy="74.6" r="0.5" fill="#40b8ea"/><circle cx="98.3" cy="54.6" r="1.0" fill="#40b8ea"/><circle cx="119.9" cy="87.4" r="0.6" fill="#62c8ef"/><circle cx="89.5" cy="75.6" r="0.8" fill="#4cc0ee"/><circle cx="156.7" cy="74.8" r="0.7" fill="#40b8ea"/><circle cx="144.9" cy="72.3" r="0.6" fill="#62c8ef"/><circle cx="129.7" cy="61.0" r="0.6" fill="#62c8ef"/><circle cx="145.9" cy="99.0" r="0.5" fill="#62c8ef"/><circle cx="108.3" cy="94.3" r="0.7" fill="#40b8ea"/><circle cx="112.5" cy="88.3" r="0.9" fill="#62c8ef"/><circle cx="126.0" cy="62.1" r="0.8" fill="#40b8ea"/><circle cx="115.5" cy="53.9" r="0.6" fill="#4cc0ee"/><circle cx="140.4" cy="70.0" r="0.8" fill="#40b8ea"/><circle cx="57.1" cy="77.2" r="0.8" fill="#62c8ef"/><circle cx="122.0" cy="56.0" r="0.9" fill="#40b8ea"/><circle cx="111.1" cy="73.6" r="0.8" fill="#62c8ef"/><circle cx="96.0" cy="43.3" r="0.8" fill="#62c8ef"/><circle cx="152.9" cy="89.0" r="0.7" fill="#62c8ef"/><circle cx="145.3" cy="55.0" r="0.8" fill="#62c8ef"/><circle cx="87.8" cy="60.5" r="0.7" fill="#4cc0ee"/><circle cx="96.9" cy="62.3" r="0.8" fill="#40b8ea"/><circle cx="118.0" cy="69.6" r="0.6" fill="#62c8ef"/><circle cx="80.1" cy="90.2" r="0.6" fill="#40b8ea"/><circle cx="99.1" cy="48.1" r="0.8" fill="#4cc0ee"/><circle cx="83.9" cy="49.3" r="0.7" fill="#4cc0ee"/><circle cx="141.8" cy="51.3" r="0.9" fill="#62c8ef"/><circle cx="77.3" cy="79.0" r="0.7" fill="#40b8ea"/><circle cx="128.3" cy="104.9" r="0.9" fill="#62c8ef"/><circle cx="50.2" cy="85.3" r="0.6" fill="#40b8ea"/><circle cx="116.4" cy="66.8" r="0.6" fill="#40b8ea"/><circle cx="132.4" cy="57.1" r="0.9" fill="#62c8ef"/><circle cx="152.8" cy="63.1" r="1.0" fill="#4cc0ee"/><circle cx="136.3" cy="59.3" r="0.8" fill="#62c8ef"/><circle cx="87.6" cy="85.7" r="0.9" fill="#62c8ef"/><circle cx="92.7" cy="61.7" r="0.7" fill="#4cc0ee"/><circle cx="115.8" cy="98.1" r="0.5" fill="#40b8ea"/><circle cx="140.1" cy="84.2" r="0.5" fill="#40b8ea"/><circle cx="92.1" cy="75.7" r="0.8" fill="#62c8ef"/><circle cx="153.5" cy="55.9" r="0.7" fill="#4cc0ee"/><circle cx="144.5" cy="89.9" r="0.6" fill="#40b8ea"/><circle cx="120.1" cy="89.2" r="0.5" fill="#62c8ef"/><circle cx="143.1" cy="63.9" r="0.7" fill="#4cc0ee"/><circle cx="108.3" cy="58.1" r="0.6" fill="#62c8ef"/><circle cx="74.9" cy="57.6" r="0.8" fill="#62c8ef"/><circle cx="106.3" cy="49.3" r="0.7" fill="#4cc0ee"/><circle cx="118.5" cy="64.3" r="0.9" fill="#40b8ea"/><circle cx="98.6" cy="85.2" r="0.7" fill="#4cc0ee"/><circle cx="101.3" cy="72.4" r="0.7" fill="#62c8ef"/><circle cx="102.0" cy="104.0" r="0.6" fill="#4cc0ee"/><circle cx="97.5" cy="64.5" r="0.9" fill="#40b8ea"/><circle cx="128.3" cy="64.8" r="0.7" fill="#4cc0ee"/><circle cx="147.1" cy="86.7" r="0.8" fill="#62c8ef"/><circle cx="133.9" cy="76.9" r="0.8" fill="#62c8ef"/><circle cx="83.8" cy="72.9" r="1.0" fill="#40b8ea"/><circle cx="151.2" cy="56.2" r="0.8" fill="#4cc0ee"/><circle cx="99.5" cy="67.1" r="0.7" fill="#40b8ea"/><circle cx="142.6" cy="83.0" r="0.8" fill="#4cc0ee"/><circle cx="60.9" cy="84.9" r="0.9" fill="#62c8ef"/><circle cx="134.6" cy="76.6" r="0.8" fill="#62c8ef"/><circle cx="129.7" cy="50.6" r="0.6" fill="#40b8ea"/><circle cx="94.1" cy="95.7" r="0.7" fill="#40b8ea"/><circle cx="146.2" cy="92.8" r="1.0" fill="#62c8ef"/><circle cx="145.7" cy="90.2" r="0.6" fill="#4cc0ee"/><circle cx="133.4" cy="61.4" r="0.6" fill="#4cc0ee"/><circle cx="107.1" cy="53.4" r="0.8" fill="#40b8ea"/><circle cx="159.7" cy="65.1" r="0.9" fill="#4cc0ee"/><circle cx="123.7" cy="94.1" r="0.7" fill="#4cc0ee"/><circle cx="125.1" cy="91.7" r="0.8" fill="#4cc0ee"/><circle cx="121.8" cy="102.0" r="1.0" fill="#40b8ea"/><circle cx="104.7" cy="57.9" r="0.6" fill="#40b8ea"/><circle cx="119.6" cy="83.8" r="0.5" fill="#40b8ea"/><circle cx="120.5" cy="69.2" r="0.6" fill="#40b8ea"/><circle cx="138.9" cy="60.7" r="0.8" fill="#62c8ef"/><circle cx="66.1" cy="69.2" r="1.0" fill="#62c8ef"/><circle cx="139.1" cy="53.2" r="0.8" fill="#4cc0ee"/><circle cx="84.6" cy="95.4" r="0.9" fill="#40b8ea"/><circle cx="149.8" cy="94.9" r="0.8" fill="#40b8ea"/><circle cx="153.4" cy="72.6" r="0.5" fill="#4cc0ee"/><circle cx="114.4" cy="67.9" r="0.6" fill="#40b8ea"/><circle cx="83.7" cy="59.3" r="0.7" fill="#40b8ea"/><circle cx="109.7" cy="52.2" r="0.8" fill="#40b8ea"/><circle cx="129.8" cy="59.9" r="0.7" fill="#4cc0ee"/><circle cx="132.8" cy="83.8" r="0.7" fill="#4cc0ee"/><circle cx="125.4" cy="48.9" r="0.9" fill="#40b8ea"/><circle cx="84.5" cy="49.3" r="0.6" fill="#62c8ef"/><circle cx="109.9" cy="66.3" r="0.9" fill="#4cc0ee"/><circle cx="143.2" cy="53.1" r="0.6" fill="#4cc0ee"/><circle cx="101.3" cy="43.7" r="0.6" fill="#4cc0ee"/><circle cx="134.7" cy="57.3" r="0.5" fill="#40b8ea"/><circle cx="139.2" cy="87.7" r="0.8" fill="#4cc0ee"/><circle cx="100.6" cy="52.2" r="0.6" fill="#62c8ef"/><circle cx="79.0" cy="75.4" r="0.5" fill="#4cc0ee"/><circle cx="132.6" cy="98.6" r="0.6" fill="#62c8ef"/><circle cx="116.9" cy="76.3" r="0.5" fill="#62c8ef"/><circle cx="75.3" cy="96.2" r="0.6" fill="#4cc0ee"/><circle cx="115.5" cy="44.9" r="0.9" fill="#40b8ea"/><circle cx="101.1" cy="58.8" r="0.6" fill="#40b8ea"/><circle cx="93.2" cy="83.2" r="1.0" fill="#62c8ef"/><circle cx="69.9" cy="74.0" r="0.6" fill="#62c8ef"/><circle cx="83.1" cy="83.3" r="0.8" fill="#4cc0ee"/><circle cx="155.5" cy="64.3" r="0.9" fill="#62c8ef"/><circle cx="106.7" cy="57.9" r="1.0" fill="#40b8ea"/><circle cx="122.3" cy="100.8" r="0.8" fill="#62c8ef"/><circle cx="124.5" cy="82.6" r="0.9" fill="#40b8ea"/><circle cx="102.2" cy="55.8" r="0.8" fill="#62c8ef"/><circle cx="159.3" cy="62.4" r="0.7" fill="#62c8ef"/><circle cx="62.7" cy="79.8" r="0.5" fill="#40b8ea"/><circle cx="129.2" cy="64.6" r="1.0" fill="#62c8ef"/><circle cx="110.0" cy="59.6" r="0.9" fill="#40b8ea"/><circle cx="158.9" cy="70.1" r="0.8" fill="#62c8ef"/><circle cx="119.2" cy="79.0" r="0.6" fill="#62c8ef"/><circle cx="121.3" cy="66.6" r="0.6" fill="#4cc0ee"/><circle cx="124.0" cy="85.7" r="0.6" fill="#40b8ea"/><circle cx="151.6" cy="93.2" r="0.7" fill="#4cc0ee"/><circle cx="141.3" cy="101.4" r="0.9" fill="#4cc0ee"/><circle cx="132.0" cy="107.9" r="0.6" fill="#62c8ef"/><circle cx="124.9" cy="61.2" r="0.9" fill="#40b8ea"/><circle cx="101.5" cy="83.9" r="1.0" fill="#4cc0ee"/><circle cx="111.3" cy="103.9" r="0.8" fill="#4cc0ee"/><circle cx="101.4" cy="43.6" r="0.9" fill="#62c8ef"/><circle cx="125.1" cy="58.4" r="0.8" fill="#40b8ea"/><circle cx="161.7" cy="57.3" r="1.0" fill="#4cc0ee"/><circle cx="71.8" cy="75.9" r="0.8" fill="#62c8ef"/><circle cx="103.8" cy="95.4" r="1.0" fill="#62c8ef"/><circle cx="65.5" cy="72.6" r="0.6" fill="#62c8ef"/><circle cx="85.5" cy="47.9" r="0.6" fill="#4cc0ee"/><circle cx="113.2" cy="49.5" r="0.9" fill="#40b8ea"/><circle cx="111.9" cy="50.9" r="0.8" fill="#40b8ea"/><circle cx="102.6" cy="67.8" r="0.8" fill="#40b8ea"/><circle cx="138.9" cy="92.6" r="0.6" fill="#62c8ef"/><circle cx="65.3" cy="71.6" r="0.4" fill="#eef2ea"/><circle cx="126.4" cy="51.0" r="0.8" fill="#dcdccc"/><circle cx="70.8" cy="71.5" r="0.6" fill="#dcdccc"/><circle cx="141.2" cy="50.3" r="0.6" fill="#eef2ea"/><circle cx="94.4" cy="41.7" r="0.5" fill="#dcdccc"/><circle cx="154.5" cy="58.9" r="0.4" fill="#eef2ea"/><circle cx="60.5" cy="85.4" r="0.4" fill="#dcdccc"/><circle cx="120.1" cy="52.1" r="0.4" fill="#eef2ea"/><circle cx="97.3" cy="42.9" r="0.8" fill="#eef2ea"/><circle cx="151.0" cy="55.2" r="0.5" fill="#eef2ea"/><circle cx="83.9" cy="47.2" r="0.5" fill="#eef2ea"/><circle cx="145.6" cy="65.6" r="0.6" fill="#dcdccc"/><circle cx="108.5" cy="44.1" r="0.7" fill="#dcdccc"/><circle cx="50.4" cy="82.3" r="0.6" fill="#eef2ea"/><circle cx="68.2" cy="84.3" r="0.5" fill="#dcdccc"/><circle cx="80.9" cy="50.6" r="0.6" fill="#dcdccc"/><circle cx="119.3" cy="48.1" r="0.6" fill="#dcdccc"/><circle cx="89.1" cy="43.9" r="0.6" fill="#eef2ea"/><circle cx="105.6" cy="48.1" r="0.5" fill="#dcdccc"/><circle cx="117.1" cy="88.7" r="0.6" fill="#dcdccc"/><circle cx="148.5" cy="51.4" r="0.8" fill="#dcdccc"/><circle cx="92.4" cy="43.1" r="0.7" fill="#dcdccc"/><circle cx="101.1" cy="47.1" r="0.3" fill="#dcdccc"/><circle cx="123.5" cy="49.7" r="0.4" fill="#eef2ea"/><circle cx="83.0" cy="94.2" r="0.4" fill="#eef2ea"/><circle cx="65.5" cy="73.1" r="0.4" fill="#dcdccc"/><circle cx="105.5" cy="98.4" r="0.6" fill="#dcdccc"/><circle cx="98.0" cy="44.5" r="0.7" fill="#dcdccc"/><circle cx="96.8" cy="41.7" r="0.5" fill="#dcdccc"/><circle cx="93.9" cy="50.1" r="0.6" fill="#eef2ea"/><circle cx="94.4" cy="44.0" r="0.3" fill="#dcdccc"/><circle cx="62.3" cy="73.0" r="0.6" fill="#dcdccc"/><circle cx="79.8" cy="52.3" r="0.4" fill="#dcdccc"/><circle cx="44.5" cy="88.0" r="0.4" fill="#dcdccc"/><circle cx="72.0" cy="80.9" r="0.4" fill="#eef2ea"/><circle cx="70.7" cy="60.4" r="0.7" fill="#dcdccc"/><circle cx="84.8" cy="55.1" r="0.5" fill="#dcdccc"/><circle cx="56.7" cy="78.3" r="0.8" fill="#dcdccc"/><circle cx="161.9" cy="57.6" r="0.8" fill="#eef2ea"/><circle cx="90.5" cy="41.8" r="0.4" fill="#eef2ea"/><circle cx="63.9" cy="74.5" r="0.4" fill="#dcdccc"/><circle cx="87.9" cy="43.9" r="0.3" fill="#eef2ea"/><circle cx="89.8" cy="45.2" r="0.3" fill="#eef2ea"/><circle cx="143.2" cy="66.6" r="0.6" fill="#eef2ea"/><circle cx="88.6" cy="44.6" r="0.5" fill="#dcdccc"/><circle cx="68.5" cy="88.8" r="0.3" fill="#dcdccc"/><circle cx="158.6" cy="53.5" r="0.5" fill="#dcdccc"/><circle cx="89.9" cy="40.8" r="0.5" fill="#dcdccc"/><circle cx="120.5" cy="45.4" r="0.5" fill="#dcdccc"/><circle cx="92.3" cy="45.2" r="0.4" fill="#eef2ea"/><circle cx="88.1" cy="45.1" r="0.5" fill="#eef2ea"/><circle cx="87.9" cy="44.8" r="0.5" fill="#dcdccc"/><circle cx="115.3" cy="51.4" r="0.7" fill="#eef2ea"/><circle cx="127.6" cy="75.9" r="0.6" fill="#eef2ea"/><circle cx="132.4" cy="100.8" r="0.7" fill="#dcdccc"/><circle cx="100.4" cy="41.7" r="0.4" fill="#dcdccc"/><circle cx="71.2" cy="73.1" r="0.5" fill="#dcdccc"/><circle cx="156.0" cy="53.0" r="0.7" fill="#eef2ea"/><circle cx="89.6" cy="42.3" r="0.6" fill="#dcdccc"/><circle cx="90.2" cy="46.6" r="0.4" fill="#dcdccc"/><circle cx="69.2" cy="65.4" r="0.3" fill="#eef2ea"/><circle cx="137.9" cy="61.3" r="0.7" fill="#dcdccc"/><circle cx="113.1" cy="45.4" r="0.7" fill="#eef2ea"/><circle cx="139.6" cy="49.7" r="0.6" fill="#dcdccc"/><circle cx="142.2" cy="113.0" r="0.7" fill="#dcdccc"/><circle cx="149.1" cy="90.2" r="0.4" fill="#dcdccc"/><circle cx="160.7" cy="60.8" r="0.8" fill="#dcdccc"/><circle cx="59.1" cy="81.6" r="0.7" fill="#eef2ea"/><circle cx="91.2" cy="43.1" r="0.7" fill="#dcdccc"/><circle cx="95.8" cy="43.5" r="0.7" fill="#dcdccc"/><circle cx="57.3" cy="80.0" r="0.6" fill="#eef2ea"/><circle cx="60.0" cy="92.2" r="0.4" fill="#dcdccc"/><circle cx="149.5" cy="57.3" r="0.7" fill="#eef2ea"/><circle cx="93.9" cy="42.4" r="0.3" fill="#eef2ea"/><circle cx="122.8" cy="84.1" r="0.7" fill="#dcdccc"/><circle cx="124.5" cy="47.0" r="0.7" fill="#dcdccc"/><circle cx="117.7" cy="45.0" r="0.8" fill="#eef2ea"/><circle cx="135.6" cy="98.1" r="0.7" fill="#dcdccc"/><circle cx="69.7" cy="67.9" r="0.5" fill="#eef2ea"/><circle cx="93.1" cy="42.7" r="0.5" fill="#eef2ea"/><circle cx="87.9" cy="42.6" r="0.5" fill="#dcdccc"/><circle cx="83.5" cy="90.0" r="0.5" fill="#dcdccc"/><circle cx="106.1" cy="59.8" r="0.7" fill="#eef2ea"/><circle cx="155.0" cy="53.2" r="0.7" fill="#eef2ea"/><circle cx="149.6" cy="58.1" r="0.5" fill="#dcdccc"/><circle cx="119.8" cy="61.9" r="0.3" fill="#eef2ea"/><circle cx="107.2" cy="47.1" r="0.6" fill="#eef2ea"/><circle cx="90.6" cy="45.2" r="0.3" fill="#eef2ea"/><circle cx="126.1" cy="51.8" r="0.7" fill="#eef2ea"/><circle cx="54.9" cy="84.6" r="0.5" fill="#eef2ea"/><circle cx="81.9" cy="53.5" r="0.8" fill="#dcdccc"/><circle cx="141.9" cy="55.4" r="0.5" fill="#dcdccc"/><circle cx="154.9" cy="52.8" r="0.4" fill="#eef2ea"/><circle cx="94.2" cy="45.5" r="0.5" fill="#dcdccc"/><circle cx="100.9" cy="44.3" r="0.8" fill="#dcdccc"/><circle cx="90.5" cy="45.3" r="0.5" fill="#dcdccc"/><circle cx="106.3" cy="53.9" r="0.5" fill="#eef2ea"/><circle cx="104.8" cy="48.3" r="0.4" fill="#dcdccc"/><circle cx="60.8" cy="91.1" r="0.6" fill="#eef2ea"/><circle cx="151.4" cy="52.7" r="0.3" fill="#dcdccc"/><circle cx="92.0" cy="46.4" r="0.4" fill="#dcdccc"/><circle cx="128.8" cy="50.4" r="0.4" fill="#eef2ea"/><circle cx="77.0" cy="59.8" r="0.6" fill="#dcdccc"/><circle cx="160.9" cy="54.9" r="0.4" fill="#eef2ea"/><circle cx="117.2" cy="66.0" r="0.3" fill="#dcdccc"/><circle cx="78.6" cy="60.0" r="0.8" fill="#eef2ea"/><circle cx="160.0" cy="69.0" r="0.7" fill="#dcdccc"/><circle cx="91.1" cy="41.5" r="0.8" fill="#eef2ea"/><circle cx="132.4" cy="51.6" r="0.4" fill="#dcdccc"/><circle cx="152.5" cy="63.8" r="0.7" fill="#dcdccc"/><circle cx="114.4" cy="47.5" r="0.8" fill="#dcdccc"/><circle cx="56.3" cy="77.7" r="0.7" fill="#dcdccc"/><circle cx="91.8" cy="73.1" r="0.6" fill="#eef2ea"/><circle cx="128.3" cy="54.3" r="0.5" fill="#eef2ea"/><circle cx="122.6" cy="100.0" r="0.3" fill="#eef2ea"/><circle cx="89.1" cy="42.3" r="0.3" fill="#dcdccc"/><circle cx="98.5" cy="41.5" r="0.6" fill="#dcdccc"/><circle cx="145.2" cy="90.1" r="0.6" fill="#eef2ea"/><circle cx="87.6" cy="64.6" r="0.6" fill="#dcdccc"/><circle cx="98.3" cy="46.9" r="0.5" fill="#eef2ea"/><circle cx="90.6" cy="41.1" r="0.4" fill="#eef2ea"/><circle cx="116.0" cy="45.9" r="0.6" fill="#dcdccc"/><circle cx="102.5" cy="53.6" r="0.4" fill="#dcdccc"/><circle cx="91.9" cy="45.3" r="0.7" fill="#eef2ea"/><circle cx="91.9" cy="45.5" r="0.4" fill="#dcdccc"/><circle cx="156.7" cy="52.6" r="0.4" fill="#eef2ea"/><circle cx="135.8" cy="51.2" r="0.4" fill="#dcdccc"/><circle cx="155.1" cy="52.4" r="0.5" fill="#dcdccc"/><circle cx="109.2" cy="80.7" r="0.6" fill="#eef2ea"/><circle cx="112.1" cy="44.4" r="0.3" fill="#dcdccc"/><circle cx="88.1" cy="44.4" r="0.4" fill="#eef2ea"/><circle cx="87.3" cy="43.7" r="0.6" fill="#dcdccc"/><circle cx="121.0" cy="54.1" r="0.6" fill="#dcdccc"/><circle cx="129.3" cy="84.3" r="0.6" fill="#eef2ea"/><circle cx="97.6" cy="63.3" r="0.7" fill="#eef2ea"/><circle cx="111.8" cy="52.5" r="0.5" fill="#eef2ea"/><circle cx="116.8" cy="48.9" r="0.6" fill="#dcdccc"/><circle cx="154.8" cy="83.9" r="0.5" fill="#dcdccc"/><circle cx="67.3" cy="74.7" r="0.8" fill="#dcdccc"/><circle cx="72.5" cy="58.7" r="0.4" fill="#eef2ea"/><circle cx="74.0" cy="66.7" r="0.3" fill="#eef2ea"/><circle cx="148.3" cy="79.9" r="0.4" fill="#dcdccc"/><circle cx="107.7" cy="60.2" r="0.8" fill="#eef2ea"/><circle cx="146.9" cy="57.9" r="0.4" fill="#eef2ea"/><circle cx="158.0" cy="56.6" r="0.4" fill="#eef2ea"/><circle cx="119.6" cy="49.7" r="0.7" fill="#eef2ea"/><circle cx="68.6" cy="93.8" r="0.4" fill="#dcdccc"/><circle cx="94.2" cy="101.6" r="0.5" fill="#dcdccc"/><circle cx="116.1" cy="51.2" r="0.4" fill="#eef2ea"/><circle cx="86.8" cy="44.0" r="0.7" fill="#dcdccc"/><circle cx="58.0" cy="79.3" r="0.8" fill="#dcdccc"/><circle cx="89.0" cy="42.5" r="0.6" fill="#eef2ea"/><circle cx="51.5" cy="85.2" r="0.5" fill="#eef2ea"/><circle cx="121.0" cy="46.6" r="0.5" fill="#eef2ea"/><circle cx="133.9" cy="49.4" r="0.6" fill="#eef2ea"/><circle cx="87.7" cy="45.0" r="0.5" fill="#eef2ea"/><circle cx="87.4" cy="43.3" r="0.3" fill="#eef2ea"/><circle cx="94.4" cy="55.9" r="0.4" fill="#eef2ea"/><circle cx="105.0" cy="75.4" r="0.7" fill="#eef2ea"/><circle cx="54.6" cy="79.9" r="0.6" fill="#dcdccc"/><circle cx="74.6" cy="93.3" r="0.8" fill="#dcdccc"/><circle cx="93.4" cy="40.5" r="0.7" fill="#dcdccc"/><circle cx="132.9" cy="67.8" r="0.5" fill="#dcdccc"/><circle cx="74.5" cy="64.6" r="0.4" fill="#dcdccc"/><circle cx="77.2" cy="55.4" r="0.6" fill="#dcdccc"/><circle cx="88.1" cy="45.0" r="0.8" fill="#dcdccc"/><circle cx="80.6" cy="58.4" r="0.5" fill="#eef2ea"/><circle cx="143.0" cy="58.5" r="0.7" fill="#dcdccc"/><circle cx="90.4" cy="42.0" r="0.7" fill="#eef2ea"/><circle cx="93.9" cy="41.0" r="0.4" fill="#eef2ea"/><circle cx="81.1" cy="85.2" r="0.6" fill="#dcdccc"/><circle cx="91.0" cy="91.1" r="0.8" fill="#eef2ea"/><circle cx="90.5" cy="43.8" r="0.5" fill="#eef2ea"/><circle cx="102.9" cy="42.8" r="0.6" fill="#eef2ea"/><circle cx="100.2" cy="80.2" r="0.7" fill="#dcdccc"/><circle cx="108.5" cy="70.5" r="0.7" fill="#dcdccc"/><circle cx="60.7" cy="80.9" r="0.6" fill="#eef2ea"/><circle cx="92.7" cy="44.6" r="0.6" fill="#eef2ea"/><circle cx="82.4" cy="55.3" r="0.7" fill="#eef2ea"/><circle cx="51.4" cy="84.7" r="0.7" fill="#eef2ea"/><circle cx="97.6" cy="88.1" r="0.6" fill="#dcdccc"/><circle cx="124.2" cy="50.3" r="0.6" fill="#eef2ea"/><circle cx="55.2" cy="88.9" r="0.5" fill="#eef2ea"/><circle cx="91.9" cy="43.8" r="0.4" fill="#eef2ea"/><circle cx="89.6" cy="40.9" r="0.6" fill="#dcdccc"/><circle cx="151.0" cy="53.9" r="0.8" fill="#eef2ea"/><circle cx="71.3" cy="60.9" r="0.5" fill="#dcdccc"/><circle cx="118.3" cy="46.0" r="0.3" fill="#dcdccc"/><circle cx="83.3" cy="48.3" r="0.5" fill="#dcdccc"/><circle cx="137.8" cy="109.1" r="0.3" fill="#dcdccc"/><circle cx="129.3" cy="54.3" r="0.7" fill="#eef2ea"/><circle cx="57.5" cy="82.5" r="0.4" fill="#eef2ea"/><circle cx="48.8" cy="87.2" r="0.8" fill="#dcdccc"/><circle cx="112.6" cy="47.4" r="0.8" fill="#dcdccc"/><circle cx="114.4" cy="93.2" r="0.7" fill="#eef2ea"/><circle cx="136.0" cy="51.5" r="0.5" fill="#eef2ea"/><circle cx="114.1" cy="102.3" r="0.6" fill="#eef2ea"/><circle cx="82.2" cy="85.3" r="0.5" fill="#eef2ea"/><circle cx="138.8" cy="56.3" r="0.6" fill="#eef2ea"/><circle cx="73.1" cy="62.7" r="0.4" fill="#dcdccc"/><circle cx="133.2" cy="52.7" r="0.6" fill="#eef2ea"/><circle cx="64.6" cy="67.6" r="0.5" fill="#eef2ea"/><circle cx="89.0" cy="41.8" r="0.3" fill="#dcdccc"/><circle cx="100.7" cy="100.0" r="0.4" fill="#dcdccc"/><circle cx="147.3" cy="57.6" r="0.6" fill="#dcdccc"/><circle cx="119.3" cy="59.5" r="0.7" fill="#eef2ea"/><circle cx="143.1" cy="113.1" r="0.6" fill="#dcdccc"/><circle cx="91.2" cy="85.7" r="0.4" fill="#eef2ea"/><circle cx="72.7" cy="65.7" r="0.8" fill="#dcdccc"/><circle cx="110.3" cy="46.2" r="0.8" fill="#dcdccc"/><circle cx="127.9" cy="49.2" r="0.6" fill="#eef2ea"/><circle cx="87.3" cy="45.1" r="0.5" fill="#dcdccc"/><circle cx="101.4" cy="46.1" r="0.4" fill="#dcdccc"/><circle cx="158.5" cy="57.1" r="0.6" fill="#dcdccc"/><circle cx="88.3" cy="43.7" r="0.4" fill="#eef2ea"/><circle cx="64.8" cy="70.8" r="0.7" fill="#eef2ea"/><circle cx="135.2" cy="53.4" r="0.4" fill="#dcdccc"/><circle cx="82.4" cy="49.9" r="0.5" fill="#eef2ea"/><circle cx="91.8" cy="42.7" r="0.3" fill="#dcdccc"/><circle cx="156.5" cy="58.2" r="0.7" fill="#dcdccc"/><circle cx="95.4" cy="100.9" r="0.6" fill="#dcdccc"/><circle cx="131.2" cy="54.2" r="0.5" fill="#eef2ea"/><circle cx="94.8" cy="68.2" r="0.8" fill="#eef2ea"/><circle cx="61.9" cy="72.8" r="0.5" fill="#dcdccc"/><circle cx="128.9" cy="52.9" r="0.7" fill="#eef2ea"/><circle cx="137.4" cy="52.3" r="0.6" fill="#dcdccc"/><circle cx="121.9" cy="50.1" r="0.6" fill="#eef2ea"/><circle cx="126.8" cy="47.5" r="0.6" fill="#dcdccc"/><circle cx="68.6" cy="69.5" r="0.4" fill="#eef2ea"/><circle cx="159.1" cy="57.9" r="0.7" fill="#dcdccc"/><circle cx="88.6" cy="43.4" r="0.3" fill="#dcdccc"/><circle cx="133.3" cy="81.7" r="0.5" fill="#eef2ea"/><circle cx="106.0" cy="46.6" r="0.5" fill="#eef2ea"/><circle cx="122.6" cy="49.2" r="0.3" fill="#dcdccc"/><circle cx="70.3" cy="71.9" r="0.5" fill="#eef2ea"/><circle cx="55.3" cy="86.5" r="0.6" fill="#eef2ea"/><circle cx="93.2" cy="40.9" r="0.4" fill="#eef2ea"/><circle cx="118.5" cy="48.4" r="0.4" fill="#eef2ea"/><circle cx="117.5" cy="49.8" r="0.6" fill="#eef2ea"/><circle cx="94.0" cy="44.2" r="0.5" fill="#eef2ea"/><circle cx="91.1" cy="40.4" r="0.6" fill="#eef2ea"/><circle cx="123.9" cy="52.7" r="0.6" fill="#eef2ea"/><circle cx="84.6" cy="55.4" r="0.4" fill="#dcdccc"/><circle cx="160.0" cy="57.9" r="0.8" fill="#dcdccc"/><circle cx="87.6" cy="43.0" r="0.6" fill="#dcdccc"/><circle cx="149.9" cy="53.5" r="0.6" fill="#dcdccc"/><circle cx="94.7" cy="40.8" r="0.3" fill="#eef2ea"/><circle cx="159.1" cy="62.5" r="0.3" fill="#dcdccc"/><circle cx="116.2" cy="55.6" r="0.5" fill="#eef2ea"/><circle cx="120.3" cy="52.1" r="0.5" fill="#dcdccc"/><circle cx="88.7" cy="84.9" r="0.7" fill="#dcdccc"/><circle cx="52.7" cy="79.5" r="0.5" fill="#eef2ea"/><circle cx="107.1" cy="99.6" r="0.7" fill="#dcdccc"/><circle cx="145.9" cy="88.9" r="0.6" fill="#dcdccc"/><circle cx="90.7" cy="43.0" r="0.5" fill="#dcdccc"/><circle cx="103.0" cy="46.7" r="0.4" fill="#dcdccc"/><circle cx="161.4" cy="59.4" r="0.6" fill="#dcdccc"/><circle cx="146.6" cy="107.5" r="0.6" fill="#eef2ea"/><circle cx="162.9" cy="58.4" r="0.6" fill="#eef2ea"/><circle cx="128.3" cy="84.1" r="0.3" fill="#eef2ea"/><circle cx="64.6" cy="70.3" r="0.8" fill="#eef2ea"/><circle cx="161.6" cy="59.6" r="0.8" fill="#dcdccc"/><circle cx="110.0" cy="48.2" r="0.5" fill="#eef2ea"/><circle cx="63.2" cy="74.3" r="0.8" fill="#dcdccc"/><circle cx="92.9" cy="45.1" r="0.6" fill="#dcdccc"/><circle cx="62.5" cy="88.0" r="0.7" fill="#eef2ea"/><circle cx="93.5" cy="41.6" r="0.6" fill="#eef2ea"/><circle cx="134.1" cy="48.7" r="0.5" fill="#dcdccc"/><circle cx="133.3" cy="48.4" r="0.6" fill="#eef2ea"/><circle cx="126.1" cy="52.0" r="0.7" fill="#eef2ea"/><circle cx="88.7" cy="47.1" r="0.4" fill="#dcdccc"/><circle cx="73.0" cy="60.5" r="0.5" fill="#eef2ea"/><circle cx="91.3" cy="43.9" r="0.3" fill="#dcdccc"/><circle cx="145.8" cy="84.3" r="0.5" fill="#dcdccc"/><circle cx="79.7" cy="51.2" r="0.5" fill="#dcdccc"/><circle cx="142.3" cy="77.8" r="0.6" fill="#dcdccc"/><circle cx="87.5" cy="43.8" r="0.3" fill="#eef2ea"/><circle cx="90.8" cy="41.1" r="0.7" fill="#eef2ea"/><circle cx="98.0" cy="44.5" r="0.7" fill="#eef2ea"/><circle cx="91.0" cy="42.5" r="0.4" fill="#eef2ea"/><circle cx="119.3" cy="48.7" r="0.5" fill="#dcdccc"/><circle cx="97.1" cy="55.4" r="0.7" fill="#dcdccc"/><circle cx="52.1" cy="88.5" r="0.6" fill="#dcdccc"/><circle cx="115.5" cy="74.6" r="0.7" fill="#eef2ea"/><circle cx="88.8" cy="45.3" r="0.8" fill="#dcdccc"/><circle cx="95.5" cy="41.7" r="0.6" fill="#dcdccc"/><circle cx="54.0" cy="85.7" r="0.4" fill="#dcdccc"/><circle cx="124.9" cy="92.7" r="0.7" fill="#dcdccc"/><circle cx="150.9" cy="53.4" r="0.4" fill="#eef2ea"/><circle cx="86.2" cy="97.5" r="0.7" fill="#dcdccc"/><circle cx="78.0" cy="60.9" r="0.3" fill="#dcdccc"/><circle cx="125.8" cy="57.1" r="0.4" fill="#dcdccc"/><circle cx="112.8" cy="71.4" r="0.6" fill="#dcdccc"/><circle cx="59.3" cy="79.3" r="0.7" fill="#eef2ea"/><circle cx="100.9" cy="43.3" r="0.6" fill="#eef2ea"/><circle cx="95.8" cy="45.8" r="0.3" fill="#dcdccc"/><circle cx="102.8" cy="45.4" r="0.8" fill="#eef2ea"/><circle cx="130.7" cy="110.2" r="0.3" fill="#dcdccc"/><circle cx="56.2" cy="76.7" r="0.7" fill="#eef2ea"/><circle cx="119.8" cy="66.1" r="0.5" fill="#eef2ea"/><circle cx="88.2" cy="44.5" r="0.4" fill="#eef2ea"/><circle cx="130.9" cy="76.3" r="0.3" fill="#dcdccc"/><circle cx="128.3" cy="47.2" r="0.6" fill="#eef2ea"/><circle cx="115.8" cy="46.7" r="0.6" fill="#dcdccc"/><circle cx="127.5" cy="71.2" r="0.7" fill="#eef2ea"/><circle cx="162.0" cy="60.1" r="0.5" fill="#dcdccc"/><circle cx="53.2" cy="83.4" r="0.8" fill="#dcdccc"/><circle cx="93.7" cy="42.3" r="0.6" fill="#dcdccc"/><circle cx="158.4" cy="53.6" r="0.8" fill="#dcdccc"/><circle cx="66.6" cy="75.0" r="0.4" fill="#dcdccc"/><circle cx="134.1" cy="50.7" r="0.5" fill="#dcdccc"/><circle cx="62.1" cy="75.8" r="0.5" fill="#dcdccc"/><circle cx="87.8" cy="43.7" r="0.6" fill="#eef2ea"/><circle cx="85.2" cy="50.5" r="0.3" fill="#eef2ea"/><circle cx="92.8" cy="42.3" r="0.3" fill="#eef2ea"/><circle cx="46.3" cy="88.4" r="0.7" fill="#eef2ea"/><circle cx="143.6" cy="55.9" r="0.8" fill="#eef2ea"/><circle cx="119.7" cy="104.7" r="0.7" fill="#eef2ea"/><circle cx="101.8" cy="76.8" r="0.3" fill="#dcdccc"/><circle cx="137.6" cy="52.3" r="0.7" fill="#eef2ea"/><circle cx="95.0" cy="41.0" r="0.4" fill="#eef2ea"/><circle cx="62.8" cy="72.0" r="0.5" fill="#dcdccc"/><circle cx="146.7" cy="107.5" r="0.7" fill="#eef2ea"/><circle cx="154.3" cy="52.2" r="0.7" fill="#eef2ea"/><circle cx="101.0" cy="46.6" r="0.5" fill="#eef2ea"/><circle cx="93.1" cy="99.9" r="0.3" fill="#dcdccc"/><circle cx="127.4" cy="81.5" r="0.5" fill="#eef2ea"/><circle cx="157.3" cy="59.6" r="0.7" fill="#eef2ea"/><circle cx="58.4" cy="75.4" r="0.6" fill="#dcdccc"/><circle cx="145.0" cy="86.2" r="0.5" fill="#dcdccc"/><circle cx="80.1" cy="50.8" r="0.5" fill="#dcdccc"/><circle cx="134.5" cy="53.4" r="0.5" fill="#dcdccc"/><circle cx="137.9" cy="53.2" r="0.5" fill="#dcdccc"/><circle cx="130.7" cy="72.8" r="0.6" fill="#eef2ea"/><circle cx="119.8" cy="51.6" r="0.5" fill="#dcdccc"/><circle cx="132.4" cy="71.0" r="0.8" fill="#eef2ea"/><circle cx="149.9" cy="64.5" r="0.7" fill="#dcdccc"/><circle cx="66.9" cy="67.7" r="0.7" fill="#eef2ea"/><circle cx="91.7" cy="42.2" r="0.5" fill="#dcdccc"/><circle cx="119.2" cy="47.5" r="0.6" fill="#dcdccc"/><circle cx="47.1" cy="85.0" r="0.4" fill="#dcdccc"/><circle cx="150.1" cy="59.3" r="0.6" fill="#dcdccc"/><circle cx="88.4" cy="45.6" r="0.6" fill="#dcdccc"/><circle cx="65.7" cy="65.6" r="0.4" fill="#dcdccc"/><circle cx="92.7" cy="74.7" r="0.8" fill="#dcdccc"/><circle cx="66.5" cy="66.9" r="0.6" fill="#eef2ea"/><circle cx="76.2" cy="61.3" r="0.5" fill="#dcdccc"/><circle cx="96.5" cy="42.8" r="0.8" fill="#dcdccc"/><circle cx="121.8" cy="71.7" r="0.4" fill="#dcdccc"/><circle cx="89.7" cy="84.6" r="0.6" fill="#dcdccc"/><circle cx="139.4" cy="106.8" r="0.7" fill="#eef2ea"/><circle cx="89.4" cy="43.7" r="0.4" fill="#dcdccc"/><circle cx="124.5" cy="46.4" r="0.4" fill="#dcdccc"/><circle cx="119.5" cy="50.7" r="0.7" fill="#eef2ea"/><circle cx="123.4" cy="78.8" r="0.5" fill="#dcdccc"/><circle cx="78.4" cy="73.3" r="0.6" fill="#dcdccc"/><circle cx="129.8" cy="93.2" r="0.5" fill="#dcdccc"/><circle cx="95.6" cy="45.2" r="0.4" fill="#dcdccc"/><circle cx="48.0" cy="88.6" r="0.7" fill="#dcdccc"/><circle cx="82.6" cy="65.7" r="0.4" fill="#eef2ea"/><circle cx="90.9" cy="44.4" r="0.5" fill="#dcdccc"/><circle cx="115.2" cy="92.2" r="0.5" fill="#eef2ea"/><circle cx="90.7" cy="43.1" r="0.5" fill="#dcdccc"/><circle cx="155.9" cy="53.3" r="0.4" fill="#eef2ea"/><circle cx="83.2" cy="50.4" r="0.5" fill="#dcdccc"/><circle cx="75.6" cy="75.9" r="0.3" fill="#eef2ea"/><circle cx="86.5" cy="50.7" r="0.5" fill="#eef2ea"/><circle cx="159.4" cy="57.6" r="0.5" fill="#dcdccc"/><circle cx="78.2" cy="59.8" r="0.5" fill="#dcdccc"/><circle cx="136.4" cy="74.8" r="0.4" fill="#dcdccc"/><circle cx="90.2" cy="44.8" r="0.5" fill="#dcdccc"/><circle cx="91.7" cy="45.6" r="0.5" fill="#dcdccc"/><circle cx="95.2" cy="59.9" r="0.7" fill="#dcdccc"/><circle cx="99.9" cy="64.9" r="0.6" fill="#dcdccc"/><circle cx="131.3" cy="54.9" r="0.3" fill="#eef2ea"/><circle cx="78.5" cy="58.8" r="0.5" fill="#eef2ea"/><circle cx="84.4" cy="72.5" r="0.5" fill="#dcdccc"/><circle cx="140.2" cy="53.5" r="0.3" fill="#dcdccc"/><circle cx="81.3" cy="83.1" r="0.4" fill="#eef2ea"/><circle cx="154.5" cy="56.7" r="0.6" fill="#dcdccc"/><circle cx="78.6" cy="83.2" r="0.7" fill="#dcdccc"/><circle cx="147.1" cy="52.9" r="0.6" fill="#eef2ea"/><circle cx="90.9" cy="42.5" r="0.7" fill="#eef2ea"/><circle cx="74.5" cy="89.7" r="0.5" fill="#eef2ea"/><circle cx="91.6" cy="42.8" r="0.4" fill="#eef2ea"/><circle cx="83.3" cy="78.7" r="0.6" fill="#dcdccc"/><circle cx="83.9" cy="54.1" r="0.5" fill="#eef2ea"/><circle cx="107.0" cy="44.3" r="0.7" fill="#eef2ea"/><circle cx="89.8" cy="71.8" r="0.4" fill="#eef2ea"/><circle cx="105.1" cy="96.8" r="0.8" fill="#dcdccc"/><circle cx="69.2" cy="73.6" r="0.6" fill="#dcdccc"/><circle cx="94.1" cy="42.7" r="0.7" fill="#eef2ea"/><circle cx="143.3" cy="59.4" r="0.8" fill="#eef2ea"/><circle cx="109.6" cy="88.3" r="0.7" fill="#eef2ea"/><circle cx="54.1" cy="82.6" r="0.3" fill="#eef2ea"/><circle cx="95.5" cy="40.5" r="0.7" fill="#eef2ea"/><circle cx="125.1" cy="89.6" r="0.7" fill="#dcdccc"/><circle cx="115.7" cy="53.7" r="0.7" fill="#dcdccc"/><circle cx="76.6" cy="96.0" r="0.3" fill="#eef2ea"/><circle cx="98.3" cy="47.7" r="0.4" fill="#eef2ea"/><circle cx="162.2" cy="58.8" r="0.5" fill="#eef2ea"/><circle cx="100.3" cy="49.3" r="0.6" fill="#dcdccc"/><circle cx="107.5" cy="90.0" r="0.7" fill="#dcdccc"/><circle cx="112.8" cy="60.2" r="0.5" fill="#dcdccc"/><circle cx="163.0" cy="57.4" r="0.5" fill="#eef2ea"/><circle cx="108.3" cy="57.9" r="0.3" fill="#eef2ea"/><circle cx="70.8" cy="65.4" r="0.5" fill="#dcdccc"/><circle cx="58.6" cy="76.2" r="0.7" fill="#dcdccc"/><circle cx="149.2" cy="56.5" r="0.5" fill="#dcdccc"/><circle cx="59.6" cy="83.5" r="0.5" fill="#eef2ea"/><circle cx="145.7" cy="58.7" r="0.6" fill="#eef2ea"/><circle cx="59.4" cy="78.6" r="0.7" fill="#eef2ea"/><circle cx="156.2" cy="59.0" r="0.6" fill="#dcdccc"/><circle cx="115.3" cy="80.5" r="0.7" fill="#eef2ea"/><circle cx="124.9" cy="90.4" r="0.4" fill="#eef2ea"/><circle cx="61.5" cy="90.2" r="0.8" fill="#eef2ea"/><circle cx="124.1" cy="53.5" r="0.4" fill="#dcdccc"/><circle cx="75.4" cy="57.4" r="0.4" fill="#dcdccc"/><circle cx="154.5" cy="54.9" r="0.8" fill="#eef2ea"/><circle cx="95.6" cy="45.6" r="0.3" fill="#dcdccc"/><circle cx="88.2" cy="54.4" r="0.3" fill="#dcdccc"/><circle cx="90.3" cy="40.6" r="0.4" fill="#dcdccc"/><circle cx="114.4" cy="90.7" r="0.4" fill="#eef2ea"/><circle cx="64.1" cy="75.3" r="0.4" fill="#dcdccc"/><circle cx="87.3" cy="48.1" r="0.7" fill="#dcdccc"/><circle cx="108.0" cy="84.1" r="0.6" fill="#eef2ea"/><circle cx="92.9" cy="98.6" r="0.5" fill="#dcdccc"/><circle cx="151.5" cy="56.9" r="0.5" fill="#eef2ea"/><circle cx="136.6" cy="98.1" r="0.3" fill="#dcdccc"/><circle cx="113.0" cy="46.5" r="0.5" fill="#eef2ea"/><circle cx="100.2" cy="43.7" r="0.5" fill="#dcdccc"/><circle cx="90.2" cy="42.4" r="0.6" fill="#eef2ea"/><circle cx="113.7" cy="76.5" r="0.3" fill="#dcdccc"/><circle cx="158.5" cy="54.0" r="0.5" fill="#dcdccc"/><circle cx="100.9" cy="45.8" r="0.7" fill="#eef2ea"/><circle cx="92.3" cy="40.6" r="0.4" fill="#dcdccc"/><circle cx="72.5" cy="64.0" r="0.3" fill="#dcdccc"/><circle cx="93.7" cy="43.6" r="0.7" fill="#eef2ea"/><circle cx="118.8" cy="101.5" r="0.7" fill="#eef2ea"/><circle cx="97.0" cy="52.5" r="0.3" fill="#dcdccc"/><circle cx="84.7" cy="54.3" r="0.4" fill="#dcdccc"/><circle cx="98.4" cy="75.3" r="0.4" fill="#dcdccc"/><circle cx="82.6" cy="52.2" r="0.4" fill="#eef2ea"/><circle cx="155.6" cy="65.2" r="0.6" fill="#dcdccc"/><circle cx="69.1" cy="62.4" r="0.4" fill="#dcdccc"/><circle cx="132.6" cy="52.3" r="0.7" fill="#dcdccc"/><circle cx="96.7" cy="41.3" r="0.6" fill="#eef2ea"/><circle cx="87.3" cy="44.8" r="0.7" fill="#eef2ea"/><circle cx="51.8" cy="90.0" r="0.3" fill="#dcdccc"/><circle cx="135.4" cy="54.5" r="0.4" fill="#eef2ea"/><circle cx="90.5" cy="41.6" r="0.5" fill="#eef2ea"/><circle cx="118.8" cy="48.7" r="0.3" fill="#eef2ea"/><circle cx="102.0" cy="88.8" r="0.4" fill="#dcdccc"/><circle cx="73.9" cy="72.4" r="0.8" fill="#dcdccc"/><circle cx="121.8" cy="52.5" r="0.5" fill="#dcdccc"/><circle cx="140.0" cy="50.2" r="0.7" fill="#eef2ea"/><circle cx="137.6" cy="50.0" r="0.4" fill="#dcdccc"/><circle cx="89.9" cy="42.3" r="0.7" fill="#eef2ea"/><circle cx="123.4" cy="81.5" r="0.6" fill="#eef2ea"/><circle cx="122.3" cy="109.1" r="0.8" fill="#eef2ea"/><circle cx="136.2" cy="55.9" r="0.6" fill="#eef2ea"/><circle cx="110.2" cy="44.2" r="0.5" fill="#eef2ea"/><circle cx="159.7" cy="53.8" r="0.6" fill="#dcdccc"/><circle cx="72.2" cy="91.0" r="0.5" fill="#eef2ea"/><circle cx="47.1" cy="89.3" r="0.5" fill="#eef2ea"/><circle cx="107.9" cy="69.9" r="0.7" fill="#eef2ea"/><circle cx="146.8" cy="57.0" r="0.6" fill="#eef2ea"/><circle cx="138.2" cy="50.2" r="0.5" fill="#eef2ea"/><circle cx="83.4" cy="74.7" r="0.4" fill="#dcdccc"/><circle cx="142.8" cy="51.4" r="0.8" fill="#eef2ea"/><circle cx="149.4" cy="57.2" r="0.6" fill="#eef2ea"/><circle cx="161.7" cy="61.3" r="0.4" fill="#eef2ea"/><circle cx="152.5" cy="51.8" r="0.3" fill="#eef2ea"/><circle cx="154.3" cy="53.9" r="0.8" fill="#eef2ea"/><circle cx="113.9" cy="50.4" r="0.8" fill="#eef2ea"/><circle cx="91.0" cy="39.6" r="0.5" fill="#dcdccc"/><circle cx="55.8" cy="77.4" r="0.7" fill="#eef2ea"/><circle cx="115.5" cy="47.1" r="0.5" fill="#dcdccc"/><circle cx="108.8" cy="55.4" r="0.8" fill="#eef2ea"/><circle cx="104.2" cy="43.3" r="0.3" fill="#dcdccc"/><circle cx="151.9" cy="65.7" r="0.8" fill="#dcdccc"/><circle cx="81.5" cy="51.3" r="0.5" fill="#eef2ea"/><circle cx="76.7" cy="76.0" r="0.6" fill="#dcdccc"/><circle cx="143.8" cy="51.3" r="0.5" fill="#eef2ea"/><circle cx="89.3" cy="45.2" r="0.5" fill="#eef2ea"/><circle cx="104.2" cy="42.1" r="0.7" fill="#dcdccc"/><circle cx="48.7" cy="86.8" r="0.4" fill="#dcdccc"/><circle cx="141.4" cy="96.7" r="0.3" fill="#dcdccc"/><circle cx="87.7" cy="44.0" r="0.4" fill="#dcdccc"/><circle cx="92.4" cy="40.5" r="0.5" fill="#dcdccc"/><circle cx="95.0" cy="46.5" r="0.4" fill="#dcdccc"/><circle cx="68.0" cy="88.6" r="0.6" fill="#dcdccc"/><circle cx="161.0" cy="58.1" r="0.4" fill="#dcdccc"/><circle cx="109.2" cy="44.8" r="0.5" fill="#eef2ea"/><circle cx="125.2" cy="50.0" r="0.6" fill="#eef2ea"/><circle cx="93.3" cy="42.5" r="0.8" fill="#dcdccc"/><circle cx="54.2" cy="79.8" r="0.7" fill="#eef2ea"/><circle cx="155.7" cy="64.4" r="0.6" fill="#dcdccc"/><circle cx="94.6" cy="45.6" r="0.4" fill="#dcdccc"/><circle cx="62.5" cy="74.6" r="0.4" fill="#eef2ea"/><circle cx="122.2" cy="84.8" r="0.3" fill="#dcdccc"/><circle cx="146.0" cy="56.5" r="0.7" fill="#eef2ea"/><circle cx="151.3" cy="53.1" r="0.7" fill="#dcdccc"/><circle cx="101.6" cy="60.3" r="0.4" fill="#dcdccc"/><circle cx="139.6" cy="67.5" r="0.7" fill="#dcdccc"/><circle cx="92.0" cy="43.4" r="0.3" fill="#eef2ea"/><circle cx="140.3" cy="53.1" r="0.6" fill="#dcdccc"/><circle cx="105.7" cy="44.5" r="0.8" fill="#dcdccc"/><circle cx="137.5" cy="52.9" r="0.4" fill="#eef2ea"/><circle cx="158.1" cy="52.8" r="0.4" fill="#eef2ea"/><circle cx="111.8" cy="84.5" r="0.8" fill="#eef2ea"/><circle cx="64.2" cy="88.1" r="0.6" fill="#dcdccc"/><circle cx="92.1" cy="53.6" r="0.6" fill="#dcdccc"/><circle cx="91.8" cy="42.8" r="0.8" fill="#eef2ea"/><circle cx="83.2" cy="81.1" r="0.5" fill="#dcdccc"/><circle cx="106.6" cy="78.7" r="0.4" fill="#dcdccc"/><circle cx="92.3" cy="41.1" r="0.4" fill="#dcdccc"/><circle cx="152.4" cy="88.2" r="0.4" fill="#eef2ea"/><circle cx="118.2" cy="46.3" r="0.4" fill="#dcdccc"/><circle cx="118.0" cy="50.2" r="0.6" fill="#eef2ea"/><circle cx="122.7" cy="70.1" r="0.8" fill="#dcdccc"/><circle cx="137.8" cy="59.0" r="0.7" fill="#eef2ea"/><circle cx="102.8" cy="54.1" r="0.5" fill="#dcdccc"/><circle cx="107.4" cy="88.2" r="0.4" fill="#dcdccc"/><circle cx="134.2" cy="64.6" r="0.7" fill="#dcdccc"/><circle cx="120.3" cy="82.9" r="0.6" fill="#dcdccc"/><circle cx="103.5" cy="44.2" r="0.6" fill="#eef2ea"/><circle cx="91.4" cy="39.5" r="0.6" fill="#eef2ea"/><circle cx="158.0" cy="53.7" r="0.7" fill="#dcdccc"/><circle cx="85.8" cy="46.1" r="0.4" fill="#eef2ea"/><circle cx="161.3" cy="61.0" r="0.7" fill="#dcdccc"/><circle cx="132.7" cy="63.3" r="0.3" fill="#dcdccc"/><circle cx="104.3" cy="47.7" r="0.3" fill="#dcdccc"/><circle cx="123.0" cy="52.5" r="0.6" fill="#eef2ea"/><circle cx="54.7" cy="88.8" r="0.6" fill="#eef2ea"/><circle cx="147.8" cy="52.0" r="0.8" fill="#dcdccc"/><circle cx="111.8" cy="105.2" r="0.4" fill="#eef2ea"/><circle cx="80.0" cy="57.4" r="0.6" fill="#dcdccc"/><circle cx="95.3" cy="42.2" r="0.3" fill="#eef2ea"/><circle cx="108.6" cy="44.5" r="0.3" fill="#dcdccc"/><circle cx="69.1" cy="63.9" r="0.5" fill="#eef2ea"/><circle cx="155.9" cy="58.6" r="0.6" fill="#dcdccc"/><circle cx="128.7" cy="52.4" r="0.4" fill="#eef2ea"/><circle cx="129.8" cy="51.9" r="0.3" fill="#eef2ea"/><circle cx="96.2" cy="99.2" r="0.7" fill="#dcdccc"/><circle cx="160.2" cy="62.1" r="0.4" fill="#eef2ea"/><circle cx="96.6" cy="42.6" r="0.3" fill="#eef2ea"/><circle cx="146.5" cy="68.0" r="0.4" fill="#eef2ea"/><circle cx="109.7" cy="48.3" r="0.6" fill="#dcdccc"/><circle cx="149.0" cy="57.7" r="0.4" fill="#eef2ea"/><circle cx="49.2" cy="84.9" r="0.7" fill="#eef2ea"/><circle cx="141.6" cy="57.1" r="0.7" fill="#eef2ea"/><circle cx="113.9" cy="48.5" r="0.4" fill="#dcdccc"/><circle cx="120.9" cy="46.3" r="0.7" fill="#eef2ea"/><circle cx="86.3" cy="76.1" r="0.6" fill="#eef2ea"/><circle cx="92.4" cy="42.6" r="0.6" fill="#dcdccc"/><circle cx="101.5" cy="56.8" r="0.6" fill="#eef2ea"/><circle cx="117.7" cy="48.2" r="0.4" fill="#dcdccc"/><circle cx="77.4" cy="71.5" r="0.3" fill="#eef2ea"/><circle cx="121.5" cy="47.1" r="0.8" fill="#dcdccc"/><circle cx="133.2" cy="79.7" r="0.7" fill="#dcdccc"/><circle cx="97.0" cy="42.0" r="0.7" fill="#dcdccc"/><circle cx="147.4" cy="54.4" r="0.4" fill="#dcdccc"/><circle cx="114.2" cy="46.9" r="0.6" fill="#dcdccc"/><circle cx="116.9" cy="88.0" r="0.5" fill="#eef2ea"/><circle cx="93.2" cy="41.6" r="0.6" fill="#eef2ea"/><circle cx="63.4" cy="73.5" r="0.5" fill="#dcdccc"/><circle cx="106.9" cy="100.6" r="0.6" fill="#dcdccc"/><circle cx="129.8" cy="52.1" r="0.6" fill="#dcdccc"/><circle cx="113.2" cy="44.9" r="0.6" fill="#dcdccc"/><circle cx="88.8" cy="46.0" r="0.5" fill="#eef2ea"/><circle cx="67.9" cy="68.0" r="0.8" fill="#dcdccc"/><circle cx="91.3" cy="41.4" r="0.7" fill="#eef2ea"/><circle cx="91.7" cy="65.7" r="0.5" fill="#dcdccc"/><circle cx="88.3" cy="45.5" r="0.3" fill="#eef2ea"/><circle cx="63.1" cy="83.3" r="0.4" fill="#dcdccc"/><circle cx="56.5" cy="86.0" r="0.4" fill="#dcdccc"/><circle cx="57.7" cy="81.9" r="0.5" fill="#eef2ea"/><circle cx="64.4" cy="81.0" r="0.6" fill="#dcdccc"/><circle cx="87.7" cy="43.1" r="0.8" fill="#dcdccc"/><circle cx="136.4" cy="52.8" r="0.6" fill="#dcdccc"/><circle cx="91.0" cy="43.1" r="0.7" fill="#eef2ea"/><circle cx="52.0" cy="87.7" r="0.7" fill="#eef2ea"/><circle cx="134.9" cy="51.6" r="0.4" fill="#dcdccc"/><circle cx="92.7" cy="42.9" r="0.6" fill="#dcdccc"/><circle cx="140.8" cy="51.3" r="0.8" fill="#dcdccc"/><circle cx="146.6" cy="65.7" r="0.5" fill="#dcdccc"/><circle cx="92.6" cy="45.9" r="0.7" fill="#eef2ea"/><circle cx="65.4" cy="67.6" r="0.3" fill="#dcdccc"/><circle cx="101.6" cy="89.0" r="0.7" fill="#eef2ea"/><circle cx="51.8" cy="85.0" r="0.3" fill="#dcdccc"/><circle cx="120.3" cy="50.4" r="0.4" fill="#eef2ea"/><circle cx="89.3" cy="82.1" r="0.6" fill="#eef2ea"/><circle cx="89.0" cy="47.3" r="0.7" fill="#dcdccc"/><circle cx="98.5" cy="53.7" r="0.8" fill="#eef2ea"/><circle cx="116.1" cy="69.0" r="0.5" fill="#dcdccc"/><circle cx="139.5" cy="99.8" r="0.3" fill="#dcdccc"/><circle cx="106.9" cy="45.2" r="0.5" fill="#dcdccc"/><circle cx="143.8" cy="54.1" r="0.5" fill="#dcdccc"/><circle cx="128.3" cy="97.3" r="0.4" fill="#dcdccc"/>
</g>
<polyline points="43.6,88.6 90.8,39.4 165.3,54.2" fill="none" stroke="#40c4e8" stroke-width="0.8"/>
<line x1="44.5" y1="64" x2="54.56" y2="69.23" stroke="#111" stroke-width="0.6"/>
<polygon points="57.4,70.7 53.91,70.47 55.27,69.59 55.21,67.98" fill="#111"/>
<line x1="43" y1="112.6" x2="49.12" y2="101.78" stroke="#111" stroke-width="0.6"/>
<polygon points="50.7,99 50.34,102.47 49.52,101.09 47.91,101.09" fill="#111"/>
<line x1="123.4" y1="125.8" x2="114.41" y2="120.19" stroke="#111" stroke-width="0.6"/>
<polygon points="111.7,118.5 115.16,119.01 113.74,119.77 113.67,121.38" fill="#111"/>
</svg></body></html>
